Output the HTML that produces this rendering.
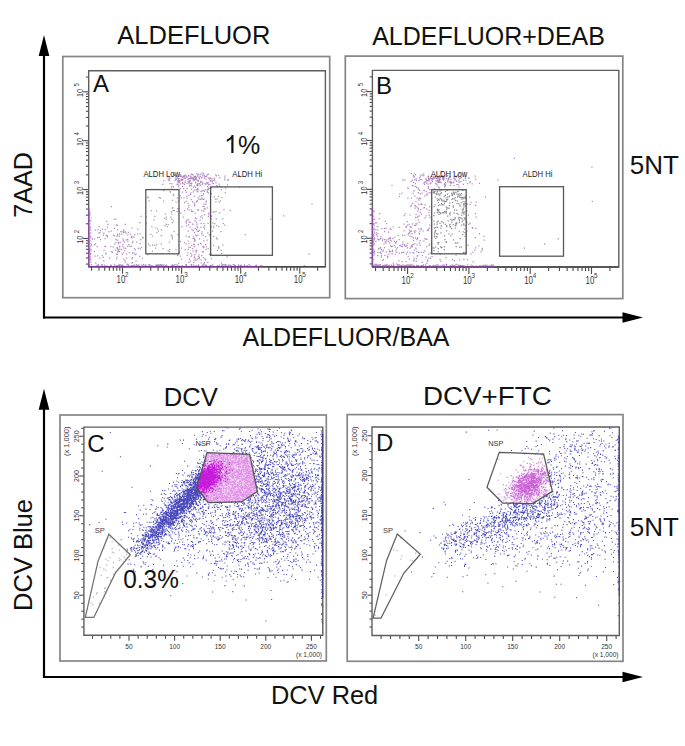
<!DOCTYPE html>
<html><head><meta charset="utf-8"><style>
html,body{margin:0;padding:0;background:#fff;width:685px;height:746px;overflow:hidden}
svg{display:block}
text{font-family:"Liberation Sans",sans-serif}
</style></head><body>
<svg width="685" height="746" viewBox="0 0 685 746">
<defs>
<radialGradient id="gD" cx="0.5" cy="0.5" r="0.5"><stop offset="0" stop-color="#e8a8ee" stop-opacity="0.9"/><stop offset="1" stop-color="#f4d8f6" stop-opacity="0"/></radialGradient>
</defs>
<polygon points="207,452.7 249.7,454.3 257.3,491.5 241.5,501.9 208,502.5 196.6,487.7" fill="#f3d2f5"/>
<ellipse cx="529" cy="485" rx="24" ry="16" transform="rotate(-30 529 485)" fill="url(#gD)"/>
<g><path d="M157.9 231.0h1.2M162.5 248.7h1.2M149.4 245.5h1.2M150.3 234.4h1.2M148.0 243.8h1.2M173.2 195.9h1.2M163.0 190.5h1.2M169.6 191.7h1.2M225.1 188.0h1.2M220.7 189.6h1.2M239.0 187.1h1.2M211.3 187.6h1.2M171.8 208.1h1.2M172.4 210.7h1.2M171.8 222.7h1.2M178.4 208.3h1.2M173.8 210.7h1.2M175.4 249.6h1.2M178.8 211.2h1.2M178.7 252.1h1.2M210.9 226.5h1.2M229.6 210.3h1.2M221.0 253.3h1.2M212.9 227.8h1.2M213.3 226.0h1.2M213.5 211.8h1.2M213.1 236.3h1.2M224.2 225.0h1.2M214.1 223.6h1.2M216.1 225.6h1.2M210.9 193.5h1.2M220.2 231.6h1.2M212.0 231.2h1.2M224.7 192.7h1.2M171.8 238.8h1.2M169.0 249.7h1.2M147.7 197.6h1.2M170.5 235.2h1.2M176.6 211.5h1.2M154.2 245.4h1.2M172.8 194.3h1.2M164.7 214.0h1.2M154.2 216.3h1.2M177.3 234.5h1.2M175.4 202.1h1.2M171.7 237.3h1.2M147.1 197.2h1.2M167.6 224.6h1.2M160.8 244.1h1.2M155.2 227.9h1.2M173.4 231.3h1.2M152.2 236.2h1.2M150.8 210.5h1.2M165.7 217.0h1.2M166.6 226.7h1.2M171.2 214.0h1.2M156.0 210.8h1.2M167.5 250.9h1.2M169.7 192.1h1.2M176.9 208.7h1.2M177.8 201.3h1.2M170.4 217.1h1.2M156.0 244.7h1.2M160.7 229.8h1.2M155.1 248.1h1.2M158.8 197.5h1.2M151.9 251.1h1.2M168.7 242.1h1.2M151.9 245.1h1.2M171.2 219.1h1.2M159.8 198.1h1.2M160.8 235.5h1.2M176.7 198.0h1.2M168.8 251.5h1.2M148.5 200.8h1.2M172.7 220.8h1.2M165.4 219.3h1.2M171.7 200.3h1.2M163.1 201.0h1.2M164.1 218.4h1.2M170.9 211.8h1.2M165.7 224.3h1.2M151.3 226.5h1.2M171.3 235.9h1.2M157.1 229.0h1.2M153.4 219.8h1.2M164.5 225.6h1.2M156.3 232.5h1.2M172.2 207.5h1.2M222.3 245.0h1.2M220.6 250.3h1.2M214.7 199.0h1.2M215.3 201.8h1.2M217.7 196.5h1.2M219.8 200.9h1.2M213.0 245.3h1.2M216.6 239.2h1.2M215.9 237.8h1.2M215.3 211.6h1.2M211.1 216.1h1.2M219.1 212.8h1.2M213.7 196.9h1.2M222.6 223.4h1.2M218.2 226.5h1.2M218.4 247.3h1.2M218.3 248.3h1.2M221.2 197.7h1.2M216.8 250.4h1.2M218.6 201.8h1.2M217.7 246.7h1.2M216.4 199.1h1.2M222.2 218.9h1.2M223.3 209.5h1.2M212.3 222.9h1.2M210.6 254.0h1.2M270.0 219.1h1.2M212.5 212.1h1.2M244.6 234.5h1.2M215.7 219.1h1.2" stroke="#404048" stroke-opacity="0.5" stroke-width="1.25" fill="none"/>
<path d="M93.8 251.7h1.2M139.5 243.7h1.2M103.2 260.5h1.2M113.6 219.4h1.2M116.7 248.6h1.2M105.4 253.1h1.2M94.7 230.1h1.2M124.1 242.2h1.2M134.5 254.5h1.2M105.1 246.7h1.2M133.3 236.9h1.2M110.1 246.7h1.2M117.0 252.2h1.2M131.4 258.6h1.2M96.6 246.6h1.2M127.8 232.4h1.2M141.8 237.3h1.2M140.5 216.4h1.2M112.9 235.2h1.2M133.3 252.8h1.2M90.4 249.6h1.2M115.3 242.7h1.2M125.6 239.9h1.2M95.2 263.0h1.2M116.6 247.4h1.2M147.3 254.9h1.2M131.2 236.0h1.2M132.1 262.7h1.2M101.7 229.1h1.2M97.4 229.6h1.2M94.0 238.9h1.2M127.2 235.2h1.2M130.8 237.3h1.2M106.8 236.8h1.2M97.1 255.8h1.2M122.4 244.7h1.2M123.3 248.2h1.2M115.8 224.9h1.2M139.6 233.8h1.2M116.4 257.0h1.2M116.9 229.6h1.2M99.2 258.1h1.2M120.3 231.6h1.2M140.9 247.6h1.2M119.0 233.8h1.2M119.2 246.4h1.2M125.4 233.2h1.2M122.7 240.9h1.2M127.0 264.1h1.2M127.1 239.5h1.2M104.5 238.5h1.2M123.1 229.9h1.2M90.8 244.9h1.2M122.5 239.1h1.2M96.6 265.1h1.2M116.8 254.3h1.2M126.1 258.2h1.2M110.9 251.6h1.2M90.1 253.5h1.2M103.4 250.4h1.2M129.7 234.0h1.2M98.4 233.1h1.2M129.1 246.2h1.2M94.4 256.0h1.2M102.6 257.4h1.2M99.4 232.7h1.2M118.1 250.4h1.2M127.1 246.3h1.2M99.9 230.6h1.2M114.9 250.1h1.2M145.6 216.8h1.2M112.6 247.2h1.2M124.6 231.8h1.2M114.2 244.2h1.2M106.1 221.3h1.2M131.9 253.1h1.2M108.3 231.5h1.2M118.0 243.6h1.2M99.9 239.7h1.2M140.1 239.5h1.2M130.7 246.3h1.2M134.7 249.8h1.2M116.1 258.8h1.2M126.0 254.0h1.2M133.1 237.2h1.2M135.4 261.0h1.2M123.3 259.0h1.2M116.9 225.3h1.2M111.9 252.0h1.2M105.3 253.9h1.2M101.6 255.6h1.2M124.1 250.6h1.2M113.8 228.4h1.2M115.4 219.2h1.2M136.1 242.1h1.2M115.9 254.0h1.2M131.3 237.8h1.2M121.4 231.8h1.2M110.7 231.2h1.2M116.3 236.3h1.2M131.8 257.7h1.2M124.7 224.3h1.2M131.3 228.2h1.2M142.7 237.9h1.2M131.9 242.8h1.2M119.5 242.4h1.2M106.9 227.2h1.2M104.2 246.3h1.2M117.6 242.4h1.2M137.7 248.3h1.2M123.1 231.0h1.2M118.9 246.9h1.2M122.4 246.6h1.2M118.6 236.1h1.2M127.3 241.4h1.2M98.9 237.3h1.2M110.8 206.6h1.2M98.5 226.6h1.2M145.5 223.5h1.2M115.3 239.5h1.2M113.7 235.9h1.2M91.9 239.1h1.2M122.8 252.6h1.2M107.4 224.4h1.2M137.1 233.9h1.2M132.3 241.3h1.2M104.8 229.6h1.2M125.0 248.4h1.2M106.6 235.5h1.2M139.2 222.7h1.2M131.4 263.2h1.2M121.0 249.7h1.2M117.5 249.1h1.2M93.9 244.9h1.2M94.9 243.9h1.2M121.8 254.0h1.2M128.7 252.5h1.2M128.2 244.7h1.2M134.2 234.7h1.2M103.2 233.1h1.2M109.0 258.0h1.2M118.8 251.6h1.2M97.1 237.7h1.2M103.0 235.1h1.2M116.8 248.8h1.2M124.4 260.6h1.2M117.6 251.2h1.2M119.3 249.2h1.2M105.7 235.1h1.2M137.1 229.0h1.2M117.1 235.1h1.2M116.6 240.2h1.2M133.9 248.5h1.2M139.1 256.3h1.2M139.6 248.9h1.2M124.9 262.3h1.2M117.1 234.1h1.2M121.0 234.3h1.2M141.8 258.0h1.2M123.0 232.7h1.2M198.8 178.7h1.2M194.7 178.5h1.2M201.2 177.8h1.2M204.5 176.5h1.2M191.0 183.8h1.2M193.1 177.2h1.2M197.3 180.8h1.2M175.7 179.5h1.2M183.8 184.3h1.2M171.3 183.7h1.2M194.1 179.7h1.2M204.4 183.7h1.2M181.9 177.1h1.2M184.1 176.7h1.2M207.7 178.1h1.2M187.4 179.3h1.2M171.5 186.3h1.2M179.7 188.6h1.2M179.2 181.9h1.2M179.7 176.5h1.2M203.5 178.1h1.2M195.0 182.2h1.2M186.4 183.4h1.2M178.1 186.7h1.2M177.1 176.8h1.2M172.9 174.1h1.2M218.5 184.2h1.2M189.7 178.9h1.2M202.1 183.7h1.2M206.2 182.9h1.2M188.6 183.1h1.2M201.5 184.7h1.2M201.6 172.9h1.2M197.1 180.0h1.2M224.4 176.1h1.2M198.0 181.1h1.2M190.8 185.9h1.2M203.0 173.6h1.2M218.9 185.9h1.2M207.9 184.9h1.2M187.3 179.5h1.2M182.0 186.5h1.2M181.0 179.0h1.2M184.7 175.2h1.2M199.4 176.0h1.2M205.8 176.5h1.2M162.2 184.4h1.2M193.7 180.0h1.2M178.5 178.5h1.2M203.6 175.5h1.2M206.8 174.9h1.2M183.1 188.6h1.2M187.7 175.9h1.2M180.7 197.5h1.2M199.5 185.1h1.2M171.5 176.5h1.2M178.2 179.1h1.2M184.4 182.5h1.2M211.2 180.9h1.2M227.6 179.6h1.2M194.3 179.5h1.2M176.8 184.1h1.2M195.0 176.3h1.2M181.8 183.6h1.2M200.4 191.6h1.2M178.4 182.3h1.2M188.8 180.7h1.2M193.8 176.5h1.2M201.3 190.8h1.2M192.9 180.5h1.2M211.7 182.8h1.2M195.7 179.7h1.2M168.6 180.7h1.2M206.9 186.7h1.2M189.9 176.1h1.2M184.6 181.2h1.2M215.1 174.9h1.2M180.1 174.8h1.2M195.0 176.8h1.2M184.0 175.5h1.2M212.9 183.5h1.2M188.9 185.3h1.2M197.3 185.3h1.2M174.5 180.1h1.2M214.1 179.2h1.2M179.0 180.5h1.2M206.7 183.1h1.2M209.6 181.1h1.2M211.3 178.9h1.2M219.4 177.5h1.2M177.6 182.6h1.2M199.6 176.5h1.2M195.9 177.3h1.2M199.9 182.5h1.2M209.4 180.9h1.2M195.5 178.6h1.2M182.6 176.3h1.2M192.6 174.9h1.2M215.5 182.9h1.2M177.5 180.3h1.2M195.1 182.9h1.2M180.3 175.5h1.2M209.5 177.7h1.2M170.9 187.5h1.2M189.2 178.3h1.2M192.3 177.6h1.2M195.6 178.1h1.2M227.1 180.4h1.2M215.8 175.9h1.2M179.6 183.9h1.2M224.2 177.9h1.2M177.3 181.3h1.2M167.8 180.0h1.2M173.0 186.9h1.2M196.8 183.8h1.2M201.5 177.2h1.2M200.1 174.0h1.2M190.3 192.8h1.2M203.9 175.6h1.2M188.6 182.1h1.2M206.6 189.4h1.2M201.9 182.1h1.2M177.6 178.6h1.2M214.2 180.8h1.2M197.0 183.8h1.2M204.2 176.8h1.2M211.7 181.2h1.2M180.4 179.8h1.2M192.8 178.9h1.2M182.5 176.5h1.2M180.8 180.2h1.2M197.7 189.6h1.2M198.8 183.6h1.2M212.6 180.3h1.2M213.4 178.1h1.2M193.7 177.2h1.2M182.3 179.7h1.2M238.8 175.9h1.2M224.1 179.6h1.2M192.5 178.8h1.2M181.0 176.5h1.2M188.1 181.6h1.2M197.9 180.7h1.2M209.8 180.7h1.2M207.6 182.5h1.2M200.1 181.4h1.2M190.5 174.2h1.2M196.4 173.4h1.2M189.7 180.8h1.2M195.0 187.4h1.2M192.6 187.2h1.2M201.4 182.2h1.2M167.6 178.2h1.2M189.2 181.2h1.2M189.9 183.4h1.2M178.2 181.3h1.2M191.6 179.1h1.2M179.3 174.6h1.2M184.7 175.2h1.2M189.9 183.3h1.2M190.5 176.8h1.2M186.0 176.2h1.2M209.4 184.4h1.2M196.8 185.5h1.2M198.5 183.6h1.2M197.3 176.2h1.2M184.6 178.5h1.2M181.6 180.3h1.2M205.8 182.9h1.2M189.1 185.9h1.2M169.2 177.8h1.2M163.2 180.6h1.2M197.1 188.6h1.2M183.7 176.1h1.2M193.1 180.4h1.2M186.3 177.3h1.2M188.3 183.2h1.2M191.6 174.5h1.2M176.5 184.4h1.2M193.7 177.9h1.2M207.8 174.1h1.2M203.7 175.4h1.2M175.2 178.1h1.2M175.3 179.1h1.2M190.5 176.8h1.2M206.0 176.4h1.2M198.5 177.7h1.2M169.4 183.7h1.2M194.8 179.2h1.2M205.3 179.0h1.2M187.7 181.6h1.2M184.9 178.2h1.2M210.4 178.6h1.2M226.9 184.9h1.2M176.1 178.2h1.2M189.5 185.2h1.2M202.0 175.0h1.2M169.0 179.1h1.2M201.9 175.2h1.2M198.0 174.3h1.2M188.1 175.8h1.2M182.3 183.3h1.2M186.6 188.4h1.2M189.8 177.8h1.2M176.2 176.2h1.2M216.1 186.1h1.2M178.5 178.6h1.2M188.0 175.7h1.2M184.7 178.5h1.2M188.2 178.6h1.2M195.3 177.0h1.2M183.4 178.0h1.2M190.7 178.0h1.2M218.1 175.5h1.2M208.8 178.9h1.2M190.0 178.6h1.2M206.7 174.8h1.2M183.2 175.8h1.2M197.2 174.9h1.2M174.0 175.4h1.2M178.0 185.0h1.2M181.9 182.3h1.2M197.2 180.6h1.2M205.9 246.9h1.2M187.7 219.7h1.2M205.5 201.8h1.2M186.3 220.4h1.2M210.1 255.5h1.2M210.9 258.5h1.2M197.2 191.8h1.2M191.0 189.0h1.2M203.6 206.7h1.2M191.2 183.1h1.2M207.2 262.4h1.2M203.1 246.5h1.2M186.9 208.9h1.2M205.2 184.6h1.2M192.9 236.8h1.2M193.1 244.2h1.2M191.2 254.8h1.2M194.3 254.4h1.2M200.5 243.9h1.2M204.0 228.8h1.2M204.0 214.7h1.2M192.1 248.5h1.2M207.2 232.8h1.2M188.9 259.2h1.2M193.6 246.5h1.2M183.9 202.6h1.2M207.8 192.9h1.2M198.3 183.7h1.2M197.0 189.4h1.2M194.5 213.1h1.2M205.0 259.8h1.2M190.7 210.0h1.2M199.7 185.5h1.2M194.3 220.5h1.2M189.5 227.2h1.2M185.6 236.0h1.2M203.9 191.3h1.2M196.5 226.1h1.2M188.2 207.0h1.2M187.4 203.3h1.2M196.1 185.2h1.2M185.7 223.1h1.2M216.9 186.8h1.2M193.9 190.2h1.2M194.0 232.5h1.2M194.9 235.1h1.2M177.6 254.6h1.2M181.2 259.0h1.2M192.2 224.0h1.2M195.6 251.3h1.2M183.4 197.9h1.2M200.4 259.9h1.2M208.8 188.4h1.2M207.6 248.5h1.2M193.6 196.3h1.2M220.3 186.6h1.2M197.1 227.5h1.2M176.9 255.4h1.2M195.9 201.9h1.2M204.6 208.9h1.2M196.5 201.9h1.2M192.8 191.8h1.2M201.5 197.8h1.2M203.2 247.6h1.2M185.5 201.3h1.2M198.9 238.8h1.2M199.5 220.2h1.2M206.8 192.2h1.2M208.0 213.2h1.2M205.7 201.1h1.2M188.2 247.0h1.2M203.2 257.5h1.2M206.6 240.1h1.2M196.2 224.2h1.2M203.3 263.8h1.2M203.5 199.0h1.2M207.7 189.7h1.2M196.6 200.7h1.2M200.6 223.4h1.2M197.8 244.7h1.2M196.4 191.0h1.2M189.6 261.2h1.2M192.4 224.4h1.2M184.5 249.9h1.2M193.8 241.0h1.2M202.6 190.5h1.2M201.9 251.6h1.2M203.2 211.1h1.2M194.6 228.4h1.2M209.6 234.7h1.2M191.1 211.7h1.2M203.4 204.1h1.2M199.9 217.0h1.2M188.2 243.7h1.2M188.7 237.2h1.2M203.2 223.7h1.2M196.1 250.6h1.2M198.4 199.0h1.2M226.5 256.8h1.2M201.4 215.9h1.2M196.9 184.8h1.2M203.1 227.4h1.2M189.7 222.2h1.2M194.0 205.6h1.2M200.2 227.4h1.2M187.6 241.1h1.2M195.4 260.7h1.2M193.9 186.0h1.2M196.8 231.2h1.2M178.1 263.0h1.2M194.9 258.8h1.2M201.3 210.9h1.2M185.4 244.2h1.2M182.7 217.0h1.2M196.0 235.8h1.2M192.5 238.6h1.2M202.3 195.0h1.2M186.5 198.2h1.2M185.9 225.8h1.2M199.1 196.2h1.2M202.8 251.8h1.2M205.0 236.5h1.2M195.5 189.7h1.2M198.4 254.8h1.2M187.8 249.4h1.2M208.9 254.4h1.2M207.2 183.5h1.2M206.8 191.0h1.2M179.7 195.6h1.2M204.6 190.2h1.2M188.5 236.7h1.2M200.7 262.8h1.2M200.0 243.4h1.2M207.9 188.2h1.2M193.8 257.5h1.2M192.3 211.4h1.2M185.6 221.5h1.2M183.9 242.6h1.2M201.5 231.9h1.2M186.6 255.3h1.2M202.4 199.3h1.2M191.9 201.8h1.2M190.0 194.3h1.2M205.2 204.0h1.2M204.2 225.9h1.2M185.8 192.4h1.2M193.9 256.0h1.2M195.5 250.3h1.2M202.3 246.5h1.2M188.3 262.4h1.2M191.4 229.6h1.2M194.4 240.5h1.2M202.5 206.4h1.2M204.5 259.1h1.2M190.2 253.3h1.2M199.8 199.0h1.2M187.6 231.2h1.2M180.1 213.1h1.2M190.6 199.7h1.2M197.4 235.0h1.2M201.1 255.7h1.2M208.2 214.8h1.2M200.5 199.4h1.2M192.7 230.6h1.2M202.5 235.1h1.2M187.3 252.8h1.2M201.7 218.1h1.2M196.0 229.4h1.2M190.5 256.4h1.2M195.7 222.2h1.2M216.2 185.6h1.2M191.1 245.7h1.2M186.4 196.4h1.2M197.9 231.3h1.2M198.8 257.3h1.2M201.2 233.5h1.2M209.9 254.7h1.2M194.8 218.2h1.2M181.8 192.2h1.2M195.9 218.5h1.2M195.7 252.0h1.2M205.2 204.3h1.2M203.9 262.5h1.2M188.2 195.2h1.2M203.2 240.9h1.2M205.5 249.3h1.2M193.7 202.9h1.2M205.0 244.7h1.2M197.2 259.0h1.2M197.3 210.4h1.2M194.1 204.7h1.2M203.6 208.8h1.2M197.8 256.6h1.2M183.9 210.7h1.2M193.2 262.4h1.2M189.7 247.3h1.2M198.8 230.3h1.2M194.2 239.6h1.2M220.9 263.1h1.2M203.0 193.6h1.2M188.5 209.8h1.2M193.5 260.1h1.2M197.0 191.7h1.2M180.1 256.1h1.2M181.4 226.6h1.2M192.5 251.2h1.2M193.8 238.5h1.2M193.8 244.7h1.2M188.6 222.0h1.2M180.9 248.2h1.2M197.7 209.7h1.2M197.4 197.8h1.2M184.9 190.7h1.2M179.9 241.3h1.2M188.4 205.3h1.2M198.5 258.7h1.2M201.1 195.7h1.2M188.0 224.9h1.2M208.6 234.9h1.2M207.5 223.3h1.2M210.6 218.5h1.2M207.8 216.6h1.2M206.9 207.8h1.2M311.4 203.9h1.2M283.0 215.8h1.2M308.5 254.2h1.2M135.5 253.8h1.2M303.7 265.6h1.2M459.1 259.8h1.2M445.2 257.6h1.2M456.3 264.3h1.2M439.6 254.3h1.2M452.1 259.6h1.2M440.3 261.4h1.2M455.5 255.0h1.2M460.0 265.5h1.2M446.1 264.3h1.2M443.7 178.2h1.2M430.8 178.1h1.2M458.6 178.9h1.2M439.6 179.3h1.2M456.2 181.4h1.2M429.8 177.1h1.2M443.4 178.8h1.2M425.9 180.0h1.2M428.6 179.1h1.2M460.4 181.6h1.2M438.2 181.4h1.2M439.9 177.4h1.2M453.9 178.3h1.2M427.4 180.7h1.2M474.7 176.0h1.2M428.1 178.4h1.2M434.6 178.1h1.2M478.7 183.4h1.2M411.9 185.3h1.2M471.6 183.9h1.2M448.0 178.0h1.2M450.2 182.3h1.2M423.3 183.1h1.2M444.2 176.1h1.2M419.6 179.7h1.2M458.4 187.1h1.2M437.0 180.4h1.2M430.0 183.1h1.2M432.8 177.8h1.2M438.4 182.3h1.2M457.8 176.0h1.2M447.3 181.2h1.2M427.9 176.0h1.2M426.0 179.6h1.2M423.2 175.7h1.2M454.5 176.1h1.2M449.1 182.1h1.2M421.8 175.0h1.2M412.9 182.4h1.2M439.7 182.1h1.2M430.8 176.4h1.2M449.7 181.5h1.2M438.5 179.8h1.2M454.4 180.0h1.2M458.4 177.7h1.2M436.8 177.7h1.2M452.7 171.9h1.2M430.7 178.3h1.2M419.8 176.8h1.2M444.2 183.6h1.2M460.9 177.4h1.2M464.6 178.0h1.2M439.2 177.6h1.2M410.8 173.5h1.2M445.8 178.7h1.2M436.6 181.0h1.2M450.8 182.1h1.2M458.5 180.9h1.2M432.7 176.4h1.2M428.0 178.7h1.2M433.4 178.4h1.2M428.4 179.7h1.2M423.1 173.9h1.2M443.7 184.9h1.2M427.4 184.2h1.2M435.1 183.4h1.2M434.3 176.8h1.2M429.5 183.9h1.2M450.2 179.5h1.2M432.0 181.5h1.2M438.4 178.2h1.2M453.4 185.6h1.2M437.3 178.8h1.2M415.0 174.5h1.2M431.7 178.3h1.2M431.6 180.6h1.2M450.4 183.3h1.2M467.9 178.0h1.2M443.0 180.0h1.2M437.4 182.5h1.2M464.4 175.9h1.2M427.8 186.5h1.2M444.7 184.6h1.2M447.7 178.8h1.2M438.7 179.8h1.2M436.4 185.0h1.2M442.6 179.1h1.2M465.3 180.2h1.2M449.2 176.7h1.2M429.5 178.9h1.2M444.4 176.0h1.2M455.9 180.9h1.2M469.7 181.7h1.2M453.2 182.4h1.2M442.8 178.0h1.2M463.0 180.1h1.2M454.6 179.1h1.2M442.0 177.9h1.2M428.3 180.8h1.2M455.6 177.4h1.2M421.4 179.6h1.2M412.5 186.2h1.2M448.2 179.0h1.2M413.5 176.5h1.2M417.5 188.2h1.2M436.0 178.3h1.2M435.4 180.8h1.2M440.3 173.0h1.2M442.1 176.5h1.2M448.2 179.3h1.2M437.5 177.9h1.2M425.3 181.9h1.2M391.4 185.4h1.2M460.2 178.2h1.2M452.4 182.9h1.2M449.6 185.3h1.2M438.7 182.1h1.2M424.1 182.0h1.2M447.1 175.7h1.2M437.8 181.2h1.2M416.0 187.4h1.2M456.3 184.5h1.2M414.8 183.5h1.2M431.6 178.2h1.2M468.6 178.3h1.2M425.2 178.8h1.2M441.8 178.9h1.2M456.7 175.4h1.2M438.8 175.5h1.2M414.9 186.3h1.2M430.4 182.9h1.2M437.8 186.8h1.2M413.3 177.0h1.2M462.8 184.3h1.2M444.0 186.9h1.2M450.6 183.7h1.2M443.1 176.9h1.2M444.9 185.8h1.2M432.4 179.4h1.2M413.6 190.8h1.2M449.8 177.0h1.2M439.0 178.7h1.2M464.9 177.1h1.2M418.8 178.0h1.2M441.1 175.8h1.2M475.2 179.1h1.2M415.7 178.8h1.2M418.2 180.6h1.2M442.1 175.8h1.2M467.0 183.7h1.2M418.2 189.4h1.2M439.3 179.7h1.2M435.1 176.0h1.2M428.8 179.3h1.2M433.9 189.3h1.2M458.9 173.7h1.2M440.5 182.7h1.2M415.8 180.5h1.2M427.6 176.6h1.2M439.7 176.6h1.2M414.3 179.6h1.2M426.3 180.7h1.2M431.1 180.2h1.2M402.3 180.1h1.2M469.4 182.6h1.2M410.5 181.4h1.2M439.0 181.1h1.2M435.0 177.2h1.2M427.7 177.0h1.2M458.4 182.3h1.2M438.9 187.8h1.2M423.7 190.1h1.2M457.7 184.8h1.2M447.2 180.4h1.2M420.3 175.2h1.2M412.0 180.4h1.2M452.9 178.1h1.2M435.5 183.8h1.2M413.1 175.7h1.2M447.2 181.8h1.2M413.5 173.9h1.2M426.1 183.1h1.2M424.0 184.4h1.2M404.2 180.2h1.2M449.6 182.2h1.2M497.4 179.9h1.2M448.8 177.6h1.2M444.9 182.6h1.2M402.2 242.0h1.2M379.7 238.7h1.2M390.7 246.5h1.2M384.0 239.5h1.2M416.6 256.2h1.2M380.8 257.1h1.2M409.5 226.5h1.2M412.8 237.8h1.2M430.0 258.0h1.2M391.9 250.3h1.2M395.4 242.7h1.2M396.0 241.3h1.2M386.7 256.2h1.2M416.7 217.4h1.2M419.3 231.1h1.2M387.3 257.7h1.2M408.5 224.3h1.2M377.3 239.0h1.2M382.0 260.3h1.2M392.2 238.6h1.2M391.6 246.3h1.2M389.2 243.0h1.2M389.8 251.6h1.2M384.5 241.9h1.2M375.6 264.4h1.2M385.4 239.8h1.2M398.4 260.9h1.2M391.8 251.5h1.2M424.1 251.0h1.2M373.1 224.0h1.2M384.8 221.3h1.2M404.0 244.5h1.2M386.3 241.1h1.2M393.8 241.4h1.2M401.7 261.7h1.2M389.8 240.3h1.2M378.6 239.7h1.2M383.8 247.6h1.2M379.4 252.7h1.2M414.9 238.2h1.2M397.5 235.3h1.2M395.1 243.0h1.2M409.4 236.1h1.2M376.8 236.0h1.2M398.7 253.0h1.2M406.3 245.3h1.2M389.8 228.7h1.2M380.8 249.6h1.2M384.3 255.3h1.2M399.6 245.2h1.2M415.5 214.4h1.2M381.3 228.5h1.2M412.9 240.5h1.2M393.7 245.4h1.2M418.5 252.8h1.2M374.1 238.9h1.2M403.8 245.2h1.2M390.5 229.4h1.2M382.3 251.2h1.2M403.2 252.4h1.2M388.0 241.4h1.2M380.9 255.6h1.2M388.2 239.0h1.2M380.2 236.5h1.2M388.1 239.1h1.2M406.6 221.7h1.2M389.9 245.5h1.2M380.3 238.3h1.2M402.0 244.4h1.2M386.0 223.5h1.2M377.4 252.6h1.2M374.0 251.6h1.2M416.2 239.5h1.2M389.6 237.3h1.2M414.1 243.8h1.2M377.2 255.5h1.2M376.1 222.9h1.2M415.6 261.4h1.2M387.5 238.9h1.2M388.4 254.1h1.2M387.9 232.2h1.2M405.6 246.7h1.2M401.9 235.2h1.2M375.8 234.8h1.2M428.3 258.2h1.2M401.4 252.7h1.2M406.9 247.9h1.2M396.1 249.1h1.2M382.1 239.0h1.2M378.7 218.7h1.2M379.1 213.5h1.2M402.9 252.0h1.2M391.7 251.0h1.2M384.0 231.7h1.2M382.5 250.7h1.2M381.9 240.9h1.2M383.4 244.1h1.2M387.1 256.3h1.2M374.7 222.9h1.2M378.1 248.3h1.2M390.6 241.2h1.2M399.2 245.8h1.2M384.0 228.7h1.2M410.8 245.7h1.2M380.2 252.0h1.2M391.5 253.9h1.2M407.5 234.6h1.2M394.6 254.2h1.2M379.8 247.7h1.2M396.2 252.4h1.2M385.4 243.2h1.2M407.0 252.0h1.2M402.0 246.3h1.2M398.6 239.7h1.2M415.8 258.5h1.2M407.2 243.3h1.2M403.4 224.0h1.2M388.6 249.8h1.2M382.9 259.6h1.2M380.5 253.5h1.2M405.8 253.8h1.2M375.9 232.9h1.2M397.0 247.6h1.2M413.9 225.4h1.2M396.3 263.9h1.2M377.2 229.9h1.2M389.4 238.4h1.2M398.6 227.4h1.2M377.3 233.7h1.2M385.5 228.1h1.2M394.2 237.4h1.2M385.7 251.9h1.2M377.7 239.8h1.2M401.0 252.9h1.2M375.3 241.3h1.2M392.7 226.9h1.2M421.8 255.7h1.2M384.1 228.5h1.2M390.0 238.7h1.2M376.8 226.6h1.2M382.6 250.1h1.2M375.2 229.7h1.2M395.2 250.9h1.2M380.1 248.0h1.2M404.5 213.9h1.2M404.4 245.8h1.2M388.7 251.6h1.2M378.3 249.0h1.2M429.0 206.7h1.2M427.7 188.4h1.2M417.9 252.3h1.2M407.1 188.1h1.2M417.7 208.1h1.2M425.5 239.4h1.2M401.5 193.2h1.2M419.8 193.8h1.2M402.0 235.2h1.2M428.7 228.2h1.2M426.5 195.0h1.2M414.7 206.2h1.2M425.7 191.3h1.2M430.7 218.0h1.2M431.5 256.6h1.2M428.5 215.4h1.2M409.6 252.6h1.2M417.7 192.6h1.2M422.9 252.3h1.2M419.0 190.4h1.2M400.8 246.4h1.2M417.0 237.6h1.2M412.1 203.3h1.2M420.5 203.6h1.2M421.7 262.4h1.2M405.4 226.3h1.2M411.6 245.0h1.2M420.0 198.6h1.2M409.0 230.1h1.2M418.2 228.8h1.2M410.8 198.0h1.2M412.0 223.8h1.2M426.5 239.1h1.2M417.2 211.1h1.2M413.4 258.2h1.2M415.5 248.8h1.2M418.1 198.9h1.2M418.6 233.2h1.2M424.2 238.6h1.2M426.3 263.3h1.2M415.0 217.4h1.2M426.1 209.2h1.2M428.7 210.3h1.2M407.7 188.3h1.2M422.4 230.8h1.2M433.4 188.8h1.2M420.7 204.7h1.2M439.5 259.7h1.2M412.3 252.3h1.2M428.1 254.1h1.2M423.4 190.6h1.2M409.0 232.9h1.2M427.8 229.2h1.2M407.0 225.2h1.2M412.6 244.3h1.2M417.7 219.6h1.2M407.6 256.4h1.2M429.3 217.2h1.2M414.5 208.1h1.2M407.3 198.2h1.2M421.0 228.5h1.2M418.5 200.2h1.2M408.7 258.9h1.2M413.6 231.2h1.2M426.8 230.4h1.2M426.1 246.6h1.2M404.2 235.4h1.2M427.5 193.1h1.2M427.6 230.5h1.2M429.2 244.1h1.2M414.3 196.1h1.2M411.7 246.6h1.2M417.8 209.0h1.2M412.8 260.8h1.2M416.4 198.2h1.2M413.3 190.8h1.2M416.1 206.9h1.2M414.2 232.6h1.2M419.1 197.9h1.2M420.2 209.7h1.2M416.4 224.1h1.2M413.8 250.1h1.2M427.2 261.3h1.2M423.2 241.0h1.2M410.7 227.3h1.2M424.5 217.8h1.2M417.3 216.4h1.2M424.2 196.1h1.2M420.8 252.3h1.2M418.9 234.1h1.2M409.5 214.8h1.2M428.5 245.4h1.2M429.2 225.2h1.2M430.9 253.5h1.2M394.9 247.1h1.2M410.1 231.3h1.2M411.2 245.5h1.2M403.6 215.6h1.2M419.7 212.3h1.2M424.5 204.9h1.2M428.3 212.3h1.2M426.8 259.9h1.2M418.6 222.1h1.2M420.7 214.0h1.2M392.7 263.0h1.2M415.4 223.5h1.2M411.4 233.6h1.2M421.3 204.7h1.2M414.3 205.1h1.2M415.2 248.1h1.2M430.7 189.7h1.2M411.1 236.5h1.2M405.5 261.6h1.2M420.2 229.2h1.2M423.9 207.5h1.2M416.9 238.5h1.2M417.9 192.8h1.2M412.5 193.3h1.2M405.8 227.4h1.2M410.9 205.2h1.2M408.1 233.4h1.2M429.0 189.6h1.2M415.4 201.6h1.2M430.7 192.8h1.2M416.5 244.8h1.2M409.4 248.4h1.2M419.5 240.6h1.2M419.6 245.3h1.2M429.9 253.1h1.2M399.2 193.8h1.2M413.8 259.8h1.2M421.4 193.1h1.2M410.8 231.1h1.2M418.8 243.0h1.2M415.1 230.8h1.2M430.8 226.1h1.2M429.3 192.6h1.2M398.9 196.3h1.2M403.6 230.8h1.2M410.5 247.2h1.2M417.1 255.6h1.2M416.3 251.5h1.2M413.1 253.2h1.2M423.3 207.8h1.2M425.7 194.3h1.2M418.7 215.8h1.2M415.1 225.3h1.2M418.2 204.4h1.2M410.2 206.3h1.2M425.4 215.9h1.2M425.4 257.0h1.2M409.4 231.9h1.2M467.4 245.4h1.2M469.6 204.4h1.2M474.1 250.1h1.2M475.2 228.3h1.2M453.9 260.6h1.2M466.9 259.5h1.2M478.9 233.5h1.2M472.1 228.3h1.2M478.3 246.2h1.2M483.7 240.1h1.2M463.3 259.3h1.2M474.8 237.5h1.2M469.1 197.2h1.2M475.2 247.8h1.2M469.4 223.3h1.2M466.4 231.0h1.2M466.4 222.7h1.2M481.4 250.0h1.2M475.0 205.4h1.2M465.0 254.3h1.2M466.3 210.9h1.2M472.6 261.9h1.2M466.9 204.2h1.2M485.0 197.1h1.2M480.4 251.9h1.2M474.7 213.5h1.2M481.8 248.3h1.2M468.1 224.4h1.2M481.6 249.9h1.2M475.5 202.2h1.2M470.4 253.9h1.2M472.3 252.1h1.2M470.5 202.4h1.2M467.9 215.1h1.2M483.5 236.3h1.2M475.6 217.1h1.2M591.3 167.2h1.2M471.7 227.5h1.2M591.7 201.3h1.2M513.8 158.4h1.2" stroke="#8a4aa2" stroke-opacity="0.66" stroke-width="1.25" fill="none"/>
<path d="M161.5 265.9h1.2M212.0 264.8h1.2M104.0 265.2h1.2M260.8 266.2h1.2M176.5 265.0h1.2M150.7 265.6h1.2M209.4 265.7h1.2M162.9 266.1h1.2M186.5 266.1h1.2M179.2 266.1h1.2M217.1 265.5h1.2M166.4 266.1h1.2M97.9 264.6h1.2M248.3 264.6h1.2M239.7 265.7h1.2M156.7 265.5h1.2M203.6 265.2h1.2M206.0 265.7h1.2M201.5 265.9h1.2M217.2 266.2h1.2M110.7 265.7h1.2M136.7 265.7h1.2M196.1 265.6h1.2M233.8 265.3h1.2M210.7 265.3h1.2M120.0 264.9h1.2M130.6 265.6h1.2M203.3 265.1h1.2M233.3 264.5h1.2M185.8 266.1h1.2M164.9 265.5h1.2M117.6 265.6h1.2M106.5 265.8h1.2M142.4 265.0h1.2M212.2 265.2h1.2M118.3 266.2h1.2M163.4 264.9h1.2M255.7 265.1h1.2M230.5 266.1h1.2M243.9 264.9h1.2M190.8 264.7h1.2M222.9 264.8h1.2M176.3 264.8h1.2M157.7 264.9h1.2M221.8 264.5h1.2M185.3 264.6h1.2M145.4 265.6h1.2M198.0 265.7h1.2M255.6 265.7h1.2M102.0 265.3h1.2M155.0 265.3h1.2M193.5 265.9h1.2M246.8 265.6h1.2M158.2 265.8h1.2M122.5 266.0h1.2M119.0 265.5h1.2M169.9 266.1h1.2M148.4 265.4h1.2M97.7 265.9h1.2M132.3 265.6h1.2M255.2 266.1h1.2M160.6 265.6h1.2M161.6 264.8h1.2M128.0 265.6h1.2M156.1 264.9h1.2M185.6 265.9h1.2M121.1 266.2h1.2M190.9 265.9h1.2M234.7 265.3h1.2M165.8 265.2h1.2M123.5 266.0h1.2M148.6 264.7h1.2M255.0 265.7h1.2M192.6 264.9h1.2M233.1 264.7h1.2M241.2 266.0h1.2M185.9 264.7h1.2M205.0 265.0h1.2M159.2 265.3h1.2M149.3 264.9h1.2M171.5 265.9h1.2M156.7 266.2h1.2M185.7 264.6h1.2M259.8 266.0h1.2M227.4 265.2h1.2M244.2 265.6h1.2M134.3 265.3h1.2M144.9 265.2h1.2M255.8 265.2h1.2M155.6 265.8h1.2M185.8 264.9h1.2M95.7 266.1h1.2M243.6 265.9h1.2M224.2 264.8h1.2M225.2 264.5h1.2M110.4 265.1h1.2M113.9 264.9h1.2M160.4 264.7h1.2M241.1 265.8h1.2M101.4 264.6h1.2M100.6 265.1h1.2M219.0 265.0h1.2M224.8 265.8h1.2M177.5 266.1h1.2M172.7 265.4h1.2M118.4 265.2h1.2M120.9 265.1h1.2M114.5 265.4h1.2M133.4 265.0h1.2M238.0 265.7h1.2M190.4 264.6h1.2M195.1 266.0h1.2M259.8 265.9h1.2M145.2 264.9h1.2M174.4 264.5h1.2M230.3 265.7h1.2M198.1 264.8h1.2M138.1 265.2h1.2M121.9 265.1h1.2M151.5 265.4h1.2M144.4 266.0h1.2M110.0 265.1h1.2M144.4 265.8h1.2M131.5 265.5h1.2M232.7 264.7h1.2M117.3 265.7h1.2M177.3 265.9h1.2M221.3 265.3h1.2M141.0 265.2h1.2M121.4 265.8h1.2M195.9 265.7h1.2M159.3 264.9h1.2M173.8 266.0h1.2M104.9 266.0h1.2M260.9 265.8h1.2M126.5 264.9h1.2M221.9 266.1h1.2M259.6 265.8h1.2M143.0 264.6h1.2M261.5 265.9h1.2M148.5 265.4h1.2M171.7 264.5h1.2M171.7 264.8h1.2M148.1 264.9h1.2M136.2 265.6h1.2M118.7 264.7h1.2M229.4 264.9h1.2M135.9 264.7h1.2M157.8 265.4h1.2M156.4 264.8h1.2M202.0 264.9h1.2M116.1 266.0h1.2M233.7 265.9h1.2M113.8 264.9h1.2M201.2 266.1h1.2M240.5 265.1h1.2M138.3 264.8h1.2M137.6 265.6h1.2M228.2 265.5h1.2M205.4 265.4h1.2M116.5 266.1h1.2M120.7 265.1h1.2M249.5 265.5h1.2M237.9 264.9h1.2M181.7 265.7h1.2M225.2 265.7h1.2M157.9 265.1h1.2M90.8 264.5h1.2M138.4 265.1h1.2M128.2 264.8h1.2M406.2 265.9h1.2M385.6 264.8h1.2M416.1 265.3h1.2M480.0 265.8h1.2M459.1 266.1h1.2M483.4 265.1h1.2M394.8 266.4h1.2M421.0 265.8h1.2M487.5 266.4h1.2M387.5 265.6h1.2M412.9 266.2h1.2M461.1 265.8h1.2M408.1 265.6h1.2M475.5 265.8h1.2M486.4 265.1h1.2M381.6 265.5h1.2M399.3 266.2h1.2M437.5 265.0h1.2M462.6 265.6h1.2M411.2 264.9h1.2M412.7 265.3h1.2M395.6 266.3h1.2M476.2 266.3h1.2M482.1 265.8h1.2M390.8 265.0h1.2M428.9 265.5h1.2M397.0 264.7h1.2M408.8 266.2h1.2M417.6 265.7h1.2M449.3 266.1h1.2M384.6 265.3h1.2M485.3 266.0h1.2M466.9 264.8h1.2M378.3 264.8h1.2M374.9 265.8h1.2M453.8 265.7h1.2M443.5 266.1h1.2M432.3 265.8h1.2M451.7 265.1h1.2M462.7 266.2h1.2M460.4 266.1h1.2M486.4 265.4h1.2M422.4 266.2h1.2M422.6 266.1h1.2M398.6 264.8h1.2M375.1 265.0h1.2M480.5 265.8h1.2M410.6 265.3h1.2M421.8 265.6h1.2M459.1 265.3h1.2M406.4 266.0h1.2M409.9 266.1h1.2M443.5 265.8h1.2M457.8 265.4h1.2M459.0 266.3h1.2M422.8 264.9h1.2M442.3 265.0h1.2M376.9 264.8h1.2M472.0 266.1h1.2M408.3 264.9h1.2M377.8 266.0h1.2M413.2 265.9h1.2M391.4 265.9h1.2M399.2 265.3h1.2M484.8 265.3h1.2M457.9 266.0h1.2M425.2 265.1h1.2M450.1 265.4h1.2M443.8 265.2h1.2M405.9 265.3h1.2M434.6 266.2h1.2M408.4 265.5h1.2M375.9 265.6h1.2M488.7 265.9h1.2M436.7 264.8h1.2M397.7 265.2h1.2M438.4 266.1h1.2M453.3 265.4h1.2M402.5 265.0h1.2M424.8 264.8h1.2M382.5 265.5h1.2M406.8 264.9h1.2M429.9 265.9h1.2M483.0 265.5h1.2M492.5 265.7h1.2M412.7 266.2h1.2M409.7 264.9h1.2M376.1 266.0h1.2M373.1 265.5h1.2M445.8 264.8h1.2M479.5 265.9h1.2M432.9 265.3h1.2M450.0 266.0h1.2M426.9 266.3h1.2M393.2 264.7h1.2M492.6 264.8h1.2M491.1 265.7h1.2M417.9 265.7h1.2M404.9 265.5h1.2M451.8 266.1h1.2M409.5 265.9h1.2M472.5 265.8h1.2M404.2 265.4h1.2M403.5 266.0h1.2M400.2 265.9h1.2M386.9 264.9h1.2M435.9 265.0h1.2M478.7 265.8h1.2M413.6 266.0h1.2M378.6 266.2h1.2M383.6 265.1h1.2M440.3 265.9h1.2M401.2 265.4h1.2M390.7 265.2h1.2M388.9 265.3h1.2M400.6 266.1h1.2M385.9 265.5h1.2M490.1 266.0h1.2M379.8 264.7h1.2M482.7 265.8h1.2M463.8 266.2h1.2M395.8 266.4h1.2M445.9 266.0h1.2M414.0 266.3h1.2M420.3 265.7h1.2M417.0 265.8h1.2M464.4 266.3h1.2M393.3 266.0h1.2M461.7 266.3h1.2M397.6 265.7h1.2M434.1 266.4h1.2M490.7 264.8h1.2M434.6 265.7h1.2M379.4 265.3h1.2M411.1 264.8h1.2M441.9 265.1h1.2M392.7 265.8h1.2M455.1 264.8h1.2M462.4 265.5h1.2M470.6 265.2h1.2" stroke="#8040a0" stroke-opacity="0.6" stroke-width="1.25" fill="none"/>
<path d="M89.9 227.5h1.2M89.4 212.2h1.2M89.3 220.8h1.2M89.6 248.2h1.2M89.8 256.4h1.2M89.1 265.3h1.2M90.4 259.5h1.2M89.3 252.4h1.2M89.6 257.9h1.2M89.4 258.7h1.2M90.4 245.8h1.2M90.3 238.6h1.2M89.3 248.6h1.2M90.3 250.8h1.2M89.9 213.9h1.2M89.5 257.1h1.2M90.4 237.1h1.2M90.1 240.9h1.2M89.3 233.9h1.2M90.5 217.7h1.2M90.0 258.6h1.2M90.0 246.0h1.2M89.7 223.8h1.2M89.6 230.0h1.2M89.0 237.0h1.2M90.1 221.0h1.2M89.9 243.3h1.2M90.1 235.8h1.2M89.6 253.4h1.2M90.2 254.5h1.2M89.2 250.8h1.2M90.5 237.2h1.2M90.2 241.0h1.2M89.6 226.6h1.2M90.0 228.1h1.2M89.2 215.4h1.2M89.9 260.3h1.2M90.4 229.9h1.2M90.1 232.5h1.2M90.1 236.3h1.2M90.1 262.4h1.2M89.2 248.1h1.2M89.4 256.0h1.2M90.1 220.1h1.2M89.2 220.5h1.2M373.7 229.1h1.2M373.1 211.1h1.2M373.1 216.0h1.2M373.1 219.3h1.2M374.1 219.0h1.2M373.1 242.7h1.2M373.5 243.8h1.2M373.0 234.7h1.2M373.8 232.5h1.2M374.1 264.1h1.2M373.0 249.5h1.2M373.3 259.3h1.2M373.1 241.4h1.2M373.6 233.3h1.2M372.9 254.9h1.2M373.9 244.1h1.2M373.9 211.4h1.2M373.7 264.7h1.2M373.6 235.5h1.2M373.1 244.0h1.2M373.3 236.1h1.2M373.6 240.0h1.2M373.6 231.0h1.2M373.2 229.3h1.2M373.6 255.2h1.2M373.5 250.8h1.2M374.2 253.6h1.2M373.8 225.4h1.2M373.2 251.3h1.2M373.0 252.5h1.2M373.1 265.5h1.2M374.0 253.4h1.2M374.1 233.0h1.2M373.1 238.5h1.2M373.5 228.2h1.2M373.0 211.5h1.2M373.7 219.6h1.2M373.1 245.1h1.2M373.4 239.8h1.2M373.3 228.9h1.2M373.9 244.1h1.2M373.0 236.1h1.2M373.5 231.1h1.2M373.8 237.6h1.2M373.3 223.7h1.2" stroke="#8040a0" stroke-opacity="0.45" stroke-width="1.25" fill="none"/>
<path d="M436.9 191.0h1.2M464.7 198.7h1.2M453.6 193.0h1.2M447.6 220.9h1.2M449.6 212.8h1.2M454.8 242.9h1.2M459.3 194.0h1.2M453.4 212.8h1.2M457.5 214.3h1.2M433.8 191.5h1.2M438.4 194.5h1.2M464.1 197.6h1.2M460.7 202.9h1.2M446.8 190.3h1.2M445.7 211.1h1.2M437.8 248.6h1.2M436.6 222.0h1.2M447.1 199.3h1.2M436.6 191.5h1.2M458.6 231.2h1.2M452.2 194.1h1.2M444.8 224.4h1.2M461.2 215.4h1.2M439.6 198.3h1.2M437.0 227.4h1.2M439.2 204.8h1.2M461.6 197.3h1.2M437.7 221.0h1.2M435.5 236.3h1.2M453.8 193.3h1.2M454.6 197.5h1.2M441.4 200.8h1.2M446.9 194.0h1.2M446.4 199.7h1.2M453.9 199.1h1.2M462.6 209.9h1.2M464.4 236.3h1.2M438.3 193.8h1.2M444.8 201.5h1.2M452.6 224.7h1.2M462.7 231.9h1.2M438.7 200.0h1.2M433.1 192.6h1.2M455.3 223.6h1.2M457.9 194.3h1.2M433.5 248.2h1.2M433.5 221.1h1.2M457.0 191.5h1.2M450.1 235.8h1.2M441.4 247.3h1.2M451.4 220.4h1.2M444.1 246.5h1.2M457.0 197.0h1.2M461.6 209.8h1.2M433.0 192.0h1.2M456.6 200.9h1.2M457.5 191.4h1.2M441.7 212.9h1.2M455.3 192.3h1.2M442.5 212.3h1.2M451.5 195.1h1.2M457.3 242.9h1.2M462.1 234.5h1.2M461.6 221.6h1.2M437.2 210.4h1.2M455.5 243.2h1.2M451.1 193.7h1.2M457.4 196.4h1.2M459.4 205.2h1.2M436.5 222.7h1.2M455.3 225.6h1.2M439.9 213.7h1.2M445.7 207.2h1.2M435.1 247.2h1.2M463.3 207.1h1.2M451.8 195.6h1.2M454.0 210.0h1.2M446.7 207.8h1.2M443.7 203.0h1.2M440.4 198.9h1.2M440.8 225.9h1.2M445.8 242.4h1.2M459.6 206.0h1.2M437.3 242.6h1.2M462.6 208.6h1.2M433.8 193.1h1.2M464.6 196.1h1.2M459.0 247.1h1.2M458.9 217.6h1.2M458.1 203.5h1.2M456.5 203.7h1.2M462.4 220.4h1.2M437.6 251.9h1.2M456.3 213.4h1.2M434.7 197.1h1.2M444.5 195.3h1.2M451.3 199.3h1.2M449.2 213.4h1.2M434.7 227.7h1.2M456.2 210.2h1.2M449.3 224.4h1.2M464.2 218.3h1.2M448.4 233.8h1.2M454.7 228.0h1.2M445.1 191.4h1.2M453.4 219.9h1.2M436.5 236.9h1.2M436.3 227.1h1.2M437.6 244.0h1.2M455.6 222.3h1.2M439.4 223.3h1.2M439.2 195.5h1.2M453.4 192.4h1.2M443.6 201.3h1.2M452.8 192.1h1.2M438.1 242.6h1.2M436.8 210.6h1.2M449.3 214.8h1.2M440.8 192.7h1.2M438.4 212.0h1.2M434.4 204.9h1.2M463.3 204.9h1.2M451.3 222.0h1.2M454.6 225.6h1.2M462.1 211.9h1.2M463.7 229.1h1.2M454.6 217.7h1.2M464.5 219.7h1.2M449.1 196.0h1.2M446.0 199.8h1.2M438.4 214.3h1.2M446.1 209.1h1.2M463.2 223.8h1.2M436.5 193.1h1.2M462.4 198.3h1.2M451.2 193.4h1.2M436.8 209.2h1.2M436.6 198.9h1.2M434.3 191.5h1.2M441.2 221.7h1.2M460.9 193.6h1.2M436.8 212.6h1.2M433.9 228.2h1.2M449.0 225.2h1.2M443.7 249.5h1.2M444.7 212.0h1.2M434.3 232.1h1.2M447.1 216.2h1.2M445.4 197.9h1.2M464.6 252.3h1.2M463.7 211.9h1.2M445.9 201.3h1.2M462.6 197.4h1.2M451.6 234.2h1.2M438.4 209.5h1.2M464.2 201.8h1.2M445.7 213.2h1.2M448.8 205.5h1.2M440.4 232.8h1.2M448.5 208.4h1.2M440.7 247.5h1.2M440.9 199.9h1.2M444.3 239.7h1.2M462.2 199.1h1.2M453.9 194.7h1.2M445.5 241.5h1.2M443.9 201.2h1.2M446.2 226.5h1.2M437.7 210.9h1.2M461.1 225.1h1.2M444.9 195.0h1.2M448.6 196.7h1.2M436.2 233.7h1.2M462.1 190.4h1.2M449.4 226.8h1.2M464.9 198.5h1.2M436.5 194.6h1.2M441.4 204.9h1.2M452.7 219.4h1.2M446.0 225.5h1.2M458.7 222.4h1.2M452.0 202.4h1.2M460.7 198.9h1.2M458.5 219.5h1.2M433.8 224.1h1.2M463.1 213.2h1.2M437.7 205.6h1.2M444.1 235.9h1.2M450.3 219.3h1.2M461.3 213.2h1.2M442.6 200.0h1.2M434.0 212.9h1.2M436.5 224.4h1.2M458.5 195.5h1.2M439.4 191.1h1.2M454.4 218.9h1.2M454.9 200.7h1.2M463.6 203.6h1.2M465.0 225.8h1.2M440.6 226.0h1.2M445.6 212.4h1.2M440.0 246.9h1.2M443.9 211.4h1.2M439.6 212.5h1.2M465.0 203.7h1.2M433.4 206.5h1.2M460.3 195.0h1.2M455.6 246.6h1.2M451.0 228.6h1.2M440.1 193.6h1.2M443.3 213.0h1.2M463.4 205.5h1.2M459.2 197.1h1.2M436.9 200.6h1.2M447.1 197.0h1.2M463.3 225.1h1.2M434.0 234.8h1.2M450.0 226.7h1.2M456.3 194.0h1.2M441.5 221.3h1.2M462.8 204.1h1.2M452.7 207.2h1.2M460.2 217.8h1.2M455.3 224.3h1.2M440.3 228.2h1.2M437.9 199.3h1.2M452.6 205.9h1.2M443.3 204.8h1.2M435.2 238.3h1.2M434.8 231.0h1.2M458.9 220.7h1.2M456.2 223.5h1.2M460.2 197.4h1.2M433.4 215.6h1.2M452.2 198.7h1.2M437.8 202.7h1.2M461.3 218.8h1.2M452.9 239.8h1.2M434.2 233.1h1.2M460.8 247.2h1.2M441.0 203.7h1.2M463.4 214.1h1.2M443.6 196.6h1.2M457.9 218.1h1.2M449.2 203.0h1.2M448.2 208.1h1.2M442.7 222.8h1.2M464.8 197.8h1.2M447.0 190.0h1.2M441.0 190.2h1.2M435.4 193.8h1.2M433.8 236.8h1.2M432.4 247.8h1.2M446.0 230.9h1.2M435.0 230.3h1.2M433.3 250.7h1.2M441.7 204.6h1.2M432.6 192.3h1.2M459.6 238.7h1.2M464.2 232.7h1.2M465.4 234.0h1.2M463.1 253.2h1.2M465.7 221.7h1.2M462.9 252.3h1.2M462.4 201.7h1.2M465.1 205.9h1.2M463.6 217.8h1.2M437.4 234.1h1.2M523.8 248.1h1.2M557.7 238.8h1.2M544.1 244.0h1.2" stroke="#302c38" stroke-opacity="0.55" stroke-width="1.25" fill="none"/>
<path d="M198.3 489.6h1.05M198.8 486.8h1.05M200.8 491.8h1.05M199.7 486.2h1.05M199.3 484.8h1.05M203.7 492.4h1.05M197.3 486.0h1.05M199.7 485.2h1.05M199.2 485.2h1.05M199.4 487.8h1.05M202.6 490.8h1.05M201.6 487.3h1.05M202.1 490.0h1.05M199.1 490.8h1.05M199.2 485.5h1.05M203.3 495.6h1.05M198.4 485.6h1.05M200.2 486.6h1.05M204.9 490.0h1.05M201.5 489.3h1.05M202.9 491.4h1.05M203.8 489.5h1.05M200.0 487.4h1.05M200.9 489.2h1.05M197.6 484.4h1.05M197.5 486.6h1.05M201.5 490.5h1.05M200.5 490.8h1.05M203.1 488.1h1.05M205.2 490.2h1.05M201.9 493.3h1.05M197.4 486.8h1.05M200.8 487.6h1.05M199.9 486.5h1.05M203.5 488.2h1.05M202.5 491.0h1.05M199.4 485.4h1.05M200.7 489.7h1.05M205.4 495.3h1.05M200.7 488.4h1.05M203.1 487.2h1.05M198.4 487.4h1.05M197.7 486.5h1.05M202.8 489.6h1.05M199.9 488.6h1.05M198.5 482.8h1.05M203.0 491.1h1.05M205.0 491.3h1.05M201.4 492.7h1.05M197.9 488.5h1.05M201.1 489.6h1.05M204.8 491.0h1.05M198.6 488.5h1.05M198.8 489.8h1.05M198.2 484.2h1.05M199.6 485.8h1.05M199.0 487.8h1.05M201.3 486.4h1.05M199.7 484.1h1.05M198.3 489.4h1.05M199.8 486.2h1.05M199.3 489.6h1.05M196.7 487.6h1.05M198.2 485.1h1.05M197.6 485.7h1.05M198.5 487.2h1.05M201.8 492.3h1.05M206.3 484.1h1.05M208.5 501.4h1.05M209.6 497.0h1.05M209.8 489.2h1.05M200.9 484.7h1.05M205.7 491.3h1.05M205.0 491.4h1.05M199.2 481.1h1.05M207.5 500.4h1.05M209.4 501.7h1.05M203.5 491.3h1.05M202.4 493.8h1.05M210.0 490.4h1.05M206.7 485.4h1.05M199.5 488.8h1.05M215.2 493.1h1.05M199.7 486.8h1.05M206.1 488.3h1.05M207.9 491.5h1.05M199.6 483.9h1.05M207.2 489.1h1.05M212.8 495.1h1.05M199.1 487.7h1.05M213.9 492.6h1.05M208.8 497.7h1.05M203.3 479.8h1.05M202.0 493.5h1.05M204.0 482.3h1.05M198.8 486.9h1.05M207.6 486.1h1.05M204.3 487.7h1.05M207.5 485.7h1.05M212.2 488.5h1.05M202.5 477.7h1.05M206.6 497.9h1.05M215.7 492.6h1.05M202.9 486.9h1.05M200.8 487.5h1.05M199.9 487.2h1.05M198.2 485.3h1.05M198.0 488.0h1.05M216.5 498.2h1.05M202.8 488.2h1.05M212.6 492.2h1.05M209.3 501.4h1.05M196.8 487.0h1.05M214.5 497.2h1.05M210.6 495.0h1.05M210.4 494.3h1.05M205.4 496.0h1.05M199.8 483.5h1.05M199.5 481.4h1.05M210.5 496.7h1.05M210.1 498.5h1.05M208.5 502.4h1.05M197.7 485.7h1.05M201.4 487.4h1.05M202.1 492.6h1.05M199.7 486.1h1.05M210.9 460.2h1.05M237.6 487.5h1.05M200.7 477.2h1.05M243.7 454.8h1.05M225.1 461.9h1.05M217.2 502.0h1.05M204.9 483.2h1.05M220.3 464.0h1.05M248.1 467.0h1.05M243.2 495.0h1.05M231.8 458.3h1.05M249.7 471.8h1.05M248.2 473.9h1.05M206.3 490.3h1.05M219.9 474.1h1.05M219.0 455.2h1.05M237.2 478.5h1.05M225.1 458.6h1.05M248.6 477.2h1.05M228.0 493.5h1.05M242.9 492.2h1.05M205.2 463.5h1.05M215.8 457.3h1.05M211.0 483.0h1.05M235.0 457.6h1.05M232.1 475.6h1.05M249.5 480.1h1.05M205.8 470.8h1.05M227.9 479.4h1.05M226.0 480.4h1.05M251.9 466.2h1.05M212.9 467.5h1.05M210.5 473.7h1.05M210.3 461.0h1.05M245.1 458.3h1.05M238.7 477.2h1.05M241.3 487.9h1.05M226.2 488.9h1.05M232.3 473.5h1.05M233.1 478.8h1.05M232.5 466.7h1.05M248.2 472.6h1.05M252.1 474.7h1.05M221.1 479.0h1.05M226.7 459.0h1.05M206.4 487.8h1.05M244.1 461.5h1.05M254.2 486.6h1.05M204.8 479.6h1.05M215.2 497.1h1.05M217.2 496.7h1.05M222.7 481.6h1.05M238.2 478.5h1.05M233.1 488.3h1.05M236.3 496.9h1.05M212.4 474.4h1.05M220.6 492.6h1.05M230.6 483.0h1.05M232.2 464.9h1.05M251.4 481.5h1.05M219.3 484.7h1.05M237.0 486.0h1.05M217.0 494.8h1.05M215.7 494.2h1.05M227.5 481.2h1.05M234.1 487.1h1.05M254.4 483.2h1.05M220.4 494.5h1.05M228.2 484.8h1.05M238.3 478.7h1.05M242.7 467.6h1.05M226.5 459.4h1.05M197.6 486.5h1.05M239.3 494.2h1.05M226.2 483.0h1.05M240.7 477.3h1.05M198.9 486.6h1.05M217.6 471.1h1.05M241.9 501.3h1.05M223.0 459.6h1.05M225.2 458.8h1.05M254.0 485.6h1.05M237.9 465.1h1.05M232.9 462.7h1.05M212.4 478.6h1.05M218.7 501.6h1.05M229.1 500.1h1.05M213.1 500.0h1.05M234.8 497.9h1.05M251.9 472.2h1.05M215.1 491.3h1.05M251.0 466.0h1.05M218.8 477.2h1.05M221.5 499.1h1.05M213.1 479.8h1.05M219.5 491.3h1.05M243.5 459.3h1.05M232.2 478.5h1.05M232.7 466.6h1.05M202.3 489.9h1.05M241.6 495.6h1.05M224.4 475.7h1.05M208.7 461.9h1.05M221.8 477.5h1.05M201.2 477.2h1.05M208.8 472.6h1.05M233.8 481.1h1.05M210.2 476.9h1.05M220.4 484.1h1.05M226.1 469.6h1.05M225.3 490.8h1.05M216.5 498.1h1.05M222.2 490.5h1.05M214.2 473.8h1.05M248.0 493.1h1.05M198.4 488.1h1.05M245.1 486.7h1.05M231.5 487.5h1.05M228.9 492.0h1.05M233.7 462.1h1.05M237.8 458.3h1.05M234.1 455.7h1.05M250.0 464.1h1.05M241.0 482.4h1.05M244.0 462.0h1.05M233.5 473.4h1.05M220.5 491.9h1.05M209.0 491.9h1.05M255.1 487.6h1.05M240.1 494.0h1.05M229.6 489.9h1.05M243.7 465.6h1.05M213.6 477.2h1.05M220.2 491.3h1.05M248.3 471.7h1.05M248.5 467.4h1.05M251.3 492.6h1.05M227.9 470.0h1.05M221.1 483.8h1.05M249.5 482.8h1.05M203.2 489.7h1.05M207.2 470.3h1.05M220.3 494.4h1.05M209.0 477.1h1.05M240.3 474.8h1.05M249.3 494.8h1.05M242.7 454.6h1.05M236.2 457.6h1.05M243.3 462.7h1.05M204.4 471.6h1.05M235.5 499.2h1.05M210.3 481.8h1.05M234.2 491.8h1.05M253.6 482.5h1.05M219.9 477.6h1.05M242.1 462.9h1.05M204.2 479.0h1.05M229.4 501.5h1.05M231.1 455.5h1.05M236.6 477.3h1.05M207.2 463.5h1.05M206.9 489.9h1.05M201.8 476.1h1.05M247.2 489.0h1.05M211.2 491.1h1.05M223.6 463.8h1.05M218.0 483.0h1.05M211.3 456.0h1.05M231.4 488.7h1.05M253.4 475.1h1.05M242.1 467.4h1.05M253.0 471.8h1.05M210.7 457.2h1.05M212.4 472.8h1.05M208.7 492.0h1.05M204.5 484.3h1.05M207.0 499.8h1.05M224.7 474.9h1.05M212.0 487.5h1.05M235.8 462.4h1.05M247.4 496.4h1.05M240.8 461.6h1.05M238.3 497.7h1.05M211.3 474.5h1.05M205.8 492.1h1.05M214.4 470.9h1.05M205.0 468.3h1.05M204.3 482.7h1.05M226.1 470.7h1.05M201.9 483.2h1.05M215.0 475.2h1.05M251.1 486.9h1.05M212.7 495.7h1.05M254.4 490.4h1.05M229.6 479.2h1.05M225.3 485.3h1.05M211.8 502.4h1.05M231.5 484.5h1.05M247.7 472.1h1.05M221.4 477.4h1.05M202.4 470.7h1.05M238.4 466.4h1.05M205.0 484.1h1.05M216.0 497.1h1.05M241.7 475.3h1.05M207.3 456.6h1.05M219.6 493.8h1.05M211.2 483.9h1.05M242.3 465.5h1.05M220.2 487.9h1.05M209.9 502.2h1.05M244.5 460.1h1.05M217.7 491.4h1.05M244.5 463.3h1.05M253.6 473.7h1.05M239.3 491.5h1.05M250.1 471.0h1.05M225.7 464.6h1.05M223.3 479.0h1.05M204.9 473.1h1.05M223.6 455.3h1.05M245.4 485.5h1.05M245.5 470.8h1.05M208.6 491.4h1.05M223.5 455.0h1.05M231.5 468.5h1.05M215.3 498.9h1.05M250.8 492.1h1.05M220.5 482.3h1.05M237.2 478.2h1.05M242.8 494.3h1.05M227.2 467.8h1.05M227.8 472.0h1.05M219.5 482.4h1.05M211.2 483.3h1.05M220.0 500.7h1.05M222.5 468.5h1.05M240.1 463.1h1.05M224.3 473.7h1.05M216.4 482.3h1.05M227.6 472.1h1.05M243.0 467.3h1.05M227.2 460.9h1.05M233.3 491.3h1.05M216.2 501.3h1.05M252.1 483.3h1.05M212.4 484.7h1.05M209.0 461.2h1.05M221.8 484.3h1.05M228.9 476.3h1.05M252.6 494.0h1.05M248.5 468.9h1.05M238.7 454.1h1.05M231.5 457.7h1.05M218.6 475.6h1.05M236.9 492.7h1.05M228.7 480.0h1.05M243.4 470.8h1.05M253.4 475.7h1.05M210.3 482.5h1.05M203.5 464.9h1.05M212.6 458.6h1.05M241.9 474.2h1.05M253.2 486.2h1.05M243.9 489.9h1.05M227.3 467.9h1.05M204.4 477.1h1.05M222.7 458.9h1.05M221.7 495.6h1.05M225.4 493.8h1.05M216.0 476.2h1.05M249.3 494.2h1.05M252.6 483.9h1.05M238.2 490.8h1.05M221.3 457.3h1.05M216.3 470.5h1.05M224.9 488.8h1.05M207.8 465.9h1.05M247.1 478.1h1.05M218.9 496.4h1.05M240.4 493.0h1.05M223.9 471.0h1.05M207.6 486.7h1.05M206.5 470.9h1.05M214.2 473.1h1.05M210.0 465.7h1.05M253.6 490.8h1.05M211.2 481.7h1.05M203.7 494.1h1.05M208.4 480.4h1.05M235.4 479.9h1.05M222.4 461.5h1.05M200.9 484.3h1.05M236.2 492.8h1.05M229.9 459.1h1.05M240.8 472.3h1.05M247.7 473.8h1.05M231.8 477.2h1.05M211.2 480.9h1.05M199.8 484.9h1.05M213.2 461.5h1.05M221.2 484.6h1.05M226.3 480.6h1.05M205.6 478.2h1.05M228.3 501.6h1.05M256.2 488.4h1.05M206.6 491.3h1.05M241.8 496.5h1.05M226.1 473.6h1.05M222.3 499.3h1.05M242.2 486.4h1.05M222.7 460.9h1.05M238.6 483.1h1.05M239.0 470.7h1.05M210.4 467.1h1.05M211.4 465.9h1.05M230.9 488.9h1.05M246.9 455.4h1.05M223.9 488.1h1.05M230.5 494.9h1.05M235.6 471.2h1.05M230.2 479.3h1.05M241.8 489.7h1.05M249.8 479.7h1.05M240.6 464.0h1.05M243.0 467.2h1.05M241.7 460.3h1.05M206.4 484.3h1.05M245.5 498.0h1.05M215.5 481.9h1.05M223.6 497.7h1.05M249.8 477.2h1.05M245.9 458.5h1.05M204.4 482.9h1.05M211.3 495.6h1.05M212.4 486.0h1.05M205.9 497.6h1.05M206.7 469.1h1.05M232.6 477.3h1.05M221.5 497.4h1.05M210.6 465.8h1.05M253.4 479.0h1.05M232.4 464.0h1.05M206.9 470.1h1.05M230.7 469.1h1.05M230.8 492.9h1.05M203.8 480.6h1.05M208.8 495.1h1.05M208.2 482.7h1.05M238.2 467.6h1.05M200.5 487.0h1.05M242.5 466.2h1.05M235.0 481.7h1.05M241.4 456.3h1.05M234.6 455.1h1.05M214.8 487.4h1.05M211.7 502.0h1.05M238.3 488.5h1.05M231.1 474.0h1.05M213.5 475.9h1.05M253.4 488.6h1.05M235.6 485.9h1.05M219.3 464.4h1.05M239.5 498.4h1.05M249.0 495.1h1.05M241.5 475.3h1.05M235.0 475.4h1.05M210.6 499.9h1.05M229.6 496.0h1.05M232.8 472.2h1.05M251.9 490.3h1.05M245.7 479.8h1.05M231.6 454.1h1.05M254.3 487.7h1.05M215.1 502.2h1.05M254.8 492.7h1.05M228.9 500.4h1.05M208.5 464.7h1.05M247.4 497.7h1.05M211.6 500.7h1.05M241.2 470.1h1.05M246.1 488.3h1.05M202.5 480.2h1.05M243.6 456.5h1.05M245.5 480.8h1.05M203.6 484.4h1.05M211.6 467.7h1.05M236.6 479.0h1.05M249.6 484.8h1.05M206.9 480.1h1.05M237.6 477.2h1.05M222.6 497.3h1.05M213.5 459.9h1.05M240.8 459.2h1.05M246.1 495.3h1.05M226.2 455.3h1.05M244.5 460.1h1.05M212.6 468.6h1.05M226.7 471.4h1.05M230.9 499.1h1.05M224.0 472.4h1.05M217.0 498.5h1.05M233.9 475.4h1.05M225.8 490.8h1.05M203.9 465.0h1.05M241.6 494.2h1.05M227.7 465.1h1.05M231.6 487.7h1.05M216.2 461.9h1.05M220.9 468.9h1.05M231.5 481.0h1.05M253.5 487.1h1.05M205.8 466.7h1.05M247.9 473.9h1.05M214.1 485.5h1.05M218.8 456.3h1.05M245.7 483.0h1.05M227.4 497.4h1.05M251.2 474.9h1.05M231.5 462.5h1.05M227.7 459.5h1.05M213.4 492.7h1.05M255.6 484.5h1.05M212.3 458.7h1.05M250.4 484.9h1.05M238.0 474.8h1.05M214.3 497.4h1.05M236.1 459.1h1.05M246.1 477.2h1.05M246.1 498.7h1.05M251.1 462.2h1.05M243.3 462.8h1.05M214.7 481.0h1.05M246.2 495.4h1.05M204.5 496.7h1.05M210.6 501.1h1.05M219.9 468.1h1.05M247.6 466.3h1.05M209.1 480.5h1.05M248.4 475.4h1.05M250.0 490.4h1.05M248.8 485.1h1.05M209.9 499.4h1.05M229.3 494.0h1.05M234.6 456.0h1.05M215.6 489.2h1.05M229.7 471.7h1.05M218.5 485.8h1.05M204.9 484.3h1.05M247.1 458.1h1.05M200.9 491.0h1.05M203.7 468.5h1.05M237.3 485.7h1.05M227.4 469.5h1.05M238.0 472.5h1.05M227.3 493.9h1.05M251.1 485.9h1.05M243.2 465.3h1.05M239.9 480.7h1.05M241.9 490.3h1.05M239.5 478.7h1.05M201.9 489.3h1.05M245.4 457.4h1.05M206.3 474.6h1.05M211.3 453.5h1.05M212.2 455.2h1.05M213.8 500.1h1.05M245.3 468.7h1.05M226.0 477.4h1.05M214.2 469.9h1.05M208.8 468.9h1.05M208.1 455.7h1.05M222.4 475.1h1.05M217.4 487.4h1.05M231.2 485.2h1.05M217.6 465.7h1.05M207.5 468.6h1.05M225.7 453.9h1.05M231.3 476.6h1.05M221.4 464.3h1.05M250.4 491.9h1.05M218.1 458.5h1.05M253.3 472.9h1.05M218.6 458.4h1.05M227.9 482.3h1.05M232.6 485.1h1.05M208.5 490.4h1.05M202.6 478.4h1.05M211.9 477.4h1.05M232.0 486.3h1.05M224.3 491.9h1.05M254.5 479.1h1.05M221.0 489.1h1.05M207.5 480.2h1.05M230.4 497.1h1.05M227.4 494.7h1.05M207.3 495.1h1.05M252.4 483.0h1.05M247.2 475.5h1.05M228.7 487.5h1.05M251.4 474.2h1.05M240.4 493.9h1.05M232.3 457.8h1.05M240.6 454.4h1.05M247.7 471.1h1.05M230.4 466.8h1.05M206.0 465.2h1.05M209.1 486.1h1.05M226.3 456.3h1.05M210.5 493.1h1.05M201.7 487.7h1.05M244.2 477.9h1.05M208.6 474.5h1.05M221.6 496.8h1.05M214.1 459.1h1.05M245.3 477.8h1.05M235.1 477.6h1.05M246.0 496.8h1.05M242.7 461.9h1.05M232.1 491.0h1.05M215.1 454.9h1.05M206.6 474.1h1.05M238.1 469.3h1.05M246.5 457.3h1.05M226.4 497.7h1.05M237.9 498.2h1.05M220.5 491.5h1.05M209.5 453.4h1.05M207.7 482.4h1.05M207.9 473.7h1.05M228.5 462.8h1.05M221.1 472.4h1.05M249.5 471.0h1.05M228.0 494.9h1.05M214.8 464.2h1.05M216.6 494.3h1.05M218.9 482.3h1.05M212.5 482.9h1.05M221.3 458.2h1.05M230.3 472.7h1.05M238.5 463.8h1.05M212.7 495.6h1.05M232.1 457.2h1.05M206.3 478.0h1.05M218.2 497.5h1.05M243.6 486.2h1.05M235.8 486.4h1.05M201.9 478.3h1.05M248.3 461.4h1.05M232.1 491.2h1.05M214.1 495.4h1.05M240.1 491.9h1.05M207.2 499.3h1.05M227.6 455.5h1.05M245.1 486.3h1.05M250.2 459.6h1.05M238.3 476.2h1.05M217.2 500.6h1.05M225.0 497.2h1.05M228.3 491.7h1.05M218.5 464.6h1.05M207.2 500.0h1.05M221.4 485.9h1.05M245.4 455.4h1.05M239.9 466.3h1.05M255.8 486.6h1.05M219.2 473.7h1.05M233.1 456.0h1.05M251.0 485.0h1.05M253.4 479.4h1.05M222.4 462.3h1.05M223.0 499.8h1.05M221.3 455.5h1.05M234.1 493.0h1.05M215.4 482.1h1.05M238.2 501.3h1.05M226.8 476.1h1.05M246.3 469.3h1.05M236.4 499.1h1.05M249.4 458.6h1.05M234.9 460.7h1.05M211.9 475.8h1.05M240.4 499.6h1.05M220.9 480.6h1.05M229.4 466.4h1.05M205.2 492.8h1.05M211.3 490.6h1.05M224.3 466.5h1.05M247.2 469.4h1.05M228.6 479.8h1.05M222.2 475.8h1.05M238.6 484.4h1.05M213.2 494.3h1.05M220.8 472.6h1.05M206.0 465.2h1.05M237.3 489.8h1.05M219.0 471.2h1.05M209.4 483.8h1.05M256.4 490.2h1.05M246.2 477.4h1.05M226.2 500.6h1.05M244.5 462.6h1.05M212.7 494.5h1.05M233.1 467.7h1.05M218.2 465.7h1.05M213.3 459.0h1.05M246.9 477.1h1.05M245.0 466.1h1.05M227.0 473.1h1.05M247.3 497.8h1.05M229.8 489.0h1.05M238.2 483.5h1.05M245.9 461.4h1.05M213.7 465.2h1.05M229.3 475.7h1.05M227.8 477.3h1.05M227.0 482.3h1.05M252.5 482.1h1.05M240.5 489.9h1.05M218.0 476.1h1.05M238.7 463.8h1.05M206.2 483.7h1.05M247.9 486.2h1.05M229.6 497.9h1.05M234.3 486.8h1.05M210.2 463.5h1.05M216.0 495.8h1.05M213.4 486.5h1.05M215.2 460.1h1.05M245.6 490.7h1.05M227.5 455.5h1.05M244.2 464.8h1.05M216.3 496.6h1.05M250.1 488.0h1.05M221.6 494.8h1.05M233.0 455.9h1.05M243.4 461.3h1.05M229.2 481.2h1.05M234.6 457.9h1.05M210.2 467.1h1.05M203.4 483.5h1.05M246.8 462.3h1.05M213.8 470.4h1.05M213.8 457.3h1.05M217.5 478.7h1.05M243.3 469.4h1.05M237.8 464.6h1.05M207.8 497.8h1.05M215.0 472.5h1.05M212.0 467.7h1.05M212.8 469.0h1.05M213.3 499.3h1.05M252.0 469.3h1.05M229.6 476.2h1.05M227.5 483.6h1.05M257.1 490.7h1.05M214.5 453.6h1.05M241.6 458.4h1.05M232.3 498.1h1.05M247.1 457.6h1.05M220.0 483.7h1.05M238.0 498.9h1.05M231.8 485.1h1.05M234.3 458.7h1.05M204.5 486.8h1.05M229.9 460.3h1.05M233.7 501.3h1.05M206.9 477.4h1.05M228.5 463.2h1.05M218.6 489.8h1.05M236.5 494.2h1.05M249.0 477.1h1.05M229.7 463.5h1.05M238.9 455.6h1.05M204.5 486.0h1.05M222.6 495.8h1.05M238.7 492.8h1.05M241.7 469.9h1.05M238.3 462.5h1.05M219.4 488.7h1.05M207.6 489.0h1.05M218.4 477.9h1.05M212.2 468.0h1.05M212.3 481.4h1.05M221.9 458.6h1.05M207.2 491.7h1.05M247.6 496.6h1.05M218.7 473.0h1.05M205.3 460.5h1.05M208.8 466.2h1.05M243.7 475.9h1.05M235.5 470.1h1.05M228.1 455.4h1.05M227.0 483.0h1.05M233.7 493.9h1.05M206.1 491.0h1.05M214.0 460.4h1.05M203.4 475.7h1.05M229.0 501.9h1.05M216.2 465.8h1.05M248.3 455.0h1.05M224.0 473.9h1.05M206.0 490.6h1.05M244.7 463.5h1.05M224.1 495.2h1.05M228.4 459.8h1.05M238.0 466.8h1.05M245.7 471.6h1.05M236.2 470.2h1.05M225.7 499.2h1.05M222.6 459.6h1.05M227.7 478.4h1.05M237.6 498.6h1.05M242.5 499.5h1.05M216.8 491.5h1.05M224.3 469.8h1.05M250.1 471.5h1.05M210.0 484.5h1.05M238.7 486.6h1.05M256.8 490.4h1.05M245.8 486.8h1.05M229.8 469.7h1.05M203.2 488.9h1.05M207.3 459.1h1.05M207.0 478.1h1.05M203.0 473.2h1.05M206.5 481.1h1.05M217.7 494.3h1.05M232.1 455.0h1.05M218.3 491.3h1.05M238.7 470.0h1.05M207.3 482.6h1.05M212.2 480.0h1.05M220.3 491.8h1.05M222.8 458.0h1.05M247.9 490.3h1.05M214.4 481.5h1.05M237.1 464.5h1.05M205.9 478.9h1.05M243.7 488.5h1.05M210.6 462.0h1.05M227.4 476.4h1.05M245.6 461.8h1.05M218.9 461.4h1.05M235.4 477.7h1.05M227.1 456.8h1.05M210.8 471.5h1.05M205.2 474.0h1.05M212.3 475.5h1.05M243.9 459.4h1.05M202.1 485.5h1.05M219.0 475.8h1.05M220.1 497.6h1.05M245.6 485.9h1.05M243.3 456.2h1.05M230.2 497.5h1.05M222.2 463.5h1.05M199.5 482.9h1.05M226.4 495.7h1.05M252.2 467.7h1.05M227.1 463.1h1.05M213.1 497.7h1.05M220.5 455.5h1.05M214.6 488.8h1.05M242.3 479.1h1.05M229.5 468.5h1.05M248.2 456.2h1.05M212.6 493.3h1.05M235.4 463.7h1.05M227.1 460.8h1.05M225.2 479.7h1.05M245.5 492.2h1.05M204.2 484.6h1.05M229.8 494.9h1.05M223.3 454.0h1.05M236.9 475.9h1.05M216.1 488.8h1.05M210.8 492.1h1.05M244.1 481.5h1.05M249.4 480.8h1.05M199.5 486.8h1.05M201.7 474.0h1.05M240.3 473.3h1.05M218.2 483.1h1.05M236.7 486.8h1.05M254.3 478.6h1.05M198.8 490.5h1.05M242.2 496.5h1.05M248.0 497.5h1.05M229.3 472.3h1.05M209.6 461.9h1.05M222.9 473.9h1.05M250.1 495.9h1.05M238.3 460.3h1.05M254.6 487.9h1.05M247.1 470.1h1.05M217.2 501.2h1.05M230.1 499.7h1.05M224.5 454.4h1.05M205.1 485.1h1.05M203.2 466.1h1.05M220.3 465.9h1.05M232.1 476.1h1.05M229.9 467.4h1.05M254.2 488.2h1.05M225.9 477.6h1.05M248.4 481.9h1.05M247.1 497.1h1.05M225.9 470.7h1.05M212.5 480.4h1.05M226.7 471.9h1.05M236.3 471.9h1.05M246.1 472.1h1.05M217.3 487.3h1.05M231.0 463.1h1.05M239.2 470.3h1.05M226.4 497.5h1.05M237.3 461.7h1.05M200.7 491.4h1.05M237.4 473.2h1.05M199.8 490.5h1.05M212.6 487.4h1.05M229.6 454.3h1.05M205.4 497.9h1.05M236.9 496.9h1.05M217.4 494.1h1.05M226.5 478.1h1.05M198.1 483.2h1.05M212.3 482.0h1.05M239.7 480.8h1.05M251.5 474.9h1.05M229.3 482.5h1.05M220.5 457.0h1.05M247.0 461.4h1.05M251.0 464.4h1.05M200.3 476.3h1.05M240.5 471.2h1.05M225.3 473.4h1.05M222.1 486.2h1.05M221.7 484.9h1.05M228.2 498.4h1.05M221.5 499.6h1.05M234.5 482.4h1.05M220.2 465.7h1.05M220.8 463.5h1.05M200.1 485.1h1.05M213.4 479.2h1.05M230.5 497.2h1.05M248.2 466.2h1.05M222.1 496.0h1.05M245.3 492.8h1.05M220.4 483.2h1.05M222.8 477.2h1.05M225.9 487.4h1.05M234.2 498.1h1.05M240.2 481.6h1.05M221.8 486.3h1.05M238.9 460.9h1.05M212.6 454.1h1.05M249.2 489.0h1.05M252.4 473.5h1.05M199.8 490.1h1.05M202.1 494.1h1.05M223.4 456.6h1.05M213.7 454.6h1.05M239.3 458.9h1.05M224.6 496.7h1.05M207.8 499.7h1.05M239.8 464.2h1.05M227.8 479.5h1.05M220.2 493.3h1.05M234.6 456.0h1.05M205.8 477.9h1.05M203.0 486.7h1.05M234.1 461.8h1.05M240.1 486.7h1.05M251.7 465.7h1.05M232.6 495.5h1.05M232.0 499.1h1.05M253.6 483.5h1.05M225.0 484.6h1.05M231.5 501.2h1.05M214.1 455.3h1.05M251.7 491.9h1.05M244.5 462.6h1.05M232.1 474.7h1.05M249.8 455.6h1.05M199.5 478.8h1.05M214.5 494.7h1.05M255.3 482.0h1.05M222.9 488.9h1.05M224.9 460.6h1.05M244.6 460.8h1.05M244.9 477.4h1.05M236.5 474.6h1.05M222.4 456.2h1.05M215.6 485.4h1.05M220.1 490.8h1.05M234.5 468.4h1.05M250.8 470.9h1.05M217.9 477.2h1.05M236.4 494.7h1.05M242.8 460.5h1.05M237.3 462.9h1.05M218.1 483.1h1.05M218.0 482.0h1.05M217.0 469.0h1.05M211.9 490.0h1.05M233.9 473.3h1.05M214.4 499.4h1.05M214.4 498.7h1.05M214.3 473.2h1.05M214.7 480.4h1.05M220.3 488.6h1.05M208.1 459.8h1.05M216.2 483.6h1.05M205.7 485.1h1.05M244.6 487.4h1.05M231.0 488.4h1.05M243.4 465.7h1.05M234.6 486.9h1.05M236.3 471.3h1.05M217.7 478.7h1.05M238.9 466.6h1.05M209.0 479.5h1.05M207.9 496.4h1.05M241.3 454.2h1.05M213.8 468.6h1.05M230.0 471.9h1.05M205.0 464.0h1.05M219.5 472.8h1.05M221.8 460.5h1.05M235.2 460.1h1.05M223.0 457.9h1.05M246.6 488.8h1.05M207.7 501.5h1.05M235.0 472.1h1.05M246.8 494.4h1.05M226.3 472.9h1.05M249.8 463.3h1.05M211.1 454.9h1.05M210.5 500.6h1.05M232.1 460.7h1.05M207.8 498.5h1.05M218.6 459.0h1.05M238.8 496.7h1.05M204.3 496.8h1.05M233.8 469.4h1.05M244.5 491.8h1.05M216.5 487.1h1.05M230.0 472.3h1.05M217.2 455.5h1.05M238.9 474.0h1.05M236.6 485.7h1.05M244.0 484.0h1.05M217.5 470.4h1.05M255.5 484.2h1.05M213.4 495.0h1.05M235.2 455.8h1.05M218.7 484.4h1.05M208.9 464.9h1.05M203.6 489.3h1.05M202.3 491.0h1.05M246.6 458.9h1.05M200.4 483.5h1.05M205.7 461.0h1.05M234.4 483.5h1.05M252.6 471.4h1.05M199.2 483.5h1.05M235.6 477.1h1.05M228.4 486.7h1.05M235.9 456.2h1.05M234.1 480.1h1.05M199.3 485.1h1.05M232.3 470.1h1.05M226.2 488.9h1.05M241.4 488.4h1.05M245.9 478.4h1.05M224.6 478.5h1.05M225.1 465.4h1.05M247.1 491.9h1.05M212.1 466.2h1.05M221.0 493.6h1.05M207.8 454.1h1.05M210.6 479.4h1.05M240.4 466.6h1.05M244.8 474.2h1.05M226.7 453.7h1.05M226.0 484.6h1.05M225.7 455.3h1.05M231.1 501.6h1.05M230.5 475.5h1.05M237.9 494.6h1.05M236.3 464.3h1.05M218.0 500.1h1.05M232.3 473.4h1.05M246.3 463.5h1.05M205.7 478.4h1.05M217.0 488.7h1.05M215.9 499.4h1.05M219.3 494.9h1.05M238.3 483.0h1.05M223.2 457.2h1.05M246.2 465.8h1.05M228.2 484.0h1.05M242.6 463.9h1.05M225.9 475.9h1.05M211.6 497.0h1.05M200.5 490.3h1.05M221.5 479.2h1.05M233.2 495.8h1.05M246.4 473.1h1.05M235.7 500.9h1.05M244.6 488.4h1.05M215.0 456.1h1.05M230.3 489.9h1.05M227.3 499.8h1.05M223.0 491.2h1.05M243.0 496.0h1.05M217.8 453.1h1.05M239.2 492.6h1.05M203.5 470.5h1.05M228.5 500.5h1.05M211.0 482.3h1.05M209.9 500.7h1.05M219.9 495.1h1.05M227.6 460.2h1.05M249.6 459.8h1.05M251.6 485.1h1.05M244.3 473.9h1.05M201.1 492.5h1.05M207.1 499.2h1.05M226.5 501.3h1.05M207.8 473.0h1.05M213.0 491.8h1.05M242.6 496.2h1.05M246.9 498.2h1.05M211.7 492.5h1.05M246.8 484.2h1.05M235.7 471.3h1.05M208.8 481.8h1.05M205.2 475.6h1.05M206.7 492.9h1.05M226.3 496.7h1.05M243.5 462.6h1.05M225.6 488.3h1.05M212.6 471.8h1.05M211.2 481.9h1.05M244.9 491.7h1.05M248.8 488.0h1.05M241.3 471.8h1.05M240.3 467.5h1.05M203.8 465.6h1.05M230.2 470.8h1.05M221.4 475.8h1.05M219.0 473.5h1.05M227.4 473.6h1.05M248.3 488.4h1.05M207.1 484.6h1.05M246.7 497.5h1.05M222.6 485.8h1.05M210.1 498.3h1.05M231.5 490.4h1.05M226.9 455.0h1.05M200.6 490.4h1.05M229.7 484.6h1.05M250.5 473.6h1.05M205.8 465.1h1.05M240.8 492.4h1.05M236.9 484.6h1.05M244.4 495.3h1.05M230.4 465.4h1.05M234.1 494.2h1.05M236.1 479.2h1.05M225.8 496.9h1.05M218.0 464.7h1.05M248.7 462.7h1.05M244.8 492.9h1.05M246.1 466.4h1.05M252.3 481.1h1.05M223.4 474.4h1.05M200.4 484.4h1.05M217.7 477.2h1.05M216.9 474.4h1.05M247.5 466.9h1.05M256.8 489.2h1.05M237.8 455.7h1.05M244.6 492.1h1.05M227.2 476.7h1.05M221.4 484.7h1.05M253.7 481.3h1.05M250.9 490.5h1.05M229.0 454.0h1.05M224.7 453.9h1.05M232.2 481.6h1.05M202.8 492.7h1.05M249.2 473.3h1.05M214.7 497.5h1.05M212.4 483.9h1.05M224.5 470.2h1.05M218.4 460.7h1.05M203.7 494.2h1.05M249.2 496.2h1.05M237.0 471.6h1.05M219.2 477.1h1.05M220.6 476.8h1.05M224.4 458.0h1.05M253.5 477.4h1.05M226.7 457.8h1.05M224.3 475.3h1.05M215.1 489.7h1.05M249.7 458.0h1.05M222.8 460.4h1.05M241.5 469.5h1.05M211.1 487.5h1.05M224.8 457.9h1.05M209.6 485.4h1.05M225.0 478.9h1.05M206.1 478.0h1.05M244.9 477.3h1.05M252.1 473.8h1.05M221.0 476.4h1.05M222.9 493.2h1.05M204.0 466.8h1.05M243.5 479.1h1.05M219.6 492.2h1.05M206.1 491.7h1.05M215.2 470.7h1.05M237.8 495.6h1.05M221.2 473.9h1.05M237.5 475.2h1.05M241.6 479.8h1.05M212.0 472.3h1.05M199.0 485.2h1.05M252.4 493.2h1.05M227.8 464.9h1.05M209.9 490.2h1.05M226.3 470.2h1.05M216.0 496.1h1.05M234.3 455.3h1.05M224.7 481.4h1.05M239.6 501.3h1.05M247.4 494.7h1.05M214.0 476.8h1.05M222.1 495.1h1.05M198.1 482.7h1.05M248.4 472.4h1.05M227.5 481.0h1.05M217.1 486.4h1.05M210.2 480.5h1.05M221.0 462.0h1.05M244.4 485.3h1.05M210.4 480.3h1.05M239.0 455.5h1.05M244.5 471.1h1.05M230.9 465.3h1.05M207.8 479.3h1.05M249.4 466.5h1.05M209.7 456.8h1.05M212.6 474.4h1.05M250.6 481.1h1.05M215.2 462.6h1.05M229.3 472.7h1.05M216.9 502.3h1.05M221.0 459.2h1.05M232.0 475.5h1.05M241.0 462.3h1.05M213.0 475.6h1.05M229.8 462.5h1.05M236.1 472.0h1.05M249.7 470.2h1.05M253.3 489.3h1.05M207.6 492.7h1.05M205.2 488.8h1.05M222.8 478.2h1.05M241.1 478.8h1.05M235.0 487.3h1.05M210.6 467.9h1.05M207.4 474.2h1.05M220.1 479.9h1.05M235.0 484.2h1.05M234.0 484.7h1.05M208.0 469.2h1.05M206.8 489.0h1.05M255.4 483.8h1.05M206.9 468.6h1.05M242.3 468.7h1.05M248.4 456.2h1.05M243.1 475.8h1.05M223.0 466.6h1.05M218.0 501.9h1.05M244.3 494.1h1.05M218.8 497.6h1.05M204.0 480.2h1.05M217.9 467.9h1.05M209.5 501.2h1.05M234.3 495.5h1.05M228.7 497.9h1.05M219.6 478.0h1.05M239.4 500.1h1.05M235.5 465.3h1.05M218.7 497.1h1.05M250.6 465.9h1.05M220.7 472.7h1.05M234.0 489.0h1.05M234.6 497.1h1.05M249.3 478.1h1.05M202.6 482.4h1.05M252.6 483.0h1.05M224.7 498.1h1.05M201.4 489.6h1.05M221.6 454.0h1.05M203.9 492.9h1.05M245.6 464.1h1.05M201.3 480.4h1.05M231.9 471.2h1.05M239.5 474.0h1.05M235.9 477.0h1.05M213.5 464.1h1.05M205.5 484.8h1.05M239.0 489.6h1.05M226.7 455.3h1.05M238.5 501.5h1.05M223.2 457.2h1.05M251.2 466.4h1.05M240.3 487.8h1.05M241.3 458.4h1.05M210.3 454.9h1.05M250.5 467.6h1.05M213.2 483.5h1.05M222.6 495.7h1.05M232.6 454.0h1.05M211.5 460.6h1.05M234.1 453.8h1.05M247.4 491.4h1.05M210.1 470.8h1.05M235.6 454.9h1.05M249.8 474.4h1.05M201.9 492.3h1.05M214.4 470.0h1.05M202.6 483.0h1.05M254.4 492.8h1.05M241.9 494.7h1.05M231.0 462.7h1.05M254.1 485.1h1.05M220.3 485.3h1.05M222.2 465.2h1.05M208.7 500.1h1.05M239.6 498.1h1.05M226.4 470.0h1.05M208.4 475.4h1.05M212.1 469.2h1.05M213.0 456.6h1.05M208.1 471.9h1.05M223.2 499.7h1.05M206.4 496.4h1.05M246.0 491.2h1.05M249.7 476.2h1.05M212.6 490.5h1.05M238.6 469.0h1.05M232.7 488.0h1.05M231.1 468.9h1.05M204.7 473.8h1.05M212.9 494.8h1.05M209.9 460.9h1.05M247.6 489.6h1.05M222.3 470.2h1.05M233.3 456.8h1.05M254.2 492.1h1.05M218.2 454.6h1.05M225.4 483.8h1.05M247.4 490.6h1.05M243.7 479.5h1.05M215.4 455.5h1.05M247.8 494.2h1.05M224.7 480.7h1.05M244.4 496.2h1.05M244.3 478.9h1.05M250.9 484.0h1.05M210.9 489.1h1.05M220.4 476.5h1.05M255.7 485.8h1.05M229.9 463.7h1.05M226.6 463.8h1.05M243.8 461.2h1.05M218.7 502.0h1.05M215.2 478.3h1.05M245.4 491.4h1.05M248.7 455.8h1.05M205.0 495.2h1.05M235.4 483.9h1.05M217.9 455.9h1.05M226.9 455.0h1.05M224.1 500.2h1.05M218.3 482.2h1.05M242.3 490.3h1.05M237.6 499.6h1.05M225.7 482.0h1.05M222.0 473.5h1.05M207.7 490.3h1.05M253.0 489.1h1.05M198.5 489.2h1.05M210.8 500.0h1.05M238.3 485.8h1.05M217.7 468.8h1.05M223.5 467.3h1.05M235.0 493.4h1.05M253.5 488.7h1.05M206.9 492.1h1.05M226.4 454.2h1.05M227.2 469.4h1.05M246.6 461.2h1.05M212.4 492.0h1.05M233.9 497.0h1.05M246.9 459.9h1.05M249.7 489.4h1.05M220.8 490.8h1.05M199.4 478.5h1.05M214.3 473.5h1.05M210.4 493.8h1.05M203.5 468.9h1.05M213.6 473.6h1.05M221.2 496.6h1.05M220.3 462.0h1.05M236.4 456.6h1.05M210.3 492.4h1.05M222.2 500.5h1.05M242.9 476.4h1.05M212.6 490.4h1.05M247.2 468.3h1.05M241.0 454.2h1.05M215.4 464.4h1.05M241.2 456.8h1.05M215.2 499.1h1.05M241.3 488.8h1.05M224.7 469.2h1.05M241.2 481.0h1.05M214.3 476.2h1.05M227.7 462.1h1.05M245.1 479.7h1.05M204.0 466.2h1.05M222.8 454.3h1.05M214.4 494.7h1.05M228.5 486.4h1.05M250.7 494.9h1.05M236.1 498.7h1.05M233.4 482.1h1.05M245.1 461.9h1.05M222.4 465.9h1.05M238.5 459.6h1.05M222.4 498.2h1.05M209.1 461.0h1.05M202.8 470.2h1.05M220.1 494.9h1.05M199.2 481.3h1.05M230.4 467.5h1.05M216.4 484.1h1.05M246.2 481.3h1.05M239.9 467.7h1.05M242.7 478.2h1.05M231.6 461.3h1.05M209.5 473.7h1.05M239.9 473.3h1.05M226.6 487.8h1.05M242.7 469.9h1.05M237.2 470.2h1.05M225.2 493.6h1.05M249.3 469.3h1.05M214.7 501.1h1.05M229.1 493.4h1.05M200.1 476.5h1.05M210.3 485.8h1.05M232.8 460.2h1.05M224.5 485.4h1.05M226.2 501.5h1.05M201.8 478.3h1.05M223.2 477.2h1.05M249.9 464.6h1.05M214.5 489.7h1.05M222.9 487.4h1.05M201.6 490.4h1.05M230.2 491.4h1.05M215.7 455.4h1.05M238.2 482.7h1.05M214.2 461.4h1.05M206.2 458.3h1.05M201.1 472.4h1.05M221.8 493.5h1.05M234.9 494.3h1.05M235.9 458.9h1.05M248.8 494.7h1.05M208.0 467.1h1.05M220.5 496.9h1.05M217.1 456.8h1.05M209.8 488.1h1.05M247.1 460.4h1.05M233.9 461.8h1.05M233.8 474.7h1.05M231.0 476.0h1.05M229.4 457.1h1.05M244.5 462.8h1.05M205.4 476.3h1.05M224.9 497.7h1.05M244.8 458.5h1.05M236.9 482.2h1.05M247.9 481.3h1.05M238.5 461.5h1.05M212.5 500.8h1.05M219.7 483.0h1.05M247.4 456.9h1.05M246.1 479.9h1.05M233.5 488.4h1.05M204.0 490.1h1.05M236.8 494.2h1.05M234.8 493.9h1.05M228.1 462.0h1.05M237.2 463.0h1.05M215.6 461.3h1.05M205.2 487.6h1.05M209.3 473.7h1.05M239.6 483.4h1.05M238.8 464.9h1.05M233.2 483.2h1.05M238.1 466.6h1.05M218.9 474.8h1.05M239.5 494.5h1.05M217.3 467.1h1.05M214.2 494.3h1.05M197.8 487.8h1.05M229.7 456.1h1.05M228.5 478.4h1.05M225.3 466.5h1.05M236.3 454.1h1.05M210.1 478.3h1.05M225.3 468.2h1.05M224.0 473.3h1.05M229.7 481.9h1.05M246.1 476.1h1.05M228.1 460.0h1.05M233.2 481.5h1.05M221.0 492.0h1.05M226.3 462.0h1.05M225.0 465.0h1.05M210.9 457.2h1.05M203.4 495.0h1.05M246.3 466.0h1.05M211.4 482.8h1.05M215.3 453.8h1.05M240.5 474.0h1.05M217.9 453.2h1.05M226.2 467.2h1.05M214.6 497.2h1.05M212.8 465.1h1.05M220.3 475.0h1.05M222.7 481.7h1.05M199.2 488.4h1.05M209.4 472.0h1.05M219.9 453.6h1.05M215.1 462.1h1.05M230.0 460.3h1.05M252.0 473.9h1.05M207.6 500.4h1.05M254.1 476.1h1.05M229.9 497.2h1.05M211.3 474.0h1.05M205.4 469.1h1.05M198.9 489.3h1.05M213.6 470.0h1.05M210.0 491.1h1.05M227.8 460.4h1.05M242.6 484.0h1.05M217.0 457.9h1.05M216.6 466.8h1.05M233.9 471.9h1.05M248.0 465.3h1.05M251.8 471.5h1.05M199.8 487.4h1.05M237.5 462.7h1.05M229.9 472.6h1.05M202.1 474.1h1.05M210.2 477.4h1.05M242.3 493.8h1.05M205.5 495.3h1.05M220.4 498.8h1.05M200.6 483.1h1.05M235.9 494.7h1.05M208.2 480.0h1.05M239.3 459.1h1.05M231.7 482.5h1.05M226.4 454.9h1.05M238.5 473.6h1.05M235.0 456.8h1.05M234.7 472.8h1.05M200.6 477.6h1.05M243.9 460.7h1.05M204.2 495.9h1.05M210.6 458.9h1.05M247.2 481.9h1.05M210.6 457.6h1.05M236.4 486.1h1.05M243.1 471.6h1.05M207.5 461.3h1.05M213.1 488.1h1.05M251.0 470.4h1.05M212.3 492.0h1.05M223.0 493.3h1.05M223.0 488.6h1.05M247.2 476.0h1.05M227.0 496.9h1.05M208.3 484.0h1.05M210.2 464.1h1.05M226.3 467.2h1.05M232.1 495.3h1.05M215.8 488.9h1.05M224.4 482.8h1.05M238.5 458.5h1.05M209.5 472.8h1.05M219.7 458.2h1.05M206.9 493.3h1.05M214.6 477.2h1.05M225.5 453.5h1.05M247.2 463.1h1.05M227.7 492.7h1.05M218.3 494.1h1.05M244.3 497.7h1.05M232.5 457.2h1.05M220.4 458.0h1.05M251.2 484.2h1.05M224.2 501.5h1.05M255.3 485.5h1.05M207.0 480.3h1.05M199.8 479.1h1.05M203.1 475.2h1.05M235.1 501.7h1.05M204.9 482.0h1.05M255.9 490.2h1.05M201.9 491.8h1.05M247.0 481.8h1.05M255.2 483.1h1.05M224.7 478.0h1.05M239.6 495.3h1.05M213.7 469.5h1.05M217.6 455.7h1.05M246.5 480.4h1.05M212.8 486.1h1.05M219.7 468.3h1.05M207.6 457.6h1.05M244.6 469.4h1.05M250.9 474.6h1.05M218.8 464.2h1.05M237.2 501.0h1.05M210.1 461.2h1.05M242.1 454.6h1.05M252.7 481.1h1.05M237.6 491.7h1.05M241.2 472.9h1.05M240.6 486.8h1.05M217.1 491.0h1.05M214.7 470.9h1.05M239.9 490.7h1.05M220.7 458.6h1.05M219.4 455.9h1.05M232.6 462.3h1.05M236.9 497.1h1.05M209.3 502.2h1.05M221.5 495.5h1.05M224.9 474.5h1.05M239.1 461.3h1.05M218.1 478.5h1.05M232.0 501.1h1.05M254.4 481.4h1.05M210.8 456.4h1.05M246.2 470.4h1.05M245.5 460.4h1.05M211.7 453.4h1.05M245.4 459.6h1.05M212.4 456.5h1.05M217.6 466.6h1.05M221.6 473.1h1.05M220.3 463.3h1.05M219.2 480.1h1.05M222.7 476.4h1.05M250.5 477.0h1.05M235.4 491.1h1.05M227.3 459.0h1.05M239.8 473.3h1.05M233.2 469.8h1.05M220.1 489.6h1.05M209.4 500.5h1.05M217.5 475.6h1.05M209.5 485.1h1.05M238.9 474.4h1.05M231.6 491.2h1.05M206.5 482.6h1.05M201.7 490.6h1.05M252.4 478.1h1.05M231.2 454.2h1.05M226.1 500.2h1.05M244.6 467.9h1.05M236.4 492.1h1.05M215.7 477.5h1.05M226.2 482.3h1.05M225.3 476.9h1.05M225.0 460.6h1.05M213.4 487.8h1.05M207.4 494.7h1.05M216.0 486.2h1.05M231.9 499.5h1.05M241.5 499.5h1.05M223.9 478.7h1.05M200.7 478.2h1.05M239.3 481.0h1.05M218.1 477.1h1.05M202.3 489.6h1.05M213.4 487.3h1.05M236.0 492.4h1.05M219.1 485.1h1.05M226.6 474.3h1.05M237.1 486.2h1.05M246.1 459.7h1.05M213.6 484.3h1.05M228.6 488.1h1.05M246.6 487.1h1.05M217.7 494.9h1.05M227.5 462.9h1.05M234.3 456.2h1.05M253.9 493.7h1.05M252.9 487.2h1.05M215.3 457.0h1.05M254.4 480.0h1.05M211.3 453.0h1.05M227.9 489.7h1.05M247.6 480.7h1.05M211.9 453.6h1.05M236.5 489.8h1.05M231.2 470.1h1.05M255.0 483.7h1.05M226.8 480.6h1.05M200.4 488.6h1.05M220.0 478.1h1.05M253.0 483.9h1.05M247.2 489.0h1.05M247.9 479.5h1.05M241.2 473.4h1.05M240.2 457.5h1.05M212.9 499.8h1.05M225.4 478.9h1.05M232.2 500.2h1.05M230.6 490.4h1.05M215.2 474.7h1.05M206.4 455.2h1.05M231.2 492.8h1.05M230.8 464.6h1.05M226.0 464.1h1.05M200.9 486.6h1.05M219.4 453.7h1.05M245.7 469.3h1.05M225.0 491.2h1.05M249.2 489.4h1.05M243.8 465.6h1.05M237.5 456.4h1.05M234.3 499.9h1.05M232.8 487.9h1.05M249.7 492.5h1.05M236.3 491.6h1.05M248.6 455.9h1.05M231.0 461.5h1.05M239.4 463.3h1.05M228.2 500.8h1.05M254.7 492.7h1.05M242.2 457.6h1.05M232.3 462.0h1.05M203.7 482.5h1.05M232.1 461.7h1.05M225.9 478.9h1.05M206.8 496.3h1.05M215.1 485.2h1.05M220.6 490.1h1.05M206.6 495.5h1.05M233.0 476.3h1.05M210.5 483.6h1.05M211.9 502.2h1.05M229.2 463.4h1.05M241.3 498.9h1.05M248.0 472.5h1.05M220.5 466.2h1.05M216.1 460.3h1.05M215.0 502.1h1.05M242.6 496.7h1.05M207.4 469.3h1.05M233.5 457.5h1.05M215.6 471.6h1.05M252.2 475.5h1.05M220.4 501.8h1.05M236.6 485.3h1.05M251.9 481.8h1.05M253.8 480.2h1.05M237.4 461.0h1.05M216.5 461.4h1.05M231.5 501.6h1.05M228.1 479.8h1.05M234.7 462.5h1.05M240.1 489.9h1.05M223.9 496.3h1.05M225.1 499.1h1.05M256.6 491.8h1.05M240.9 476.3h1.05M227.9 483.0h1.05M230.5 481.8h1.05M229.8 490.5h1.05M244.8 494.5h1.05M248.6 472.2h1.05M240.8 472.3h1.05M246.8 472.3h1.05M247.9 468.3h1.05M251.6 478.7h1.05M248.2 475.1h1.05M250.4 471.2h1.05M225.8 481.0h1.05M252.7 478.1h1.05M240.9 495.6h1.05M226.9 465.0h1.05M231.1 484.8h1.05M235.3 498.5h1.05M235.3 471.8h1.05M244.1 488.2h1.05M230.8 492.0h1.05M251.7 493.8h1.05M247.6 477.4h1.05M251.2 465.8h1.05M252.1 493.6h1.05M247.8 484.3h1.05M207.6 465.5h1.05M209.1 497.5h1.05M233.2 493.8h1.05M246.8 492.8h1.05M246.4 483.8h1.05M215.9 455.2h1.05M245.6 459.5h1.05M245.9 475.2h1.05M247.2 493.9h1.05M215.5 460.7h1.05M225.9 495.7h1.05M229.4 473.2h1.05M223.7 472.1h1.05M250.2 479.2h1.05M237.5 472.7h1.05M249.0 481.6h1.05M245.1 473.4h1.05M233.0 488.9h1.05M248.2 489.1h1.05M227.9 463.9h1.05M240.8 470.3h1.05M253.0 479.7h1.05M238.2 500.5h1.05M252.2 484.5h1.05M241.0 488.7h1.05M236.8 462.2h1.05M231.6 484.7h1.05M237.1 471.7h1.05M208.6 481.5h1.05M207.2 463.3h1.05M241.9 461.1h1.05M244.3 491.9h1.05M242.1 479.6h1.05M238.8 496.7h1.05M227.0 463.9h1.05M240.9 483.2h1.05M223.0 464.2h1.05M243.1 487.8h1.05M245.5 467.4h1.05M238.1 491.8h1.05M234.1 463.1h1.05M242.4 460.9h1.05M241.0 457.4h1.05M245.7 495.2h1.05M241.7 495.4h1.05M235.2 481.2h1.05M248.5 478.0h1.05M246.8 465.3h1.05M248.7 478.0h1.05M238.1 464.1h1.05M230.9 468.5h1.05M243.7 473.2h1.05M252.5 470.6h1.05M211.3 472.0h1.05M225.6 482.0h1.05M248.7 494.6h1.05M233.2 455.8h1.05M222.3 481.2h1.05M244.2 496.2h1.05M253.4 481.8h1.05M233.5 497.6h1.05M250.3 470.9h1.05M256.1 491.7h1.05M215.9 485.3h1.05M245.7 458.7h1.05M251.5 478.3h1.05M232.7 474.8h1.05M243.7 460.4h1.05M232.7 484.6h1.05M238.0 472.8h1.05M247.1 455.0h1.05M245.9 481.1h1.05M251.6 477.5h1.05M230.5 472.8h1.05M248.9 462.0h1.05M247.4 463.5h1.05M238.2 471.2h1.05M227.8 470.1h1.05M249.1 473.7h1.05M226.5 485.4h1.05M212.7 463.8h1.05M219.6 495.1h1.05M231.4 474.2h1.05M255.0 490.3h1.05M244.1 463.2h1.05M239.3 490.0h1.05M249.2 478.0h1.05M248.2 475.5h1.05M251.9 471.0h1.05M221.1 488.5h1.05M242.3 499.1h1.05M237.1 498.1h1.05M207.4 466.9h1.05M242.7 500.6h1.05M246.6 465.3h1.05M224.8 481.3h1.05M224.3 501.7h1.05M218.7 471.8h1.05M228.0 494.2h1.05M230.2 470.8h1.05M236.1 472.2h1.05M237.5 462.6h1.05M217.0 492.0h1.05M242.2 494.9h1.05M240.7 459.9h1.05M231.9 485.5h1.05M228.2 494.4h1.05M239.0 481.6h1.05M250.4 483.6h1.05M249.0 471.3h1.05M247.2 490.0h1.05M231.7 471.5h1.05M246.9 484.3h1.05M234.7 460.7h1.05M232.0 492.5h1.05M235.1 492.8h1.05M239.3 473.6h1.05M242.5 499.2h1.05M245.6 468.3h1.05M239.5 500.1h1.05M215.4 501.9h1.05M215.5 498.2h1.05M228.2 483.3h1.05M234.2 487.8h1.05M241.1 485.6h1.05M245.6 457.4h1.05M243.3 479.5h1.05M249.0 456.9h1.05M225.0 465.1h1.05M247.9 474.5h1.05M248.6 472.8h1.05M224.2 501.5h1.05M247.0 482.5h1.05M219.8 469.9h1.05M245.5 473.7h1.05M239.4 490.0h1.05M249.9 463.3h1.05M236.4 476.4h1.05M235.3 499.3h1.05M249.7 491.4h1.05M225.3 453.7h1.05M241.0 492.0h1.05M250.6 483.1h1.05M250.5 487.6h1.05M229.7 484.2h1.05M249.3 473.1h1.05M246.7 488.1h1.05M247.4 491.1h1.05M225.8 478.6h1.05M203.0 492.7h1.05M236.0 453.8h1.05M213.5 498.2h1.05M215.4 467.8h1.05M218.1 489.4h1.05M234.7 486.5h1.05M225.8 458.1h1.05M251.4 471.4h1.05M249.0 494.2h1.05M219.3 457.7h1.05M230.5 492.9h1.05M233.2 477.5h1.05M238.9 469.4h1.05M246.7 482.5h1.05M245.0 483.9h1.05M250.3 485.6h1.05M239.0 476.2h1.05M223.8 501.2h1.05M251.6 477.6h1.05M242.5 498.4h1.05M253.4 477.0h1.05M242.1 487.6h1.05M242.3 500.1h1.05M207.9 478.1h1.05M243.1 499.3h1.05M231.0 464.9h1.05M241.1 484.8h1.05M252.6 473.4h1.05M242.3 480.5h1.05M249.5 487.3h1.05M251.2 476.5h1.05M227.8 497.2h1.05M240.1 476.0h1.05M252.8 474.6h1.05M225.3 501.7h1.05M227.4 460.4h1.05M246.3 455.9h1.05M251.5 467.1h1.05M231.9 463.3h1.05M217.1 459.8h1.05M219.7 501.4h1.05M213.3 457.6h1.05M224.9 469.6h1.05M207.6 495.8h1.05M241.6 474.5h1.05M244.8 482.4h1.05M239.4 472.0h1.05M220.6 473.5h1.05M253.3 483.4h1.05M252.3 493.8h1.05M226.0 498.4h1.05M237.0 499.2h1.05M245.1 488.3h1.05M232.5 478.4h1.05M251.7 485.9h1.05M244.5 466.0h1.05M224.6 477.7h1.05M249.2 492.8h1.05M254.4 488.0h1.05M215.7 486.7h1.05M252.9 478.7h1.05M254.5 487.6h1.05M246.9 454.9h1.05M248.1 477.8h1.05M252.2 487.7h1.05M244.9 497.7h1.05M227.5 466.1h1.05M238.4 489.8h1.05M236.8 496.0h1.05M244.5 487.8h1.05M249.1 493.9h1.05M228.5 498.4h1.05M242.8 491.7h1.05M219.3 491.6h1.05M225.0 459.4h1.05M246.9 464.9h1.05M231.5 493.1h1.05M244.5 468.3h1.05M235.8 465.2h1.05M239.7 490.3h1.05M214.8 471.3h1.05M241.4 494.1h1.05M253.5 479.9h1.05M244.5 480.1h1.05M256.4 487.0h1.05M239.6 490.5h1.05M236.9 485.9h1.05M232.2 486.4h1.05M251.6 484.7h1.05M236.5 466.7h1.05M255.2 483.2h1.05M245.4 493.9h1.05M205.4 476.2h1.05M250.8 489.2h1.05M232.6 468.6h1.05M231.6 461.4h1.05M231.9 476.4h1.05M226.4 492.4h1.05M202.2 491.7h1.05M225.4 500.0h1.05M245.1 498.3h1.05M224.0 497.7h1.05M235.9 495.9h1.05M237.4 495.0h1.05M240.7 491.9h1.05M232.3 487.1h1.05M235.3 500.3h1.05M232.8 453.9h1.05M248.5 485.4h1.05M233.1 494.3h1.05M206.6 498.7h1.05M207.0 493.4h1.05M212.2 469.1h1.05M247.0 497.8h1.05M201.9 491.6h1.05M239.8 501.7h1.05M212.6 498.4h1.05M240.3 485.4h1.05M254.6 480.2h1.05M220.9 486.0h1.05M234.6 489.3h1.05M206.3 489.0h1.05M240.7 487.4h1.05M217.7 490.4h1.05M211.7 484.7h1.05M242.5 496.6h1.05M222.9 493.4h1.05M242.7 488.0h1.05M210.6 456.5h1.05M230.2 454.6h1.05M230.4 454.8h1.05M241.5 454.7h1.05M205.8 458.3h1.05M229.7 459.0h1.05M231.9 454.0h1.05M220.6 455.4h1.05M234.1 456.3h1.05M238.9 458.8h1.05M220.0 460.9h1.05M241.3 454.8h1.05M246.8 496.0h1.05M217.1 501.4h1.05" stroke="#cc50da" stroke-opacity="0.5" stroke-width="1.05" fill="none"/>
<path d="M123.7 557.1h1.2M126.1 554.4h1.2M124.6 559.3h1.2M118.8 550.0h1.2M107.3 577.5h1.2M117.9 545.4h1.2M118.6 560.7h1.2M106.7 577.7h1.2M123.4 561.5h1.2M103.8 596.3h1.2M110.0 580.4h1.2M122.3 564.2h1.2M111.6 541.8h1.2M105.1 559.0h1.2M111.6 548.7h1.2M105.3 570.3h1.2M98.7 603.7h1.2M115.1 571.9h1.2M125.9 551.8h1.2M113.1 552.8h1.2M111.8 552.2h1.2M104.1 588.5h1.2M96.5 592.7h1.2M103.7 595.7h1.2M109.4 537.9h1.2M106.1 564.8h1.2M92.9 597.0h1.2M105.5 593.3h1.2M99.6 567.7h1.2M109.3 557.3h1.2M90.6 603.2h1.2M95.9 593.9h1.2M112.7 567.6h1.2M103.3 548.1h1.2M118.6 558.6h1.2M107.3 560.7h1.2M113.0 562.7h1.2M103.9 591.5h1.2M112.9 574.2h1.2M103.4 569.2h1.2M103.2 569.1h1.2M120.5 559.9h1.2M92.1 604.9h1.2M104.9 587.7h1.2M100.6 575.5h1.2M409.9 560.1h1.2M394.2 575.8h1.2M400.2 559.1h1.2M412.1 560.5h1.2M374.7 615.1h1.2M396.5 550.6h1.2M385.5 594.8h1.2M393.3 549.8h1.2M401.4 556.0h1.2M400.0 537.9h1.2M415.1 553.4h1.2" stroke="#707070" stroke-opacity="0.5" stroke-width="1.25" fill="none"/>
<path d="M172.0 519.2h1.05M192.7 492.7h1.05M168.1 519.3h1.05M155.9 528.9h1.05M180.0 516.6h1.05M183.0 502.0h1.05M193.8 486.1h1.05M189.8 521.5h1.05M156.6 525.0h1.05M159.9 522.9h1.05M163.4 516.9h1.05M185.3 503.4h1.05M148.1 534.2h1.05M166.9 514.5h1.05M137.6 555.4h1.05M175.5 519.8h1.05M145.8 534.2h1.05M142.2 547.7h1.05M188.9 493.2h1.05M168.7 519.5h1.05M141.7 547.0h1.05M188.6 490.2h1.05M193.9 497.7h1.05M194.9 491.1h1.05M179.5 500.0h1.05M172.7 519.5h1.05M144.4 538.0h1.05M149.8 537.5h1.05M176.7 503.2h1.05M188.5 489.8h1.05M176.1 502.3h1.05M184.7 491.0h1.05M183.9 499.7h1.05M190.6 503.7h1.05M150.4 530.7h1.05M171.4 509.8h1.05M172.9 523.0h1.05M171.0 520.1h1.05M161.1 522.9h1.05M190.6 492.8h1.05M172.2 499.2h1.05M160.8 521.5h1.05M178.1 521.1h1.05M146.0 550.5h1.05M136.8 548.1h1.05M157.9 533.4h1.05M159.5 530.5h1.05M159.9 522.8h1.05M160.9 519.8h1.05M196.4 485.7h1.05M173.0 514.3h1.05M156.8 537.8h1.05M149.3 538.6h1.05M188.9 497.0h1.05M154.6 539.6h1.05M173.4 514.2h1.05M194.8 489.6h1.05M139.0 549.6h1.05M185.8 503.9h1.05M156.8 537.0h1.05M155.6 537.0h1.05M188.5 492.5h1.05M148.8 537.0h1.05M183.4 506.6h1.05M182.6 496.5h1.05M189.7 485.0h1.05M177.2 509.3h1.05M143.9 539.6h1.05M175.8 507.5h1.05M142.5 538.4h1.05M171.3 515.3h1.05M192.6 486.1h1.05M156.7 522.2h1.05M161.4 528.2h1.05M189.1 494.8h1.05M169.5 523.6h1.05M171.3 516.6h1.05M161.6 520.2h1.05M188.3 494.1h1.05M176.0 503.6h1.05M176.4 509.5h1.05M193.8 495.2h1.05M170.6 515.4h1.05M197.6 489.4h1.05M191.2 488.5h1.05M191.1 502.4h1.05M192.0 497.4h1.05M199.3 492.5h1.05M170.6 508.3h1.05M162.1 522.8h1.05M157.0 524.5h1.05M164.9 530.9h1.05M165.8 534.3h1.05M160.2 528.7h1.05M186.5 495.7h1.05M194.3 499.0h1.05M183.4 513.2h1.05M144.1 541.3h1.05M186.1 496.1h1.05M196.8 488.6h1.05M146.7 532.3h1.05M187.5 491.7h1.05M162.3 510.4h1.05M146.5 536.3h1.05M186.3 491.5h1.05M146.2 541.1h1.05M189.8 497.6h1.05M189.6 502.4h1.05M160.9 523.8h1.05M178.5 503.0h1.05M142.7 530.5h1.05M171.7 505.8h1.05M175.4 507.8h1.05M180.4 511.6h1.05M133.3 546.9h1.05M185.8 502.3h1.05M185.9 503.8h1.05M166.3 513.5h1.05M183.4 500.9h1.05M176.5 496.2h1.05M179.3 507.1h1.05M144.8 539.1h1.05M168.0 524.9h1.05M143.1 537.7h1.05M151.8 540.0h1.05M169.1 523.5h1.05M176.6 507.6h1.05M187.8 509.6h1.05M150.0 531.5h1.05M178.5 498.5h1.05M158.1 528.2h1.05M192.9 503.5h1.05M167.1 522.3h1.05M190.6 484.5h1.05M146.8 536.5h1.05M187.1 506.3h1.05M149.9 532.0h1.05M160.1 519.9h1.05M164.2 534.2h1.05M175.9 520.6h1.05M130.2 548.6h1.05M172.8 502.1h1.05M192.2 497.1h1.05M181.7 507.0h1.05M160.2 526.2h1.05M156.3 530.9h1.05M150.6 534.1h1.05M172.6 519.3h1.05M169.8 521.9h1.05M167.5 526.8h1.05M186.5 505.1h1.05M177.1 505.7h1.05M177.6 506.0h1.05M164.1 520.6h1.05M197.0 489.6h1.05M131.4 551.3h1.05M158.8 522.6h1.05M171.7 513.1h1.05M186.2 497.1h1.05M168.9 516.7h1.05M190.8 505.1h1.05M199.5 494.6h1.05M196.5 486.4h1.05M190.9 495.7h1.05M165.6 518.9h1.05M176.7 504.2h1.05M181.1 508.2h1.05M171.4 502.6h1.05M166.1 521.3h1.05M177.3 506.7h1.05M173.0 505.2h1.05M192.7 495.8h1.05M195.5 495.9h1.05M136.9 550.8h1.05M186.7 501.5h1.05M167.7 512.5h1.05M173.7 514.7h1.05M184.9 509.8h1.05M181.3 497.2h1.05M189.6 484.8h1.05M170.4 520.8h1.05M158.5 523.6h1.05M189.4 497.3h1.05M158.6 527.1h1.05M189.4 496.0h1.05M185.4 506.2h1.05M166.4 517.5h1.05M164.0 523.0h1.05M157.9 535.2h1.05M169.9 514.9h1.05M150.4 522.2h1.05M141.7 541.0h1.05M179.2 502.7h1.05M173.5 506.6h1.05M190.2 499.1h1.05M164.7 521.6h1.05M172.5 508.2h1.05M155.7 526.6h1.05M164.2 512.5h1.05M167.5 514.9h1.05M195.3 501.7h1.05M167.4 507.6h1.05M184.5 512.8h1.05M181.6 503.6h1.05M181.8 500.1h1.05M178.4 499.3h1.05M179.8 509.6h1.05M156.7 527.1h1.05M196.0 485.1h1.05M167.5 517.7h1.05M183.9 511.1h1.05M187.1 495.3h1.05M174.3 510.3h1.05M179.7 514.2h1.05M166.7 512.5h1.05M163.7 527.2h1.05M183.3 517.3h1.05M161.6 524.0h1.05M179.0 496.2h1.05M158.9 532.8h1.05M147.5 536.5h1.05M146.1 548.2h1.05M156.4 532.7h1.05M195.9 491.2h1.05M166.2 514.0h1.05M193.5 499.2h1.05M152.4 536.5h1.05M175.3 513.2h1.05M176.4 512.2h1.05M178.7 509.9h1.05M195.4 489.7h1.05M176.7 498.9h1.05M158.0 524.5h1.05M173.4 510.4h1.05M185.1 507.6h1.05M193.0 499.4h1.05M193.6 486.1h1.05M147.8 535.4h1.05M182.5 499.6h1.05M181.5 506.4h1.05M168.3 519.6h1.05M195.3 494.2h1.05M159.7 522.5h1.05M170.9 513.2h1.05M163.3 536.0h1.05M187.8 491.0h1.05M177.1 513.9h1.05M179.0 513.1h1.05M171.0 516.1h1.05M152.4 534.3h1.05M180.3 505.1h1.05M180.5 505.5h1.05M183.2 501.4h1.05M175.8 513.2h1.05M150.1 536.2h1.05M190.8 493.5h1.05M177.3 512.8h1.05M159.3 528.6h1.05M174.6 503.8h1.05M160.2 526.1h1.05M186.9 508.1h1.05M170.7 518.3h1.05M194.7 501.0h1.05M174.6 501.4h1.05M179.3 509.4h1.05M173.5 500.8h1.05M188.8 501.1h1.05M161.8 520.7h1.05M159.0 526.5h1.05M144.2 545.4h1.05M166.1 515.2h1.05M158.2 524.0h1.05M196.3 487.2h1.05M147.4 543.9h1.05M196.2 485.0h1.05M177.9 502.5h1.05M195.1 491.1h1.05M172.7 506.0h1.05M176.4 501.2h1.05M165.6 523.8h1.05M177.5 505.4h1.05M196.2 499.3h1.05M193.9 486.3h1.05M176.5 518.8h1.05M190.8 493.1h1.05M170.6 516.9h1.05M152.4 517.4h1.05M179.0 507.4h1.05M154.5 526.9h1.05M200.9 493.3h1.05M172.3 499.2h1.05M178.8 507.6h1.05M163.7 523.8h1.05M160.4 516.7h1.05M150.0 540.4h1.05M186.4 496.3h1.05M197.1 489.7h1.05M173.0 518.9h1.05M163.1 517.8h1.05M174.4 494.2h1.05M176.3 511.9h1.05M183.8 503.7h1.05M184.7 499.8h1.05M185.8 496.2h1.05M188.9 491.5h1.05M162.2 525.0h1.05M185.9 503.8h1.05M185.0 498.4h1.05M189.5 504.7h1.05M159.4 525.9h1.05M157.9 532.9h1.05M164.8 520.9h1.05M190.5 495.9h1.05M181.9 510.8h1.05M187.2 503.6h1.05M176.6 517.6h1.05M150.7 543.6h1.05M140.9 546.8h1.05M165.6 526.2h1.05M154.9 535.6h1.05M145.0 545.5h1.05M177.9 514.2h1.05M154.8 533.2h1.05M196.6 491.2h1.05M171.6 518.9h1.05M155.5 526.1h1.05M183.0 509.3h1.05M171.9 521.5h1.05M148.1 526.8h1.05M173.5 518.4h1.05M196.1 486.4h1.05M194.1 487.7h1.05M193.8 497.1h1.05M173.6 507.9h1.05M179.2 509.2h1.05M152.3 530.9h1.05M165.4 514.1h1.05M175.3 522.7h1.05M161.2 521.1h1.05M192.5 486.6h1.05M168.8 515.9h1.05M189.5 508.4h1.05M159.0 518.1h1.05M146.3 548.0h1.05M148.2 540.4h1.05M163.9 522.8h1.05M162.6 530.9h1.05M187.7 494.2h1.05M160.7 538.1h1.05M167.9 510.4h1.05M158.7 529.6h1.05M184.9 506.9h1.05M165.6 525.7h1.05M161.9 531.2h1.05M189.1 496.3h1.05M172.5 523.6h1.05M187.3 493.8h1.05M180.6 503.8h1.05M171.6 511.0h1.05M165.8 519.6h1.05M151.5 537.3h1.05M180.3 503.9h1.05M148.2 538.2h1.05M182.3 510.0h1.05M200.1 495.7h1.05M160.4 507.5h1.05M172.4 510.8h1.05M168.9 513.9h1.05M135.9 548.4h1.05M157.9 523.9h1.05M162.1 519.4h1.05M187.5 507.5h1.05M179.4 500.9h1.05M174.3 517.4h1.05M188.4 484.9h1.05M159.5 531.2h1.05M195.5 501.8h1.05M189.6 503.2h1.05M186.4 495.5h1.05M196.4 485.1h1.05M158.3 527.1h1.05M172.4 522.8h1.05M175.6 513.8h1.05M192.9 495.2h1.05M187.6 502.5h1.05M171.6 508.8h1.05M156.0 517.9h1.05M182.4 500.9h1.05M171.9 512.1h1.05M155.7 533.4h1.05M188.1 499.0h1.05M188.3 518.5h1.05M190.4 493.7h1.05M178.2 505.2h1.05M195.7 491.4h1.05M183.8 515.4h1.05M195.6 503.2h1.05M180.1 512.3h1.05M194.1 497.6h1.05M161.6 516.1h1.05M157.8 537.9h1.05M196.6 491.7h1.05M180.7 510.4h1.05M140.1 553.9h1.05M183.9 504.2h1.05M132.8 549.1h1.05M179.6 504.4h1.05M190.7 490.1h1.05M197.5 495.4h1.05M177.5 509.6h1.05M172.1 515.7h1.05M185.3 498.9h1.05M184.1 502.3h1.05M173.4 506.7h1.05M157.9 530.3h1.05M194.8 485.3h1.05M175.2 513.8h1.05M187.9 497.5h1.05M181.4 508.5h1.05M161.6 532.6h1.05M135.8 554.9h1.05M183.2 504.9h1.05M159.4 533.4h1.05M165.6 518.4h1.05M192.7 494.0h1.05M177.1 512.8h1.05M152.0 526.8h1.05M182.9 500.1h1.05M157.7 542.8h1.05M180.2 508.5h1.05M193.1 495.2h1.05M181.9 509.1h1.05M142.2 544.6h1.05M147.6 537.5h1.05M175.0 510.5h1.05M195.4 498.3h1.05M200.1 497.1h1.05M180.1 503.8h1.05M195.7 490.7h1.05M163.8 526.6h1.05M164.3 516.1h1.05M190.5 497.2h1.05M178.1 516.0h1.05M168.3 526.4h1.05M195.0 507.4h1.05M175.1 510.4h1.05M177.5 510.2h1.05M161.2 532.1h1.05M183.0 506.5h1.05M151.7 543.5h1.05M166.8 521.2h1.05M170.4 506.6h1.05M148.4 534.6h1.05M186.4 490.5h1.05M188.5 499.8h1.05M198.8 491.9h1.05M152.8 532.1h1.05M183.2 491.7h1.05M160.9 526.7h1.05M163.4 520.0h1.05M171.4 512.0h1.05M155.7 532.0h1.05M157.5 544.9h1.05M192.3 490.0h1.05M184.4 493.6h1.05M186.7 506.2h1.05M181.9 499.2h1.05M184.7 490.4h1.05M164.5 519.7h1.05M182.2 496.8h1.05M147.0 540.0h1.05M176.7 499.7h1.05M162.5 532.3h1.05M166.9 512.6h1.05M159.6 527.1h1.05M189.7 490.9h1.05M151.3 532.4h1.05M162.3 526.6h1.05M169.3 513.9h1.05M189.9 496.0h1.05M150.5 544.1h1.05M180.6 522.3h1.05M148.6 543.9h1.05M174.5 512.6h1.05M167.9 520.6h1.05M165.4 513.8h1.05M192.8 487.0h1.05M138.8 541.6h1.05M196.2 493.0h1.05M186.3 499.7h1.05M187.2 497.3h1.05M154.7 547.4h1.05M139.9 552.7h1.05M198.2 491.3h1.05M174.5 512.7h1.05M189.1 500.7h1.05M142.8 535.0h1.05M186.1 501.3h1.05M185.7 507.5h1.05M173.1 524.3h1.05M176.3 509.2h1.05M186.9 508.7h1.05M187.6 496.8h1.05M193.9 482.7h1.05M189.2 499.4h1.05M153.9 529.3h1.05M175.4 518.9h1.05M173.7 515.8h1.05M178.2 499.4h1.05M165.7 518.5h1.05M176.5 512.9h1.05M183.6 511.4h1.05M148.9 522.3h1.05M192.9 497.0h1.05M165.8 513.0h1.05M178.8 506.5h1.05M151.9 529.8h1.05M152.3 540.8h1.05M154.7 534.6h1.05M186.0 511.9h1.05M161.9 533.3h1.05M178.2 504.0h1.05M193.2 479.4h1.05M186.9 498.3h1.05M190.4 492.7h1.05M166.6 521.0h1.05M172.3 509.9h1.05M190.7 491.8h1.05M183.4 508.1h1.05M147.7 541.0h1.05M185.9 496.4h1.05M136.5 553.5h1.05M171.9 509.3h1.05M157.5 529.7h1.05M179.6 513.1h1.05M161.5 522.4h1.05M174.2 504.0h1.05M194.8 492.7h1.05M171.4 512.9h1.05M193.0 504.8h1.05M158.9 527.3h1.05M187.9 494.5h1.05M160.3 519.1h1.05M133.0 539.9h1.05M160.7 520.9h1.05M173.7 513.3h1.05M188.9 491.6h1.05M179.2 510.5h1.05M172.4 520.0h1.05M158.1 533.1h1.05M185.9 496.3h1.05M165.8 515.9h1.05M194.0 497.6h1.05M176.8 505.6h1.05M192.6 489.7h1.05M155.9 527.5h1.05M152.6 542.8h1.05M183.2 491.3h1.05M168.9 524.9h1.05M169.1 523.2h1.05M176.4 520.3h1.05M149.2 540.8h1.05M191.2 509.4h1.05M180.7 510.7h1.05M196.0 484.8h1.05M168.9 508.7h1.05M180.5 506.3h1.05M189.5 499.9h1.05M196.4 491.9h1.05M168.3 524.9h1.05M200.4 493.1h1.05M156.9 514.4h1.05M157.2 529.5h1.05M177.0 509.5h1.05M175.9 514.4h1.05M174.0 507.5h1.05M176.7 517.3h1.05M189.6 497.2h1.05M161.2 534.0h1.05M188.3 494.0h1.05M180.9 504.8h1.05M194.9 483.0h1.05M189.1 491.3h1.05M177.2 507.3h1.05M171.2 511.9h1.05M193.2 495.1h1.05M175.8 513.5h1.05M177.0 509.5h1.05M180.2 506.3h1.05M134.7 545.3h1.05M194.4 489.1h1.05M163.0 522.3h1.05M157.8 524.3h1.05M155.7 535.9h1.05M159.5 530.7h1.05M183.2 497.9h1.05M182.5 500.9h1.05M175.2 510.7h1.05M182.3 504.5h1.05M172.0 523.8h1.05M149.7 535.7h1.05M159.8 522.8h1.05M176.7 511.8h1.05M198.1 491.9h1.05M181.2 498.7h1.05M150.3 534.5h1.05M185.1 502.3h1.05M159.7 527.8h1.05M194.0 482.1h1.05M194.6 493.8h1.05M190.3 504.7h1.05M195.7 494.0h1.05M177.0 502.5h1.05M175.2 504.6h1.05M181.3 504.4h1.05M187.1 493.9h1.05M179.4 501.8h1.05M175.4 500.2h1.05M156.6 532.4h1.05M172.4 518.9h1.05M180.3 505.1h1.05M186.7 502.9h1.05M185.8 500.7h1.05M190.3 505.8h1.05M185.3 499.8h1.05M138.8 547.5h1.05M179.4 498.9h1.05M181.9 503.6h1.05M154.5 529.2h1.05M157.5 525.5h1.05M173.1 522.3h1.05M158.1 532.9h1.05M154.8 537.9h1.05M190.5 497.2h1.05M161.7 518.7h1.05M181.9 504.2h1.05M161.7 531.0h1.05M177.4 503.2h1.05M180.3 504.5h1.05M165.5 520.5h1.05M159.5 533.2h1.05M151.9 534.7h1.05M157.5 532.9h1.05M151.9 532.8h1.05M171.7 515.7h1.05M173.7 504.5h1.05M191.7 491.2h1.05M190.8 498.7h1.05M184.4 504.3h1.05M178.9 509.5h1.05M180.0 506.5h1.05M191.3 500.1h1.05M189.5 500.7h1.05M177.2 509.7h1.05M159.4 517.1h1.05M195.7 509.6h1.05M158.7 522.8h1.05M191.7 504.3h1.05M163.1 522.1h1.05M175.8 518.4h1.05M187.8 493.3h1.05M194.6 491.7h1.05M171.8 512.0h1.05M144.5 547.3h1.05M156.3 536.4h1.05M194.2 493.0h1.05M166.1 506.2h1.05M174.4 512.8h1.05M152.8 527.5h1.05M188.0 508.4h1.05M151.5 532.4h1.05M165.7 507.6h1.05M192.3 493.3h1.05M143.0 535.7h1.05M174.2 504.5h1.05M180.1 509.0h1.05M186.4 489.7h1.05M153.6 540.7h1.05M152.0 534.6h1.05M144.2 547.4h1.05M191.7 493.1h1.05M199.9 499.2h1.05M185.0 500.0h1.05M142.3 543.9h1.05M169.2 525.1h1.05M166.2 511.1h1.05M141.7 535.1h1.05M172.9 516.8h1.05M133.9 548.3h1.05M194.7 485.0h1.05M165.3 524.1h1.05M187.2 483.0h1.05M193.6 492.9h1.05M191.2 491.3h1.05M144.8 535.0h1.05M147.4 543.9h1.05M161.8 528.1h1.05M181.4 513.4h1.05M153.0 530.0h1.05M178.4 501.6h1.05M185.5 516.8h1.05M196.9 494.3h1.05M192.2 498.2h1.05M179.1 501.2h1.05M163.9 519.4h1.05M167.8 523.4h1.05M184.4 482.3h1.05M187.3 490.1h1.05M153.0 535.1h1.05M158.5 515.4h1.05M184.2 506.0h1.05M170.2 514.2h1.05M187.6 486.9h1.05M190.6 494.8h1.05M191.7 493.8h1.05M189.0 495.9h1.05M165.8 523.7h1.05M176.3 499.2h1.05M164.6 517.7h1.05M177.0 511.7h1.05M192.6 494.3h1.05M184.6 502.3h1.05M183.2 520.5h1.05M193.4 489.2h1.05M181.0 500.6h1.05M170.9 518.8h1.05M164.3 520.1h1.05M149.2 542.7h1.05M177.9 506.5h1.05M188.5 508.2h1.05M193.8 487.3h1.05M179.1 504.9h1.05M154.3 537.4h1.05M193.6 492.4h1.05M194.4 497.1h1.05M198.7 491.8h1.05M167.4 524.3h1.05M179.8 498.1h1.05M169.0 522.8h1.05M182.0 504.4h1.05M159.9 528.5h1.05M174.9 505.9h1.05M140.9 549.0h1.05M186.5 504.9h1.05M189.4 499.1h1.05M171.1 518.6h1.05M188.0 499.3h1.05M171.3 513.9h1.05M171.6 518.1h1.05M170.5 514.9h1.05M155.1 530.9h1.05M189.2 500.1h1.05M175.8 517.0h1.05M189.4 508.2h1.05M163.0 531.0h1.05M179.6 507.5h1.05M162.2 519.5h1.05M184.8 503.9h1.05M174.9 505.3h1.05M160.1 520.4h1.05M169.3 505.3h1.05M193.3 501.1h1.05M171.7 522.3h1.05M130.5 549.9h1.05M176.7 510.7h1.05M177.6 511.4h1.05M190.1 506.2h1.05M191.8 503.9h1.05M178.9 502.1h1.05M185.9 502.8h1.05M167.8 509.0h1.05M162.1 524.1h1.05M160.3 526.9h1.05M176.7 508.2h1.05M139.9 540.1h1.05M170.6 529.9h1.05M177.2 505.4h1.05M194.5 492.0h1.05M154.4 538.0h1.05M193.7 490.4h1.05M190.8 505.0h1.05M190.1 505.6h1.05M142.3 546.4h1.05M172.6 513.6h1.05M172.0 518.5h1.05M142.5 546.7h1.05M179.5 514.6h1.05M187.1 488.9h1.05M191.5 501.2h1.05M190.1 495.8h1.05M178.6 517.5h1.05M183.7 510.6h1.05M170.8 515.2h1.05M177.1 509.7h1.05M159.2 524.9h1.05M131.0 550.0h1.05M170.6 515.0h1.05M197.8 493.8h1.05M164.3 521.2h1.05M148.4 530.4h1.05M163.9 522.9h1.05M144.3 536.0h1.05M189.5 497.3h1.05M146.3 545.1h1.05M142.2 550.9h1.05M196.8 496.8h1.05M172.9 508.5h1.05M131.6 539.2h1.05M184.1 502.1h1.05M188.6 496.2h1.05M156.3 535.2h1.05M171.4 519.5h1.05M184.3 500.2h1.05M160.1 526.9h1.05M196.7 495.0h1.05M190.5 491.5h1.05M177.5 495.0h1.05M194.0 494.3h1.05M140.9 546.9h1.05M165.0 518.2h1.05M161.2 533.5h1.05M182.6 502.8h1.05M155.8 532.3h1.05M184.4 513.0h1.05M163.7 515.9h1.05M154.5 537.5h1.05M168.9 509.3h1.05M177.6 513.2h1.05M195.5 487.5h1.05M160.2 523.6h1.05M148.5 542.6h1.05M203.0 499.0h1.05M152.8 522.5h1.05M142.2 543.1h1.05M163.4 517.8h1.05M183.4 510.3h1.05M196.7 489.7h1.05M174.1 506.5h1.05M172.2 519.6h1.05M189.0 501.3h1.05M157.0 528.7h1.05M169.1 522.4h1.05M154.0 534.8h1.05M193.8 498.2h1.05M186.3 492.8h1.05M155.2 535.4h1.05M152.8 539.7h1.05M197.1 483.3h1.05M199.7 508.9h1.05M179.2 516.8h1.05M173.6 514.4h1.05M188.5 494.1h1.05M190.7 493.8h1.05M179.5 506.6h1.05M135.1 554.8h1.05M179.5 498.3h1.05M151.1 528.4h1.05M191.5 503.0h1.05M181.7 495.9h1.05M183.8 515.3h1.05M172.3 513.1h1.05M150.1 527.3h1.05M190.1 490.3h1.05M167.1 530.2h1.05M152.1 536.0h1.05M186.5 493.1h1.05M174.2 515.4h1.05M181.8 500.4h1.05M179.2 499.8h1.05M180.0 496.4h1.05M189.7 496.6h1.05M145.0 545.0h1.05M164.2 532.0h1.05M174.0 522.4h1.05M169.9 523.0h1.05M150.5 526.9h1.05M144.6 538.6h1.05M197.1 492.5h1.05M177.7 507.1h1.05M191.6 495.4h1.05M194.2 489.2h1.05M181.6 504.9h1.05M147.4 546.0h1.05M177.4 512.5h1.05M157.2 520.4h1.05M135.7 548.5h1.05M148.4 531.1h1.05M174.9 501.1h1.05M186.2 506.5h1.05M163.0 523.6h1.05M192.9 509.1h1.05M134.8 556.7h1.05M196.4 493.2h1.05M165.8 517.7h1.05M186.2 495.6h1.05M148.3 543.7h1.05M176.2 507.2h1.05M175.0 517.9h1.05M169.6 523.4h1.05M186.9 500.9h1.05M178.9 501.8h1.05M169.4 525.2h1.05M183.4 499.6h1.05M187.2 499.5h1.05M157.5 534.6h1.05M171.1 513.6h1.05M188.0 495.8h1.05M180.0 498.2h1.05M190.7 503.0h1.05M169.8 528.3h1.05M145.3 536.6h1.05M165.2 534.4h1.05M156.1 542.7h1.05M140.3 554.1h1.05M174.7 508.2h1.05M137.2 541.2h1.05M163.9 519.2h1.05M166.7 524.0h1.05M160.2 536.5h1.05M199.9 495.7h1.05M175.4 515.0h1.05M171.9 512.9h1.05M149.6 526.7h1.05M196.1 486.9h1.05M165.9 528.7h1.05M200.0 492.3h1.05M166.6 521.9h1.05M197.6 489.9h1.05M194.6 507.8h1.05M167.5 523.3h1.05M179.6 506.1h1.05M181.1 497.4h1.05M171.2 512.5h1.05M187.9 502.1h1.05M176.0 508.2h1.05M153.9 537.2h1.05M187.3 496.9h1.05M205.0 499.8h1.05M185.5 499.2h1.05M181.3 512.1h1.05M167.9 514.9h1.05M154.2 535.6h1.05M199.3 493.6h1.05M181.2 507.7h1.05M184.2 492.1h1.05M166.9 530.2h1.05M199.5 492.1h1.05M184.5 496.8h1.05M164.8 519.6h1.05M162.4 529.0h1.05M160.1 522.0h1.05M157.0 522.0h1.05M161.5 526.3h1.05M182.1 509.9h1.05M186.3 497.6h1.05M195.7 491.8h1.05M175.6 513.7h1.05M160.3 534.6h1.05M185.6 502.5h1.05M187.3 501.1h1.05M161.6 522.9h1.05M143.8 540.8h1.05M177.9 505.7h1.05M170.2 512.8h1.05M141.2 551.4h1.05M174.1 510.7h1.05M180.8 500.0h1.05M183.8 497.0h1.05M182.4 503.1h1.05M173.5 515.8h1.05M186.8 495.5h1.05M167.9 511.8h1.05M171.8 515.6h1.05M197.6 494.4h1.05M148.8 531.1h1.05M191.6 491.5h1.05M173.5 500.4h1.05M172.6 529.3h1.05M185.5 493.7h1.05M170.1 508.2h1.05M183.4 504.1h1.05M195.3 488.3h1.05M195.8 494.9h1.05M183.9 496.6h1.05M194.5 492.0h1.05M195.3 493.9h1.05M192.9 505.0h1.05M153.9 532.2h1.05M177.3 503.3h1.05M190.4 498.4h1.05M144.9 537.0h1.05M169.1 523.1h1.05M172.0 515.9h1.05M177.1 509.8h1.05M185.4 490.4h1.05M170.4 505.9h1.05M177.2 505.0h1.05M172.5 513.3h1.05M160.3 512.5h1.05M177.3 505.5h1.05M191.2 496.0h1.05M182.3 499.7h1.05M183.5 508.4h1.05M197.4 489.9h1.05M185.7 510.3h1.05M185.1 496.3h1.05M146.5 522.2h1.05M192.7 487.9h1.05M188.1 503.9h1.05M141.0 542.9h1.05M175.3 502.9h1.05M149.4 547.9h1.05M190.8 503.3h1.05M150.7 535.5h1.05M181.0 507.2h1.05M176.6 509.3h1.05M163.1 514.0h1.05M153.4 535.1h1.05M191.4 490.9h1.05M171.7 509.3h1.05M188.7 504.1h1.05M166.5 519.8h1.05M178.8 500.5h1.05M170.3 519.3h1.05M173.8 514.4h1.05M190.5 494.5h1.05M177.6 510.4h1.05M152.1 536.1h1.05M185.4 494.6h1.05M195.2 504.2h1.05M143.5 544.7h1.05M156.7 513.6h1.05M142.6 550.3h1.05M136.1 540.9h1.05M197.9 490.4h1.05M164.1 532.1h1.05M150.3 534.2h1.05M151.0 534.7h1.05M163.9 529.9h1.05M182.5 507.5h1.05M172.4 517.1h1.05M162.9 522.2h1.05M134.9 552.1h1.05M185.6 488.0h1.05M161.9 521.6h1.05M186.6 498.4h1.05M182.0 507.9h1.05M190.0 499.0h1.05M183.3 494.1h1.05M195.7 485.0h1.05M133.5 538.6h1.05M154.1 531.0h1.05M189.0 506.3h1.05M196.4 490.1h1.05M164.7 516.2h1.05M153.6 533.2h1.05M171.1 513.4h1.05M161.6 516.2h1.05M151.3 528.7h1.05M173.5 510.7h1.05M191.2 499.4h1.05M164.9 516.9h1.05M192.4 488.4h1.05M166.8 509.7h1.05M196.2 488.6h1.05M155.4 523.2h1.05M179.8 517.1h1.05M159.5 526.7h1.05M152.3 513.4h1.05M199.1 494.9h1.05M158.2 527.0h1.05M174.7 511.7h1.05M173.7 507.5h1.05M153.0 526.7h1.05M173.0 507.4h1.05M139.5 545.2h1.05M164.0 523.9h1.05M179.9 517.8h1.05M165.3 522.6h1.05M171.8 518.9h1.05M198.8 492.6h1.05M187.7 492.4h1.05M189.1 489.8h1.05M185.3 494.3h1.05M162.1 533.4h1.05M165.0 511.6h1.05M162.0 527.4h1.05M197.1 482.7h1.05M148.0 554.5h1.05M176.3 500.5h1.05M130.6 547.6h1.05M169.7 512.7h1.05M180.7 497.4h1.05M195.5 494.6h1.05M158.8 532.9h1.05M152.0 540.2h1.05M201.2 497.6h1.05M197.3 482.0h1.05M165.1 521.7h1.05M165.7 517.7h1.05M152.3 529.0h1.05M171.8 528.1h1.05M175.6 504.3h1.05M196.2 503.6h1.05M169.7 518.4h1.05M196.4 486.2h1.05M187.3 490.9h1.05M193.5 497.8h1.05M143.1 544.3h1.05M184.0 500.9h1.05M192.4 489.4h1.05M190.1 494.7h1.05M153.6 530.3h1.05M191.4 495.2h1.05M169.6 504.5h1.05M191.8 495.6h1.05M193.0 499.1h1.05M196.9 494.0h1.05M182.1 495.1h1.05M176.3 510.4h1.05M175.0 512.9h1.05M182.4 510.9h1.05M196.3 495.2h1.05M160.1 532.8h1.05M171.9 513.3h1.05M189.5 500.8h1.05M172.2 513.1h1.05M173.8 502.2h1.05M183.8 504.3h1.05M178.4 506.3h1.05M156.6 519.6h1.05M199.2 495.0h1.05M170.7 512.9h1.05M163.0 525.8h1.05M184.3 503.9h1.05M189.8 494.8h1.05M187.8 499.4h1.05M173.4 518.6h1.05M163.0 518.2h1.05M168.3 509.2h1.05M190.8 501.7h1.05M187.3 502.0h1.05M187.3 493.8h1.05M192.2 500.5h1.05M177.3 501.0h1.05M157.0 530.1h1.05M195.1 493.0h1.05M160.2 526.3h1.05M190.2 498.8h1.05M155.4 527.9h1.05M189.7 485.8h1.05M167.0 515.5h1.05M168.2 521.9h1.05M166.4 520.3h1.05M152.5 533.8h1.05M174.0 510.3h1.05M197.6 495.5h1.05M158.7 524.5h1.05M195.4 492.5h1.05M169.9 510.5h1.05M157.9 533.9h1.05M192.5 496.5h1.05M137.8 552.8h1.05M179.6 497.9h1.05M145.3 549.0h1.05M134.0 550.4h1.05M170.0 516.1h1.05M182.9 505.9h1.05M194.6 497.1h1.05M182.7 500.0h1.05M183.2 505.0h1.05M187.7 498.2h1.05M160.6 525.7h1.05M183.0 496.9h1.05M167.2 518.7h1.05M198.1 495.4h1.05M150.2 529.9h1.05M158.0 518.0h1.05M183.2 511.9h1.05M135.9 542.0h1.05M153.3 531.0h1.05M180.9 501.1h1.05M170.1 517.5h1.05M168.3 515.4h1.05M189.9 498.8h1.05M157.8 525.3h1.05M159.7 519.4h1.05M189.5 511.6h1.05M192.7 493.8h1.05M186.6 491.2h1.05M157.6 524.2h1.05M137.6 545.8h1.05M196.6 495.4h1.05M178.3 502.5h1.05M156.0 533.5h1.05M157.8 526.6h1.05M169.0 512.9h1.05M156.7 534.4h1.05M186.1 501.9h1.05M183.8 495.7h1.05M180.0 510.4h1.05M187.1 490.7h1.05M198.0 491.2h1.05M169.3 516.5h1.05M166.1 534.7h1.05M148.2 541.7h1.05M178.3 521.5h1.05M151.7 538.7h1.05M168.1 515.8h1.05M172.2 518.8h1.05M162.4 514.7h1.05M181.2 497.2h1.05M168.9 516.8h1.05M169.3 526.9h1.05M191.7 500.3h1.05M182.5 495.0h1.05M189.2 483.7h1.05M163.0 525.2h1.05M176.8 499.4h1.05M197.1 481.5h1.05M161.5 520.7h1.05M168.1 511.8h1.05M147.5 533.6h1.05M163.3 529.1h1.05M194.9 486.7h1.05M151.8 534.9h1.05M196.9 491.6h1.05M192.7 496.2h1.05M186.1 499.2h1.05M161.2 520.3h1.05M182.7 502.8h1.05M193.4 483.0h1.05M172.7 512.8h1.05M197.1 496.7h1.05M189.4 500.2h1.05M170.2 496.6h1.05M191.3 498.0h1.05M136.9 553.3h1.05M176.3 507.5h1.05M142.8 548.1h1.05M180.9 509.3h1.05M173.5 511.6h1.05M182.5 501.8h1.05M162.6 516.1h1.05M195.6 496.7h1.05M177.3 494.5h1.05M197.4 490.6h1.05M146.8 540.0h1.05M188.2 494.9h1.05M169.4 516.3h1.05M188.7 491.5h1.05M170.3 509.8h1.05M157.8 539.1h1.05M190.8 492.8h1.05M171.2 523.5h1.05M186.7 504.1h1.05M151.7 536.0h1.05M166.0 522.1h1.05M142.9 543.3h1.05M176.3 515.8h1.05M178.0 507.4h1.05M192.2 497.9h1.05M180.0 509.4h1.05M162.9 519.3h1.05M170.3 515.5h1.05M183.3 508.7h1.05M197.4 494.3h1.05M176.0 503.1h1.05M174.8 510.6h1.05M175.9 503.3h1.05M158.7 532.6h1.05M171.0 509.1h1.05M179.2 495.3h1.05M172.7 506.0h1.05M172.3 506.2h1.05M178.1 522.9h1.05M180.4 501.8h1.05M176.5 514.2h1.05M193.0 488.0h1.05M175.4 513.0h1.05M157.6 536.4h1.05M167.5 524.4h1.05M168.0 524.1h1.05M188.6 495.8h1.05M147.8 541.7h1.05M175.5 511.4h1.05M153.2 530.0h1.05M185.8 513.6h1.05M176.0 503.8h1.05M175.5 502.4h1.05M175.8 506.9h1.05M184.6 508.3h1.05M192.0 491.3h1.05M151.2 536.8h1.05M180.7 500.7h1.05M183.5 510.2h1.05M157.7 530.7h1.05M152.3 534.7h1.05M189.2 505.7h1.05M168.1 512.9h1.05M198.4 496.6h1.05M162.1 529.6h1.05M131.2 548.0h1.05M168.4 516.8h1.05M176.5 512.8h1.05M184.9 494.5h1.05M146.2 535.1h1.05M194.8 500.1h1.05M198.1 505.2h1.05M199.8 496.4h1.05M168.0 522.2h1.05M173.4 513.6h1.05M192.8 487.0h1.05M168.8 522.5h1.05M162.7 520.6h1.05M148.2 538.8h1.05M173.1 514.1h1.05M185.2 506.4h1.05M174.9 515.0h1.05M170.1 502.6h1.05M141.2 541.9h1.05M177.3 515.2h1.05M170.7 523.9h1.05M175.5 515.8h1.05M199.0 493.4h1.05M162.6 517.1h1.05M169.8 516.4h1.05M157.1 530.2h1.05M188.7 503.4h1.05M175.9 511.2h1.05M155.8 527.7h1.05M175.1 517.4h1.05M168.4 518.6h1.05M179.5 500.2h1.05M182.3 484.9h1.05M186.7 493.4h1.05M134.7 571.8h1.05M194.5 519.5h1.05M190.6 500.8h1.05M156.9 538.9h1.05M190.5 497.4h1.05M168.2 516.2h1.05M197.6 489.2h1.05M180.9 520.6h1.05M137.9 539.0h1.05M177.9 490.8h1.05M181.7 513.3h1.05M199.8 476.0h1.05M180.3 511.6h1.05M184.4 484.8h1.05M195.3 493.8h1.05M177.9 501.3h1.05M186.1 490.9h1.05M179.7 516.7h1.05M157.1 519.7h1.05M139.6 510.1h1.05M163.7 503.3h1.05M173.4 508.6h1.05M151.3 529.5h1.05M131.0 538.0h1.05M156.4 521.2h1.05M181.8 520.0h1.05M171.6 520.1h1.05M192.3 500.5h1.05M173.4 521.2h1.05M196.5 512.3h1.05M188.9 476.8h1.05M150.6 557.0h1.05M197.9 496.9h1.05M170.6 501.2h1.05M192.9 504.0h1.05M176.1 506.8h1.05M178.9 523.4h1.05M187.2 466.1h1.05M170.3 493.4h1.05M160.1 534.8h1.05M171.4 516.7h1.05M140.1 558.4h1.05M198.0 495.8h1.05M191.1 472.8h1.05M140.2 525.7h1.05M170.1 535.0h1.05M185.0 507.2h1.05M195.9 491.5h1.05M160.5 524.9h1.05M185.4 526.9h1.05M142.1 535.7h1.05M149.2 545.6h1.05M167.4 543.2h1.05M188.3 490.1h1.05M165.9 517.3h1.05M163.7 493.6h1.05M190.8 513.8h1.05M142.7 561.7h1.05M153.0 564.4h1.05M147.3 541.6h1.05M199.0 495.3h1.05M168.1 531.4h1.05M210.5 502.8h1.05M153.2 541.8h1.05M154.4 542.9h1.05M145.2 550.4h1.05M181.9 506.9h1.05M184.1 520.9h1.05M181.6 518.8h1.05M170.3 501.4h1.05M145.7 527.8h1.05M158.7 536.4h1.05M183.5 498.8h1.05M199.3 493.4h1.05M183.5 522.7h1.05M174.9 494.5h1.05M144.0 552.1h1.05M191.2 481.9h1.05M162.9 525.5h1.05M176.1 495.5h1.05M169.0 483.5h1.05M186.9 494.6h1.05M175.8 493.3h1.05M135.5 556.3h1.05M146.0 544.2h1.05M177.3 524.6h1.05M150.7 546.0h1.05M171.7 486.1h1.05M178.2 482.2h1.05M152.9 521.4h1.05M172.1 513.2h1.05M195.7 494.5h1.05M136.2 541.9h1.05M193.3 498.3h1.05M161.6 511.7h1.05M163.1 541.4h1.05M133.9 548.1h1.05M163.8 515.9h1.05M150.9 529.9h1.05M155.4 533.1h1.05M189.3 520.6h1.05M193.3 496.9h1.05M196.8 505.1h1.05M137.4 540.6h1.05M199.1 499.9h1.05M204.0 498.7h1.05M161.3 512.8h1.05M194.7 479.1h1.05M186.4 502.1h1.05M185.2 489.9h1.05M182.0 508.9h1.05M169.2 543.6h1.05M149.4 509.5h1.05M169.3 499.6h1.05M167.4 517.9h1.05M195.5 499.2h1.05M152.6 536.0h1.05M146.2 551.1h1.05M192.5 517.0h1.05M168.1 507.6h1.05M168.1 542.2h1.05M161.7 501.4h1.05M182.5 519.2h1.05M147.1 547.3h1.05M165.7 514.8h1.05M172.8 518.7h1.05M177.9 502.3h1.05M202.4 516.1h1.05M158.4 540.6h1.05M159.3 531.2h1.05M192.1 502.8h1.05M170.4 526.6h1.05M175.8 529.2h1.05M169.4 524.7h1.05M137.2 541.0h1.05M173.9 510.7h1.05M167.6 504.9h1.05M183.8 483.3h1.05M177.2 515.5h1.05M188.7 491.1h1.05M185.9 499.9h1.05M195.8 502.2h1.05M185.7 517.0h1.05M175.0 515.6h1.05M137.0 545.0h1.05M154.6 545.3h1.05M170.9 505.8h1.05M177.7 528.8h1.05M133.1 541.5h1.05M196.3 504.5h1.05M156.4 531.1h1.05M182.2 522.9h1.05M170.3 520.4h1.05M146.2 542.5h1.05M192.1 503.8h1.05M146.9 545.5h1.05M130.9 547.6h1.05M164.5 514.1h1.05M181.9 504.3h1.05M165.5 505.6h1.05M145.7 514.1h1.05M160.1 520.5h1.05M194.4 528.8h1.05M181.7 510.0h1.05M189.3 511.4h1.05M184.7 515.5h1.05M172.5 517.1h1.05M136.0 548.6h1.05M155.3 509.5h1.05M137.3 535.8h1.05M168.3 499.6h1.05M168.8 497.6h1.05M166.8 498.3h1.05M186.9 504.1h1.05M182.4 475.1h1.05M147.8 566.2h1.05M197.8 476.9h1.05M192.0 501.9h1.05M158.3 535.1h1.05M155.9 539.6h1.05M183.6 502.8h1.05M160.2 525.5h1.05M135.8 555.7h1.05M159.2 543.2h1.05M163.4 536.1h1.05M173.7 517.4h1.05M154.6 511.7h1.05M181.4 492.9h1.05M189.9 498.9h1.05M140.6 567.0h1.05M183.8 526.5h1.05M184.8 493.9h1.05M197.2 481.3h1.05M167.9 505.8h1.05M160.8 536.6h1.05M196.0 494.9h1.05M177.6 474.0h1.05M202.7 502.0h1.05M151.3 504.9h1.05M168.8 535.7h1.05M227.3 507.4h1.05M177.1 488.1h1.05M153.4 527.3h1.05M174.1 515.7h1.05M147.1 548.7h1.05M169.7 511.1h1.05M200.0 504.3h1.05M174.8 506.5h1.05M177.7 510.5h1.05M202.8 495.7h1.05M172.3 491.2h1.05M170.6 501.8h1.05M182.4 490.9h1.05M198.2 477.6h1.05M152.8 545.5h1.05M193.3 503.4h1.05M141.6 524.7h1.05M155.2 532.3h1.05M194.9 508.9h1.05M168.5 534.2h1.05M174.6 516.5h1.05M170.5 506.5h1.05M160.6 524.2h1.05M179.9 486.6h1.05M175.8 473.4h1.05M192.4 502.8h1.05M188.7 517.5h1.05M203.3 514.4h1.05M183.1 525.4h1.05M170.4 525.1h1.05M182.7 503.4h1.05M161.1 530.6h1.05M191.3 506.6h1.05M179.2 490.5h1.05M189.4 500.2h1.05M182.4 499.5h1.05M182.2 516.2h1.05M156.2 542.0h1.05M160.9 494.1h1.05M176.1 486.8h1.05M141.3 547.1h1.05M189.0 506.2h1.05M148.6 526.7h1.05M193.4 494.9h1.05M194.0 492.2h1.05M141.1 539.0h1.05M149.4 529.0h1.05M193.0 498.8h1.05M179.4 525.7h1.05M165.9 512.2h1.05M193.7 501.2h1.05M192.2 497.7h1.05M190.5 487.4h1.05M171.3 507.1h1.05M157.5 515.4h1.05M184.0 505.0h1.05M188.7 506.8h1.05M187.0 494.9h1.05M174.4 484.6h1.05M141.3 547.8h1.05M161.6 523.5h1.05M158.8 522.1h1.05M155.5 548.9h1.05M126.5 548.9h1.05M179.0 502.3h1.05M166.5 522.4h1.05M176.3 493.4h1.05M170.5 519.3h1.05M176.4 481.3h1.05M174.9 500.8h1.05M170.0 511.9h1.05M183.0 482.6h1.05M173.0 521.7h1.05M144.7 546.4h1.05M154.6 520.3h1.05M176.1 511.7h1.05M145.7 530.3h1.05M151.1 531.5h1.05M186.2 495.8h1.05M192.0 514.6h1.05M176.5 495.6h1.05M200.6 493.1h1.05M186.7 516.9h1.05M188.5 506.9h1.05M208.3 508.3h1.05M169.6 500.3h1.05M176.0 493.1h1.05M147.8 549.0h1.05M138.2 550.4h1.05M204.6 504.6h1.05M188.9 488.8h1.05M194.4 493.0h1.05M166.5 530.7h1.05M150.5 504.4h1.05M200.4 507.7h1.05M173.1 515.0h1.05M147.6 526.7h1.05M193.0 484.0h1.05M144.4 536.0h1.05M169.0 504.8h1.05M183.7 494.1h1.05M165.3 529.2h1.05M184.4 496.7h1.05M186.0 500.4h1.05M133.2 570.6h1.05M194.9 490.2h1.05M183.1 494.5h1.05M188.9 512.9h1.05M198.8 519.0h1.05M184.1 498.8h1.05M138.1 542.0h1.05M180.1 486.0h1.05M172.0 503.8h1.05M170.1 522.9h1.05M179.0 498.2h1.05M162.5 529.8h1.05M179.5 510.1h1.05M202.1 506.9h1.05M172.5 513.3h1.05M185.2 480.0h1.05M198.4 490.8h1.05M182.2 512.9h1.05M191.8 521.8h1.05M184.3 491.5h1.05M174.6 497.8h1.05M194.3 500.6h1.05M187.7 494.7h1.05M176.0 525.9h1.05M145.4 562.8h1.05M192.7 502.0h1.05M169.9 517.4h1.05M177.6 518.2h1.05M153.6 512.5h1.05M159.8 513.9h1.05M194.3 516.5h1.05M192.3 470.3h1.05M167.7 502.7h1.05M185.2 485.8h1.05M179.9 499.4h1.05M162.5 510.2h1.05M199.6 508.6h1.05M161.1 523.7h1.05M155.9 556.0h1.05M182.0 507.5h1.05M176.4 484.6h1.05M151.7 537.5h1.05M133.1 526.3h1.05M148.9 553.0h1.05M152.5 500.4h1.05M158.6 544.5h1.05M198.2 495.6h1.05M191.7 517.0h1.05M197.2 492.5h1.05M178.5 501.8h1.05M163.9 513.0h1.05M173.0 501.9h1.05M142.6 539.6h1.05M187.0 495.2h1.05M175.5 547.1h1.05M142.2 551.7h1.05M193.5 478.0h1.05M179.3 527.6h1.05M197.3 489.5h1.05M126.8 550.2h1.05M187.0 500.5h1.05M193.0 482.0h1.05M197.3 482.9h1.05M174.9 527.5h1.05M195.2 471.0h1.05M181.7 507.5h1.05M167.8 498.0h1.05M194.7 519.2h1.05M181.8 485.7h1.05M173.7 543.1h1.05M169.5 512.9h1.05M163.0 510.8h1.05M193.1 514.1h1.05M182.7 482.3h1.05M189.0 505.7h1.05M174.8 486.2h1.05M191.9 526.3h1.05M199.1 502.7h1.05M184.1 472.9h1.05M178.3 501.9h1.05M199.4 502.4h1.05M192.6 528.2h1.05M149.0 536.9h1.05M135.7 522.7h1.05M182.1 491.1h1.05M184.5 500.8h1.05M159.9 518.8h1.05M190.9 471.9h1.05M151.4 499.4h1.05M145.6 542.9h1.05M142.2 544.6h1.05M158.5 517.8h1.05M139.2 529.9h1.05M181.5 484.8h1.05M139.5 524.4h1.05M163.8 498.2h1.05M184.7 503.8h1.05M138.7 522.9h1.05M202.9 509.9h1.05M155.9 527.0h1.05M179.0 497.5h1.05M167.7 512.5h1.05M198.0 509.9h1.05M126.2 523.0h1.05M159.1 525.8h1.05M171.1 541.1h1.05M181.0 519.9h1.05M175.6 502.2h1.05M179.0 542.0h1.05M184.5 492.4h1.05M199.7 514.0h1.05M187.9 480.7h1.05M165.3 494.5h1.05M148.2 537.2h1.05M144.6 533.9h1.05M184.0 461.2h1.05M188.7 494.4h1.05M174.5 548.7h1.05M190.7 490.5h1.05M149.6 542.5h1.05M182.9 500.6h1.05M176.1 507.7h1.05M196.7 489.2h1.05M146.7 544.5h1.05M174.0 517.0h1.05M132.5 529.4h1.05M156.4 514.8h1.05M174.5 491.1h1.05M150.6 530.4h1.05M158.9 550.1h1.05M188.6 499.4h1.05M154.6 523.5h1.05M179.3 517.8h1.05M188.6 484.4h1.05M188.6 511.6h1.05M158.3 542.1h1.05M167.2 508.1h1.05M175.5 512.9h1.05M154.6 520.4h1.05M128.0 537.2h1.05M191.3 501.2h1.05M145.3 509.1h1.05M193.8 487.7h1.05M193.7 506.6h1.05M152.8 542.7h1.05M188.8 495.0h1.05M138.9 553.7h1.05M174.2 513.5h1.05M154.7 539.9h1.05M142.2 556.3h1.05M168.1 507.0h1.05M188.1 494.9h1.05M187.9 489.3h1.05M174.0 528.3h1.05M154.1 546.1h1.05M155.4 533.4h1.05M188.1 511.3h1.05M189.3 498.1h1.05M163.5 520.8h1.05M159.6 536.7h1.05M171.1 520.3h1.05M193.5 529.2h1.05M186.3 480.2h1.05M146.8 556.8h1.05M198.0 473.8h1.05M147.3 553.5h1.05M150.5 522.2h1.05M161.0 499.9h1.05M183.0 492.8h1.05M176.7 497.7h1.05M164.8 513.2h1.05M163.8 524.8h1.05M183.4 489.6h1.05M144.7 540.0h1.05M182.1 470.4h1.05M167.2 514.2h1.05M174.2 510.7h1.05M198.8 502.0h1.05M149.9 553.5h1.05M149.9 536.6h1.05M189.2 498.8h1.05M155.9 531.1h1.05M152.3 569.5h1.05M179.5 496.5h1.05M132.8 569.2h1.05M162.0 527.7h1.05M150.4 518.0h1.05M161.9 534.9h1.05M130.2 564.1h1.05M195.1 473.6h1.05M189.6 506.8h1.05M172.7 525.1h1.05M181.0 499.7h1.05M191.5 509.9h1.05M181.6 480.5h1.05M191.5 476.3h1.05M164.8 517.7h1.05M158.4 529.8h1.05M190.3 510.9h1.05M163.2 513.0h1.05M182.1 521.5h1.05M192.9 518.8h1.05M160.8 540.7h1.05M183.7 501.9h1.05M157.9 526.4h1.05M171.2 503.7h1.05M128.2 530.6h1.05M161.3 514.5h1.05M164.5 500.9h1.05M198.3 491.3h1.05M185.0 503.9h1.05M192.0 500.7h1.05M186.8 505.3h1.05M173.9 521.2h1.05M196.4 482.0h1.05M180.2 501.4h1.05M181.2 512.6h1.05M171.6 538.6h1.05M162.0 497.8h1.05M161.7 508.6h1.05M167.6 515.4h1.05M174.0 496.7h1.05M160.4 518.0h1.05M128.8 559.7h1.05M179.7 494.1h1.05M173.9 525.3h1.05M134.2 564.8h1.05M170.3 528.2h1.05M194.6 498.5h1.05M173.4 525.4h1.05M149.9 491.2h1.05M153.5 546.7h1.05M186.3 485.4h1.05M211.7 507.5h1.05M187.1 488.5h1.05M186.0 505.8h1.05M155.7 508.7h1.05M164.5 504.4h1.05M196.7 492.9h1.05M197.0 495.5h1.05M181.0 530.1h1.05M162.1 538.9h1.05M178.5 528.5h1.05M196.0 521.4h1.05M173.2 490.3h1.05M189.3 520.8h1.05M195.3 478.8h1.05M183.0 509.2h1.05M159.3 527.3h1.05M200.3 500.3h1.05M198.4 501.5h1.05M178.1 518.4h1.05M150.7 530.9h1.05M120.7 539.8h1.05M170.0 518.9h1.05M173.1 514.2h1.05M183.8 504.3h1.05M150.9 546.7h1.05M185.8 532.0h1.05M143.3 563.1h1.05M192.7 501.5h1.05M174.4 505.1h1.05M171.0 497.6h1.05M162.0 550.0h1.05M164.1 535.1h1.05M175.9 512.7h1.05M180.9 482.5h1.05M135.6 548.4h1.05M180.4 517.3h1.05M172.6 522.2h1.05M161.4 520.2h1.05M172.7 518.5h1.05M194.0 515.1h1.05M148.5 552.0h1.05M174.5 518.5h1.05M183.9 496.6h1.05M203.8 504.5h1.05M193.3 497.8h1.05M142.1 529.8h1.05M164.3 490.6h1.05M164.2 516.3h1.05M177.0 477.7h1.05M152.7 530.4h1.05M183.1 481.4h1.05M186.9 499.3h1.05M194.6 483.3h1.05M155.9 506.8h1.05M157.8 522.2h1.05M174.4 499.5h1.05M183.7 525.5h1.05M186.2 511.9h1.05M184.1 515.9h1.05M210.0 513.2h1.05M148.7 543.2h1.05M195.3 493.6h1.05M191.1 520.2h1.05M197.0 499.1h1.05M178.0 494.7h1.05M164.4 548.0h1.05M190.5 499.2h1.05M174.0 507.6h1.05M188.6 499.0h1.05M160.1 537.0h1.05M192.6 474.3h1.05M154.3 518.6h1.05M159.3 531.0h1.05M196.9 489.4h1.05M179.0 493.6h1.05M185.8 499.7h1.05M195.4 497.1h1.05M144.7 532.5h1.05M145.2 530.3h1.05M173.7 496.0h1.05M190.0 482.4h1.05M164.4 516.3h1.05M138.2 518.6h1.05M153.3 524.5h1.05M172.0 497.9h1.05M157.2 547.6h1.05M183.8 507.2h1.05M170.3 537.1h1.05M186.0 498.9h1.05M196.1 499.5h1.05M170.1 515.3h1.05M164.5 505.3h1.05M175.1 499.9h1.05M181.8 513.1h1.05M181.7 488.7h1.05M163.4 519.0h1.05M152.7 554.3h1.05M198.1 471.8h1.05M201.7 469.1h1.05M198.4 463.5h1.05M195.0 477.2h1.05M200.6 493.5h1.05M194.0 486.6h1.05M196.4 486.9h1.05M187.2 480.1h1.05M197.9 479.9h1.05M197.7 497.4h1.05M192.8 494.2h1.05M191.2 479.2h1.05M196.7 474.8h1.05M193.4 474.8h1.05M196.6 481.9h1.05M202.8 465.0h1.05M194.8 484.3h1.05M194.5 492.6h1.05M191.1 484.9h1.05M193.7 496.9h1.05M196.0 476.9h1.05M189.5 480.2h1.05M198.4 473.7h1.05M193.3 481.7h1.05M191.7 487.2h1.05M196.5 467.0h1.05M201.5 494.7h1.05M194.5 485.9h1.05M199.8 463.2h1.05M197.3 479.0h1.05M198.8 478.2h1.05M192.2 483.0h1.05M200.1 492.9h1.05M191.2 492.3h1.05M195.7 470.7h1.05M194.1 490.9h1.05M199.9 467.7h1.05M194.5 488.3h1.05M197.5 477.8h1.05M199.6 474.6h1.05M193.8 490.7h1.05M199.1 477.7h1.05M190.0 492.5h1.05M192.8 489.9h1.05M197.5 463.2h1.05M197.3 483.4h1.05M188.1 500.2h1.05M198.5 479.2h1.05M199.6 472.9h1.05M196.1 474.0h1.05M195.0 483.9h1.05M191.0 473.0h1.05M196.3 490.3h1.05M199.1 469.7h1.05M195.1 482.5h1.05M198.0 474.2h1.05M196.5 478.5h1.05M193.4 482.4h1.05M197.7 481.6h1.05M189.9 487.7h1.05M194.8 495.2h1.05M198.1 481.2h1.05M196.4 484.6h1.05M193.4 480.7h1.05M195.8 482.8h1.05M199.6 476.6h1.05M196.6 482.3h1.05M200.1 475.5h1.05M195.7 477.7h1.05M196.9 482.4h1.05M195.0 485.2h1.05M200.3 474.3h1.05M185.6 480.7h1.05M195.0 480.5h1.05M188.9 481.4h1.05M198.4 473.4h1.05M197.1 479.2h1.05M197.4 483.1h1.05M197.9 475.2h1.05M197.1 484.9h1.05M195.2 483.3h1.05M187.1 492.7h1.05M196.7 477.1h1.05M187.1 475.9h1.05M199.2 459.7h1.05M204.0 462.5h1.05M194.8 482.6h1.05M197.8 477.5h1.05M192.7 484.0h1.05M196.8 475.6h1.05M187.2 494.5h1.05M195.1 475.8h1.05M195.7 497.5h1.05M195.6 484.6h1.05M195.5 479.5h1.05M193.8 478.7h1.05M193.2 487.4h1.05M192.6 480.5h1.05M194.0 487.4h1.05M199.4 477.5h1.05M195.3 477.7h1.05M201.6 469.3h1.05M202.8 499.9h1.05M196.3 486.5h1.05M192.7 479.9h1.05M191.7 477.7h1.05M198.9 492.8h1.05M196.9 489.0h1.05M194.1 487.6h1.05M200.0 474.7h1.05M197.8 481.8h1.05M198.9 479.7h1.05M201.7 464.6h1.05M198.0 482.4h1.05M197.9 478.8h1.05M197.0 484.7h1.05M196.9 492.0h1.05M195.5 480.3h1.05M198.8 476.1h1.05M197.8 498.7h1.05M179.8 508.5h1.05M190.7 479.5h1.05M197.2 480.8h1.05M196.4 478.9h1.05M198.1 479.8h1.05M199.7 476.1h1.05M198.0 473.4h1.05M197.0 488.7h1.05M198.9 476.5h1.05M195.1 475.9h1.05M198.7 467.3h1.05M189.4 475.1h1.05M191.4 477.3h1.05M198.9 470.7h1.05M198.8 476.7h1.05M190.3 489.1h1.05M196.7 489.0h1.05M200.6 498.8h1.05M196.5 477.8h1.05M197.2 481.2h1.05M186.8 486.7h1.05M202.2 465.5h1.05M195.2 478.1h1.05M191.5 490.1h1.05M200.5 493.4h1.05M197.6 475.3h1.05M203.5 496.8h1.05M191.5 489.5h1.05M193.1 482.8h1.05M189.9 484.4h1.05M190.5 480.3h1.05M196.5 474.7h1.05M197.1 475.4h1.05M194.3 486.0h1.05M203.0 457.4h1.05M194.1 490.8h1.05M197.8 479.3h1.05M190.2 483.7h1.05M192.7 486.4h1.05M199.1 476.4h1.05M201.4 461.9h1.05M196.2 488.0h1.05M199.2 476.1h1.05M196.5 485.1h1.05M198.3 470.6h1.05M192.8 472.5h1.05M203.1 465.5h1.05M197.8 481.9h1.05M196.8 482.4h1.05M193.1 487.1h1.05M199.7 492.4h1.05M194.3 486.1h1.05M199.1 476.3h1.05M191.3 500.0h1.05M201.5 470.7h1.05M196.9 494.0h1.05M197.3 484.2h1.05M187.8 475.3h1.05M198.0 472.0h1.05M194.8 470.4h1.05M190.7 485.8h1.05M192.9 486.6h1.05M197.4 481.1h1.05M194.5 481.6h1.05M196.9 483.9h1.05M199.7 468.9h1.05M193.8 484.7h1.05M196.9 469.5h1.05M195.3 483.7h1.05M189.0 492.0h1.05M199.3 474.3h1.05M194.3 483.1h1.05M192.7 493.5h1.05M196.3 474.4h1.05M194.4 490.2h1.05M194.4 481.4h1.05M187.7 482.6h1.05M198.5 477.7h1.05M185.8 482.7h1.05M191.4 474.7h1.05M199.3 473.6h1.05M197.3 477.1h1.05M196.9 483.5h1.05M186.7 482.1h1.05M197.0 462.7h1.05M196.4 491.5h1.05M195.0 482.0h1.05M282.0 503.3h1.05M264.0 468.7h1.05M279.1 495.8h1.05M307.6 475.6h1.05M306.5 500.4h1.05M256.7 479.8h1.05M293.1 475.5h1.05M317.3 499.7h1.05M212.2 527.0h1.05M272.8 505.6h1.05M263.3 446.7h1.05M260.5 512.7h1.05M280.4 447.3h1.05M289.1 481.3h1.05M316.6 464.5h1.05M220.5 506.2h1.05M287.6 441.3h1.05M286.2 490.1h1.05M277.6 491.8h1.05M292.7 517.6h1.05M272.6 510.5h1.05M293.2 516.7h1.05M272.6 547.2h1.05M267.2 506.8h1.05M264.7 484.0h1.05M182.9 440.1h1.05M273.2 528.4h1.05M287.0 466.3h1.05M275.4 492.9h1.05M291.2 463.9h1.05M302.6 438.8h1.05M248.9 507.3h1.05M255.8 532.3h1.05M277.7 476.1h1.05M302.2 479.6h1.05M259.4 488.6h1.05M275.4 506.7h1.05M304.2 537.0h1.05M281.6 502.4h1.05M280.5 436.7h1.05M256.6 504.1h1.05M244.4 448.7h1.05M268.4 481.8h1.05M276.3 513.2h1.05M288.5 525.8h1.05M275.7 528.0h1.05M302.6 472.8h1.05M278.9 505.7h1.05M290.0 523.3h1.05M283.0 483.8h1.05M258.6 569.1h1.05M248.0 508.3h1.05M294.2 514.1h1.05M280.2 580.9h1.05M225.1 506.5h1.05M287.7 560.4h1.05M272.9 509.6h1.05M292.8 515.7h1.05M274.7 539.7h1.05M297.7 504.1h1.05M291.0 522.1h1.05M306.1 498.8h1.05M287.7 507.6h1.05M295.4 518.6h1.05M307.9 502.0h1.05M225.2 427.7h1.05M264.9 505.4h1.05M255.6 522.9h1.05M252.2 464.0h1.05M273.0 525.6h1.05M291.2 487.5h1.05M270.1 494.9h1.05M243.5 558.2h1.05M284.0 499.8h1.05M292.0 456.6h1.05M272.4 488.2h1.05M261.1 481.2h1.05M300.1 520.2h1.05M286.3 475.5h1.05M309.4 511.8h1.05M251.1 524.8h1.05M264.9 448.8h1.05M281.1 504.8h1.05M282.4 456.2h1.05M264.4 480.9h1.05M292.9 542.7h1.05M281.9 459.5h1.05M316.8 441.8h1.05M264.9 451.1h1.05M274.0 527.9h1.05M285.5 542.6h1.05M276.1 479.4h1.05M271.2 441.8h1.05M265.0 458.7h1.05M261.1 450.3h1.05M276.7 503.1h1.05M302.3 518.9h1.05M264.5 467.8h1.05M263.4 475.4h1.05M276.8 521.4h1.05M258.2 501.3h1.05M275.0 482.7h1.05M311.0 496.2h1.05M250.5 540.8h1.05M237.1 523.9h1.05M259.0 506.2h1.05M276.1 435.5h1.05M297.5 465.3h1.05M308.0 536.6h1.05M320.0 497.9h1.05M303.7 520.8h1.05M284.2 546.3h1.05M238.0 513.6h1.05M257.3 497.2h1.05M243.7 537.2h1.05M254.4 471.9h1.05M291.2 477.8h1.05M274.1 435.9h1.05M268.1 434.6h1.05M262.2 461.0h1.05M273.2 520.7h1.05M307.8 450.1h1.05M269.6 479.5h1.05M253.8 503.0h1.05M289.4 488.2h1.05M224.9 525.8h1.05M272.5 512.5h1.05M294.2 533.4h1.05M265.0 514.2h1.05M290.3 499.6h1.05M263.8 455.1h1.05M294.7 478.8h1.05M271.0 514.0h1.05M311.8 473.3h1.05M294.6 493.6h1.05M310.1 470.0h1.05M306.9 538.8h1.05M265.9 496.4h1.05M271.5 470.3h1.05M290.8 540.0h1.05M315.6 479.9h1.05M295.8 512.5h1.05M240.9 569.1h1.05M317.1 535.9h1.05M291.7 471.7h1.05M319.2 456.0h1.05M264.5 494.2h1.05M260.0 481.5h1.05M242.9 513.8h1.05M272.8 496.3h1.05M254.6 446.7h1.05M238.0 451.0h1.05M258.6 521.2h1.05M302.2 462.3h1.05M317.6 577.2h1.05M298.9 473.2h1.05M268.3 499.3h1.05M283.9 519.8h1.05M224.4 544.7h1.05M235.5 518.0h1.05M273.2 515.1h1.05M287.2 438.1h1.05M273.7 461.2h1.05M284.5 499.3h1.05M260.6 469.6h1.05M268.1 524.8h1.05M280.9 479.4h1.05M265.8 488.5h1.05M262.3 509.4h1.05M269.3 527.1h1.05M305.0 504.8h1.05M314.9 503.0h1.05M320.9 527.3h1.05M267.7 472.5h1.05M195.1 502.0h1.05M286.2 471.0h1.05M291.6 455.2h1.05M293.4 480.9h1.05M301.1 443.4h1.05M260.4 477.8h1.05M231.9 530.1h1.05M277.4 496.6h1.05M302.4 477.4h1.05M278.0 510.9h1.05M309.2 473.3h1.05M261.6 510.1h1.05M265.6 480.5h1.05M313.7 546.6h1.05M271.2 445.9h1.05M276.0 485.7h1.05M260.5 538.3h1.05M264.8 506.5h1.05M314.8 484.3h1.05M268.9 427.9h1.05M273.4 481.5h1.05M280.3 499.1h1.05M285.8 517.2h1.05M276.5 454.9h1.05M213.5 506.0h1.05M283.5 457.0h1.05M267.9 464.5h1.05M263.4 501.9h1.05M271.1 530.1h1.05M291.8 489.1h1.05M203.1 455.3h1.05M259.6 518.7h1.05M257.4 502.7h1.05M292.0 475.0h1.05M293.7 487.3h1.05M239.8 428.2h1.05M299.4 518.0h1.05M266.5 483.5h1.05M299.2 495.0h1.05M298.3 518.5h1.05M291.4 495.7h1.05M289.7 499.0h1.05M256.5 476.7h1.05M261.8 555.8h1.05M306.2 500.7h1.05M292.6 470.0h1.05M288.9 525.3h1.05M261.0 489.4h1.05M255.2 514.3h1.05M240.8 431.3h1.05M304.9 486.1h1.05M282.2 528.3h1.05M269.8 495.8h1.05M304.0 438.6h1.05M263.0 483.7h1.05M289.1 434.6h1.05M273.8 464.7h1.05M271.7 490.3h1.05M292.7 457.3h1.05M301.1 517.4h1.05M302.3 505.3h1.05M268.4 474.3h1.05M288.6 491.8h1.05M279.8 515.5h1.05M308.4 455.8h1.05M267.9 448.0h1.05M269.0 546.0h1.05M245.6 453.4h1.05M262.7 456.9h1.05M256.1 452.3h1.05M287.7 464.6h1.05M315.3 523.1h1.05M263.1 538.9h1.05M270.8 516.7h1.05M315.8 480.1h1.05M296.6 520.6h1.05M260.0 485.7h1.05M275.2 506.0h1.05M292.5 477.0h1.05M287.1 491.5h1.05M278.3 491.6h1.05M271.5 469.3h1.05M281.7 538.9h1.05M266.2 497.7h1.05M289.0 479.7h1.05M281.9 536.4h1.05M263.2 509.6h1.05M279.1 447.6h1.05M307.2 504.0h1.05M273.8 488.5h1.05M275.5 502.7h1.05M316.9 475.4h1.05M277.6 497.5h1.05M256.4 438.0h1.05M285.0 448.0h1.05M309.5 516.6h1.05M270.0 532.4h1.05M267.7 479.6h1.05M256.9 493.6h1.05M313.1 486.3h1.05M276.9 512.5h1.05M262.5 475.0h1.05M266.5 489.8h1.05M289.8 498.7h1.05M271.9 495.5h1.05M257.7 456.5h1.05M281.1 504.5h1.05M291.3 496.4h1.05M295.1 475.1h1.05M312.1 508.2h1.05M298.9 518.8h1.05M291.1 576.7h1.05M310.9 454.4h1.05M300.4 474.9h1.05M233.3 529.4h1.05M275.2 505.0h1.05M293.5 502.1h1.05M259.8 523.7h1.05M296.8 494.1h1.05M279.6 493.5h1.05M287.4 451.1h1.05M295.5 514.1h1.05M268.8 520.4h1.05M259.7 513.1h1.05M310.2 441.6h1.05M287.3 514.9h1.05M311.3 471.4h1.05M282.6 543.7h1.05M265.4 492.9h1.05M313.1 490.3h1.05M297.1 527.2h1.05M297.2 555.1h1.05M279.4 488.7h1.05M279.7 456.4h1.05M265.8 541.1h1.05M261.7 552.8h1.05M312.1 539.5h1.05M225.3 520.8h1.05M265.4 523.6h1.05M259.1 469.8h1.05M278.9 428.2h1.05M268.0 476.5h1.05M266.7 484.6h1.05M285.2 464.0h1.05M303.5 520.5h1.05M288.7 469.5h1.05M266.7 529.8h1.05M261.1 480.9h1.05M268.8 483.9h1.05M317.4 517.2h1.05M303.4 527.7h1.05M250.8 506.0h1.05M317.9 513.5h1.05M278.0 494.0h1.05M251.8 460.2h1.05M290.8 540.4h1.05M262.2 517.3h1.05M307.1 499.5h1.05M298.7 531.1h1.05M308.8 514.1h1.05M221.3 502.5h1.05M285.5 475.0h1.05M271.0 529.1h1.05M217.2 509.3h1.05M292.0 516.5h1.05M266.8 505.6h1.05M251.4 510.7h1.05M308.1 480.4h1.05M317.4 474.5h1.05M259.4 488.7h1.05M279.4 499.5h1.05M290.7 500.8h1.05M272.2 483.9h1.05M287.4 493.0h1.05M243.9 542.6h1.05M293.1 455.3h1.05M280.8 522.1h1.05M265.2 538.6h1.05M272.9 537.5h1.05M289.6 470.3h1.05M298.6 484.9h1.05M290.7 501.2h1.05M291.9 523.3h1.05M310.9 507.2h1.05M266.1 437.2h1.05M313.2 450.5h1.05M294.9 526.6h1.05M315.7 495.9h1.05M308.7 487.5h1.05M255.2 496.0h1.05M290.3 475.9h1.05M275.5 542.3h1.05M274.4 501.5h1.05M320.2 496.0h1.05M290.0 499.5h1.05M198.1 496.5h1.05M280.8 520.4h1.05M270.9 473.6h1.05M290.6 447.8h1.05M262.5 542.3h1.05M313.7 494.0h1.05M289.4 509.1h1.05M280.6 513.0h1.05M276.3 527.3h1.05M276.7 448.3h1.05M256.0 470.2h1.05M288.9 498.5h1.05M251.5 502.5h1.05M260.7 479.0h1.05M244.1 517.5h1.05M314.9 453.6h1.05M319.0 450.3h1.05M256.9 465.9h1.05M266.6 501.8h1.05M233.3 573.4h1.05M294.0 484.8h1.05M258.9 541.1h1.05M302.5 475.7h1.05M235.0 502.1h1.05M282.5 460.5h1.05M293.8 509.7h1.05M294.9 479.6h1.05M244.1 517.7h1.05M292.5 476.3h1.05M308.3 455.7h1.05M295.2 454.9h1.05M318.4 468.6h1.05M294.7 519.3h1.05M300.9 496.7h1.05M273.9 481.2h1.05M299.9 477.3h1.05M278.0 450.3h1.05M269.1 493.4h1.05M223.5 525.3h1.05M287.2 456.3h1.05M262.1 537.1h1.05M266.8 496.1h1.05M284.3 496.5h1.05M286.1 493.0h1.05M314.6 440.9h1.05M227.8 512.3h1.05M296.5 505.5h1.05M276.6 464.8h1.05M314.6 454.2h1.05M249.3 502.0h1.05M277.8 444.7h1.05M267.5 478.2h1.05M256.6 487.3h1.05M263.9 447.3h1.05M309.1 498.6h1.05M268.0 524.5h1.05M316.2 477.1h1.05M299.4 492.5h1.05M252.7 468.9h1.05M299.5 525.6h1.05M241.2 542.7h1.05M296.6 475.8h1.05M314.8 477.6h1.05M315.8 440.7h1.05M267.0 470.6h1.05M272.2 510.6h1.05M277.8 502.8h1.05M286.3 524.9h1.05M274.0 499.7h1.05M248.0 566.2h1.05M307.9 470.6h1.05M253.3 526.6h1.05M241.6 448.8h1.05M279.9 496.3h1.05M281.4 524.4h1.05M276.7 448.9h1.05M270.5 438.6h1.05M292.2 503.8h1.05M316.1 527.6h1.05M288.1 478.5h1.05M318.2 464.4h1.05M295.4 509.9h1.05M258.4 479.6h1.05M272.5 463.2h1.05M272.7 432.0h1.05M296.0 516.0h1.05M305.2 479.2h1.05M259.1 468.5h1.05M216.7 451.0h1.05M300.2 484.8h1.05M308.5 495.0h1.05M268.6 492.0h1.05M301.2 470.1h1.05M303.5 539.8h1.05M301.6 505.2h1.05M310.3 516.2h1.05M267.5 441.5h1.05M298.2 474.5h1.05M268.0 473.7h1.05M251.0 519.1h1.05M273.8 474.9h1.05M290.8 464.5h1.05M258.7 476.5h1.05M316.9 449.3h1.05M251.8 519.8h1.05M307.3 440.4h1.05M269.5 571.6h1.05M288.8 489.9h1.05M291.6 509.4h1.05M271.8 490.2h1.05M303.6 495.5h1.05M300.8 506.5h1.05M275.6 476.6h1.05M292.4 465.3h1.05M283.2 481.0h1.05M299.4 504.8h1.05M226.7 565.9h1.05M313.6 463.6h1.05M275.3 453.4h1.05M286.6 524.7h1.05M282.0 482.7h1.05M278.6 544.5h1.05M269.0 516.5h1.05M298.5 515.8h1.05M274.3 495.7h1.05M282.2 504.2h1.05M300.4 497.9h1.05M284.9 520.1h1.05M258.3 535.4h1.05M251.1 496.1h1.05M253.1 508.7h1.05M271.0 508.6h1.05M267.0 533.7h1.05M264.4 535.9h1.05M253.0 495.6h1.05M314.7 492.0h1.05M271.9 472.3h1.05M278.2 521.7h1.05M304.6 519.6h1.05M288.5 496.0h1.05M301.2 501.6h1.05M296.4 525.2h1.05M311.0 469.0h1.05M289.0 451.9h1.05M310.6 490.8h1.05M314.0 527.1h1.05M317.4 478.2h1.05M299.9 479.6h1.05M307.0 457.8h1.05M306.6 484.4h1.05M267.5 509.9h1.05M258.9 434.2h1.05M286.9 519.1h1.05M254.6 530.5h1.05M279.0 529.9h1.05M277.7 491.5h1.05M270.2 462.2h1.05M253.1 495.4h1.05M254.5 519.0h1.05M313.7 504.1h1.05M283.8 510.5h1.05M248.2 516.2h1.05M269.1 459.4h1.05M288.9 510.2h1.05M297.5 502.0h1.05M299.9 516.1h1.05M307.8 488.4h1.05M289.0 483.4h1.05M286.0 450.6h1.05M262.6 468.5h1.05M276.8 559.8h1.05M276.9 487.9h1.05M230.5 525.9h1.05M255.2 522.4h1.05M275.4 507.0h1.05M270.0 527.9h1.05M248.3 508.1h1.05M274.0 523.2h1.05M283.4 527.8h1.05M237.0 577.0h1.05M269.7 464.4h1.05M275.8 505.9h1.05M275.4 577.3h1.05M238.0 528.0h1.05M289.1 517.4h1.05M287.8 501.2h1.05M235.0 443.0h1.05M302.7 492.7h1.05M282.3 469.1h1.05M264.0 476.2h1.05M295.0 504.3h1.05M308.6 447.3h1.05M280.3 488.0h1.05M283.4 485.7h1.05M272.2 455.9h1.05M306.4 477.6h1.05M292.7 487.3h1.05M252.7 495.5h1.05M269.0 437.5h1.05M263.3 524.4h1.05M291.7 502.0h1.05M258.7 479.9h1.05M277.9 447.4h1.05M283.4 542.9h1.05M211.2 523.4h1.05M240.8 527.8h1.05M258.4 500.4h1.05M286.6 505.9h1.05M307.3 443.6h1.05M253.5 534.2h1.05M264.8 529.7h1.05M282.5 485.5h1.05M293.1 493.6h1.05M305.6 477.0h1.05M306.8 511.0h1.05M245.6 518.7h1.05M294.0 549.0h1.05M247.5 505.9h1.05M277.2 500.7h1.05M296.7 515.9h1.05M294.2 487.6h1.05M274.1 492.1h1.05M251.7 502.5h1.05M301.3 540.9h1.05M292.1 538.1h1.05M213.9 505.9h1.05M313.6 530.8h1.05M305.0 506.3h1.05M316.6 460.5h1.05M297.7 510.6h1.05M290.7 498.8h1.05M282.3 504.6h1.05M299.4 463.3h1.05M289.7 511.7h1.05M263.9 492.9h1.05M297.1 497.4h1.05M298.8 565.9h1.05M310.1 454.2h1.05M296.8 525.3h1.05M305.6 471.5h1.05M286.0 526.5h1.05M297.8 474.3h1.05M308.5 476.4h1.05M300.4 457.9h1.05M261.1 526.5h1.05M246.3 505.2h1.05M286.3 478.9h1.05M253.8 514.7h1.05M256.0 482.1h1.05M303.9 497.5h1.05M310.3 498.8h1.05M238.3 505.4h1.05M257.8 553.3h1.05M205.4 435.8h1.05M271.5 443.1h1.05M270.1 455.3h1.05M283.7 486.0h1.05M249.7 537.5h1.05M262.4 507.9h1.05M284.9 505.9h1.05M268.3 521.2h1.05M308.9 523.3h1.05M308.7 472.9h1.05M275.8 494.7h1.05M282.6 487.5h1.05M273.3 500.9h1.05M257.7 494.1h1.05M237.5 513.8h1.05M222.1 430.6h1.05M230.4 576.2h1.05M279.4 527.2h1.05M269.8 462.3h1.05M267.7 447.4h1.05M187.2 539.6h1.05M317.3 515.0h1.05M291.2 494.5h1.05M283.3 491.5h1.05M283.4 445.1h1.05M252.9 465.8h1.05M233.3 452.5h1.05M312.5 514.1h1.05M256.1 512.7h1.05M276.6 468.9h1.05M268.6 429.5h1.05M298.2 499.1h1.05M263.6 451.1h1.05M314.2 451.5h1.05M275.2 499.9h1.05M296.7 506.7h1.05M320.8 468.9h1.05M294.0 491.7h1.05M267.4 494.0h1.05M234.9 515.4h1.05M270.5 450.3h1.05M233.0 511.5h1.05M260.7 510.6h1.05M261.2 521.9h1.05M274.3 527.8h1.05M305.2 468.4h1.05M297.9 509.1h1.05M297.0 489.4h1.05M275.4 538.2h1.05M278.1 482.0h1.05M316.6 481.9h1.05M265.6 458.3h1.05M290.4 504.1h1.05M285.5 462.1h1.05M298.2 511.9h1.05M264.3 474.9h1.05M298.1 475.0h1.05M265.7 499.1h1.05M288.3 441.3h1.05M260.4 534.3h1.05M284.8 478.5h1.05M280.8 464.7h1.05M265.4 545.6h1.05M278.9 484.3h1.05M295.4 520.7h1.05M288.4 519.0h1.05M298.5 488.2h1.05M287.1 465.6h1.05M265.8 486.5h1.05M289.7 514.9h1.05M281.3 468.1h1.05M307.5 475.5h1.05M271.7 485.7h1.05M288.8 460.9h1.05M273.2 549.1h1.05M253.2 461.1h1.05M259.2 471.9h1.05M177.5 513.4h1.05M280.4 544.3h1.05M291.4 508.0h1.05M303.2 479.1h1.05M256.0 507.2h1.05M259.4 524.1h1.05M280.0 494.9h1.05M281.8 512.0h1.05M302.3 461.5h1.05M271.8 525.3h1.05M278.3 534.4h1.05M288.5 500.7h1.05M255.4 508.5h1.05M297.4 452.5h1.05M300.6 489.9h1.05M314.2 448.5h1.05M311.2 472.4h1.05M267.9 468.5h1.05M296.0 491.1h1.05M309.6 511.9h1.05M305.1 496.4h1.05M257.8 475.3h1.05M259.9 473.6h1.05M256.5 528.0h1.05M271.2 541.4h1.05M199.0 466.5h1.05M313.6 460.2h1.05M262.0 481.0h1.05M254.2 473.4h1.05M199.1 550.9h1.05M269.2 570.5h1.05M256.9 514.8h1.05M266.2 465.0h1.05M243.8 558.2h1.05M269.4 447.6h1.05M238.8 521.3h1.05M277.4 480.0h1.05M308.5 501.8h1.05M260.7 507.5h1.05M295.0 459.8h1.05M258.9 568.0h1.05M288.9 515.6h1.05M298.4 498.6h1.05M203.7 524.4h1.05M284.8 442.7h1.05M306.7 496.8h1.05M288.0 480.5h1.05M251.7 448.6h1.05M264.9 538.8h1.05M307.7 559.8h1.05M258.7 467.6h1.05M282.9 551.8h1.05M260.0 485.6h1.05M268.7 504.5h1.05M282.3 461.2h1.05M280.7 473.1h1.05M276.3 495.6h1.05M283.4 467.8h1.05M298.7 499.9h1.05M298.8 478.2h1.05M294.5 490.3h1.05M256.5 516.1h1.05M256.2 513.1h1.05M278.9 479.9h1.05M276.2 524.3h1.05M282.8 520.7h1.05M257.8 445.4h1.05M274.9 479.5h1.05M267.2 510.9h1.05M280.7 455.7h1.05M274.9 470.8h1.05M294.5 486.0h1.05M296.1 476.0h1.05M265.5 493.7h1.05M307.3 556.4h1.05M290.5 496.4h1.05M260.6 533.7h1.05M260.0 523.4h1.05M291.5 495.4h1.05M296.7 449.5h1.05M283.5 574.4h1.05M267.6 484.7h1.05M269.9 508.1h1.05M280.5 467.3h1.05M263.2 484.9h1.05M254.1 534.7h1.05M274.9 526.9h1.05M264.8 502.8h1.05M241.1 510.4h1.05M255.3 531.8h1.05M234.2 449.1h1.05M258.5 510.9h1.05M304.8 495.7h1.05M257.3 481.5h1.05M304.3 486.9h1.05M261.2 514.2h1.05M304.7 485.5h1.05M248.8 452.7h1.05M294.3 490.0h1.05M310.5 445.9h1.05M236.4 524.3h1.05M282.4 492.1h1.05M272.5 486.2h1.05M294.5 507.1h1.05M292.9 527.7h1.05M286.4 488.5h1.05M255.7 495.6h1.05M274.9 512.6h1.05M272.6 506.4h1.05M284.7 500.7h1.05M303.4 530.0h1.05M262.5 440.7h1.05M257.2 469.8h1.05M318.8 467.7h1.05M294.7 441.7h1.05M309.8 526.6h1.05M319.6 457.1h1.05M320.0 499.2h1.05M301.8 513.5h1.05M257.4 446.1h1.05M264.3 481.0h1.05M291.1 465.5h1.05M295.4 528.2h1.05M261.6 486.5h1.05M291.1 503.9h1.05M288.8 522.4h1.05M237.9 547.1h1.05M265.1 486.5h1.05M281.8 471.7h1.05M268.9 435.5h1.05M278.3 445.5h1.05M297.3 521.0h1.05M317.7 470.9h1.05M296.3 441.9h1.05M274.1 508.7h1.05M266.2 485.6h1.05M277.2 441.5h1.05M309.6 463.5h1.05M297.6 515.5h1.05M260.1 469.7h1.05M293.1 465.2h1.05M280.1 494.6h1.05M280.4 492.8h1.05M303.2 483.5h1.05M318.9 510.0h1.05M280.7 455.2h1.05M262.7 490.0h1.05M314.6 438.0h1.05M243.5 502.4h1.05M260.9 468.6h1.05M254.4 568.4h1.05M262.0 482.7h1.05M292.3 472.0h1.05M292.5 494.9h1.05M253.3 523.8h1.05M272.9 456.0h1.05M298.1 489.6h1.05M287.7 468.2h1.05M310.8 487.3h1.05M294.7 487.2h1.05M271.2 478.0h1.05M290.2 523.1h1.05M315.0 475.2h1.05M263.9 510.2h1.05M259.7 533.1h1.05M265.3 480.4h1.05M293.8 494.7h1.05M264.8 555.6h1.05M264.2 484.5h1.05M270.8 476.7h1.05M225.7 524.9h1.05M255.4 468.9h1.05M262.6 514.9h1.05M279.3 492.0h1.05M225.7 447.6h1.05M321.0 523.1h1.05M247.8 498.0h1.05M281.0 520.6h1.05M295.2 440.6h1.05M298.1 484.3h1.05M227.0 524.6h1.05M275.6 543.5h1.05M282.3 481.1h1.05M300.0 509.9h1.05M288.6 504.1h1.05M275.8 500.2h1.05M267.2 528.2h1.05M265.1 463.3h1.05M273.0 514.3h1.05M258.8 464.0h1.05M278.6 506.2h1.05M289.8 491.8h1.05M268.9 488.1h1.05M297.5 510.0h1.05M298.7 521.5h1.05M297.7 516.3h1.05M283.5 435.1h1.05M263.3 476.5h1.05M305.9 472.1h1.05M295.2 484.0h1.05M264.9 511.8h1.05M297.7 482.4h1.05M304.9 519.9h1.05M277.5 479.6h1.05M277.8 563.5h1.05M261.1 500.9h1.05M285.6 506.3h1.05M287.8 489.8h1.05M245.9 521.7h1.05M275.2 474.8h1.05M272.0 516.1h1.05M244.8 447.5h1.05M288.5 486.9h1.05M243.0 505.0h1.05M292.8 568.9h1.05M258.3 526.0h1.05M290.3 516.6h1.05M227.6 524.5h1.05M278.6 508.2h1.05M300.5 485.5h1.05M275.2 490.7h1.05M295.2 486.1h1.05M267.3 552.0h1.05M271.9 501.1h1.05M243.6 503.2h1.05M320.6 481.9h1.05M252.6 542.6h1.05M303.7 491.7h1.05M249.3 500.2h1.05M317.5 442.5h1.05M246.1 453.5h1.05M290.4 479.9h1.05M236.8 450.2h1.05M269.1 530.3h1.05M256.2 447.6h1.05M245.2 513.0h1.05M285.4 452.2h1.05M296.3 459.9h1.05M278.9 466.5h1.05M288.3 445.8h1.05M280.9 505.9h1.05M296.9 521.1h1.05M293.9 526.5h1.05M320.3 501.1h1.05M218.6 538.3h1.05M235.7 518.7h1.05M243.9 572.7h1.05M236.4 447.6h1.05M292.2 516.5h1.05M284.3 492.7h1.05M243.6 450.5h1.05M248.3 500.6h1.05M293.1 516.2h1.05M282.4 522.7h1.05M283.9 523.5h1.05M256.6 434.2h1.05M295.1 500.6h1.05M283.8 515.4h1.05M262.8 535.1h1.05M299.3 511.2h1.05M224.3 542.0h1.05M297.7 502.5h1.05M256.5 446.8h1.05M301.2 480.3h1.05M262.2 497.8h1.05M309.5 532.3h1.05M241.6 509.5h1.05M260.9 462.6h1.05M288.2 506.9h1.05M295.0 478.7h1.05M237.0 521.4h1.05M282.2 508.5h1.05M314.0 547.9h1.05M267.5 473.5h1.05M320.1 490.3h1.05M297.3 522.7h1.05M251.7 450.1h1.05M293.9 509.1h1.05M295.4 561.4h1.05M261.0 472.2h1.05M272.6 464.0h1.05M241.0 511.5h1.05M295.3 482.7h1.05M305.4 468.4h1.05M275.7 489.5h1.05M298.5 498.4h1.05M310.9 519.3h1.05M257.5 526.8h1.05M316.4 469.7h1.05M260.0 509.7h1.05M301.0 535.3h1.05M283.3 580.3h1.05M278.3 505.5h1.05M287.8 500.9h1.05M270.2 516.9h1.05M295.3 495.2h1.05M317.0 481.5h1.05M312.9 480.7h1.05M287.7 581.7h1.05M267.0 452.7h1.05M298.3 486.2h1.05M278.6 488.9h1.05M266.4 489.1h1.05M304.4 487.5h1.05M320.6 516.0h1.05M294.8 502.0h1.05M261.6 499.5h1.05M307.4 533.4h1.05M294.9 525.1h1.05M291.0 430.7h1.05M271.3 536.5h1.05M265.4 511.0h1.05M296.7 520.0h1.05M261.1 490.4h1.05M251.3 505.5h1.05M234.9 443.0h1.05M304.2 457.7h1.05M271.2 533.7h1.05M258.6 482.3h1.05M286.2 510.4h1.05M263.4 527.4h1.05M267.0 482.1h1.05M219.2 503.2h1.05M306.0 516.0h1.05M266.3 540.5h1.05M291.2 461.2h1.05M257.1 460.4h1.05M304.9 490.5h1.05M298.0 524.0h1.05M303.4 503.7h1.05M284.8 446.5h1.05M254.1 453.3h1.05M266.0 501.9h1.05M273.1 554.2h1.05M272.1 466.6h1.05M258.2 476.8h1.05M252.9 462.1h1.05M267.5 484.6h1.05M264.4 533.3h1.05M302.0 481.3h1.05M296.0 453.9h1.05M250.9 506.9h1.05M270.3 515.6h1.05M299.2 472.8h1.05M258.3 539.2h1.05M272.3 524.6h1.05M283.1 495.5h1.05M281.7 443.1h1.05M293.0 501.4h1.05M284.2 503.0h1.05M295.1 579.5h1.05M293.9 443.3h1.05M277.0 499.2h1.05M244.8 508.1h1.05M262.4 518.7h1.05M278.8 533.7h1.05M240.5 448.7h1.05M317.7 539.5h1.05M315.6 452.0h1.05M261.8 457.4h1.05M257.6 518.6h1.05M277.3 486.4h1.05M284.0 452.9h1.05M309.4 527.3h1.05M274.2 436.2h1.05M262.6 497.9h1.05M272.5 503.6h1.05M291.9 483.8h1.05M265.0 480.7h1.05M260.9 461.3h1.05M282.5 468.0h1.05M256.1 514.7h1.05M303.4 479.6h1.05M263.1 476.6h1.05M318.8 497.7h1.05M304.8 451.4h1.05M314.7 493.2h1.05M284.0 457.4h1.05M289.2 521.8h1.05M284.8 550.9h1.05M251.2 496.6h1.05M281.7 481.0h1.05M304.8 505.0h1.05M251.2 512.8h1.05M280.8 524.1h1.05M244.5 517.1h1.05M318.9 497.3h1.05M225.8 443.9h1.05M260.8 491.6h1.05M268.9 431.4h1.05M246.5 523.2h1.05M275.7 473.3h1.05M256.3 519.4h1.05M280.5 502.3h1.05M254.1 507.7h1.05M311.2 512.5h1.05M255.0 476.0h1.05M303.7 491.6h1.05M278.8 496.9h1.05M300.3 526.3h1.05M307.3 455.9h1.05M281.6 529.8h1.05M269.3 522.1h1.05M210.2 526.6h1.05M236.7 542.5h1.05M312.7 541.2h1.05M267.7 465.1h1.05M293.0 531.8h1.05M241.2 505.4h1.05M297.7 475.6h1.05M258.4 511.7h1.05M257.0 493.4h1.05M261.5 497.1h1.05M279.2 448.4h1.05M249.2 441.8h1.05M273.2 451.9h1.05M308.3 494.2h1.05M296.5 472.2h1.05M259.1 536.1h1.05M248.6 515.6h1.05M257.1 507.1h1.05M280.4 451.4h1.05M290.3 485.6h1.05M308.0 478.2h1.05M276.9 497.4h1.05M299.0 494.3h1.05M251.9 518.5h1.05M213.0 516.8h1.05M310.1 477.0h1.05M277.7 482.2h1.05M290.1 516.8h1.05M280.3 525.1h1.05M281.1 559.0h1.05M311.2 481.0h1.05M248.7 530.6h1.05M273.1 528.9h1.05M283.1 469.7h1.05M312.6 453.1h1.05M281.1 444.6h1.05M295.7 460.6h1.05M286.6 463.4h1.05M278.9 520.4h1.05M274.8 516.9h1.05M270.1 464.7h1.05M278.9 460.7h1.05M278.4 441.5h1.05M278.7 498.1h1.05M253.6 513.4h1.05M234.1 521.6h1.05M258.1 482.2h1.05M227.5 427.9h1.05M321.0 479.6h1.05M241.8 520.0h1.05M257.7 465.4h1.05M292.9 500.6h1.05M259.2 547.1h1.05M274.7 506.2h1.05M305.0 513.0h1.05M250.7 513.3h1.05M295.3 558.9h1.05M254.5 525.6h1.05M304.3 505.0h1.05M286.7 490.0h1.05M226.8 516.6h1.05M319.3 487.5h1.05M262.6 476.7h1.05M249.8 498.5h1.05M245.4 512.3h1.05M307.3 554.6h1.05M265.6 445.6h1.05M302.5 500.6h1.05M290.0 432.8h1.05M245.9 516.1h1.05M247.8 523.2h1.05M245.8 558.6h1.05M259.8 554.5h1.05M266.0 525.3h1.05M275.6 474.4h1.05M226.8 509.2h1.05M279.5 501.5h1.05M275.9 452.1h1.05M229.4 506.9h1.05M302.5 475.1h1.05M215.0 514.9h1.05M288.6 531.3h1.05M319.4 500.9h1.05M263.9 499.7h1.05M300.7 536.1h1.05M234.3 505.7h1.05M248.4 500.4h1.05M268.7 482.3h1.05M236.5 506.4h1.05M274.8 450.3h1.05M232.6 524.8h1.05M264.6 469.1h1.05M284.5 541.8h1.05M261.0 488.6h1.05M260.9 542.6h1.05M256.6 508.7h1.05M290.9 524.3h1.05M304.1 478.5h1.05M279.6 509.1h1.05M278.4 499.0h1.05M261.0 525.4h1.05M232.4 539.4h1.05M270.8 460.4h1.05M278.0 504.8h1.05M294.9 501.7h1.05M293.7 526.9h1.05M261.8 529.0h1.05M283.6 466.8h1.05M311.4 500.9h1.05M278.4 547.0h1.05M282.6 510.4h1.05M241.2 522.0h1.05M270.0 554.7h1.05M198.0 505.4h1.05M278.0 490.9h1.05M300.0 468.0h1.05M250.4 517.3h1.05M261.2 515.1h1.05M308.0 535.1h1.05M285.8 501.4h1.05M239.3 453.0h1.05M291.2 529.6h1.05M270.4 472.1h1.05M277.4 472.5h1.05M198.8 478.4h1.05M284.7 505.9h1.05M253.7 455.5h1.05M270.7 515.5h1.05M276.5 456.9h1.05M263.5 531.2h1.05M289.1 474.0h1.05M267.6 485.6h1.05M287.2 451.6h1.05M281.4 470.8h1.05M277.0 483.2h1.05M249.5 501.8h1.05M268.6 502.4h1.05M270.5 509.8h1.05M294.9 516.6h1.05M273.7 510.2h1.05M267.6 493.5h1.05M279.1 542.2h1.05M257.9 531.0h1.05M301.6 477.7h1.05M261.9 461.5h1.05M259.4 521.6h1.05M269.2 513.0h1.05M304.2 491.0h1.05M295.6 496.7h1.05M247.8 522.9h1.05M317.6 491.8h1.05M294.7 464.5h1.05M271.5 493.7h1.05M300.8 488.3h1.05M262.8 489.6h1.05M286.5 522.2h1.05M262.1 527.6h1.05M311.9 476.5h1.05M309.6 562.1h1.05M284.8 503.1h1.05M304.3 463.0h1.05M253.7 467.0h1.05M265.4 542.2h1.05M250.1 499.6h1.05M260.7 471.8h1.05M292.0 470.6h1.05M301.1 496.2h1.05M240.0 546.3h1.05M292.8 469.4h1.05M305.1 531.8h1.05M311.5 518.0h1.05M277.9 464.4h1.05M290.1 500.9h1.05M234.9 525.1h1.05M235.4 502.6h1.05M283.2 468.3h1.05M271.1 599.5h1.05M319.5 543.1h1.05M274.7 550.9h1.05M269.0 493.5h1.05M299.5 526.4h1.05M309.1 501.9h1.05M301.2 469.4h1.05M304.0 458.9h1.05M278.4 513.9h1.05M312.8 517.7h1.05M302.2 501.1h1.05M285.1 494.0h1.05M256.9 532.8h1.05M281.4 494.0h1.05M283.0 502.6h1.05M258.5 488.0h1.05M260.8 498.8h1.05M298.3 469.1h1.05M291.5 514.4h1.05M287.6 464.5h1.05M319.2 456.0h1.05M287.8 493.4h1.05M283.7 498.6h1.05M278.7 488.3h1.05M310.2 486.1h1.05M261.4 485.8h1.05M273.4 496.9h1.05M260.1 478.8h1.05M315.1 503.6h1.05M318.3 486.6h1.05M266.6 444.7h1.05M255.0 470.1h1.05M271.9 506.1h1.05M284.3 433.3h1.05M271.9 514.0h1.05M245.7 600.0h1.05M256.1 510.5h1.05M281.8 466.5h1.05M308.6 503.4h1.05M243.0 533.6h1.05M267.7 494.8h1.05M292.7 454.8h1.05M300.5 459.5h1.05M273.0 454.7h1.05M278.5 500.9h1.05M295.9 461.4h1.05M248.4 559.2h1.05M273.2 489.3h1.05M259.7 460.0h1.05M263.9 490.5h1.05M284.6 521.8h1.05M265.1 500.4h1.05M294.0 454.8h1.05M267.7 476.8h1.05M297.4 503.3h1.05M261.9 529.6h1.05M270.6 493.5h1.05M266.0 530.5h1.05M257.7 465.4h1.05M249.3 446.9h1.05M311.6 501.0h1.05M282.1 495.9h1.05M269.5 486.2h1.05M281.4 545.2h1.05M270.6 514.5h1.05M313.2 485.7h1.05M273.2 494.4h1.05M248.2 502.7h1.05M228.3 444.5h1.05M273.4 509.2h1.05M292.1 488.3h1.05M298.6 521.4h1.05M234.4 516.0h1.05M271.6 507.2h1.05M272.4 446.7h1.05M244.3 524.6h1.05M278.9 489.7h1.05M255.2 502.8h1.05M277.8 518.7h1.05M304.5 486.5h1.05M265.8 460.8h1.05M284.6 513.4h1.05M284.3 467.5h1.05M258.5 495.1h1.05M286.6 506.7h1.05M258.4 474.6h1.05M293.7 486.2h1.05M213.2 527.8h1.05M288.0 527.7h1.05M276.2 499.6h1.05M250.8 506.8h1.05M311.5 460.1h1.05M288.9 497.8h1.05M255.2 452.9h1.05M245.8 539.3h1.05M280.1 494.1h1.05M247.7 513.9h1.05M310.6 517.8h1.05M314.8 502.3h1.05M259.3 477.8h1.05M241.0 451.0h1.05M302.5 450.3h1.05M283.8 483.0h1.05M264.4 467.5h1.05M229.2 513.5h1.05M312.0 509.5h1.05M255.0 479.4h1.05M275.3 489.8h1.05M273.8 483.4h1.05M287.2 498.8h1.05M307.0 514.2h1.05M283.2 533.3h1.05M269.2 538.9h1.05M269.5 520.0h1.05M258.5 432.6h1.05M287.5 515.8h1.05M318.1 501.2h1.05M308.0 470.6h1.05M271.2 522.8h1.05M266.2 479.0h1.05M316.6 521.9h1.05M295.7 558.9h1.05M301.8 476.7h1.05M309.8 516.9h1.05M281.6 523.1h1.05M294.8 522.6h1.05M280.6 547.5h1.05M284.7 474.4h1.05M256.4 465.4h1.05M261.3 514.3h1.05M241.1 522.8h1.05M291.5 493.2h1.05M296.0 509.8h1.05M302.2 451.4h1.05M317.7 529.3h1.05M307.6 474.8h1.05M298.2 449.7h1.05M237.1 503.4h1.05M293.4 559.4h1.05M208.4 506.8h1.05M301.9 521.7h1.05M301.8 554.1h1.05M264.0 474.2h1.05M306.4 544.7h1.05M249.2 504.8h1.05M271.9 520.2h1.05M320.4 503.5h1.05M261.7 496.2h1.05M286.0 491.1h1.05M297.9 494.2h1.05M242.8 518.4h1.05M258.9 521.2h1.05M219.7 445.7h1.05M309.0 449.7h1.05M269.2 500.2h1.05M257.5 498.7h1.05M281.4 539.2h1.05M297.8 512.0h1.05M299.6 515.8h1.05M257.2 517.4h1.05M246.0 519.4h1.05M291.4 508.2h1.05M317.3 498.1h1.05M302.6 514.6h1.05M285.3 488.0h1.05M277.4 511.8h1.05M316.3 510.7h1.05M250.8 520.7h1.05M282.6 487.0h1.05M293.1 437.7h1.05M293.2 487.9h1.05M269.8 511.3h1.05M261.6 502.6h1.05M291.7 503.4h1.05M291.0 479.5h1.05M263.8 520.2h1.05M268.8 493.0h1.05M279.9 467.4h1.05M291.0 499.5h1.05M279.1 472.9h1.05M286.1 539.1h1.05M248.5 553.4h1.05M277.7 481.8h1.05M257.2 538.5h1.05M301.3 525.5h1.05M266.2 511.5h1.05M261.1 431.7h1.05M277.7 500.2h1.05M266.6 542.2h1.05M271.5 479.0h1.05M287.2 487.3h1.05M301.9 504.7h1.05M289.2 493.1h1.05M276.0 535.0h1.05M314.3 468.8h1.05M289.4 521.5h1.05M287.9 440.3h1.05M288.5 458.9h1.05M280.7 492.7h1.05M271.5 518.9h1.05M276.0 454.7h1.05M297.6 488.3h1.05M320.0 520.1h1.05M221.6 527.9h1.05M298.4 501.7h1.05M277.7 517.7h1.05M290.6 430.0h1.05M299.1 501.5h1.05M284.6 476.8h1.05M255.2 502.0h1.05M269.5 429.4h1.05M264.6 484.3h1.05M255.4 560.1h1.05M273.6 542.0h1.05M318.1 526.0h1.05M285.3 485.8h1.05M304.8 465.4h1.05M277.7 505.6h1.05M311.7 494.2h1.05M303.1 523.9h1.05M275.0 490.2h1.05M264.0 492.3h1.05M304.2 489.3h1.05M238.8 508.8h1.05M275.7 462.2h1.05M270.2 539.3h1.05M249.6 517.8h1.05M242.2 501.6h1.05M262.4 460.6h1.05M251.5 519.5h1.05M241.7 444.1h1.05M312.8 522.5h1.05M230.5 519.4h1.05M257.2 492.1h1.05M305.0 538.8h1.05M202.5 518.4h1.05M270.2 460.6h1.05M261.1 483.3h1.05M280.7 498.1h1.05M300.2 502.3h1.05M286.0 512.5h1.05M282.9 456.7h1.05M257.8 500.3h1.05M268.6 506.5h1.05M252.7 512.9h1.05M258.9 462.7h1.05M304.6 475.2h1.05M298.4 464.1h1.05M268.7 490.6h1.05M234.1 558.5h1.05M251.6 430.3h1.05M273.8 453.1h1.05M260.9 537.4h1.05M305.6 518.3h1.05M261.2 469.5h1.05M248.0 507.1h1.05M290.0 561.5h1.05M271.9 472.3h1.05M264.2 517.0h1.05M283.8 509.8h1.05M307.9 489.0h1.05M275.9 522.6h1.05M261.6 524.4h1.05M266.6 494.8h1.05M241.6 444.4h1.05M287.5 515.4h1.05M278.3 459.5h1.05M237.6 438.6h1.05M256.3 531.3h1.05M235.4 512.0h1.05M226.5 506.7h1.05M261.6 508.5h1.05M303.4 559.0h1.05M282.2 532.9h1.05M257.1 471.4h1.05M289.6 463.1h1.05M266.5 519.2h1.05M284.8 505.8h1.05M315.4 507.0h1.05M242.0 453.6h1.05M276.8 430.5h1.05M236.3 439.9h1.05M243.1 440.3h1.05M298.7 446.0h1.05M263.1 495.6h1.05M303.9 481.4h1.05M284.3 452.5h1.05M284.6 469.2h1.05M273.1 509.9h1.05M291.5 547.6h1.05M313.0 533.8h1.05M256.8 461.1h1.05M292.2 496.2h1.05M248.5 518.2h1.05M251.5 532.4h1.05M273.1 475.2h1.05M302.3 495.7h1.05M303.8 506.8h1.05M266.1 539.5h1.05M277.2 522.7h1.05M242.7 520.3h1.05M181.9 443.5h1.05M214.5 537.2h1.05M273.3 502.1h1.05M288.6 454.7h1.05M253.9 515.3h1.05M259.8 489.9h1.05M214.6 512.5h1.05M267.0 455.6h1.05M279.8 566.3h1.05M291.8 472.3h1.05M276.2 494.3h1.05M259.4 447.7h1.05M311.9 449.1h1.05M259.2 511.7h1.05M267.7 467.8h1.05M256.9 508.6h1.05M288.1 503.2h1.05M268.7 488.2h1.05M303.7 500.1h1.05M265.3 464.5h1.05M266.4 492.2h1.05M256.3 476.1h1.05M289.4 489.4h1.05M276.0 442.5h1.05M294.2 527.3h1.05M263.9 473.1h1.05M280.9 523.2h1.05M280.6 538.5h1.05M268.8 468.5h1.05M274.4 488.3h1.05M280.8 477.7h1.05M311.9 486.6h1.05M263.0 485.0h1.05M298.8 475.0h1.05M310.6 489.4h1.05M273.1 499.0h1.05M306.3 507.2h1.05M295.4 500.0h1.05M254.1 497.6h1.05M301.6 495.8h1.05M262.0 551.8h1.05M299.3 475.7h1.05M252.5 451.6h1.05M278.8 501.7h1.05M248.7 513.0h1.05M294.9 500.4h1.05M291.9 521.1h1.05M272.3 456.3h1.05M240.6 516.9h1.05M210.2 536.0h1.05M312.3 509.0h1.05M266.7 520.7h1.05M234.3 538.0h1.05M273.2 494.7h1.05M271.2 448.6h1.05M285.6 514.9h1.05M212.2 522.5h1.05M267.0 465.5h1.05M293.5 560.6h1.05M308.7 498.6h1.05M286.8 519.2h1.05M273.5 477.6h1.05M296.0 467.3h1.05M277.5 496.4h1.05M280.1 526.0h1.05M238.8 528.8h1.05M284.8 523.7h1.05M310.2 458.2h1.05M316.0 565.1h1.05M256.3 486.1h1.05M258.0 504.7h1.05M303.7 480.6h1.05M284.5 512.2h1.05M299.1 491.4h1.05M282.8 476.4h1.05M266.8 471.6h1.05M270.9 499.4h1.05M286.2 495.5h1.05M299.4 455.2h1.05M284.4 470.2h1.05M290.8 476.6h1.05M296.4 529.8h1.05M279.0 463.0h1.05M263.3 455.4h1.05M304.2 480.6h1.05M250.7 509.1h1.05M306.6 497.3h1.05M272.7 484.2h1.05M287.3 536.7h1.05M293.9 539.7h1.05M267.2 429.0h1.05M310.4 479.2h1.05M244.6 441.1h1.05M289.7 497.7h1.05M313.3 524.7h1.05M302.3 463.0h1.05M318.3 522.6h1.05M227.4 509.9h1.05M217.9 528.0h1.05M220.0 509.4h1.05M289.5 512.9h1.05M277.9 478.0h1.05M261.0 462.8h1.05M246.2 537.1h1.05M277.5 474.7h1.05M307.1 478.3h1.05M272.7 535.2h1.05M233.4 527.3h1.05M317.9 475.4h1.05M290.9 526.3h1.05M294.0 533.6h1.05M246.3 515.4h1.05M283.3 534.9h1.05M307.9 507.5h1.05M265.9 473.3h1.05M301.4 452.5h1.05M269.2 474.6h1.05M304.1 522.5h1.05M314.9 474.4h1.05M225.2 515.2h1.05M304.0 526.5h1.05M290.8 480.8h1.05M208.4 504.8h1.05M258.4 481.3h1.05M272.5 478.2h1.05M312.3 439.2h1.05M274.8 510.8h1.05M258.9 534.1h1.05M257.5 473.9h1.05M276.5 508.3h1.05M291.5 562.5h1.05M284.7 493.1h1.05M287.5 474.1h1.05M275.2 472.0h1.05M303.2 479.9h1.05M236.8 541.9h1.05M224.7 517.5h1.05M300.1 466.4h1.05M238.4 565.3h1.05M261.9 459.0h1.05M283.1 486.2h1.05M254.7 499.1h1.05M216.3 519.7h1.05M300.8 443.8h1.05M264.3 491.6h1.05M264.3 518.5h1.05M273.9 500.2h1.05M263.7 469.6h1.05M253.3 515.1h1.05M279.6 492.7h1.05M236.5 451.8h1.05M232.1 539.5h1.05M267.9 489.8h1.05M260.2 457.2h1.05M306.6 492.8h1.05M313.5 469.3h1.05M264.3 465.2h1.05M301.5 448.8h1.05M304.0 480.2h1.05M266.5 508.9h1.05M252.7 547.0h1.05M310.5 490.5h1.05M300.6 470.1h1.05M277.4 504.0h1.05M299.2 515.8h1.05M284.6 523.7h1.05M272.4 473.1h1.05M244.4 503.9h1.05M288.3 468.7h1.05M298.1 469.0h1.05M305.0 501.9h1.05M288.3 538.3h1.05M253.2 511.4h1.05M281.8 472.6h1.05M266.5 550.7h1.05M255.1 471.6h1.05M294.8 504.0h1.05M293.3 484.5h1.05M205.3 504.0h1.05M285.0 502.4h1.05M270.3 506.5h1.05M272.7 525.9h1.05M315.9 432.5h1.05M295.2 479.0h1.05M272.7 474.3h1.05M296.3 463.6h1.05M299.1 537.7h1.05M311.5 437.3h1.05M290.1 469.9h1.05M305.7 506.9h1.05M298.2 488.2h1.05M320.6 530.4h1.05M317.2 494.5h1.05M248.7 497.8h1.05M284.2 470.2h1.05M235.2 525.0h1.05M289.8 547.5h1.05M263.3 542.3h1.05M240.4 515.9h1.05M297.6 506.9h1.05M318.2 489.0h1.05M281.7 445.6h1.05M284.7 451.1h1.05M272.3 506.5h1.05M302.6 498.3h1.05M283.1 485.9h1.05M269.1 461.6h1.05M252.4 500.8h1.05M229.8 525.1h1.05M233.9 503.8h1.05M302.6 525.5h1.05M255.2 500.6h1.05M311.9 448.1h1.05M286.3 462.2h1.05M314.5 527.8h1.05M223.1 520.5h1.05M231.9 545.1h1.05M281.4 503.7h1.05M287.0 457.0h1.05M289.3 443.5h1.05M257.6 461.1h1.05M293.5 490.8h1.05M299.5 515.4h1.05M202.6 507.8h1.05M241.8 523.6h1.05M265.0 465.9h1.05M252.9 504.9h1.05M258.2 501.1h1.05M283.3 481.2h1.05M269.8 494.6h1.05M292.2 465.5h1.05M272.8 459.1h1.05M270.5 524.7h1.05M310.9 512.5h1.05M299.0 434.0h1.05M301.2 500.7h1.05M247.7 507.2h1.05M264.1 472.8h1.05M264.8 469.4h1.05M261.9 489.4h1.05M280.4 520.2h1.05M286.3 500.2h1.05M304.2 495.8h1.05M260.1 455.6h1.05M240.0 524.8h1.05M291.4 502.7h1.05M263.2 458.7h1.05M258.7 459.8h1.05M266.4 484.0h1.05M238.0 515.2h1.05M259.7 449.1h1.05M278.8 532.1h1.05M320.4 434.6h1.05M269.3 464.2h1.05M260.3 527.9h1.05M288.1 533.8h1.05M315.9 452.9h1.05M260.2 468.3h1.05M283.9 507.0h1.05M301.5 570.1h1.05M288.3 526.6h1.05M250.6 513.1h1.05M291.4 514.9h1.05M286.7 531.5h1.05M241.0 449.5h1.05M306.4 479.6h1.05M260.4 442.9h1.05M288.7 492.1h1.05M297.0 486.2h1.05M255.2 479.7h1.05M238.1 532.8h1.05M266.1 462.3h1.05M283.3 467.9h1.05M305.4 474.6h1.05M272.3 544.2h1.05M283.0 516.0h1.05M272.9 492.3h1.05M242.0 503.3h1.05M313.1 463.5h1.05M273.2 466.6h1.05M250.3 507.9h1.05M258.4 473.8h1.05M292.5 529.8h1.05M300.9 473.6h1.05M315.6 437.4h1.05M318.4 479.4h1.05M306.0 478.3h1.05M232.0 525.3h1.05M289.5 518.3h1.05M285.2 504.5h1.05M316.6 492.7h1.05M288.9 441.4h1.05M292.8 502.4h1.05M269.6 479.5h1.05M306.8 498.5h1.05M294.6 468.8h1.05M290.6 494.2h1.05M314.5 488.3h1.05M262.0 475.5h1.05M288.8 432.1h1.05M289.6 552.5h1.05M284.2 535.9h1.05M286.2 455.1h1.05M256.0 478.3h1.05M289.3 484.6h1.05M289.7 490.1h1.05M214.2 507.6h1.05M268.2 488.9h1.05M297.5 512.0h1.05M297.3 504.8h1.05M276.6 461.4h1.05M253.1 536.8h1.05M234.5 513.1h1.05M279.9 467.1h1.05M299.0 517.6h1.05M296.1 516.6h1.05M318.0 548.2h1.05M303.6 493.2h1.05M257.2 487.3h1.05M284.3 475.6h1.05M188.3 499.7h1.05M264.1 466.8h1.05M285.5 519.5h1.05M249.1 525.9h1.05M276.9 450.5h1.05M304.3 492.1h1.05M258.7 538.0h1.05M302.1 463.9h1.05M250.9 457.8h1.05M310.5 516.1h1.05M289.2 457.0h1.05M263.7 534.6h1.05M287.8 496.7h1.05M264.9 492.7h1.05M278.5 510.9h1.05M274.3 461.6h1.05M258.6 456.5h1.05M307.5 483.2h1.05M264.5 495.5h1.05M283.6 505.5h1.05M295.6 528.3h1.05M199.8 541.6h1.05M259.0 537.8h1.05M203.1 557.5h1.05M226.9 507.1h1.05M277.4 531.4h1.05M183.9 517.6h1.05M295.4 529.7h1.05M194.5 525.1h1.05M265.8 524.4h1.05M193.1 515.2h1.05M234.9 536.1h1.05M232.5 537.4h1.05M251.0 526.1h1.05M256.3 524.5h1.05M139.3 528.2h1.05M268.5 555.3h1.05M270.3 523.5h1.05M291.0 549.8h1.05M268.8 548.7h1.05M182.6 558.1h1.05M191.3 541.4h1.05M244.4 539.8h1.05M276.3 545.5h1.05M202.7 557.7h1.05M169.0 520.9h1.05M130.8 533.4h1.05M138.2 505.9h1.05M258.6 539.9h1.05M192.5 529.6h1.05M217.5 554.2h1.05M228.7 517.3h1.05M243.1 576.8h1.05M207.8 578.9h1.05M227.5 551.9h1.05M217.8 518.4h1.05M277.9 546.5h1.05M311.6 500.6h1.05M178.0 528.8h1.05M244.7 556.4h1.05M261.7 552.3h1.05M237.5 525.8h1.05M231.7 556.2h1.05M221.7 577.3h1.05M224.4 563.0h1.05M261.2 520.4h1.05M229.9 524.0h1.05M277.1 541.0h1.05M261.7 518.9h1.05M224.7 531.5h1.05M300.2 519.7h1.05M162.0 490.5h1.05M206.3 521.5h1.05M254.6 553.8h1.05M221.5 560.9h1.05M284.0 508.9h1.05M166.2 542.0h1.05M204.0 530.3h1.05M270.4 539.4h1.05M219.6 568.8h1.05M207.8 533.2h1.05M257.3 520.9h1.05M306.1 528.5h1.05M161.6 523.1h1.05M295.5 546.3h1.05M289.4 516.2h1.05M231.2 555.5h1.05M221.2 559.3h1.05M258.2 528.9h1.05M267.5 528.1h1.05M260.3 528.2h1.05M272.8 528.2h1.05M228.0 513.0h1.05M307.1 518.1h1.05M173.0 482.2h1.05M297.0 544.8h1.05M252.7 557.5h1.05M294.8 523.6h1.05M200.9 530.8h1.05M180.5 539.8h1.05M279.3 528.7h1.05M283.4 537.0h1.05M157.7 507.4h1.05M293.4 540.9h1.05M277.9 534.5h1.05M182.4 538.8h1.05M315.4 507.3h1.05M246.8 515.1h1.05M312.6 554.0h1.05M292.7 516.3h1.05M231.4 548.6h1.05M252.8 517.9h1.05M291.6 541.3h1.05M243.7 543.2h1.05M230.8 571.2h1.05M225.8 559.0h1.05M265.8 524.9h1.05M251.5 536.9h1.05M317.5 512.3h1.05M188.5 550.0h1.05M143.3 527.2h1.05M146.2 532.1h1.05M228.7 553.7h1.05M203.0 555.9h1.05M247.2 556.6h1.05M219.7 535.5h1.05M286.3 558.3h1.05M242.8 516.5h1.05M227.1 524.4h1.05M238.2 507.0h1.05M163.0 565.2h1.05M218.9 539.0h1.05M241.1 539.0h1.05M304.1 539.8h1.05M221.8 536.9h1.05M178.1 532.1h1.05M274.6 539.5h1.05M254.4 510.1h1.05M143.0 514.3h1.05M186.6 523.8h1.05M293.1 556.2h1.05M215.8 561.3h1.05M286.7 534.0h1.05M214.6 575.2h1.05M286.3 544.9h1.05M312.6 529.4h1.05M229.5 505.8h1.05M235.0 542.5h1.05M273.0 550.4h1.05M207.4 528.5h1.05M200.8 527.6h1.05M292.7 523.2h1.05M196.3 573.1h1.05M213.1 532.9h1.05M261.0 532.5h1.05M203.8 530.9h1.05M271.2 534.1h1.05M207.8 573.9h1.05M247.3 563.0h1.05M261.3 563.4h1.05M262.8 522.3h1.05M191.4 541.5h1.05M220.9 503.5h1.05M281.8 551.6h1.05M208.9 573.0h1.05M253.2 543.7h1.05M176.8 566.1h1.05M258.2 529.5h1.05M272.7 535.9h1.05M291.3 500.3h1.05M226.6 525.0h1.05M230.2 532.2h1.05M125.1 512.4h1.05M188.1 544.4h1.05M277.0 570.3h1.05M212.9 524.4h1.05M241.6 522.4h1.05M214.7 563.1h1.05M240.9 549.3h1.05M171.3 524.6h1.05M233.1 547.0h1.05M241.8 521.5h1.05M206.0 550.7h1.05M235.8 543.6h1.05M234.1 542.1h1.05M304.2 518.5h1.05M259.2 511.0h1.05M173.6 551.1h1.05M267.9 540.2h1.05M240.6 576.6h1.05M315.6 503.9h1.05M160.2 559.2h1.05M295.3 553.0h1.05M196.8 538.0h1.05M254.7 548.6h1.05M267.8 553.9h1.05M272.0 548.3h1.05M234.1 518.4h1.05M222.0 523.9h1.05M230.7 535.0h1.05M212.5 532.8h1.05M268.4 535.7h1.05M162.0 547.0h1.05M272.5 506.5h1.05M194.0 555.2h1.05M261.3 531.1h1.05M296.6 534.4h1.05M281.7 510.8h1.05M301.5 515.8h1.05M217.7 540.3h1.05M275.1 514.0h1.05M262.9 534.6h1.05M212.6 536.2h1.05M183.3 524.0h1.05M193.8 507.0h1.05M302.0 557.6h1.05M222.8 568.4h1.05M286.6 569.9h1.05M245.1 518.8h1.05M270.0 526.9h1.05M195.8 518.2h1.05M199.7 528.7h1.05M182.3 527.7h1.05M213.7 529.2h1.05M282.6 540.9h1.05M211.4 528.0h1.05M211.9 543.1h1.05M232.8 547.7h1.05M201.8 577.0h1.05M133.2 523.3h1.05M273.0 529.1h1.05M291.9 566.6h1.05M259.2 510.7h1.05M229.2 542.2h1.05M193.3 497.7h1.05M239.7 575.2h1.05M212.0 551.1h1.05M194.7 544.4h1.05M203.7 534.5h1.05M319.2 506.5h1.05M270.6 548.9h1.05M246.5 521.9h1.05M228.9 549.2h1.05M231.6 528.8h1.05M189.9 566.8h1.05M162.0 550.5h1.05M151.4 534.9h1.05M177.2 523.2h1.05M205.8 510.4h1.05M193.3 535.7h1.05M179.9 547.8h1.05M274.8 541.1h1.05M205.9 521.3h1.05M285.2 525.0h1.05M184.0 544.7h1.05M292.4 542.6h1.05M267.6 577.4h1.05M278.3 494.3h1.05M316.6 522.2h1.05M242.4 516.9h1.05M208.5 541.6h1.05M276.3 566.9h1.05M228.7 525.9h1.05M227.1 552.9h1.05M313.3 523.0h1.05M250.8 548.9h1.05M183.2 505.8h1.05M221.4 569.1h1.05M274.2 551.3h1.05M221.9 521.1h1.05M208.2 575.1h1.05M286.6 582.2h1.05M285.5 544.5h1.05M314.4 543.6h1.05M168.8 532.5h1.05M207.9 513.4h1.05M243.3 557.7h1.05M274.0 545.1h1.05M226.5 527.2h1.05M227.2 532.7h1.05M274.9 544.4h1.05M190.4 554.9h1.05M263.9 546.5h1.05M255.6 527.0h1.05M300.2 567.6h1.05M242.1 548.0h1.05M209.2 551.7h1.05M155.1 556.3h1.05M231.4 552.9h1.05M287.5 531.8h1.05M215.1 511.2h1.05M194.1 558.8h1.05M221.6 505.4h1.05M225.7 542.2h1.05M235.8 529.4h1.05M292.4 530.8h1.05M226.4 554.5h1.05M177.8 539.2h1.05M248.0 528.4h1.05M206.1 531.6h1.05M232.4 528.3h1.05M147.1 576.7h1.05M280.1 529.4h1.05M237.9 547.7h1.05M266.8 552.2h1.05M174.9 540.3h1.05M190.3 519.4h1.05M192.4 544.4h1.05M220.4 568.2h1.05M288.6 565.6h1.05M198.5 512.3h1.05M210.7 563.4h1.05M195.9 537.9h1.05M287.1 556.5h1.05M249.7 522.9h1.05M234.0 551.4h1.05M183.2 511.3h1.05M256.7 549.7h1.05M158.5 557.8h1.05M162.9 519.3h1.05M288.7 514.6h1.05M242.7 537.5h1.05M251.1 503.2h1.05M278.0 542.1h1.05M232.3 591.6h1.05M198.6 534.8h1.05M279.1 507.4h1.05M274.8 545.2h1.05M318.8 534.6h1.05M239.7 561.7h1.05M259.4 524.3h1.05M269.0 536.6h1.05M241.4 532.3h1.05M206.3 535.9h1.05M265.3 527.1h1.05M266.6 556.7h1.05M291.1 546.0h1.05M286.3 523.7h1.05M300.9 551.9h1.05M249.0 554.5h1.05M279.1 525.6h1.05M305.4 520.8h1.05M214.3 532.6h1.05M266.9 550.3h1.05M263.5 539.0h1.05M188.1 535.6h1.05M241.0 501.9h1.05M254.7 527.0h1.05M233.9 535.4h1.05M174.0 549.7h1.05M231.8 535.7h1.05M180.9 521.3h1.05M185.9 524.1h1.05M229.7 546.0h1.05M238.8 533.7h1.05M174.6 511.4h1.05M254.7 516.6h1.05M252.9 546.7h1.05M216.1 538.2h1.05M300.3 540.6h1.05M264.0 534.6h1.05M211.0 516.0h1.05M304.0 512.4h1.05M274.4 539.8h1.05M228.8 544.6h1.05M186.5 576.0h1.05M208.4 525.3h1.05M264.8 533.9h1.05M228.7 534.1h1.05M224.4 585.6h1.05M191.8 546.4h1.05M237.6 554.8h1.05M210.2 532.6h1.05M260.7 531.5h1.05M301.2 555.7h1.05M311.3 488.5h1.05M268.6 524.0h1.05M278.6 549.0h1.05M227.5 536.6h1.05M175.0 529.7h1.05M233.4 536.2h1.05M183.0 524.5h1.05M242.2 558.7h1.05M254.2 525.5h1.05M265.4 541.4h1.05M268.7 508.8h1.05M236.5 539.1h1.05M197.4 558.0h1.05M213.0 555.2h1.05M247.4 503.2h1.05M190.0 535.2h1.05M259.1 522.8h1.05M248.1 526.6h1.05M277.9 520.2h1.05M258.2 520.7h1.05M200.7 538.8h1.05M212.8 570.5h1.05M175.3 534.5h1.05M225.4 576.0h1.05M181.6 521.3h1.05M230.9 502.2h1.05M275.9 524.5h1.05M231.8 538.8h1.05M242.0 518.7h1.05M174.3 570.3h1.05M295.8 564.6h1.05M255.8 557.8h1.05M234.9 538.9h1.05M98.6 522.4h1.05M257.7 529.0h1.05M270.2 538.4h1.05M226.0 513.8h1.05M258.7 533.9h1.05M272.9 527.7h1.05M197.9 531.5h1.05M214.0 530.9h1.05M238.0 561.6h1.05M221.8 513.8h1.05M239.2 509.7h1.05M224.0 522.2h1.05M261.4 550.7h1.05M207.9 539.3h1.05M315.4 501.0h1.05M233.0 514.1h1.05M215.2 561.1h1.05M227.5 541.2h1.05M260.4 497.8h1.05M295.5 542.9h1.05M216.5 506.8h1.05M259.6 527.1h1.05M175.2 520.6h1.05M312.0 484.7h1.05M238.2 522.6h1.05M227.8 529.8h1.05M258.6 573.0h1.05M320.4 516.9h1.05M265.5 492.9h1.05M259.7 500.0h1.05M253.0 554.4h1.05M250.2 561.8h1.05M253.8 556.0h1.05M282.1 534.6h1.05M145.8 535.1h1.05M277.7 572.5h1.05M215.8 565.1h1.05M248.9 526.8h1.05M258.9 557.7h1.05M198.6 533.4h1.05M234.4 571.1h1.05M184.2 548.8h1.05M205.1 510.4h1.05M271.4 527.9h1.05M269.1 536.6h1.05M288.4 534.5h1.05M254.4 529.1h1.05M204.1 513.0h1.05M270.0 530.0h1.05M208.8 531.8h1.05M176.1 560.9h1.05M217.4 536.7h1.05M243.1 547.4h1.05M285.8 517.5h1.05M172.9 517.1h1.05M202.3 511.6h1.05M245.4 519.4h1.05M232.7 545.6h1.05M314.1 570.2h1.05M247.7 523.1h1.05M182.2 583.5h1.05M297.8 538.1h1.05M232.7 553.0h1.05M158.3 540.0h1.05M192.8 545.7h1.05M216.5 563.8h1.05M251.7 523.5h1.05M249.1 532.3h1.05M292.8 508.9h1.05M252.6 563.9h1.05M274.9 542.0h1.05M243.7 586.1h1.05M211.0 538.0h1.05M261.0 552.9h1.05M202.1 506.2h1.05M272.4 521.1h1.05M226.8 521.4h1.05M232.7 579.5h1.05M280.8 534.2h1.05M237.4 506.5h1.05M185.3 536.1h1.05M190.0 507.5h1.05M309.9 571.6h1.05M249.1 525.9h1.05M247.2 516.8h1.05M233.0 525.0h1.05M182.7 566.2h1.05M236.6 525.5h1.05M275.4 561.6h1.05M225.1 532.7h1.05M249.8 535.1h1.05M218.7 557.3h1.05M241.0 521.8h1.05M318.0 547.1h1.05M260.2 523.4h1.05M187.6 530.7h1.05M122.3 524.5h1.05M260.8 517.8h1.05M206.5 532.3h1.05M213.1 528.0h1.05M241.4 555.8h1.05M257.6 535.3h1.05M218.4 507.7h1.05M239.1 526.0h1.05M313.6 532.2h1.05M232.9 547.2h1.05M136.1 514.6h1.05M140.7 566.4h1.05M206.9 550.0h1.05M245.5 537.6h1.05M185.8 524.3h1.05M291.6 574.9h1.05M252.4 562.7h1.05M227.7 514.6h1.05M242.6 510.4h1.05M190.2 525.5h1.05M253.6 529.7h1.05M276.1 504.8h1.05M219.7 527.5h1.05M219.5 560.9h1.05M261.6 488.4h1.05M232.2 544.4h1.05M177.8 546.2h1.05M219.5 530.9h1.05M218.0 527.5h1.05M210.4 532.9h1.05M225.8 556.5h1.05M174.0 508.1h1.05M170.3 595.8h1.05M174.1 565.4h1.05M295.4 542.0h1.05M255.4 548.5h1.05M248.9 538.0h1.05M267.6 567.5h1.05M226.4 569.9h1.05M289.4 513.7h1.05M249.5 549.8h1.05M181.3 562.4h1.05M89.2 524.6h1.05M228.5 547.7h1.05M232.7 541.8h1.05M228.6 535.2h1.05M281.9 532.2h1.05M202.5 558.7h1.05M244.4 515.0h1.05M230.1 553.0h1.05M265.7 556.5h1.05M251.4 542.4h1.05M199.4 518.1h1.05M207.7 506.9h1.05M273.1 512.5h1.05M222.6 528.4h1.05M162.7 546.2h1.05M188.7 562.8h1.05M176.3 514.7h1.05M235.7 545.8h1.05M232.1 514.1h1.05M285.3 518.2h1.05M176.8 543.5h1.05M200.6 508.4h1.05M286.1 574.4h1.05M241.8 508.5h1.05M234.0 549.5h1.05M236.1 555.3h1.05M207.8 508.8h1.05M206.0 543.8h1.05M280.5 497.2h1.05M263.7 562.1h1.05M172.7 522.7h1.05M293.5 505.0h1.05M229.2 549.1h1.05M178.3 534.0h1.05M229.2 541.7h1.05M233.2 559.7h1.05M260.6 538.1h1.05M301.7 506.1h1.05M238.6 527.7h1.05M180.6 506.2h1.05M263.0 500.8h1.05M263.9 558.6h1.05M232.3 562.2h1.05M245.0 565.1h1.05M180.7 492.4h1.05M210.4 520.6h1.05M246.5 537.4h1.05M131.5 487.3h1.05M260.3 563.0h1.05M209.1 528.5h1.05M191.2 522.9h1.05M203.9 499.6h1.05M211.8 572.8h1.05M266.9 515.5h1.05M257.7 504.8h1.05M281.8 570.7h1.05M255.2 524.8h1.05M229.1 542.4h1.05M149.6 538.0h1.05M306.4 507.5h1.05M248.6 530.6h1.05M189.6 557.8h1.05M266.7 562.3h1.05M232.9 512.0h1.05M280.2 551.8h1.05M295.3 540.9h1.05M286.6 527.6h1.05M306.8 511.0h1.05M247.6 536.3h1.05M298.0 508.0h1.05M236.7 559.8h1.05M259.6 515.6h1.05M170.4 521.6h1.05M258.7 515.6h1.05M219.3 560.9h1.05M229.2 515.4h1.05M214.6 510.5h1.05M285.0 547.2h1.05M198.1 542.7h1.05M294.6 533.1h1.05M178.7 535.2h1.05M121.7 522.1h1.05M280.2 535.9h1.05M204.6 534.0h1.05M218.2 539.2h1.05M279.0 561.3h1.05M175.6 528.9h1.05M259.9 520.7h1.05M181.0 516.1h1.05M306.2 534.2h1.05M151.7 547.1h1.05M153.9 554.0h1.05M243.8 537.2h1.05M268.8 569.2h1.05M167.9 489.0h1.05M264.6 532.3h1.05M280.2 548.7h1.05M248.2 546.0h1.05M226.0 535.4h1.05M261.8 510.4h1.05M195.3 520.3h1.05M266.9 542.1h1.05M313.3 517.9h1.05M267.4 547.4h1.05M186.2 510.4h1.05M205.7 526.0h1.05M197.9 497.6h1.05M205.2 517.1h1.05M267.4 528.0h1.05M229.1 510.1h1.05M213.7 580.9h1.05M191.3 520.8h1.05M190.7 541.4h1.05M273.4 561.9h1.05M180.3 509.1h1.05M263.2 526.6h1.05M261.3 526.6h1.05M174.7 547.2h1.05M217.4 539.6h1.05M301.3 518.0h1.05M225.6 507.5h1.05M237.2 504.1h1.05M303.6 543.6h1.05M276.5 553.4h1.05M264.7 528.2h1.05M215.7 525.4h1.05M140.7 552.5h1.05M201.4 511.6h1.05M235.2 516.9h1.05M158.5 576.2h1.05M309.2 545.2h1.05M204.9 532.1h1.05M184.0 481.6h1.05M168.3 543.6h1.05M302.6 514.7h1.05M271.9 550.6h1.05M192.7 547.1h1.05M276.3 531.4h1.05M233.0 545.7h1.05M254.0 564.2h1.05M238.2 559.8h1.05M241.8 529.4h1.05M198.4 541.9h1.05M255.0 526.5h1.05M259.7 532.6h1.05M182.4 508.7h1.05M306.0 562.2h1.05M258.5 534.0h1.05M296.3 546.4h1.05M262.7 511.1h1.05M203.4 512.6h1.05M264.1 541.1h1.05M244.2 545.2h1.05M271.5 570.6h1.05M255.6 539.3h1.05M250.5 533.1h1.05M269.8 556.4h1.05M261.9 539.9h1.05M179.4 498.8h1.05M214.6 558.1h1.05M223.7 525.4h1.05M155.7 522.1h1.05M242.2 535.1h1.05M268.8 568.8h1.05M291.5 529.7h1.05M231.3 535.6h1.05M282.4 544.4h1.05M284.0 511.9h1.05M246.6 500.5h1.05M213.9 544.8h1.05M211.0 541.3h1.05M299.1 531.9h1.05M224.1 553.9h1.05M210.5 521.9h1.05M258.8 563.2h1.05M296.2 518.8h1.05M211.3 528.9h1.05M268.3 525.5h1.05M229.2 574.6h1.05M212.7 535.7h1.05M247.2 563.3h1.05M168.5 526.6h1.05M308.9 579.2h1.05M177.8 547.2h1.05M293.1 561.5h1.05M240.8 551.3h1.05M243.2 517.8h1.05M278.1 568.9h1.05M150.6 548.7h1.05M225.6 580.9h1.05M214.7 504.4h1.05M252.2 515.7h1.05M224.1 558.9h1.05M202.2 523.5h1.05M235.8 519.2h1.05M162.0 545.1h1.05M205.8 560.1h1.05M263.2 554.2h1.05M314.6 531.4h1.05M262.0 538.7h1.05M193.4 537.6h1.05M160.4 512.3h1.05M245.5 551.1h1.05M212.8 536.6h1.05M315.2 551.2h1.05M225.0 572.0h1.05M308.1 540.8h1.05M273.4 552.0h1.05M243.8 532.1h1.05M295.2 548.1h1.05M182.2 541.9h1.05M168.3 527.8h1.05M319.7 580.2h1.05M213.9 563.6h1.05M256.6 569.1h1.05M195.2 544.3h1.05M241.8 551.8h1.05M191.2 530.6h1.05M284.4 550.0h1.05M185.9 529.5h1.05M276.8 542.8h1.05M229.2 520.5h1.05M320.7 563.1h1.05M290.4 485.4h1.05M236.2 546.7h1.05M298.1 545.0h1.05M299.6 548.3h1.05M236.0 571.4h1.05M239.1 568.9h1.05M225.2 535.4h1.05M211.4 539.6h1.05M272.7 524.8h1.05M197.2 519.4h1.05M281.1 505.1h1.05M319.5 519.6h1.05M247.7 564.3h1.05M192.4 564.2h1.05M249.3 554.7h1.05M246.6 534.2h1.05M251.1 505.7h1.05M252.5 544.5h1.05M266.6 538.3h1.05M202.7 540.4h1.05M237.3 523.6h1.05M188.8 524.2h1.05M241.2 523.6h1.05M236.9 560.4h1.05M225.7 551.7h1.05M182.1 531.1h1.05M187.3 560.5h1.05M184.0 559.9h1.05M219.7 515.5h1.05M287.4 554.5h1.05M222.3 544.0h1.05M172.3 533.0h1.05M235.5 511.6h1.05M210.7 531.2h1.05M270.2 523.7h1.05M259.8 558.0h1.05M234.9 585.0h1.05M294.4 502.4h1.05M209.4 530.1h1.05M191.3 545.8h1.05M197.6 505.6h1.05M197.8 552.8h1.05M179.2 499.2h1.05M276.5 564.2h1.05M273.1 553.3h1.05M209.6 532.4h1.05M165.1 533.4h1.05M129.4 529.2h1.05M223.2 517.6h1.05M178.5 536.9h1.05M221.7 551.0h1.05M192.2 542.4h1.05M143.3 505.2h1.05M171.9 518.9h1.05M297.6 560.4h1.05M238.1 543.4h1.05M288.4 546.9h1.05M273.3 574.2h1.05M225.9 555.8h1.05M226.7 556.6h1.05M123.8 512.4h1.05M269.9 492.0h1.05M240.0 508.3h1.05M174.1 532.7h1.05M250.0 497.9h1.05M249.9 528.2h1.05M233.4 514.5h1.05M240.4 540.0h1.05M202.6 513.7h1.05M319.5 538.7h1.05M158.6 515.2h1.05M255.5 532.9h1.05M232.3 538.9h1.05M182.3 544.5h1.05M196.0 526.2h1.05M295.5 512.6h1.05M290.4 519.6h1.05M235.6 540.5h1.05M250.8 512.7h1.05M240.0 532.7h1.05M239.6 529.9h1.05M142.3 540.9h1.05M285.8 549.4h1.05M187.8 553.7h1.05M171.6 531.4h1.05M198.6 541.5h1.05M253.4 526.8h1.05M283.7 537.4h1.05M191.6 489.8h1.05M255.0 573.9h1.05M227.3 533.1h1.05M261.9 530.7h1.05M250.2 550.5h1.05M248.3 548.0h1.05M278.3 562.4h1.05M221.7 515.6h1.05M315.7 545.4h1.05M243.4 503.8h1.05M156.8 515.4h1.05M193.5 507.9h1.05M279.8 534.6h1.05M176.4 571.7h1.05M216.4 504.9h1.05M220.6 538.3h1.05M272.8 517.4h1.05M271.1 555.4h1.05M254.3 542.4h1.05M210.5 554.2h1.05M203.3 528.9h1.05M262.3 492.5h1.05M197.2 493.0h1.05M258.9 544.1h1.05M248.9 514.5h1.05M267.1 523.0h1.05M243.6 522.9h1.05M309.8 486.2h1.05M284.3 560.2h1.05M268.3 519.2h1.05M260.0 482.0h1.05M269.5 538.3h1.05M187.4 555.5h1.05M294.0 526.2h1.05M187.3 546.1h1.05M292.2 515.0h1.05M217.2 561.4h1.05M206.5 535.2h1.05M217.3 507.5h1.05M191.0 525.9h1.05M190.1 545.9h1.05M205.2 532.9h1.05M282.1 570.2h1.05M219.0 529.5h1.05M263.3 524.0h1.05M257.6 558.4h1.05M240.5 531.1h1.05M273.2 514.2h1.05M218.0 567.5h1.05M257.2 526.0h1.05M239.8 552.9h1.05M157.9 536.5h1.05M265.4 620.9h1.05M188.4 532.0h1.05M234.8 539.2h1.05M251.9 538.5h1.05M172.9 522.5h1.05M237.1 574.5h1.05M316.4 536.6h1.05M228.3 532.4h1.05M223.1 553.5h1.05M307.7 493.6h1.05M240.9 535.5h1.05M249.8 543.6h1.05M247.5 570.3h1.05M216.3 544.5h1.05M238.0 517.3h1.05M288.2 540.6h1.05M177.5 550.2h1.05M248.3 499.6h1.05M226.1 527.4h1.05M285.5 531.4h1.05M193.0 548.7h1.05M188.8 448.8h1.05M213.7 431.5h1.05M280.9 457.3h1.05M316.4 454.1h1.05M209.0 437.3h1.05M289.8 439.9h1.05M203.5 456.8h1.05M167.3 444.1h1.05M226.0 446.4h1.05M258.3 447.1h1.05M256.4 456.2h1.05M255.2 436.3h1.05M245.1 451.0h1.05M239.9 438.4h1.05M245.1 439.6h1.05M201.7 436.2h1.05M264.8 433.4h1.05M299.8 454.3h1.05M261.5 457.2h1.05M257.5 447.7h1.05M285.7 464.0h1.05M267.0 434.8h1.05M272.5 434.8h1.05M219.4 450.2h1.05M206.7 432.4h1.05M229.2 440.1h1.05M199.8 444.7h1.05M250.8 437.9h1.05M232.6 444.8h1.05M292.3 434.4h1.05M262.9 451.4h1.05M258.4 449.1h1.05M260.9 452.5h1.05M249.1 431.4h1.05M258.0 448.5h1.05M221.6 435.6h1.05M205.9 444.1h1.05M283.2 438.2h1.05M259.8 429.9h1.05M299.0 451.3h1.05M249.2 446.2h1.05M242.6 453.1h1.05M238.5 448.1h1.05M260.8 450.7h1.05M204.1 450.9h1.05M260.5 434.0h1.05M208.1 439.1h1.05M268.9 439.9h1.05M209.6 431.3h1.05M242.3 452.1h1.05M269.7 444.5h1.05M293.8 457.7h1.05M294.9 441.7h1.05M236.6 441.7h1.05M281.0 432.8h1.05M250.3 444.8h1.05M296.9 450.2h1.05M258.4 432.8h1.05M210.4 433.2h1.05M225.0 448.1h1.05M195.9 439.1h1.05M214.1 441.4h1.05M262.0 443.9h1.05M243.9 441.1h1.05M237.6 445.5h1.05M297.4 435.8h1.05M271.6 462.8h1.05M258.6 442.3h1.05M245.2 452.7h1.05M287.2 438.3h1.05M246.2 450.5h1.05M223.5 430.7h1.05M266.8 437.1h1.05M226.0 444.2h1.05M279.7 442.1h1.05M294.5 453.0h1.05M212.7 450.1h1.05M269.7 436.3h1.05M205.6 450.9h1.05M284.7 454.8h1.05M274.2 453.7h1.05M248.2 440.1h1.05M233.7 444.6h1.05M216.4 444.1h1.05M202.7 434.5h1.05M257.6 428.8h1.05M238.2 439.4h1.05M257.8 449.5h1.05M288.9 433.4h1.05M235.6 450.6h1.05M250.0 435.6h1.05M200.9 450.4h1.05M302.0 437.2h1.05M266.2 447.4h1.05M254.8 437.9h1.05M266.4 445.9h1.05M193.6 444.7h1.05M228.7 440.6h1.05M241.2 440.6h1.05M261.6 445.5h1.05M223.3 449.1h1.05M256.0 442.4h1.05M252.6 448.4h1.05M208.9 444.8h1.05M260.8 454.3h1.05M238.9 429.1h1.05M241.8 439.5h1.05M247.5 441.3h1.05M215.3 438.3h1.05M261.7 436.7h1.05M262.7 438.4h1.05M217.4 444.0h1.05M228.0 443.7h1.05M216.1 442.7h1.05M256.1 441.7h1.05M220.6 437.1h1.05M198.6 451.0h1.05M261.4 452.1h1.05M214.9 439.3h1.05M251.4 441.2h1.05M201.8 431.6h1.05M258.6 453.4h1.05M166.6 447.0h1.05M287.4 438.9h1.05M193.9 435.2h1.05M258.8 449.5h1.05M260.9 447.4h1.05M250.1 442.3h1.05M214.1 439.5h1.05M294.6 445.1h1.05M179.7 440.1h1.05M273.2 443.4h1.05M252.1 438.8h1.05M119.9 456.7h1.05M185.3 548.6h1.05M212.2 591.9h1.05M161.8 510.2h1.05M270.5 590.5h1.05M210.2 555.7h1.05M211.6 512.8h1.05M283.1 556.4h1.05M186.7 526.9h1.05M105.5 519.3h1.05M307.1 448.4h1.05M109.8 432.5h1.05M149.8 466.1h1.05M199.4 529.0h1.05M101.7 471.3h1.05M232.5 452.9h1.05M296.9 514.3h1.05M127.5 564.1h1.05M144.7 564.8h1.05M241.3 546.1h1.05M240.3 559.5h1.05M191.6 484.7h1.05M319.8 524.0h1.05M178.4 473.3h1.05M157.3 445.8h1.05M237.8 537.8h1.05M300.4 448.5h1.05M456.7 550.6h1.05M544.3 508.7h1.05M476.1 540.9h1.05M534.0 523.9h1.05M506.7 541.3h1.05M521.7 515.5h1.05M511.8 518.0h1.05M514.1 517.4h1.05M488.3 537.8h1.05M449.3 525.5h1.05M510.0 514.3h1.05M532.1 507.4h1.05M515.7 512.5h1.05M519.5 525.0h1.05M521.2 517.5h1.05M523.4 517.6h1.05M512.4 525.6h1.05M463.0 539.1h1.05M554.9 497.0h1.05M497.1 532.6h1.05M465.1 528.8h1.05M505.2 520.3h1.05M467.1 522.2h1.05M514.4 510.6h1.05M536.7 510.7h1.05M464.8 547.4h1.05M488.5 531.5h1.05M523.4 504.4h1.05M468.4 535.3h1.05M502.4 518.2h1.05M504.4 533.3h1.05M475.7 524.5h1.05M550.0 498.7h1.05M469.2 541.2h1.05M507.4 521.1h1.05M489.2 511.8h1.05M474.4 533.2h1.05M515.8 504.4h1.05M490.0 537.1h1.05M519.0 519.1h1.05M506.0 515.0h1.05M522.4 508.8h1.05M471.6 522.2h1.05M440.4 543.2h1.05M535.8 516.4h1.05M489.6 523.3h1.05M491.4 531.0h1.05M535.1 520.6h1.05M550.7 507.8h1.05M554.5 500.3h1.05M496.0 535.2h1.05M493.1 522.5h1.05M558.8 514.1h1.05M539.5 514.5h1.05M484.7 535.7h1.05M507.2 527.2h1.05M516.8 518.0h1.05M529.7 511.5h1.05M441.9 534.2h1.05M522.1 510.6h1.05M508.7 503.7h1.05M454.3 543.9h1.05M544.2 496.8h1.05M458.2 536.4h1.05M527.7 523.4h1.05M544.7 510.2h1.05M522.5 512.8h1.05M524.3 512.2h1.05M517.8 511.8h1.05M523.0 513.7h1.05M526.9 515.4h1.05M505.5 513.2h1.05M550.7 503.4h1.05M499.1 517.7h1.05M531.3 505.5h1.05M467.3 540.8h1.05M551.2 495.8h1.05M499.2 526.0h1.05M483.9 534.5h1.05M560.4 514.3h1.05M531.0 511.0h1.05M533.1 503.4h1.05M463.6 537.2h1.05M545.0 501.4h1.05M481.4 539.9h1.05M549.3 510.5h1.05M469.2 526.6h1.05M480.4 518.6h1.05M462.6 525.5h1.05M486.2 546.3h1.05M547.0 507.3h1.05M493.8 522.7h1.05M513.4 522.3h1.05M490.8 526.8h1.05M445.7 537.0h1.05M490.7 508.0h1.05M466.3 530.4h1.05M507.1 527.5h1.05M497.7 530.5h1.05M497.7 523.0h1.05M525.2 503.6h1.05M521.1 533.5h1.05M508.8 520.6h1.05M502.2 526.9h1.05M517.0 514.9h1.05M543.0 516.4h1.05M541.2 522.2h1.05M540.5 500.3h1.05M522.3 527.3h1.05M527.1 513.3h1.05M540.0 504.3h1.05M491.5 521.8h1.05M486.4 537.7h1.05M483.4 531.3h1.05M494.0 522.2h1.05M514.1 505.0h1.05M521.2 522.6h1.05M526.0 508.5h1.05M455.0 540.5h1.05M529.0 517.0h1.05M554.7 499.5h1.05M464.0 538.2h1.05M497.9 531.2h1.05M510.1 517.5h1.05M456.2 543.9h1.05M468.2 545.6h1.05M509.9 524.8h1.05M478.4 536.0h1.05M517.9 519.6h1.05M542.7 517.6h1.05M462.9 547.1h1.05M493.4 520.8h1.05M539.8 513.9h1.05M499.4 522.0h1.05M462.1 530.0h1.05M498.6 505.4h1.05M505.6 517.5h1.05M517.0 525.1h1.05M515.5 514.3h1.05M522.8 508.6h1.05M490.3 523.5h1.05M494.0 521.0h1.05M507.0 519.7h1.05M513.9 511.3h1.05M508.5 520.0h1.05M478.6 531.6h1.05M498.4 524.3h1.05M433.4 536.0h1.05M460.5 533.7h1.05M498.4 531.9h1.05M460.3 552.9h1.05M502.2 525.7h1.05M491.6 518.7h1.05M534.7 502.6h1.05M502.2 541.9h1.05M491.0 511.0h1.05M527.7 513.6h1.05M521.2 525.3h1.05M435.4 537.6h1.05M498.1 516.7h1.05M484.7 532.4h1.05M492.1 513.1h1.05M503.0 514.7h1.05M532.2 511.1h1.05M470.8 527.9h1.05M531.2 517.0h1.05M513.7 513.0h1.05M491.3 522.2h1.05M507.4 504.5h1.05M466.8 537.1h1.05M478.2 539.2h1.05M505.9 522.6h1.05M513.9 517.8h1.05M503.0 514.4h1.05M473.5 534.8h1.05M509.2 522.4h1.05M514.2 512.3h1.05M485.0 534.6h1.05M519.4 512.1h1.05M492.5 526.0h1.05M493.5 528.6h1.05M524.7 510.3h1.05M463.7 545.3h1.05M466.6 529.5h1.05M543.6 513.1h1.05M549.0 493.7h1.05M497.5 517.2h1.05M515.4 514.5h1.05M498.8 534.5h1.05M490.7 533.8h1.05M487.3 519.0h1.05M485.7 517.0h1.05M458.8 529.5h1.05M443.5 548.2h1.05M546.6 495.5h1.05M461.5 549.8h1.05M463.0 544.9h1.05M517.1 513.3h1.05M554.1 502.0h1.05M452.3 539.7h1.05M459.4 537.4h1.05M464.7 524.8h1.05M498.5 517.2h1.05M446.2 542.0h1.05M495.0 547.9h1.05M506.5 514.6h1.05M523.1 507.8h1.05M460.0 558.7h1.05M463.1 534.0h1.05M465.4 554.2h1.05M536.4 517.5h1.05M457.6 526.5h1.05M483.0 526.9h1.05M498.0 500.4h1.05M494.4 526.4h1.05M503.5 517.4h1.05M493.7 516.9h1.05M487.2 547.1h1.05M542.3 518.1h1.05M538.1 513.5h1.05M503.7 523.1h1.05M515.2 516.7h1.05M532.5 506.4h1.05M459.4 542.2h1.05M455.1 550.3h1.05M473.8 540.1h1.05M446.0 545.5h1.05M557.0 506.2h1.05M535.3 509.7h1.05M442.9 549.4h1.05M470.5 541.8h1.05M451.0 565.5h1.05M494.0 516.6h1.05M478.9 531.6h1.05M504.8 520.4h1.05M493.8 541.2h1.05M552.9 496.6h1.05M547.7 504.9h1.05M520.6 503.7h1.05M544.9 508.6h1.05M526.4 506.1h1.05M473.5 534.6h1.05M554.3 504.2h1.05M500.0 521.6h1.05M443.7 544.7h1.05M472.1 543.7h1.05M517.6 506.2h1.05M459.3 540.2h1.05M507.7 535.1h1.05M515.2 512.1h1.05M515.9 507.2h1.05M542.0 507.2h1.05M524.1 518.8h1.05M494.5 522.5h1.05M476.9 541.5h1.05M501.2 532.6h1.05M507.6 511.4h1.05M514.2 506.0h1.05M469.1 530.4h1.05M514.6 512.2h1.05M512.4 515.0h1.05M498.8 513.7h1.05M528.1 503.7h1.05M451.5 558.4h1.05M535.1 509.9h1.05M454.8 550.9h1.05M470.0 523.7h1.05M505.3 519.1h1.05M475.7 530.3h1.05M491.2 516.4h1.05M526.5 512.7h1.05M502.8 516.0h1.05M534.5 506.3h1.05M454.6 561.3h1.05M539.4 503.0h1.05M497.8 525.9h1.05M494.2 508.4h1.05M478.9 537.9h1.05M510.9 508.9h1.05M553.1 496.6h1.05M454.9 533.8h1.05M513.1 505.0h1.05M488.5 516.4h1.05M496.1 532.8h1.05M451.2 557.4h1.05M468.5 550.0h1.05M504.5 527.2h1.05M464.7 531.8h1.05M498.2 531.3h1.05M471.1 537.9h1.05M446.0 548.6h1.05M450.4 538.0h1.05M486.2 524.8h1.05M524.1 521.2h1.05M502.7 512.7h1.05M476.5 530.1h1.05M487.7 520.6h1.05M455.4 531.4h1.05M480.4 544.1h1.05M516.6 507.8h1.05M523.7 512.1h1.05M537.9 510.8h1.05M521.0 519.1h1.05M526.9 511.1h1.05M551.4 509.5h1.05M507.1 524.9h1.05M493.7 523.4h1.05M556.3 506.3h1.05M538.5 516.8h1.05M547.5 510.7h1.05M473.8 534.2h1.05M556.4 502.8h1.05M537.4 517.4h1.05M506.1 516.8h1.05M484.3 528.9h1.05M553.7 504.6h1.05M499.9 521.9h1.05M483.3 521.2h1.05M514.6 530.8h1.05M491.0 507.1h1.05M496.8 511.9h1.05M476.6 536.4h1.05M454.4 532.3h1.05M509.7 508.6h1.05M451.1 542.4h1.05M474.6 540.4h1.05M532.6 516.2h1.05M481.5 530.3h1.05M505.2 523.9h1.05M453.3 539.0h1.05M532.6 513.9h1.05M532.6 514.6h1.05M530.0 519.5h1.05M503.9 512.6h1.05M534.6 509.8h1.05M451.4 539.4h1.05M476.8 541.8h1.05M519.3 518.3h1.05M527.3 514.7h1.05M493.6 518.0h1.05M467.0 536.5h1.05M538.9 502.2h1.05M473.2 518.2h1.05M482.1 537.3h1.05M498.8 513.1h1.05M482.5 534.3h1.05M486.0 533.0h1.05M527.3 509.8h1.05M527.5 504.6h1.05M495.9 515.5h1.05M518.0 509.2h1.05M454.8 545.3h1.05M492.3 526.1h1.05M450.9 542.9h1.05M490.8 529.8h1.05M514.0 517.3h1.05M487.4 520.7h1.05M470.9 530.3h1.05M538.1 521.2h1.05M527.6 516.2h1.05M478.1 537.7h1.05M557.8 515.3h1.05M451.4 534.4h1.05M552.9 505.0h1.05M514.9 520.4h1.05M502.2 527.3h1.05M475.0 519.4h1.05M479.9 523.4h1.05M488.6 525.6h1.05M532.0 514.1h1.05M505.2 528.8h1.05M491.7 538.6h1.05M520.9 516.7h1.05M549.1 515.8h1.05M473.6 533.0h1.05M482.0 533.9h1.05M529.4 513.2h1.05M507.7 505.9h1.05M493.1 519.5h1.05M554.3 502.3h1.05M487.0 524.9h1.05M514.9 517.6h1.05M465.2 536.9h1.05M542.6 509.5h1.05M515.2 523.4h1.05M475.5 532.9h1.05M502.4 521.0h1.05M491.2 540.7h1.05M537.6 513.5h1.05M460.0 546.6h1.05M543.5 498.9h1.05M512.2 524.1h1.05M466.0 541.4h1.05M548.9 497.4h1.05M481.7 543.0h1.05M485.2 540.2h1.05M451.0 562.5h1.05M542.0 512.4h1.05M501.2 521.3h1.05M491.1 531.2h1.05M551.3 504.9h1.05M483.5 527.4h1.05M438.9 544.9h1.05M482.5 526.9h1.05M491.9 538.6h1.05M476.3 531.9h1.05M476.2 555.2h1.05M554.0 501.8h1.05M494.0 528.1h1.05M500.5 508.9h1.05M446.2 533.8h1.05M544.8 502.7h1.05M500.0 511.1h1.05M536.5 507.3h1.05M451.1 545.5h1.05M494.8 534.4h1.05M471.1 546.9h1.05M447.4 543.4h1.05M489.8 513.5h1.05M463.4 534.8h1.05M526.7 525.7h1.05M539.4 504.4h1.05M460.3 532.0h1.05M476.4 541.4h1.05M526.7 518.8h1.05M449.2 543.2h1.05M490.2 549.2h1.05M518.9 523.8h1.05M456.1 541.0h1.05M547.4 511.9h1.05M474.9 529.5h1.05M518.2 518.0h1.05M454.5 532.9h1.05M548.3 512.7h1.05M485.8 533.4h1.05M498.4 525.0h1.05M488.3 532.7h1.05M513.2 517.5h1.05M490.8 524.8h1.05M513.1 512.7h1.05M466.2 523.6h1.05M547.2 505.1h1.05M466.4 523.1h1.05M520.2 512.1h1.05M521.1 512.1h1.05M474.7 524.5h1.05M536.9 525.4h1.05M491.9 507.1h1.05M498.7 529.1h1.05M477.3 529.6h1.05M515.0 503.7h1.05M554.1 496.9h1.05M470.1 542.9h1.05M526.0 517.2h1.05M537.7 514.4h1.05M506.1 517.6h1.05M504.8 508.9h1.05M538.4 514.6h1.05M547.1 516.4h1.05M538.9 511.2h1.05M527.6 513.6h1.05M459.5 528.9h1.05M516.4 513.4h1.05M443.5 541.1h1.05M542.0 500.9h1.05M471.0 541.9h1.05M513.1 519.9h1.05M534.8 524.1h1.05M495.2 526.5h1.05M444.6 551.0h1.05M511.3 522.3h1.05M475.8 535.0h1.05M453.9 541.7h1.05M525.9 520.7h1.05M479.5 529.2h1.05M481.2 525.6h1.05M463.9 534.1h1.05M502.7 539.5h1.05M500.3 528.9h1.05M534.4 510.3h1.05M444.0 545.5h1.05M496.2 537.3h1.05M497.6 498.3h1.05M501.8 519.1h1.05M504.5 520.9h1.05M517.2 507.5h1.05M479.3 523.2h1.05M435.4 538.0h1.05M516.2 522.7h1.05M498.5 526.5h1.05M536.7 516.2h1.05M502.4 513.9h1.05M447.7 538.0h1.05M484.1 518.0h1.05M498.0 531.6h1.05M492.7 518.0h1.05M502.6 530.4h1.05M507.0 526.3h1.05M464.1 536.5h1.05M550.4 506.9h1.05M464.7 540.4h1.05M551.1 501.7h1.05M529.8 517.2h1.05M459.3 545.9h1.05M441.1 548.0h1.05M490.4 532.1h1.05M494.4 534.4h1.05M540.9 505.8h1.05M498.5 518.3h1.05M503.9 525.3h1.05M445.5 540.5h1.05M490.8 516.4h1.05M513.5 512.0h1.05M502.6 530.7h1.05M501.9 520.6h1.05M444.8 538.9h1.05M468.7 516.7h1.05M486.5 526.8h1.05M530.1 509.7h1.05M463.4 544.0h1.05M459.3 554.4h1.05M462.4 544.4h1.05M488.5 526.0h1.05M477.5 530.6h1.05M462.8 522.7h1.05M451.0 538.0h1.05M498.4 529.2h1.05M546.4 519.0h1.05M551.1 506.0h1.05M503.1 522.2h1.05M450.5 533.0h1.05M463.5 534.6h1.05M488.7 525.8h1.05M524.0 506.9h1.05M504.5 524.8h1.05M483.4 516.8h1.05M537.2 503.5h1.05M460.6 543.5h1.05M497.1 546.4h1.05M487.0 523.9h1.05M504.9 518.2h1.05M502.8 517.6h1.05M471.7 523.1h1.05M466.1 541.4h1.05M477.0 523.2h1.05M489.2 535.7h1.05M454.9 540.9h1.05M480.1 520.6h1.05M556.2 507.5h1.05M557.2 516.5h1.05M517.3 514.9h1.05M496.2 518.8h1.05M485.3 537.7h1.05M537.0 515.0h1.05M444.8 537.7h1.05M444.4 543.9h1.05M522.9 529.1h1.05M550.1 499.5h1.05M534.6 523.9h1.05M547.7 503.1h1.05M455.7 532.4h1.05M499.5 535.1h1.05M466.1 539.3h1.05M446.7 561.3h1.05M548.9 495.9h1.05M546.7 503.2h1.05M483.7 536.0h1.05M445.1 554.0h1.05M524.2 517.7h1.05M535.6 506.2h1.05M545.0 504.6h1.05M513.9 506.6h1.05M466.4 526.0h1.05M468.9 531.3h1.05M515.5 509.2h1.05M461.9 515.0h1.05M527.2 513.9h1.05M466.7 533.9h1.05M525.1 519.2h1.05M522.1 512.3h1.05M541.6 500.8h1.05M470.8 544.9h1.05M544.1 506.8h1.05M508.4 536.3h1.05M498.5 524.7h1.05M476.1 536.0h1.05M545.9 513.6h1.05M522.1 505.1h1.05M497.9 523.0h1.05M517.1 504.1h1.05M551.2 515.5h1.05M491.3 535.6h1.05M452.3 524.3h1.05M524.2 511.4h1.05M506.6 518.8h1.05M530.1 518.8h1.05M486.0 522.3h1.05M541.8 517.5h1.05M471.3 529.0h1.05M467.7 545.6h1.05M522.0 506.9h1.05M552.4 497.8h1.05M446.9 535.3h1.05M493.3 524.9h1.05M466.5 529.1h1.05M514.6 525.0h1.05M476.5 542.5h1.05M518.0 520.2h1.05M512.7 517.7h1.05M480.1 547.8h1.05M546.1 496.4h1.05M511.1 524.0h1.05M505.8 521.8h1.05M538.9 503.4h1.05M532.5 519.0h1.05M499.4 513.1h1.05M488.2 524.2h1.05M442.6 548.2h1.05M447.2 545.9h1.05M556.8 506.7h1.05M450.4 536.3h1.05M474.4 527.5h1.05M454.9 552.1h1.05M479.9 522.8h1.05M478.0 528.0h1.05M550.4 499.7h1.05M501.4 515.5h1.05M546.3 521.1h1.05M523.0 519.1h1.05M447.8 534.7h1.05M513.1 512.4h1.05M444.5 551.9h1.05M509.7 511.9h1.05M494.6 517.8h1.05M477.3 557.0h1.05M533.7 517.3h1.05M453.7 533.4h1.05M483.2 519.9h1.05M477.7 526.5h1.05M484.1 529.8h1.05M504.6 522.0h1.05M546.7 496.3h1.05M470.7 520.7h1.05M456.0 536.0h1.05M521.6 517.5h1.05M493.4 525.1h1.05M465.8 526.2h1.05M470.0 543.7h1.05M493.2 531.0h1.05M499.5 524.6h1.05M552.0 513.0h1.05M486.6 532.4h1.05M539.6 511.3h1.05M533.1 511.9h1.05M516.4 516.9h1.05M523.5 507.3h1.05M508.0 520.2h1.05M471.2 535.9h1.05M525.5 504.8h1.05M506.1 514.2h1.05M456.4 537.6h1.05M520.3 523.9h1.05M483.6 531.7h1.05M546.2 504.4h1.05M477.5 537.8h1.05M512.3 521.6h1.05M482.2 528.3h1.05M542.6 497.8h1.05M544.1 510.7h1.05M500.3 530.2h1.05M476.4 539.1h1.05M444.8 545.0h1.05M456.7 550.1h1.05M498.7 537.9h1.05M481.1 535.4h1.05M475.6 544.5h1.05M521.0 512.5h1.05M455.8 544.3h1.05M514.5 516.6h1.05M480.6 542.2h1.05M458.8 537.3h1.05M452.9 540.4h1.05M469.2 520.0h1.05M503.8 526.1h1.05M494.3 522.2h1.05M449.3 558.6h1.05M525.6 525.0h1.05M501.8 540.4h1.05M538.5 511.2h1.05M513.3 507.2h1.05M495.8 517.6h1.05M487.7 537.3h1.05M461.1 538.7h1.05M464.9 522.9h1.05M504.9 516.5h1.05M502.1 550.4h1.05M476.7 525.7h1.05M484.6 525.8h1.05M544.9 500.7h1.05M495.1 532.0h1.05M468.3 531.9h1.05M474.9 520.1h1.05M544.0 503.4h1.05M531.4 512.6h1.05M475.2 517.5h1.05M510.0 520.8h1.05M485.6 527.0h1.05M554.4 458.0h1.05M550.0 475.7h1.05M536.2 507.8h1.05M549.0 471.2h1.05M549.4 470.2h1.05M533.0 504.1h1.05M549.2 476.2h1.05M511.7 509.9h1.05M551.1 474.3h1.05M551.1 472.3h1.05M518.6 506.5h1.05M550.9 478.1h1.05M550.0 481.0h1.05M516.9 504.3h1.05M549.3 473.1h1.05M554.3 472.5h1.05M549.0 477.0h1.05M551.7 481.1h1.05M557.8 487.4h1.05M554.1 478.7h1.05M510.1 513.1h1.05M564.8 466.1h1.05M517.8 520.2h1.05M533.4 503.2h1.05M508.6 507.7h1.05M552.0 484.0h1.05M548.0 472.5h1.05M515.2 510.1h1.05M546.7 462.8h1.05M556.4 472.8h1.05M515.4 504.8h1.05M550.6 465.0h1.05M551.0 461.4h1.05M515.0 506.7h1.05M552.2 481.9h1.05M550.1 476.2h1.05M530.4 515.7h1.05M509.9 503.3h1.05M548.9 473.4h1.05M505.0 515.7h1.05M531.2 506.1h1.05M522.2 504.6h1.05M570.8 471.3h1.05M522.3 513.0h1.05M543.6 507.6h1.05M540.9 511.3h1.05M545.9 496.4h1.05M561.1 468.6h1.05M535.3 505.9h1.05M560.8 473.4h1.05M559.1 495.0h1.05M525.6 505.1h1.05M547.3 500.8h1.05M548.2 507.7h1.05M550.7 482.3h1.05M510.6 506.9h1.05M513.0 504.2h1.05M533.6 505.9h1.05M538.7 500.9h1.05M540.4 503.3h1.05M557.5 483.2h1.05M514.4 511.2h1.05M550.5 475.7h1.05M487.5 508.5h1.05M559.6 477.0h1.05M525.7 507.7h1.05M500.5 504.3h1.05M518.1 510.0h1.05M501.0 504.9h1.05M557.0 480.2h1.05M539.3 502.3h1.05M525.6 518.1h1.05M556.1 475.5h1.05M530.2 504.9h1.05M575.3 477.8h1.05M559.7 475.9h1.05M553.7 481.3h1.05M526.3 505.9h1.05M501.5 519.7h1.05M519.3 505.9h1.05M525.6 510.3h1.05M555.8 467.4h1.05M553.7 458.2h1.05M605.0 567.5h1.05M608.8 525.2h1.05M572.3 493.9h1.05M588.2 497.4h1.05M543.3 532.9h1.05M559.5 518.1h1.05M608.8 521.3h1.05M528.8 538.8h1.05M562.1 534.0h1.05M585.3 517.9h1.05M580.0 532.9h1.05M581.0 493.0h1.05M577.0 486.9h1.05M580.8 503.6h1.05M592.1 537.4h1.05M597.0 454.9h1.05M581.1 544.8h1.05M598.8 468.5h1.05M554.9 484.6h1.05M589.6 521.7h1.05M568.5 497.3h1.05M573.2 489.7h1.05M559.8 481.9h1.05M569.3 514.6h1.05M574.5 543.2h1.05M535.6 441.1h1.05M569.4 478.3h1.05M602.6 473.6h1.05M570.1 530.0h1.05M612.1 469.8h1.05M563.1 478.3h1.05M554.3 597.3h1.05M582.7 532.4h1.05M578.3 468.6h1.05M582.2 493.3h1.05M519.4 505.8h1.05M596.6 516.9h1.05M596.0 469.1h1.05M580.0 467.4h1.05M597.4 545.4h1.05M594.9 472.9h1.05M588.5 523.5h1.05M569.0 506.7h1.05M611.0 554.3h1.05M568.7 474.6h1.05M566.7 489.6h1.05M557.0 569.8h1.05M576.7 475.8h1.05M614.3 486.6h1.05M587.4 531.6h1.05M558.4 536.5h1.05M599.7 492.5h1.05M565.1 499.1h1.05M590.7 557.5h1.05M583.0 507.2h1.05M591.9 433.5h1.05M611.7 542.1h1.05M595.5 489.4h1.05M588.1 479.2h1.05M579.1 478.0h1.05M568.1 505.1h1.05M608.6 460.3h1.05M575.1 446.8h1.05M582.3 494.2h1.05M610.4 428.3h1.05M612.7 473.3h1.05M602.0 491.5h1.05M608.7 506.7h1.05M584.7 518.8h1.05M595.9 576.5h1.05M601.0 481.8h1.05M572.9 519.6h1.05M559.2 462.5h1.05M597.1 460.8h1.05M561.4 487.3h1.05M544.4 506.1h1.05M571.2 451.3h1.05M587.2 570.8h1.05M603.6 511.0h1.05M595.1 475.1h1.05M608.7 446.0h1.05M589.2 489.7h1.05M606.1 537.3h1.05M600.6 521.4h1.05M593.8 465.1h1.05M566.2 441.6h1.05M572.8 494.3h1.05M568.5 521.6h1.05M525.7 510.0h1.05M597.4 486.4h1.05M573.8 493.4h1.05M580.2 488.5h1.05M588.7 443.5h1.05M612.9 571.4h1.05M592.4 548.2h1.05M564.5 475.9h1.05M598.1 471.4h1.05M591.2 508.8h1.05M588.4 532.4h1.05M617.1 439.6h1.05M597.0 508.4h1.05M582.5 498.4h1.05M602.6 492.8h1.05M565.2 550.0h1.05M552.8 500.0h1.05M584.1 519.1h1.05M545.9 515.6h1.05M575.5 522.6h1.05M574.3 482.5h1.05M556.2 562.3h1.05M570.6 490.2h1.05M534.5 512.3h1.05M617.5 544.0h1.05M533.4 508.6h1.05M582.4 476.5h1.05M603.9 545.6h1.05M610.5 496.2h1.05M532.5 508.6h1.05M595.2 503.3h1.05M600.3 495.3h1.05M577.9 503.8h1.05M596.1 491.9h1.05M598.7 503.0h1.05M579.2 573.2h1.05M617.1 546.8h1.05M575.3 467.9h1.05M560.8 544.6h1.05M585.8 540.3h1.05M614.9 450.4h1.05M590.4 548.1h1.05M556.5 466.6h1.05M570.3 492.4h1.05M580.8 520.9h1.05M574.0 523.6h1.05M598.0 605.3h1.05M590.6 514.6h1.05M597.2 555.0h1.05M551.4 528.0h1.05M568.9 506.7h1.05M553.6 503.8h1.05M577.5 452.1h1.05M569.4 515.2h1.05M596.8 459.3h1.05M580.1 508.0h1.05M591.7 508.7h1.05M615.6 499.1h1.05M549.1 518.4h1.05M589.2 486.5h1.05M588.1 497.8h1.05M561.1 544.0h1.05M594.7 485.7h1.05M602.7 450.6h1.05M577.8 541.8h1.05M558.2 483.7h1.05M576.2 497.6h1.05M556.0 493.8h1.05M557.2 504.3h1.05M570.0 550.4h1.05M602.2 473.9h1.05M570.1 547.9h1.05M606.1 481.6h1.05M586.3 552.8h1.05M598.6 486.6h1.05M565.2 439.7h1.05M593.4 534.1h1.05M593.3 479.6h1.05M555.0 508.6h1.05M559.9 480.6h1.05M552.4 439.1h1.05M580.9 495.0h1.05M617.3 490.5h1.05M578.4 575.5h1.05M570.3 444.8h1.05M576.2 450.7h1.05M593.3 471.8h1.05M502.0 536.3h1.05M541.9 559.2h1.05M565.4 538.2h1.05M581.8 476.4h1.05M585.8 528.8h1.05M582.2 522.1h1.05M599.7 519.6h1.05M591.0 554.6h1.05M606.0 507.3h1.05M581.1 566.1h1.05M604.3 550.9h1.05M559.1 475.3h1.05M601.6 550.0h1.05M545.0 531.8h1.05M585.9 477.3h1.05M609.9 474.1h1.05M575.9 444.0h1.05M584.3 553.9h1.05M587.8 507.7h1.05M559.5 447.6h1.05M602.3 455.1h1.05M599.2 509.6h1.05M583.6 443.3h1.05M549.0 518.6h1.05M614.3 526.0h1.05M608.2 483.9h1.05M540.5 546.3h1.05M594.1 531.5h1.05M566.5 524.6h1.05M604.8 490.8h1.05M592.4 505.0h1.05M583.6 527.9h1.05M575.2 461.3h1.05M614.3 456.3h1.05M576.3 483.5h1.05M589.5 515.7h1.05M552.1 532.1h1.05M573.7 459.4h1.05M539.6 591.9h1.05M595.7 503.7h1.05M600.2 520.9h1.05M591.5 463.5h1.05M535.8 521.9h1.05M560.3 478.9h1.05M569.1 472.9h1.05M601.7 524.8h1.05M577.9 543.7h1.05M589.3 514.9h1.05M580.0 534.3h1.05M564.0 461.3h1.05M556.9 492.4h1.05M593.0 453.8h1.05M596.6 496.1h1.05M548.9 516.5h1.05M554.0 543.6h1.05M596.7 497.7h1.05M591.1 479.0h1.05M558.8 471.0h1.05M595.1 518.0h1.05M581.7 525.5h1.05M612.4 474.0h1.05M572.4 532.7h1.05M612.9 557.5h1.05M599.7 505.2h1.05M515.6 505.8h1.05M561.3 488.1h1.05M598.4 469.2h1.05M563.7 444.8h1.05M610.7 522.4h1.05M583.1 485.9h1.05M533.5 518.1h1.05M593.0 540.5h1.05M598.5 473.7h1.05M608.7 526.6h1.05M600.9 469.7h1.05M605.5 498.7h1.05M602.5 522.9h1.05M568.8 510.1h1.05M592.0 510.0h1.05M535.5 518.5h1.05M612.1 447.0h1.05M597.9 453.1h1.05M556.2 497.1h1.05M532.5 434.9h1.05M564.6 557.3h1.05M569.8 511.2h1.05M536.4 543.3h1.05M574.8 461.9h1.05M596.5 534.0h1.05M577.0 477.3h1.05M568.6 467.8h1.05M576.0 514.0h1.05M593.3 512.0h1.05M562.8 495.4h1.05M589.8 485.9h1.05M598.1 532.7h1.05M589.1 468.8h1.05M610.6 549.5h1.05M578.6 537.8h1.05M590.0 506.6h1.05M561.7 514.4h1.05M543.7 510.0h1.05M524.7 448.7h1.05M576.0 506.7h1.05M584.9 585.2h1.05M615.7 496.5h1.05M595.1 464.5h1.05M592.1 554.8h1.05M553.6 576.1h1.05M616.5 488.3h1.05M580.2 572.2h1.05M598.5 548.1h1.05M567.1 561.1h1.05M599.5 518.8h1.05M594.8 493.2h1.05M561.6 504.7h1.05M568.2 517.9h1.05M606.5 502.9h1.05M603.2 513.3h1.05M570.2 485.8h1.05M585.7 487.3h1.05M589.1 504.1h1.05M577.5 440.7h1.05M588.1 527.8h1.05M585.0 449.7h1.05M596.3 499.8h1.05M579.5 508.5h1.05M595.9 452.3h1.05M580.8 499.6h1.05M555.3 517.4h1.05M575.8 477.4h1.05M590.7 566.2h1.05M576.8 478.6h1.05M594.1 524.2h1.05M552.4 494.2h1.05M565.1 541.4h1.05M570.2 494.8h1.05M557.0 512.4h1.05M529.8 507.5h1.05M574.9 432.5h1.05M550.9 553.4h1.05M578.5 536.3h1.05M583.4 524.3h1.05M599.9 494.8h1.05M552.3 482.5h1.05M607.3 484.8h1.05M574.4 495.8h1.05M601.5 523.3h1.05M616.4 486.6h1.05M576.7 490.4h1.05M555.6 459.3h1.05M587.1 549.6h1.05M556.5 491.4h1.05M585.7 493.1h1.05M579.0 481.4h1.05M576.1 505.5h1.05M565.9 495.1h1.05M602.6 479.4h1.05M546.7 539.0h1.05M554.1 504.0h1.05M574.1 512.6h1.05M562.4 501.0h1.05M569.9 497.1h1.05M578.0 541.7h1.05M579.1 464.0h1.05M602.7 523.9h1.05M578.1 498.6h1.05M604.5 559.2h1.05M600.8 461.3h1.05M580.2 540.8h1.05M609.8 484.8h1.05M600.5 516.0h1.05M557.5 497.2h1.05M583.8 503.5h1.05M578.1 450.0h1.05M595.7 502.2h1.05M569.4 464.0h1.05M603.1 506.8h1.05M547.7 498.1h1.05M526.0 525.6h1.05M592.3 516.5h1.05M548.6 462.1h1.05M581.2 434.0h1.05M562.7 472.9h1.05M562.2 563.2h1.05M594.3 511.7h1.05M607.2 502.2h1.05M586.5 507.5h1.05M597.1 488.9h1.05M572.0 466.4h1.05M581.8 470.1h1.05M617.0 460.2h1.05M554.1 474.7h1.05M612.7 497.0h1.05M557.8 496.0h1.05M577.9 531.0h1.05M579.4 461.9h1.05M552.6 508.9h1.05M589.6 549.9h1.05M581.6 495.3h1.05M616.9 577.5h1.05M593.2 553.6h1.05M609.6 500.6h1.05M594.9 547.2h1.05M589.3 524.0h1.05M569.8 488.7h1.05M548.3 515.8h1.05M563.2 489.6h1.05M585.6 464.1h1.05M582.5 528.8h1.05M587.2 485.1h1.05M614.5 491.6h1.05M609.8 524.5h1.05M568.8 477.4h1.05M569.6 454.0h1.05M576.0 597.8h1.05M608.4 447.1h1.05M583.7 498.9h1.05M585.9 517.3h1.05M613.8 550.5h1.05M594.4 495.6h1.05M558.0 487.1h1.05M587.2 548.7h1.05M587.3 539.9h1.05M577.1 463.8h1.05M573.0 502.5h1.05M578.9 527.6h1.05M554.7 496.6h1.05M560.1 534.5h1.05M572.7 497.0h1.05M546.9 547.9h1.05M552.8 467.7h1.05M606.9 516.4h1.05M560.7 513.0h1.05M559.9 505.7h1.05M558.3 480.0h1.05M586.2 518.2h1.05M593.4 477.6h1.05M589.1 533.1h1.05M595.1 529.2h1.05M580.0 545.1h1.05M591.4 491.6h1.05M583.9 493.8h1.05M552.3 491.6h1.05M547.8 519.7h1.05M562.5 537.0h1.05M599.6 471.7h1.05M570.8 507.0h1.05M581.7 492.7h1.05M556.3 492.5h1.05M553.1 497.0h1.05M572.6 457.9h1.05M601.7 479.3h1.05M574.1 448.2h1.05M587.8 521.6h1.05M562.9 539.0h1.05M507.3 504.7h1.05M585.4 518.5h1.05M569.8 532.1h1.05M606.2 493.7h1.05M604.1 461.7h1.05M562.9 524.2h1.05M594.2 492.8h1.05M577.4 497.0h1.05M552.9 469.3h1.05M569.6 512.6h1.05M582.9 509.8h1.05M610.9 538.5h1.05M560.6 566.4h1.05M554.1 505.0h1.05M558.7 494.3h1.05M579.1 495.1h1.05M573.0 475.5h1.05M562.5 545.6h1.05M567.3 517.4h1.05M568.1 505.0h1.05M546.0 437.8h1.05M587.6 517.3h1.05M579.5 509.1h1.05M565.8 510.7h1.05M597.1 484.1h1.05M583.3 522.6h1.05M612.7 477.7h1.05M575.6 467.1h1.05M582.5 472.7h1.05M573.6 458.6h1.05M580.2 507.4h1.05M590.9 559.1h1.05M565.5 438.8h1.05M526.6 534.9h1.05M600.4 487.0h1.05M590.0 521.2h1.05M569.2 532.5h1.05M590.7 486.3h1.05M597.0 502.6h1.05M564.2 521.5h1.05M588.8 443.1h1.05M569.2 491.2h1.05M617.5 510.1h1.05M616.4 522.9h1.05M582.3 490.9h1.05M606.2 457.7h1.05M556.1 536.4h1.05M581.8 551.6h1.05M565.4 547.8h1.05M570.1 511.9h1.05M558.0 500.3h1.05M611.7 509.3h1.05M615.7 491.0h1.05M551.1 501.3h1.05M591.2 460.4h1.05M599.4 530.0h1.05M602.2 471.4h1.05M577.8 467.4h1.05M585.8 518.0h1.05M558.6 439.0h1.05M598.9 469.9h1.05M548.4 459.5h1.05M584.8 516.3h1.05M595.9 486.9h1.05M589.7 545.8h1.05M556.7 497.6h1.05M600.6 480.1h1.05M581.4 450.3h1.05M573.0 487.8h1.05M593.8 461.2h1.05M549.3 565.5h1.05M541.2 533.9h1.05M552.3 546.2h1.05M582.1 538.9h1.05M566.8 456.5h1.05M581.9 491.4h1.05M614.5 500.6h1.05M602.9 571.7h1.05M595.8 456.9h1.05M614.6 531.9h1.05M596.3 527.6h1.05M573.2 534.3h1.05M555.7 584.3h1.05M554.4 517.5h1.05M569.2 500.3h1.05M606.1 512.6h1.05M558.8 475.4h1.05M584.2 536.7h1.05M549.0 454.0h1.05M603.7 508.4h1.05M570.0 451.2h1.05M570.8 500.7h1.05M551.1 492.2h1.05M564.5 513.9h1.05M605.0 532.6h1.05M523.9 512.8h1.05M584.8 538.7h1.05M564.7 502.2h1.05M595.6 526.3h1.05M578.1 520.8h1.05M586.5 443.1h1.05M610.2 468.6h1.05M565.7 458.7h1.05M570.3 468.2h1.05M588.7 468.6h1.05M567.4 511.7h1.05M496.9 542.0h1.05M515.1 565.8h1.05M512.1 549.3h1.05M604.8 532.9h1.05M555.3 537.6h1.05M491.1 564.5h1.05M554.7 558.3h1.05M546.5 532.9h1.05M500.0 539.4h1.05M522.8 529.8h1.05M495.8 547.3h1.05M533.5 525.8h1.05M474.0 534.5h1.05M531.7 541.2h1.05M617.3 511.6h1.05M547.7 535.1h1.05M448.7 536.0h1.05M538.8 516.0h1.05M514.2 526.3h1.05M505.8 550.3h1.05M508.6 548.5h1.05M572.2 522.7h1.05M540.9 534.0h1.05M448.8 566.0h1.05M502.3 586.7h1.05M574.4 524.3h1.05M433.2 573.5h1.05M535.7 567.1h1.05M605.0 552.1h1.05M516.6 549.5h1.05M584.6 563.3h1.05M609.1 532.5h1.05M589.0 556.8h1.05M562.6 540.2h1.05M594.2 524.6h1.05M569.2 522.3h1.05M462.5 576.8h1.05M537.2 549.1h1.05M516.3 533.9h1.05M501.1 509.3h1.05M540.2 538.2h1.05M544.2 507.8h1.05M545.9 527.8h1.05M506.4 538.3h1.05M554.2 536.1h1.05M546.5 536.9h1.05M432.7 508.6h1.05M518.9 551.9h1.05M537.1 540.7h1.05M614.8 544.3h1.05M443.7 541.2h1.05M513.5 561.8h1.05M485.3 574.7h1.05M589.1 532.9h1.05M507.2 567.0h1.05M589.1 528.7h1.05M522.3 540.3h1.05M577.0 542.9h1.05M552.1 544.4h1.05M513.0 520.4h1.05M537.4 556.1h1.05M461.8 526.6h1.05M565.0 504.3h1.05M486.1 525.5h1.05M507.4 528.4h1.05M587.2 555.3h1.05M431.3 576.8h1.05M516.6 545.7h1.05M546.9 563.3h1.05M587.4 501.5h1.05M530.4 527.9h1.05M483.7 543.8h1.05M565.8 548.8h1.05M469.3 509.6h1.05M538.2 514.9h1.05M509.1 540.4h1.05M477.1 558.0h1.05M490.3 548.9h1.05M496.4 549.3h1.05M506.3 532.6h1.05M548.6 556.7h1.05M511.7 547.6h1.05M509.6 518.5h1.05M540.7 518.0h1.05M480.8 548.8h1.05M549.4 520.0h1.05M430.0 540.2h1.05M527.4 554.2h1.05M453.2 525.2h1.05M523.3 512.6h1.05M569.5 534.4h1.05M485.3 559.5h1.05M559.3 536.8h1.05M539.0 543.2h1.05M576.9 561.9h1.05M455.9 545.0h1.05M523.4 524.6h1.05M569.3 536.4h1.05M419.6 532.6h1.05M556.8 514.3h1.05M540.4 539.6h1.05M464.4 542.5h1.05M498.0 547.3h1.05M584.6 510.6h1.05M550.7 555.9h1.05M530.1 529.4h1.05M574.6 514.2h1.05M555.3 534.9h1.05M537.5 555.8h1.05M546.5 552.9h1.05M577.7 568.2h1.05M549.8 533.1h1.05M540.7 528.5h1.05M616.6 539.0h1.05M566.0 507.2h1.05M486.9 527.0h1.05M503.2 516.2h1.05M526.1 533.2h1.05M546.6 559.7h1.05M532.4 518.9h1.05M444.8 504.7h1.05M526.5 571.3h1.05M473.8 502.4h1.05M568.5 533.3h1.05M510.3 522.8h1.05M516.6 565.9h1.05M467.1 532.7h1.05M512.7 569.0h1.05M482.8 554.9h1.05M509.6 529.8h1.05M532.5 547.7h1.05M573.9 504.4h1.05M494.2 556.1h1.05M468.5 479.4h1.05M603.0 524.3h1.05M448.9 540.9h1.05M538.4 536.7h1.05M562.3 527.3h1.05M506.7 520.6h1.05M515.2 548.6h1.05M581.5 511.2h1.05M542.2 527.9h1.05M473.0 557.7h1.05M507.3 529.1h1.05M526.2 524.4h1.05M587.6 569.1h1.05M455.3 541.5h1.05M512.2 536.6h1.05M515.6 581.2h1.05M604.0 520.1h1.05M513.7 539.2h1.05M503.7 551.3h1.05M544.3 536.0h1.05M530.7 554.9h1.05M601.8 541.3h1.05M483.2 533.6h1.05M567.6 542.0h1.05M570.2 523.4h1.05M613.1 584.5h1.05M421.9 557.1h1.05M471.2 542.8h1.05M525.0 539.2h1.05M603.5 518.7h1.05M522.6 546.7h1.05M513.7 556.6h1.05M515.9 524.7h1.05M491.1 539.8h1.05M486.3 551.2h1.05M580.9 507.7h1.05M480.7 542.0h1.05M404.5 530.9h1.05M484.3 507.1h1.05M584.2 527.1h1.05M506.0 530.0h1.05M508.9 519.7h1.05M557.1 533.9h1.05M493.2 545.4h1.05M560.6 584.3h1.05M504.0 532.7h1.05M557.1 525.8h1.05M470.7 551.3h1.05M612.7 523.8h1.05M500.2 554.0h1.05M588.0 541.9h1.05M443.6 502.3h1.05M596.7 543.9h1.05M516.7 546.4h1.05M464.2 556.2h1.05M513.4 544.6h1.05M572.3 544.6h1.05M480.1 557.5h1.05M592.5 520.2h1.05M460.1 535.6h1.05M573.7 527.2h1.05M464.0 565.6h1.05M553.4 558.1h1.05M534.8 543.8h1.05M495.9 545.0h1.05M465.8 539.7h1.05M438.3 562.8h1.05M571.2 528.2h1.05M521.8 537.9h1.05M590.9 537.4h1.05M528.0 538.4h1.05M591.2 545.8h1.05M611.2 530.8h1.05M544.4 533.7h1.05M536.9 558.9h1.05M515.8 519.5h1.05M520.7 543.4h1.05M536.3 541.8h1.05M613.0 552.2h1.05M434.8 566.9h1.05M569.3 502.3h1.05M539.3 506.1h1.05M497.6 541.8h1.05M546.8 564.3h1.05M556.0 541.9h1.05M548.5 507.2h1.05M558.0 551.1h1.05M487.4 582.9h1.05M566.5 547.6h1.05M472.5 541.6h1.05M616.0 533.1h1.05M602.8 531.2h1.05M507.9 536.5h1.05M550.9 539.7h1.05M522.6 537.9h1.05M502.8 545.9h1.05M515.0 555.0h1.05M493.8 534.8h1.05M464.0 566.4h1.05M529.3 537.8h1.05M563.2 547.4h1.05M556.3 557.2h1.05M461.9 559.0h1.05M580.0 546.6h1.05M554.6 547.7h1.05M559.5 544.2h1.05M528.5 551.5h1.05M475.7 558.2h1.05M465.1 564.5h1.05M524.7 558.4h1.05M616.7 534.4h1.05M534.6 503.2h1.05M612.9 561.7h1.05M593.4 536.0h1.05M535.0 519.0h1.05M521.6 564.6h1.05M510.7 529.9h1.05M527.0 532.1h1.05M550.0 504.4h1.05M505.3 542.5h1.05M580.6 540.8h1.05M579.1 555.1h1.05M499.2 544.8h1.05M580.6 544.4h1.05M548.5 556.9h1.05M523.3 526.4h1.05M500.2 535.8h1.05M524.4 559.2h1.05M495.0 520.6h1.05M562.8 560.9h1.05M504.9 546.8h1.05M578.3 561.6h1.05M468.4 567.9h1.05M501.6 523.9h1.05M554.1 544.6h1.05M549.7 533.0h1.05M461.4 546.9h1.05M548.0 546.2h1.05M540.2 532.8h1.05M541.3 502.0h1.05M534.6 512.7h1.05M511.8 542.5h1.05M485.4 542.7h1.05M440.6 543.1h1.05M519.4 547.6h1.05M542.6 538.3h1.05M507.8 555.5h1.05M489.1 545.6h1.05M460.9 525.1h1.05M509.1 515.3h1.05M499.9 537.8h1.05M561.3 549.9h1.05M587.1 529.2h1.05M505.7 534.1h1.05M517.5 563.8h1.05M534.0 540.4h1.05M528.5 524.6h1.05M466.6 575.3h1.05M502.6 547.8h1.05M535.4 550.0h1.05M511.1 509.4h1.05M453.6 540.1h1.05M492.3 563.4h1.05M521.7 560.4h1.05M516.6 522.6h1.05M486.0 549.7h1.05M538.3 517.6h1.05M535.7 542.3h1.05M491.8 542.4h1.05M587.2 555.6h1.05M464.6 564.1h1.05M457.0 554.4h1.05M568.7 551.1h1.05M503.6 553.8h1.05M561.9 509.3h1.05M475.9 533.3h1.05M574.8 545.4h1.05M447.6 548.1h1.05M604.3 536.9h1.05M569.1 564.7h1.05M518.7 514.8h1.05M577.0 546.8h1.05M559.7 556.7h1.05M497.5 550.5h1.05M459.7 539.8h1.05M526.9 534.7h1.05M557.4 505.5h1.05M511.6 544.3h1.05M470.6 552.7h1.05M494.7 549.5h1.05M517.9 531.5h1.05M528.8 505.4h1.05M551.4 541.8h1.05M445.2 563.3h1.05M554.5 525.6h1.05M537.0 542.7h1.05M529.3 536.3h1.05M516.6 538.2h1.05M492.8 564.0h1.05M548.9 548.6h1.05M495.3 551.5h1.05M535.8 527.7h1.05M535.2 535.0h1.05M588.1 529.8h1.05M603.0 528.0h1.05M410.9 571.9h1.05M526.2 552.2h1.05M559.9 546.7h1.05M524.1 535.3h1.05M583.0 539.6h1.05M523.1 545.2h1.05M494.5 553.2h1.05M599.4 555.3h1.05M494.3 573.8h1.05M507.0 555.6h1.05M561.4 530.3h1.05M530.8 565.8h1.05M462.5 539.8h1.05M495.4 563.8h1.05M508.5 555.0h1.05M568.1 537.2h1.05M595.2 500.2h1.05M491.5 515.9h1.05M587.1 561.4h1.05M543.5 516.7h1.05M580.6 532.6h1.05M574.7 539.8h1.05M545.0 528.1h1.05M586.9 563.0h1.05M600.0 444.2h1.05M549.8 459.9h1.05M587.6 448.1h1.05M582.2 450.2h1.05M584.3 451.3h1.05M608.9 428.1h1.05M572.0 457.5h1.05M569.5 446.4h1.05M612.6 446.6h1.05M615.7 440.3h1.05M592.0 463.4h1.05M574.2 460.0h1.05M570.6 446.6h1.05M540.8 444.5h1.05M604.5 456.6h1.05M555.4 456.2h1.05M574.7 449.1h1.05M601.6 443.5h1.05M550.6 459.9h1.05M581.5 445.1h1.05M533.7 431.1h1.05M554.1 460.2h1.05M572.3 441.8h1.05M561.0 455.7h1.05M549.0 451.2h1.05M598.6 435.6h1.05M569.3 439.9h1.05M582.4 449.8h1.05M544.9 436.6h1.05M573.6 435.0h1.05M597.2 465.2h1.05M547.3 459.9h1.05M567.1 448.8h1.05M593.0 431.0h1.05M591.9 462.7h1.05M597.5 451.1h1.05M521.6 450.7h1.05M589.4 435.3h1.05M564.2 457.8h1.05M609.7 462.9h1.05M603.3 440.9h1.05M617.6 449.2h1.05M570.3 465.6h1.05M596.6 465.0h1.05M531.1 449.2h1.05M599.2 457.7h1.05M557.8 457.0h1.05M590.1 447.6h1.05M614.7 449.9h1.05M546.5 438.1h1.05M588.0 443.2h1.05M562.0 430.8h1.05M526.4 446.4h1.05M555.7 454.8h1.05M593.9 430.8h1.05M608.7 443.3h1.05M611.4 437.5h1.05M548.1 462.8h1.05M612.1 432.8h1.05M573.9 446.1h1.05M579.5 446.3h1.05M554.2 436.6h1.05M570.2 454.0h1.05M576.0 440.9h1.05M590.3 434.8h1.05M603.9 431.1h1.05M593.6 442.4h1.05M565.8 450.7h1.05M605.4 444.0h1.05M564.6 452.9h1.05M577.1 452.4h1.05M549.7 433.2h1.05M552.4 442.5h1.05M573.7 438.3h1.05M549.2 440.8h1.05M598.7 440.7h1.05M527.7 448.2h1.05M593.0 438.7h1.05M578.2 435.3h1.05M614.7 458.6h1.05M553.3 434.1h1.05M591.5 435.1h1.05M569.6 449.9h1.05M562.9 435.2h1.05M594.2 449.4h1.05M536.4 453.2h1.05M600.1 454.1h1.05M496.6 429.9h1.05M600.9 439.0h1.05M587.5 457.0h1.05M581.2 452.9h1.05M553.4 428.1h1.05M574.2 450.1h1.05M561.2 436.7h1.05M599.3 445.9h1.05M609.5 435.8h1.05M526.1 441.5h1.05M590.2 447.7h1.05M538.1 450.7h1.05M600.0 454.4h1.05M563.4 446.6h1.05M600.9 441.1h1.05M564.2 448.4h1.05M538.1 437.4h1.05M535.5 446.4h1.05M587.6 452.8h1.05M604.2 446.1h1.05M585.4 446.0h1.05M548.1 439.4h1.05M599.6 457.4h1.05M560.6 453.5h1.05M560.2 453.4h1.05M586.5 438.2h1.05M582.9 434.2h1.05M565.6 461.8h1.05M537.1 445.4h1.05M558.2 435.3h1.05M591.4 431.7h1.05M595.6 439.4h1.05M571.7 445.1h1.05M542.3 453.9h1.05M614.6 445.0h1.05M580.2 436.7h1.05M605.3 447.9h1.05M594.3 455.6h1.05M580.6 446.4h1.05M581.1 448.2h1.05M579.0 455.4h1.05M559.0 451.6h1.05M577.3 441.3h1.05M529.3 563.8h1.05M488.1 430.3h1.05M605.6 458.3h1.05M610.4 515.5h1.05M565.9 435.6h1.05M462.2 591.8h1.05M511.0 450.4h1.05M578.5 504.9h1.05M465.7 432.1h1.05M446.8 577.2h1.05" stroke="#1e1eb0" stroke-opacity="0.82" stroke-width="1.05" fill="none"/>
<path d="M217.9 466.4h1.05M214.2 480.1h1.05M204.2 484.6h1.05M203.3 492.6h1.05M206.1 476.3h1.05M204.9 487.2h1.05M213.4 479.4h1.05M204.9 485.3h1.05M212.2 475.8h1.05M221.5 476.1h1.05M201.8 473.1h1.05M212.1 479.6h1.05M205.8 475.5h1.05M212.9 477.2h1.05M221.0 472.5h1.05M211.9 476.8h1.05M210.9 473.1h1.05M212.7 466.7h1.05M208.4 466.6h1.05M206.2 474.0h1.05M209.7 479.4h1.05M208.7 465.9h1.05M224.8 481.5h1.05M212.6 473.0h1.05M210.7 469.5h1.05M213.6 480.1h1.05M201.2 491.5h1.05M212.2 476.8h1.05M218.2 463.1h1.05M198.7 486.2h1.05M212.9 481.7h1.05M214.1 477.8h1.05M214.6 477.5h1.05M203.5 494.0h1.05M206.2 473.9h1.05M208.3 471.6h1.05M206.1 479.8h1.05M209.4 474.8h1.05M210.4 473.9h1.05M211.5 469.1h1.05M200.4 478.6h1.05M199.3 484.3h1.05M219.2 475.6h1.05M208.2 471.1h1.05M209.2 484.1h1.05M221.7 475.0h1.05M216.9 476.6h1.05M202.9 477.6h1.05M212.4 482.9h1.05M204.7 476.9h1.05M220.1 464.7h1.05M203.7 473.6h1.05M205.6 472.5h1.05M202.8 484.1h1.05M219.1 469.4h1.05M210.4 471.8h1.05M205.4 472.0h1.05M214.5 468.5h1.05M202.6 491.6h1.05M207.1 476.2h1.05M211.4 488.9h1.05M202.9 485.6h1.05M205.8 476.3h1.05M225.7 470.9h1.05M213.1 479.9h1.05M215.5 466.7h1.05M215.0 481.5h1.05M211.0 477.5h1.05M211.0 476.1h1.05M211.3 481.2h1.05M202.3 478.3h1.05M209.5 482.5h1.05M201.6 472.8h1.05M208.7 480.7h1.05M213.4 462.4h1.05M214.5 484.2h1.05M210.4 477.9h1.05M206.5 475.9h1.05M208.2 480.7h1.05M208.8 479.0h1.05M215.1 469.8h1.05M203.0 478.8h1.05M207.3 485.5h1.05M209.0 475.9h1.05M204.5 480.0h1.05M200.7 479.7h1.05M215.9 463.8h1.05M219.6 465.5h1.05M217.5 479.0h1.05M213.2 463.8h1.05M212.7 476.8h1.05M201.0 477.3h1.05M212.2 476.8h1.05M205.2 470.8h1.05M214.7 475.4h1.05M204.9 461.1h1.05M213.0 473.6h1.05M214.3 480.2h1.05M212.0 477.7h1.05M219.4 471.7h1.05M207.1 470.5h1.05M206.7 472.9h1.05M206.3 485.0h1.05M204.0 482.0h1.05M212.2 485.3h1.05M206.9 480.2h1.05M215.6 470.7h1.05M210.3 474.4h1.05M207.0 488.0h1.05M207.8 483.9h1.05M214.3 477.7h1.05M210.2 472.7h1.05M214.4 481.5h1.05M203.3 491.7h1.05M207.5 483.0h1.05M203.1 469.3h1.05M212.6 468.5h1.05M208.6 478.4h1.05M209.8 477.2h1.05M199.7 486.7h1.05M213.9 466.5h1.05M213.0 463.2h1.05M206.2 486.5h1.05M214.1 477.8h1.05M202.8 477.7h1.05M204.0 479.7h1.05M219.0 476.5h1.05M200.5 480.6h1.05M212.9 477.4h1.05M208.1 482.3h1.05M198.5 486.7h1.05M216.5 475.2h1.05M204.9 487.6h1.05M199.9 480.8h1.05M211.7 472.1h1.05M210.7 461.3h1.05M209.3 480.4h1.05M202.4 482.4h1.05M210.0 467.7h1.05M219.9 470.4h1.05M210.8 488.1h1.05M207.7 470.3h1.05M203.3 480.2h1.05M202.9 474.0h1.05M215.9 468.7h1.05M206.0 474.6h1.05M202.5 484.7h1.05M219.1 477.5h1.05M214.6 469.5h1.05M207.7 471.7h1.05M217.7 465.6h1.05M205.3 459.1h1.05M198.5 488.0h1.05M214.8 474.4h1.05M209.2 461.4h1.05M203.7 475.6h1.05M213.2 473.2h1.05M212.5 483.7h1.05M208.4 475.4h1.05M203.2 489.9h1.05M201.5 478.9h1.05M217.4 462.2h1.05M203.7 486.8h1.05M214.6 481.6h1.05M208.0 491.9h1.05M217.3 480.4h1.05M215.2 476.8h1.05M209.3 471.0h1.05M212.3 476.3h1.05M214.0 477.3h1.05M207.2 470.7h1.05M205.1 477.0h1.05M213.6 468.5h1.05M214.7 478.0h1.05M215.3 472.2h1.05M199.4 481.1h1.05M220.0 471.3h1.05M209.8 478.2h1.05M203.6 475.7h1.05M202.8 489.3h1.05M202.0 482.6h1.05M204.8 478.5h1.05M210.3 467.3h1.05M199.5 487.9h1.05M214.5 465.5h1.05M209.5 472.8h1.05M217.0 472.3h1.05M210.8 464.4h1.05M220.6 480.2h1.05M217.3 466.2h1.05M213.5 464.8h1.05M210.9 472.6h1.05M213.2 478.1h1.05M221.6 464.1h1.05M207.4 471.3h1.05M198.0 486.8h1.05M210.7 476.2h1.05M212.5 473.3h1.05M208.5 468.5h1.05M217.4 498.3h1.05M201.5 480.5h1.05M204.8 480.7h1.05M210.5 476.5h1.05M220.9 461.5h1.05M203.4 479.0h1.05M208.8 481.6h1.05M203.2 480.5h1.05M203.4 477.6h1.05M197.4 487.0h1.05M212.0 491.4h1.05M205.1 477.9h1.05M210.2 475.0h1.05M211.4 466.6h1.05M217.8 471.8h1.05M211.9 466.3h1.05M210.4 477.6h1.05M206.4 472.6h1.05M202.9 474.5h1.05M228.4 473.4h1.05M214.7 461.7h1.05M215.6 477.3h1.05M205.3 469.2h1.05M202.1 479.3h1.05M202.4 475.6h1.05M211.7 475.7h1.05M206.4 486.4h1.05M228.7 473.2h1.05M212.2 468.7h1.05M216.0 465.2h1.05M202.1 476.7h1.05M207.5 471.1h1.05M221.8 477.7h1.05M214.8 470.0h1.05M206.7 476.1h1.05M205.6 480.1h1.05M208.2 468.9h1.05M221.3 482.9h1.05M202.0 486.7h1.05M204.6 483.7h1.05M220.8 480.0h1.05M200.0 486.6h1.05M207.0 463.8h1.05M203.6 471.2h1.05M205.6 481.9h1.05M209.6 471.8h1.05M204.9 477.8h1.05M213.2 476.2h1.05M210.7 486.0h1.05M211.2 483.2h1.05M212.4 473.7h1.05M208.3 477.7h1.05M203.6 466.4h1.05M209.3 484.2h1.05M202.3 475.1h1.05M203.5 477.3h1.05M222.3 463.4h1.05M204.7 471.7h1.05M210.8 471.9h1.05M214.6 477.6h1.05M205.9 488.6h1.05M209.0 489.9h1.05M209.9 481.4h1.05M200.0 487.0h1.05M200.7 475.0h1.05M212.0 469.0h1.05M213.3 467.9h1.05M209.4 466.8h1.05M216.4 483.0h1.05M207.3 477.4h1.05M202.8 490.4h1.05M211.5 474.0h1.05M197.3 487.5h1.05M197.9 486.5h1.05M202.8 492.1h1.05M210.7 471.6h1.05M204.7 482.3h1.05M205.6 473.9h1.05M200.1 483.2h1.05M201.4 477.2h1.05M207.9 469.3h1.05M204.3 482.4h1.05M208.7 483.0h1.05M208.6 477.7h1.05M208.7 469.3h1.05M208.6 481.0h1.05M208.5 472.5h1.05M204.1 485.3h1.05M205.6 478.4h1.05M213.3 482.4h1.05M211.1 474.7h1.05M214.8 476.4h1.05M200.7 486.2h1.05M207.7 466.3h1.05M204.2 470.5h1.05M208.8 471.4h1.05M204.0 476.4h1.05M206.8 473.8h1.05M206.7 470.9h1.05M215.4 475.3h1.05M200.9 481.1h1.05M209.8 484.2h1.05M213.8 480.2h1.05M206.9 474.3h1.05M206.0 491.2h1.05M226.1 471.6h1.05M213.7 478.0h1.05M210.3 471.7h1.05M216.8 471.4h1.05M212.4 478.4h1.05M207.8 467.9h1.05M208.4 479.6h1.05M199.5 489.6h1.05M204.0 481.1h1.05M202.5 478.4h1.05M213.8 469.3h1.05M203.4 473.9h1.05M198.3 488.3h1.05M204.3 475.0h1.05M200.3 487.1h1.05M220.3 467.7h1.05M215.3 490.6h1.05M206.8 477.6h1.05M203.7 473.8h1.05M218.5 478.1h1.05M218.4 467.4h1.05M199.6 481.0h1.05M201.1 473.2h1.05M207.1 482.6h1.05M206.2 471.2h1.05M204.9 487.1h1.05M206.4 483.6h1.05M207.9 488.0h1.05M200.6 483.1h1.05M219.6 481.4h1.05M203.8 482.7h1.05M214.4 474.3h1.05M210.0 474.2h1.05M202.9 480.9h1.05M208.3 477.7h1.05M218.3 467.5h1.05M218.9 478.7h1.05M209.0 473.9h1.05M200.4 480.1h1.05M213.8 479.9h1.05M203.8 477.6h1.05M212.6 472.4h1.05M208.0 479.3h1.05M208.3 474.8h1.05M213.2 477.7h1.05M207.0 478.8h1.05M203.8 470.2h1.05M203.4 477.7h1.05M209.5 473.0h1.05M209.1 478.9h1.05M218.2 462.2h1.05M203.5 491.0h1.05M209.7 474.0h1.05M199.6 483.2h1.05M216.3 474.2h1.05M202.1 471.6h1.05M197.7 487.8h1.05M200.7 477.0h1.05M201.4 483.6h1.05M225.2 472.1h1.05M211.3 475.6h1.05M206.5 476.5h1.05M225.5 472.9h1.05M211.8 477.4h1.05M211.9 487.9h1.05M204.7 489.3h1.05M208.1 477.7h1.05M210.9 482.5h1.05M210.5 492.5h1.05M222.0 467.6h1.05M207.4 485.2h1.05M206.3 471.2h1.05M206.4 461.0h1.05M212.2 468.2h1.05M207.0 473.5h1.05M206.3 484.0h1.05M209.9 473.8h1.05M217.1 469.5h1.05M207.0 475.6h1.05M202.5 491.9h1.05M210.9 469.8h1.05M201.1 480.6h1.05M198.8 486.0h1.05M217.5 489.1h1.05M206.0 476.8h1.05M207.3 482.1h1.05M213.0 476.5h1.05M206.3 475.6h1.05M201.3 480.3h1.05M199.8 477.5h1.05M208.9 490.5h1.05M214.5 479.9h1.05M203.7 479.1h1.05M216.7 474.0h1.05M220.6 461.6h1.05M207.1 477.0h1.05M210.5 475.5h1.05M206.5 468.9h1.05M216.6 469.2h1.05M206.7 472.9h1.05M210.7 477.9h1.05M209.2 467.5h1.05M210.0 470.2h1.05M217.8 472.2h1.05M217.1 480.2h1.05M204.3 484.1h1.05M215.5 472.7h1.05M214.1 467.0h1.05M212.9 473.6h1.05M217.5 469.1h1.05M205.4 487.8h1.05M218.4 478.1h1.05M203.5 476.8h1.05M200.7 477.0h1.05M208.3 477.3h1.05M213.8 476.6h1.05M200.1 478.4h1.05M201.1 479.5h1.05M209.6 469.2h1.05M223.2 480.7h1.05M209.6 488.4h1.05M212.1 475.4h1.05M212.2 467.6h1.05M199.5 481.6h1.05M219.6 483.7h1.05M203.3 479.2h1.05M213.8 470.5h1.05M207.5 477.6h1.05M207.6 467.1h1.05M203.9 468.4h1.05M204.9 464.0h1.05M209.4 483.7h1.05M206.5 472.4h1.05M203.2 476.6h1.05M214.1 478.7h1.05M210.2 471.5h1.05M206.4 472.3h1.05M201.6 485.6h1.05M205.3 477.3h1.05M205.5 465.9h1.05M214.8 478.8h1.05M217.6 478.5h1.05M201.5 485.2h1.05M206.0 476.5h1.05M207.0 477.0h1.05M213.3 463.3h1.05M200.0 481.3h1.05M205.1 487.5h1.05M199.9 486.2h1.05M209.4 465.1h1.05M210.1 472.8h1.05M209.3 485.3h1.05M207.8 480.4h1.05M201.4 482.5h1.05M219.7 473.2h1.05M203.8 474.8h1.05M203.5 483.6h1.05M204.1 471.5h1.05M205.9 482.9h1.05M209.3 475.4h1.05M212.8 480.5h1.05M202.0 472.4h1.05M202.7 491.3h1.05M214.3 482.0h1.05M208.2 482.9h1.05M208.5 474.7h1.05M204.7 478.0h1.05M202.2 482.4h1.05M210.6 477.1h1.05M216.6 480.8h1.05M204.6 492.6h1.05M207.6 469.2h1.05M205.3 472.8h1.05M208.0 473.7h1.05M208.7 476.0h1.05M201.7 484.0h1.05M220.4 478.8h1.05M201.5 487.0h1.05M201.2 492.5h1.05M214.1 468.1h1.05M207.9 481.0h1.05M209.1 467.2h1.05M212.7 477.8h1.05M213.2 479.0h1.05M207.9 482.4h1.05M199.8 485.5h1.05M213.4 489.6h1.05M218.0 476.2h1.05M215.9 466.8h1.05M207.1 478.0h1.05M200.5 479.8h1.05M201.2 484.3h1.05M196.7 487.6h1.05M206.6 478.1h1.05M204.3 474.5h1.05M209.0 479.6h1.05M201.5 484.2h1.05M224.2 466.8h1.05M202.3 490.6h1.05M203.4 479.3h1.05M208.5 485.8h1.05M199.6 483.3h1.05M209.6 483.3h1.05M219.1 472.6h1.05M206.5 472.6h1.05M209.5 479.8h1.05M207.1 479.1h1.05M209.7 475.2h1.05M208.0 477.8h1.05M208.0 471.7h1.05M209.4 466.7h1.05M206.6 478.3h1.05M214.3 478.1h1.05M213.8 471.2h1.05M201.9 488.4h1.05M202.4 470.7h1.05M210.7 487.7h1.05M210.3 475.8h1.05M205.1 482.6h1.05M207.0 478.8h1.05M212.8 476.0h1.05M212.5 477.9h1.05M210.9 473.5h1.05M202.6 473.7h1.05M208.0 483.7h1.05M202.6 482.2h1.05M213.3 484.6h1.05M214.6 481.9h1.05M211.6 478.7h1.05M215.8 477.5h1.05M205.3 484.1h1.05M205.4 487.1h1.05M208.1 473.1h1.05M204.6 477.1h1.05M203.7 482.1h1.05M213.3 479.8h1.05M213.8 481.4h1.05M221.8 475.0h1.05M207.2 482.7h1.05M202.4 483.7h1.05M199.3 481.9h1.05M209.4 480.2h1.05M201.5 479.9h1.05M197.8 488.5h1.05M200.2 481.8h1.05M208.2 482.9h1.05M204.9 477.6h1.05M200.8 479.1h1.05M202.1 478.7h1.05M210.1 480.1h1.05M211.3 484.1h1.05M210.1 477.9h1.05M200.7 474.9h1.05M209.6 475.5h1.05M212.5 476.8h1.05M201.9 480.7h1.05M206.3 473.4h1.05M205.3 475.6h1.05M215.6 484.6h1.05M207.0 477.4h1.05M212.4 490.3h1.05M208.8 468.2h1.05M218.9 478.6h1.05M205.7 483.3h1.05M205.4 478.8h1.05M197.8 484.6h1.05M207.8 486.8h1.05M217.7 477.6h1.05M207.6 468.7h1.05M204.6 461.8h1.05M214.6 486.2h1.05M206.7 479.3h1.05M205.1 480.1h1.05M209.3 481.5h1.05M205.3 477.7h1.05M212.5 475.9h1.05M209.7 469.6h1.05M200.4 478.1h1.05M206.2 482.9h1.05M206.9 479.9h1.05M204.5 485.9h1.05M203.2 482.2h1.05M207.0 485.6h1.05M199.0 488.5h1.05M221.0 468.6h1.05M207.4 486.2h1.05M221.5 466.4h1.05M206.1 477.2h1.05M210.3 483.3h1.05M199.3 480.8h1.05M207.7 475.5h1.05M211.9 483.6h1.05M206.4 490.1h1.05M216.3 459.6h1.05M202.7 480.9h1.05M201.4 484.0h1.05M201.1 479.3h1.05M211.3 463.4h1.05M206.2 495.4h1.05M214.6 474.4h1.05M228.8 470.3h1.05M208.1 483.6h1.05M208.4 481.8h1.05M203.7 484.1h1.05M200.8 485.2h1.05M213.0 467.6h1.05M203.9 481.8h1.05M209.9 481.0h1.05M210.1 483.6h1.05M208.2 479.0h1.05M211.0 472.3h1.05M220.4 462.9h1.05M204.8 475.0h1.05M208.0 468.5h1.05M210.9 479.5h1.05M199.3 479.9h1.05M214.5 472.4h1.05M208.2 481.5h1.05M211.1 468.7h1.05M212.3 471.4h1.05M208.6 472.0h1.05M217.0 478.1h1.05M201.0 477.9h1.05M208.1 465.7h1.05M211.2 481.7h1.05M214.3 482.7h1.05M203.6 485.0h1.05M201.0 486.8h1.05M204.1 484.4h1.05M199.0 486.4h1.05M208.3 480.8h1.05M199.6 482.2h1.05M201.5 474.0h1.05M207.4 468.2h1.05M211.6 471.1h1.05M215.3 472.2h1.05M200.9 476.9h1.05M211.1 466.9h1.05M206.0 489.3h1.05M217.1 473.6h1.05M205.5 472.3h1.05M203.3 474.4h1.05M203.4 481.6h1.05M214.2 477.4h1.05M200.1 479.4h1.05M200.3 482.4h1.05M209.9 481.7h1.05M212.4 461.0h1.05M199.9 484.4h1.05M208.0 474.6h1.05M207.1 469.4h1.05M206.1 479.4h1.05M222.6 469.4h1.05M199.3 481.5h1.05M212.0 468.6h1.05M208.4 485.7h1.05M206.5 478.9h1.05M208.3 469.5h1.05M205.0 481.1h1.05M206.5 482.9h1.05M206.8 476.1h1.05M202.3 477.1h1.05M206.4 469.5h1.05M218.5 478.8h1.05M204.1 474.2h1.05M224.1 475.5h1.05M213.7 471.8h1.05M202.6 481.8h1.05M203.3 482.6h1.05M213.6 483.7h1.05M206.2 475.0h1.05M210.4 472.1h1.05M204.2 482.6h1.05M204.6 475.2h1.05M207.0 478.4h1.05M210.7 480.6h1.05M207.6 486.6h1.05M200.3 483.1h1.05M207.2 476.2h1.05M205.4 483.7h1.05M209.7 472.7h1.05M210.4 477.9h1.05M205.5 474.4h1.05M202.5 472.6h1.05M214.0 476.8h1.05M200.3 482.9h1.05M207.9 483.1h1.05M204.0 477.0h1.05M206.6 475.8h1.05M219.5 470.4h1.05M198.9 484.2h1.05M201.6 481.2h1.05M213.5 465.3h1.05M207.5 487.3h1.05M212.4 471.6h1.05M205.0 474.7h1.05M202.4 490.0h1.05M216.7 476.8h1.05M205.5 474.0h1.05M200.5 488.3h1.05M211.2 482.5h1.05M210.3 476.6h1.05M200.0 483.6h1.05M218.4 469.6h1.05M219.8 471.5h1.05M216.0 467.1h1.05M209.4 469.5h1.05M216.9 472.0h1.05M200.4 479.3h1.05M216.1 480.2h1.05M212.4 474.6h1.05M205.6 472.4h1.05M203.0 470.9h1.05M201.6 480.3h1.05M206.6 479.1h1.05M209.9 485.0h1.05M200.8 474.3h1.05M202.8 482.1h1.05M213.8 477.4h1.05M211.2 484.3h1.05M216.1 477.0h1.05M208.7 480.8h1.05M211.2 479.2h1.05M201.2 473.4h1.05M219.0 468.1h1.05M211.4 464.9h1.05M208.3 484.1h1.05M211.5 472.9h1.05M202.4 479.8h1.05M201.1 487.6h1.05M212.5 471.0h1.05M210.9 473.6h1.05M215.6 463.9h1.05M215.6 474.6h1.05M202.8 486.8h1.05M208.4 481.6h1.05M215.8 469.3h1.05M225.7 468.2h1.05M209.3 483.5h1.05M205.4 475.9h1.05M210.0 480.0h1.05M211.0 482.8h1.05M208.9 476.7h1.05M201.2 475.6h1.05M205.0 484.5h1.05M210.9 481.3h1.05M206.8 475.9h1.05M205.2 484.6h1.05M214.5 486.8h1.05M213.6 472.3h1.05M203.7 473.9h1.05M203.9 472.6h1.05M215.1 476.4h1.05M211.8 464.3h1.05M206.9 467.3h1.05M211.8 476.5h1.05M206.7 488.0h1.05M200.5 486.2h1.05M231.8 470.3h1.05M210.6 484.3h1.05M211.0 480.5h1.05M208.0 480.7h1.05M204.4 483.4h1.05M214.2 475.2h1.05M228.4 467.0h1.05M205.2 480.9h1.05M202.8 471.0h1.05M200.3 476.2h1.05M209.1 476.3h1.05M207.8 475.5h1.05M205.4 481.3h1.05M216.5 478.1h1.05M201.7 475.7h1.05M201.5 475.8h1.05M206.5 468.9h1.05M202.2 473.1h1.05M215.2 481.5h1.05M197.1 486.3h1.05M210.2 484.9h1.05M208.2 485.9h1.05M203.1 483.3h1.05M202.4 468.9h1.05M206.9 474.8h1.05M218.8 461.2h1.05M211.8 478.6h1.05M202.8 477.2h1.05M207.3 476.6h1.05M214.1 477.1h1.05M204.2 475.6h1.05M203.6 472.6h1.05M207.4 471.0h1.05M198.9 485.0h1.05M204.9 481.4h1.05M209.5 470.3h1.05M203.0 475.3h1.05M203.7 485.9h1.05M224.6 478.4h1.05M227.0 479.2h1.05M217.3 486.1h1.05M208.3 471.9h1.05M214.3 472.7h1.05M210.0 474.7h1.05M214.5 467.8h1.05M205.4 479.3h1.05M204.8 483.5h1.05M216.1 479.8h1.05M208.5 486.6h1.05M223.6 461.5h1.05M211.0 472.5h1.05M208.2 483.9h1.05M213.9 477.1h1.05M205.7 475.9h1.05M221.5 465.9h1.05M202.6 468.9h1.05M206.1 481.2h1.05M208.9 478.8h1.05M198.8 485.5h1.05M208.9 467.4h1.05M209.2 472.1h1.05M208.8 477.2h1.05M203.4 476.3h1.05M209.7 487.6h1.05M216.0 477.3h1.05M202.0 479.6h1.05M210.2 487.9h1.05M215.6 470.2h1.05M204.7 481.6h1.05M219.6 480.1h1.05M205.1 493.9h1.05M218.6 473.7h1.05M220.9 465.3h1.05M216.8 477.1h1.05M208.6 475.0h1.05M212.3 482.2h1.05M204.1 468.7h1.05M199.7 487.5h1.05M209.8 484.6h1.05M204.2 482.1h1.05M213.6 460.1h1.05M205.3 481.2h1.05M205.9 471.1h1.05M204.9 476.4h1.05M208.0 477.9h1.05M205.6 492.3h1.05M215.6 469.2h1.05M226.5 473.8h1.05M203.3 479.0h1.05M204.8 474.9h1.05M206.6 475.9h1.05M208.8 485.5h1.05M204.3 464.2h1.05M202.3 475.2h1.05M209.2 481.0h1.05M208.4 477.0h1.05M208.2 475.2h1.05M216.4 475.3h1.05M204.7 475.0h1.05M204.1 489.7h1.05M204.8 481.5h1.05M220.1 469.6h1.05M220.4 477.2h1.05M216.8 469.1h1.05M208.0 471.3h1.05M209.1 476.9h1.05M201.2 479.5h1.05M210.5 474.9h1.05M200.3 482.8h1.05M209.6 475.8h1.05M219.1 467.9h1.05M204.9 479.0h1.05M220.3 478.9h1.05M213.6 486.0h1.05M204.1 487.9h1.05M203.5 481.3h1.05M216.7 479.5h1.05M209.2 476.9h1.05M211.4 471.2h1.05M202.0 481.5h1.05M211.6 484.8h1.05M207.7 487.0h1.05M204.1 489.5h1.05M211.4 476.9h1.05M201.2 478.9h1.05M198.1 488.1h1.05M208.9 476.1h1.05M207.4 485.4h1.05M208.0 465.7h1.05M203.0 471.5h1.05M211.8 465.1h1.05M201.0 479.3h1.05M212.5 472.4h1.05M210.7 480.5h1.05M211.9 480.3h1.05M200.7 479.6h1.05M206.6 479.3h1.05M213.7 475.7h1.05M204.4 485.6h1.05M207.6 484.7h1.05M206.8 481.7h1.05M201.6 483.7h1.05M204.8 465.6h1.05M200.4 478.7h1.05M203.1 479.7h1.05M207.8 482.9h1.05M203.9 475.3h1.05M214.7 475.9h1.05M212.0 479.1h1.05M219.2 454.4h1.05M205.2 483.1h1.05M210.1 476.0h1.05M212.4 475.5h1.05M205.6 485.7h1.05M211.5 472.1h1.05M203.5 488.2h1.05M206.9 487.4h1.05M205.0 486.1h1.05M200.8 474.7h1.05M204.5 488.3h1.05M208.0 474.8h1.05M229.0 469.7h1.05M209.5 488.2h1.05M216.5 482.7h1.05M215.9 482.1h1.05M225.7 467.4h1.05M200.6 476.1h1.05M207.3 481.5h1.05M202.2 491.5h1.05M208.1 485.6h1.05M202.6 481.0h1.05M217.5 465.5h1.05M198.6 482.4h1.05M205.6 480.5h1.05M208.8 484.5h1.05M200.8 478.8h1.05M213.3 479.3h1.05M205.2 474.4h1.05M204.5 476.9h1.05M205.8 483.2h1.05M201.7 489.7h1.05M208.4 485.0h1.05M201.4 480.1h1.05M214.8 477.6h1.05M206.2 496.1h1.05M204.0 487.2h1.05M215.4 472.9h1.05M200.0 479.3h1.05M212.9 470.1h1.05M210.3 477.9h1.05M209.0 472.6h1.05M215.1 473.0h1.05M202.1 477.1h1.05M215.3 479.9h1.05M205.8 477.6h1.05M205.5 474.0h1.05M207.5 483.3h1.05M200.4 478.2h1.05M211.0 473.6h1.05M215.8 472.1h1.05M210.5 474.1h1.05M229.0 464.4h1.05M228.8 462.2h1.05M213.5 475.0h1.05M204.5 477.6h1.05M208.6 476.3h1.05M207.9 472.4h1.05M210.3 471.1h1.05M209.8 469.6h1.05M214.1 484.0h1.05M211.3 482.2h1.05M205.6 472.5h1.05M206.6 479.1h1.05M205.7 486.9h1.05M215.8 470.6h1.05M224.8 476.1h1.05M215.7 472.8h1.05M204.6 465.6h1.05M209.3 486.5h1.05M207.0 474.4h1.05M201.3 485.9h1.05M211.5 482.9h1.05M202.2 482.8h1.05M204.5 478.2h1.05M201.5 479.2h1.05M215.6 482.3h1.05M217.3 482.1h1.05M204.3 478.2h1.05M219.3 478.8h1.05M207.2 474.1h1.05M212.3 476.6h1.05M213.5 476.1h1.05M200.5 478.9h1.05M205.7 474.2h1.05M206.4 477.9h1.05M204.3 485.1h1.05M212.9 480.4h1.05M198.9 485.9h1.05M206.6 468.2h1.05M204.9 478.9h1.05M206.1 472.9h1.05M217.8 480.7h1.05M209.6 470.7h1.05M206.0 483.6h1.05M208.6 489.2h1.05M204.4 483.1h1.05M215.9 472.0h1.05M217.1 471.7h1.05M202.3 471.6h1.05M207.3 481.8h1.05M214.7 474.9h1.05M204.6 480.4h1.05M205.0 479.0h1.05M207.3 488.2h1.05M208.3 471.3h1.05M209.6 482.2h1.05M200.9 474.3h1.05M203.5 477.6h1.05M209.5 478.0h1.05M210.7 484.1h1.05M205.9 481.3h1.05M211.1 469.9h1.05M201.4 482.6h1.05M210.5 478.5h1.05M213.9 471.3h1.05M207.8 475.4h1.05M213.3 472.8h1.05M212.5 488.5h1.05M204.1 472.5h1.05M199.9 484.9h1.05M201.7 482.6h1.05M217.6 466.4h1.05M210.4 464.4h1.05M218.7 466.5h1.05M216.7 475.8h1.05M215.1 476.0h1.05M208.0 475.5h1.05M209.6 477.9h1.05M208.2 478.6h1.05M203.2 476.4h1.05M206.3 482.5h1.05M218.7 472.3h1.05M198.1 485.4h1.05M213.2 469.9h1.05M200.9 480.6h1.05M208.3 489.2h1.05M212.1 470.0h1.05M200.2 485.8h1.05M205.3 485.1h1.05M208.2 486.3h1.05M204.6 480.3h1.05M222.5 468.9h1.05M204.4 480.7h1.05M202.3 480.5h1.05M212.3 478.7h1.05M208.5 476.0h1.05M202.8 482.5h1.05M210.7 471.9h1.05M218.3 475.6h1.05M203.7 485.5h1.05M205.3 481.0h1.05M201.7 477.2h1.05M205.2 483.6h1.05M207.3 479.6h1.05M207.3 481.4h1.05M209.4 472.6h1.05M197.0 487.6h1.05M215.2 468.9h1.05M204.2 468.9h1.05M219.7 469.0h1.05M205.2 473.2h1.05M204.6 479.9h1.05M208.8 482.8h1.05M206.0 487.4h1.05M211.4 477.1h1.05M203.7 482.2h1.05M210.6 474.0h1.05M208.5 470.0h1.05M208.1 479.8h1.05M201.2 485.0h1.05M217.3 464.2h1.05M213.6 475.3h1.05M207.5 468.6h1.05M204.7 482.3h1.05M206.5 473.1h1.05M201.0 476.6h1.05M202.1 478.1h1.05M202.1 474.7h1.05M211.5 473.9h1.05M216.2 470.3h1.05M219.1 488.3h1.05" stroke="#c000d8" stroke-opacity="0.85" stroke-width="1.05" fill="none"/>
<path d="M322.1 623.3h1.2M321.5 545.1h1.2M321.8 554.6h1.2M321.8 471.6h1.2M322.0 463.6h1.2M322.0 566.2h1.2M320.9 603.9h1.2M321.9 522.2h1.2M321.6 574.8h1.2M321.5 552.0h1.2M322.0 444.9h1.2M321.6 499.1h1.2M321.3 454.0h1.2M321.2 487.4h1.2M321.4 561.6h1.2M321.3 486.6h1.2M321.8 542.6h1.2M321.6 496.4h1.2M321.6 581.8h1.2M321.4 550.5h1.2M321.2 556.9h1.2M321.0 530.0h1.2M322.0 503.4h1.2M322.1 550.1h1.2M322.1 450.6h1.2M321.0 537.5h1.2M320.9 495.1h1.2M322.0 481.9h1.2M322.0 462.7h1.2M321.0 543.7h1.2M321.2 503.4h1.2M321.4 449.2h1.2M322.2 606.6h1.2M321.2 565.5h1.2M320.9 443.6h1.2M321.5 513.6h1.2M321.8 524.3h1.2M321.0 462.6h1.2M321.0 613.9h1.2M321.9 569.9h1.2M322.0 520.9h1.2M321.7 526.9h1.2M321.7 502.5h1.2M321.5 484.7h1.2M322.0 575.0h1.2M322.0 441.5h1.2M321.5 551.7h1.2M321.9 536.2h1.2M321.6 531.7h1.2M322.1 529.9h1.2M321.0 467.7h1.2M321.3 487.7h1.2M321.7 458.7h1.2M321.9 500.2h1.2M321.4 460.9h1.2M322.0 481.6h1.2M321.7 470.2h1.2M321.5 447.6h1.2M321.7 466.1h1.2M321.4 523.3h1.2M321.8 482.0h1.2M321.8 517.1h1.2M321.2 478.2h1.2M321.2 499.3h1.2M321.3 508.8h1.2M321.8 460.5h1.2M321.3 439.6h1.2M321.2 484.7h1.2M322.0 487.8h1.2M321.9 535.6h1.2M322.1 523.9h1.2M321.4 464.6h1.2M321.6 530.6h1.2M321.0 480.2h1.2M321.8 474.0h1.2M321.3 524.5h1.2M322.2 484.0h1.2M321.2 512.7h1.2M320.9 436.5h1.2M321.9 500.3h1.2M321.9 482.4h1.2M321.9 499.0h1.2M320.9 490.9h1.2M321.9 478.3h1.2M322.0 477.5h1.2M322.0 434.5h1.2M321.0 511.0h1.2M321.8 502.8h1.2M321.9 507.2h1.2M321.3 497.8h1.2M322.2 565.8h1.2M321.8 620.1h1.2M322.1 544.2h1.2M321.4 501.6h1.2M321.4 579.7h1.2M321.2 486.6h1.2M321.0 564.2h1.2M320.9 465.5h1.2M321.8 439.4h1.2M321.3 448.2h1.2M321.4 486.0h1.2M322.1 451.8h1.2M322.0 435.3h1.2M320.9 505.7h1.2M320.9 481.9h1.2M320.8 571.1h1.2M322.0 496.9h1.2M321.2 559.4h1.2M322.1 540.9h1.2M321.3 484.6h1.2M321.4 453.0h1.2M321.1 499.1h1.2M321.1 508.0h1.2M321.7 546.6h1.2M321.8 622.1h1.2M322.1 512.1h1.2M321.7 475.5h1.2M321.0 487.3h1.2M321.5 582.3h1.2M321.7 499.6h1.2M322.1 464.8h1.2M322.1 484.3h1.2M321.0 510.9h1.2M321.9 503.4h1.2M321.5 520.9h1.2M321.5 555.8h1.2M321.1 433.0h1.2M321.9 540.5h1.2M320.9 515.4h1.2M321.0 477.3h1.2M321.0 564.2h1.2M322.0 593.4h1.2M321.5 538.4h1.2M321.7 435.5h1.2M321.2 548.0h1.2M321.6 526.9h1.2M321.3 518.6h1.2M321.9 482.9h1.2M322.0 520.4h1.2M321.9 496.2h1.2M321.2 605.1h1.2M321.0 598.4h1.2M321.9 552.8h1.2M322.1 492.3h1.2M320.9 505.5h1.2M321.9 481.9h1.2M321.9 489.3h1.2M321.0 571.9h1.2M321.3 456.8h1.2M321.8 519.8h1.2M321.6 621.8h1.2M321.2 471.9h1.2M321.3 495.7h1.2M321.6 540.5h1.2M321.9 574.2h1.2M322.0 550.0h1.2M322.2 498.1h1.2M321.2 509.0h1.2M321.2 542.3h1.2M321.1 507.6h1.2M320.9 518.8h1.2M321.2 447.1h1.2M322.2 498.1h1.2M321.2 619.5h1.2M321.9 572.3h1.2M321.8 535.0h1.2M321.4 584.9h1.2M321.2 509.5h1.2M321.2 522.1h1.2M322.2 518.8h1.2M321.2 522.2h1.2M321.1 532.2h1.2M321.9 527.2h1.2M321.1 592.2h1.2M321.5 605.5h1.2M321.2 575.8h1.2M321.2 505.4h1.2M321.3 561.0h1.2M320.9 545.7h1.2M321.3 450.9h1.2M322.1 519.5h1.2M320.8 430.8h1.2M321.0 497.5h1.2M321.5 485.7h1.2M321.6 494.8h1.2M321.4 513.0h1.2M321.8 533.7h1.2M321.1 450.2h1.2M320.9 489.3h1.2M321.9 564.1h1.2M320.8 570.6h1.2M321.3 589.7h1.2M321.2 614.4h1.2M321.8 450.9h1.2M321.0 492.5h1.2M320.9 496.9h1.2M321.3 470.9h1.2M321.2 497.3h1.2M321.1 509.6h1.2M320.9 494.5h1.2M321.3 456.0h1.2M321.4 596.5h1.2M321.9 473.3h1.2M321.1 505.4h1.2M321.7 533.8h1.2M322.1 468.0h1.2M321.0 512.6h1.2M320.9 495.2h1.2M321.3 472.9h1.2M321.0 488.0h1.2M321.9 487.7h1.2M321.0 535.6h1.2M321.1 507.0h1.2M320.9 503.3h1.2M322.1 578.6h1.2M322.1 578.1h1.2M320.9 520.1h1.2M321.3 469.9h1.2M321.1 574.6h1.2M321.1 529.1h1.2M321.0 516.6h1.2M321.4 454.6h1.2M321.5 511.4h1.2M321.6 473.0h1.2M321.2 551.8h1.2M321.0 477.3h1.2M320.9 537.7h1.2M321.8 589.6h1.2M321.9 460.0h1.2M321.7 541.2h1.2M618.7 533.5h1.2M618.8 581.2h1.2M618.1 500.4h1.2M617.7 457.3h1.2M618.7 488.2h1.2M618.6 513.3h1.2M618.9 457.4h1.2M618.3 443.2h1.2M617.9 436.0h1.2M618.4 557.3h1.2M618.2 499.3h1.2M618.1 589.1h1.2M618.5 573.1h1.2M618.0 502.2h1.2M618.5 536.7h1.2M617.9 469.7h1.2M617.7 477.9h1.2M617.9 473.5h1.2M618.9 554.5h1.2M617.9 522.5h1.2M618.0 481.5h1.2M617.7 562.2h1.2M618.5 522.1h1.2M618.5 532.7h1.2M618.0 525.3h1.2M618.8 479.3h1.2M617.7 442.6h1.2M618.3 513.1h1.2M618.6 510.2h1.2M618.3 540.2h1.2M618.5 485.9h1.2M617.7 463.6h1.2M618.4 521.4h1.2M617.7 510.5h1.2M618.7 441.1h1.2M617.9 522.1h1.2M617.7 488.9h1.2M618.8 462.3h1.2M618.6 498.6h1.2M618.5 522.4h1.2M618.4 486.8h1.2M618.5 496.4h1.2M618.1 528.4h1.2M618.7 516.0h1.2M618.2 489.6h1.2M617.7 506.1h1.2M618.3 485.2h1.2M618.0 479.3h1.2M617.8 589.6h1.2M618.9 527.2h1.2M618.2 555.4h1.2M617.8 552.4h1.2M617.7 455.6h1.2M617.7 458.3h1.2M618.2 495.7h1.2M618.5 474.9h1.2M618.8 525.1h1.2M618.5 541.5h1.2M618.9 486.8h1.2M617.8 539.4h1.2M618.3 502.8h1.2M618.3 603.3h1.2M618.6 437.0h1.2M618.4 576.2h1.2M618.6 491.0h1.2M618.7 478.4h1.2M618.6 495.9h1.2M618.7 521.8h1.2M617.7 475.6h1.2M618.6 505.9h1.2M618.1 447.7h1.2M617.6 582.6h1.2M618.9 581.2h1.2M618.2 516.6h1.2M618.9 529.3h1.2M617.8 494.5h1.2M618.0 461.6h1.2M617.7 550.7h1.2M617.8 544.2h1.2M618.4 438.9h1.2M618.0 529.2h1.2M618.1 493.3h1.2M618.6 452.6h1.2M618.5 567.1h1.2M618.2 503.6h1.2M618.8 537.7h1.2M618.3 573.5h1.2M618.5 507.4h1.2M618.4 466.5h1.2M618.6 529.2h1.2M618.5 522.7h1.2M618.3 512.5h1.2M618.9 517.7h1.2M617.9 525.1h1.2M618.9 609.1h1.2M618.4 558.8h1.2M618.1 526.6h1.2M617.6 615.5h1.2M617.6 581.4h1.2M618.2 511.6h1.2M618.5 478.2h1.2M618.9 513.4h1.2M618.8 516.1h1.2M618.8 501.1h1.2M618.3 448.7h1.2M617.7 551.1h1.2M618.3 552.6h1.2M617.7 464.0h1.2M618.4 512.8h1.2M617.8 480.0h1.2M618.4 436.5h1.2M619.0 561.0h1.2M618.8 530.3h1.2M617.9 479.5h1.2M618.6 466.0h1.2M618.3 513.6h1.2M618.8 495.9h1.2M618.0 509.6h1.2M618.5 514.3h1.2M618.0 466.4h1.2M617.8 511.3h1.2M618.6 475.6h1.2M617.7 485.1h1.2M618.5 485.0h1.2M617.9 438.3h1.2M617.7 466.3h1.2M618.4 512.9h1.2M618.9 519.2h1.2M618.5 484.1h1.2M618.8 500.6h1.2M618.7 450.6h1.2M618.8 536.6h1.2M618.4 519.6h1.2M618.9 440.7h1.2M618.5 475.6h1.2M618.3 527.2h1.2M618.4 504.4h1.2M618.5 453.5h1.2M617.9 441.8h1.2M618.8 546.3h1.2M618.9 465.2h1.2M617.9 499.7h1.2M618.2 527.0h1.2M618.4 449.6h1.2M617.9 554.5h1.2" stroke="#202090" stroke-opacity="0.7" stroke-width="1.25" fill="none"/>
<path d="M547.3 491.1h1.2M543.2 495.6h1.2M545.5 490.8h1.2M547.2 494.1h1.2M533.7 499.8h1.2M538.3 492.9h1.2M529.2 499.0h1.2M540.4 496.3h1.2M533.5 501.4h1.2M529.4 494.9h1.2M529.9 500.4h1.2M526.3 500.2h1.2M550.0 485.8h1.2M534.4 499.2h1.2M536.7 496.0h1.2M525.8 499.7h1.2M526.4 502.3h1.2M537.8 495.4h1.2M540.7 491.8h1.2M534.2 502.3h1.2M515.9 499.1h1.2M550.8 491.8h1.2M529.0 493.8h1.2M538.4 497.6h1.2M536.4 498.6h1.2M531.2 497.0h1.2M528.7 494.8h1.2M536.8 492.5h1.2M529.3 497.3h1.2M544.0 496.5h1.2M519.9 501.8h1.2M544.5 489.3h1.2M516.7 498.4h1.2M533.9 486.6h1.2M521.3 500.8h1.2M532.1 501.6h1.2M530.9 501.5h1.2M527.9 491.4h1.2M532.7 499.7h1.2M530.3 499.4h1.2M526.8 503.1h1.2M534.0 494.7h1.2M544.4 491.2h1.2M529.6 483.6h1.2M520.6 498.9h1.2M510.2 502.1h1.2M528.9 490.8h1.2M521.2 486.4h1.2M497.3 494.3h1.2M544.5 475.6h1.2M524.9 489.4h1.2M534.9 487.9h1.2M531.7 494.6h1.2M507.6 497.9h1.2M522.7 479.9h1.2M526.8 485.3h1.2M535.0 489.4h1.2M541.7 467.5h1.2M534.5 485.5h1.2M531.6 503.4h1.2M533.7 490.2h1.2M543.8 477.5h1.2M538.0 481.6h1.2M529.9 485.5h1.2M529.3 496.6h1.2M526.7 484.0h1.2M515.3 485.7h1.2M532.8 494.5h1.2M529.4 498.3h1.2M525.8 491.2h1.2M528.2 479.9h1.2M534.9 500.4h1.2M537.5 463.7h1.2M521.0 473.3h1.2M525.7 497.8h1.2M531.1 501.0h1.2M527.0 494.3h1.2M545.5 491.8h1.2M538.1 474.2h1.2M530.8 483.5h1.2M532.9 480.9h1.2M520.4 488.0h1.2M533.1 494.9h1.2M518.8 494.6h1.2M507.8 487.5h1.2M540.2 477.5h1.2M539.6 471.7h1.2M510.7 495.5h1.2M524.9 490.9h1.2M547.7 481.2h1.2M527.3 499.3h1.2M524.8 476.0h1.2M512.1 484.8h1.2M538.2 488.7h1.2M499.0 494.0h1.2M544.5 472.9h1.2M514.3 501.0h1.2M544.9 474.6h1.2M538.2 493.5h1.2M542.8 472.8h1.2M529.7 498.2h1.2M516.1 502.0h1.2M530.7 489.5h1.2M502.8 500.9h1.2M542.3 467.4h1.2M544.7 483.9h1.2M520.8 496.6h1.2M512.5 478.8h1.2M529.0 485.5h1.2M526.7 473.3h1.2M540.6 493.1h1.2M523.9 480.4h1.2M543.4 480.8h1.2M513.5 496.8h1.2M522.0 467.6h1.2M520.7 493.3h1.2M529.4 489.7h1.2M537.7 472.1h1.2M531.5 480.7h1.2M516.8 503.1h1.2M549.0 481.9h1.2M512.6 494.0h1.2M534.8 480.0h1.2M520.3 495.1h1.2M520.1 501.6h1.2M518.6 486.0h1.2M537.2 463.2h1.2M515.4 489.1h1.2M532.2 483.0h1.2M543.2 487.0h1.2M510.2 493.6h1.2M512.5 478.0h1.2M532.5 476.6h1.2M525.3 494.0h1.2M521.9 492.5h1.2M524.4 477.6h1.2M538.1 473.8h1.2M546.2 490.6h1.2M529.0 487.5h1.2M534.2 477.9h1.2M528.1 501.2h1.2M544.4 495.7h1.2M534.0 473.7h1.2M538.5 490.6h1.2M518.7 496.5h1.2M528.1 489.1h1.2M525.8 475.7h1.2M523.8 491.9h1.2M510.5 487.8h1.2M533.7 480.5h1.2M545.9 483.0h1.2M528.4 486.5h1.2M546.7 478.1h1.2M525.0 499.1h1.2M524.8 496.3h1.2M529.7 493.4h1.2M526.0 479.3h1.2M539.9 463.2h1.2M534.3 490.0h1.2M527.4 476.1h1.2M532.3 474.2h1.2M517.9 493.6h1.2M518.7 493.8h1.2M508.2 482.7h1.2M516.9 478.0h1.2M499.9 473.7h1.2M519.6 495.4h1.2M530.7 479.7h1.2M541.6 470.7h1.2M518.6 475.8h1.2M519.2 475.1h1.2M530.9 475.0h1.2M542.8 483.2h1.2M509.0 497.4h1.2M528.6 487.8h1.2M513.0 489.9h1.2M536.0 490.1h1.2M526.4 494.7h1.2M540.9 467.7h1.2M527.8 488.5h1.2M507.9 492.9h1.2M521.9 490.6h1.2M514.1 497.5h1.2M512.1 496.4h1.2M513.6 490.0h1.2M537.4 479.2h1.2M525.1 487.4h1.2M516.7 497.1h1.2M522.8 479.9h1.2M520.7 487.7h1.2M543.7 471.2h1.2M520.5 482.5h1.2M545.9 482.6h1.2M528.8 476.6h1.2M506.9 497.0h1.2M529.5 484.8h1.2M506.1 492.7h1.2M541.7 478.3h1.2M530.9 478.1h1.2M506.4 495.2h1.2M528.3 482.3h1.2M526.6 500.2h1.2M512.1 489.2h1.2M544.9 473.7h1.2M548.2 481.3h1.2M535.8 478.7h1.2M512.7 476.9h1.2M516.2 487.6h1.2M524.0 484.6h1.2M535.6 485.2h1.2M529.4 485.5h1.2M521.6 488.1h1.2M516.6 500.3h1.2M520.2 489.5h1.2M540.0 482.5h1.2M515.1 495.4h1.2M519.8 494.1h1.2M536.2 490.2h1.2M537.1 482.3h1.2M507.2 493.2h1.2M513.2 486.1h1.2M513.8 486.1h1.2M542.8 474.3h1.2M537.7 487.1h1.2M545.2 487.3h1.2M499.1 499.1h1.2M514.9 481.4h1.2M528.5 500.3h1.2M506.1 489.9h1.2M513.1 501.3h1.2M541.7 488.2h1.2M532.3 502.7h1.2M541.3 455.1h1.2M533.2 487.5h1.2M545.6 481.8h1.2M512.1 487.8h1.2M512.3 482.1h1.2M530.8 485.4h1.2M516.7 499.4h1.2M533.1 477.0h1.2M523.1 477.8h1.2M539.0 499.3h1.2M520.1 488.2h1.2M516.6 476.6h1.2M500.7 497.0h1.2M528.4 489.0h1.2M523.9 492.6h1.2M535.8 463.7h1.2M541.6 458.3h1.2M537.9 494.1h1.2M512.2 482.6h1.2M533.9 491.7h1.2M524.1 454.1h1.2M548.6 480.9h1.2M527.7 480.3h1.2M545.2 474.7h1.2M534.3 469.5h1.2M498.3 459.1h1.2M519.0 480.4h1.2M548.8 484.6h1.2M513.0 502.6h1.2M540.8 476.4h1.2M538.5 488.3h1.2M548.8 489.6h1.2M542.0 483.5h1.2M543.5 495.0h1.2M536.1 497.7h1.2M542.0 464.9h1.2M551.1 490.2h1.2M527.5 501.7h1.2M534.9 454.1h1.2M543.9 496.2h1.2M546.0 466.7h1.2M497.7 480.2h1.2M527.9 457.2h1.2M532.9 462.0h1.2M523.2 461.7h1.2M522.3 466.8h1.2" stroke="#cc70dc" stroke-opacity="0.65" stroke-width="1.25" fill="none"/>
<path d="M527.6 498.7h1.2M545.3 472.4h1.2M546.2 480.6h1.2M545.6 494.0h1.2M526.2 477.4h1.2M528.4 486.9h1.2M524.9 493.1h1.2M512.0 502.7h1.2M520.3 482.4h1.2M520.5 487.7h1.2M536.3 480.3h1.2M525.1 475.3h1.2M531.7 481.0h1.2M528.1 476.6h1.2M542.9 477.4h1.2M517.1 486.5h1.2M513.0 480.6h1.2M527.7 492.0h1.2M524.6 495.8h1.2M540.4 482.2h1.2M517.4 487.7h1.2M544.9 475.9h1.2M520.7 498.8h1.2M505.5 485.4h1.2M522.6 480.4h1.2M539.1 458.9h1.2M528.9 489.2h1.2M533.1 482.3h1.2M531.9 478.1h1.2M540.7 477.7h1.2M517.6 472.1h1.2M524.4 492.8h1.2M546.7 471.1h1.2M521.4 490.6h1.2M523.5 489.9h1.2M534.5 486.8h1.2M521.9 490.0h1.2M533.5 482.4h1.2M537.2 478.7h1.2M526.3 491.2h1.2M540.7 479.4h1.2M505.2 499.0h1.2M530.2 469.5h1.2M525.6 484.7h1.2M543.8 489.6h1.2M519.5 497.3h1.2M529.6 493.8h1.2M547.4 474.8h1.2M530.4 480.8h1.2M525.5 487.5h1.2M518.8 499.3h1.2M536.1 487.4h1.2M521.6 478.4h1.2M542.6 473.5h1.2M514.9 491.0h1.2M533.6 474.8h1.2M538.2 461.8h1.2M533.6 469.5h1.2M502.7 484.7h1.2M511.7 499.8h1.2M519.3 484.6h1.2M518.2 502.8h1.2M522.3 486.9h1.2M537.9 486.7h1.2M525.5 490.1h1.2M524.3 487.8h1.2M517.3 485.1h1.2M522.4 478.8h1.2M529.6 488.9h1.2M527.1 485.7h1.2M519.7 485.3h1.2M550.2 486.0h1.2M520.0 481.3h1.2M532.0 478.7h1.2M540.8 475.0h1.2M518.4 486.3h1.2M525.3 478.9h1.2M534.2 486.1h1.2M529.1 481.6h1.2M525.6 494.0h1.2M511.3 496.3h1.2M536.3 479.6h1.2M523.7 486.9h1.2M517.9 489.6h1.2M536.0 479.4h1.2M545.8 469.4h1.2M531.9 480.7h1.2M527.0 499.8h1.2M536.2 490.1h1.2M532.6 476.4h1.2M532.5 481.0h1.2M521.1 481.5h1.2M528.2 490.9h1.2M530.6 482.5h1.2M520.7 481.4h1.2M536.9 486.7h1.2M526.1 480.9h1.2M523.8 476.2h1.2M526.6 492.9h1.2M525.5 501.3h1.2M531.3 483.3h1.2M513.7 489.6h1.2M525.0 470.1h1.2M523.6 489.8h1.2M546.5 475.4h1.2M538.5 481.9h1.2M522.8 485.0h1.2M540.2 474.9h1.2M532.4 490.1h1.2M537.6 473.2h1.2M539.1 496.0h1.2M527.3 486.6h1.2M519.7 501.5h1.2M523.1 469.8h1.2M536.6 469.2h1.2M533.6 488.2h1.2M503.4 499.9h1.2M529.1 467.8h1.2M528.9 475.2h1.2M520.1 485.0h1.2M534.2 488.9h1.2M532.0 481.9h1.2M525.0 491.0h1.2M540.8 469.9h1.2M514.0 487.5h1.2M533.4 477.2h1.2M528.8 488.7h1.2M517.9 482.2h1.2M518.0 487.5h1.2M539.1 492.2h1.2M522.5 477.8h1.2M530.8 479.5h1.2M535.6 484.4h1.2M537.0 478.3h1.2M532.6 478.2h1.2M526.3 481.5h1.2M529.4 458.7h1.2M547.5 474.6h1.2M518.4 485.3h1.2M546.2 477.5h1.2M545.3 480.1h1.2M517.8 493.3h1.2M539.3 484.8h1.2M521.8 495.6h1.2M535.3 473.7h1.2M530.8 473.5h1.2M538.3 479.6h1.2M531.6 493.3h1.2M526.5 474.8h1.2M538.3 474.5h1.2M528.6 495.9h1.2M537.7 493.9h1.2M522.4 488.2h1.2M531.1 487.6h1.2M528.4 483.1h1.2M536.8 484.8h1.2M529.0 469.7h1.2M515.8 490.2h1.2M523.7 496.1h1.2M524.9 475.4h1.2M528.1 487.1h1.2M538.2 481.8h1.2M527.7 493.2h1.2M526.4 493.8h1.2M510.4 475.6h1.2M525.7 487.0h1.2M529.7 466.6h1.2M536.4 481.0h1.2M531.5 487.7h1.2M527.2 474.6h1.2M526.7 496.4h1.2M525.0 488.4h1.2M514.1 493.1h1.2M530.5 474.2h1.2M518.7 488.2h1.2M524.9 475.9h1.2M539.9 473.5h1.2M513.1 502.7h1.2M518.8 480.9h1.2M514.1 484.5h1.2M525.5 476.5h1.2M506.5 495.1h1.2M533.5 485.7h1.2M543.4 474.2h1.2M518.5 499.3h1.2M534.4 490.4h1.2M536.1 494.2h1.2M522.9 480.1h1.2M530.7 484.9h1.2M537.6 469.7h1.2M507.5 492.3h1.2M522.4 474.3h1.2M514.9 486.2h1.2M512.5 480.9h1.2M531.3 490.3h1.2M516.1 482.2h1.2M544.7 473.3h1.2M535.9 493.2h1.2M540.7 484.0h1.2M523.4 484.7h1.2M541.2 490.3h1.2M530.8 495.2h1.2M524.0 483.0h1.2M532.5 485.9h1.2M527.9 484.4h1.2M541.5 471.1h1.2M527.3 479.2h1.2M515.4 493.3h1.2M521.8 481.1h1.2M525.0 482.3h1.2M533.0 479.0h1.2M532.0 487.0h1.2M549.8 481.4h1.2M533.4 476.0h1.2M538.2 480.1h1.2M536.5 489.0h1.2M518.8 491.0h1.2M527.9 487.5h1.2M525.9 502.4h1.2M517.2 482.3h1.2M514.6 496.0h1.2M530.0 477.4h1.2M518.3 498.2h1.2M529.7 493.8h1.2M522.4 484.9h1.2M525.8 481.6h1.2M515.5 500.7h1.2M522.4 488.8h1.2M527.5 485.8h1.2M529.3 482.4h1.2M522.6 494.1h1.2M517.9 485.9h1.2M518.0 491.6h1.2M542.7 482.0h1.2M517.5 495.4h1.2M535.7 478.3h1.2M529.6 474.6h1.2M531.8 484.8h1.2M542.5 477.1h1.2M510.5 499.4h1.2M540.3 481.2h1.2M535.9 482.0h1.2M526.7 463.4h1.2M532.5 474.0h1.2M529.3 489.3h1.2M537.3 476.5h1.2M510.7 487.9h1.2M513.2 492.0h1.2M518.1 477.6h1.2M538.2 471.2h1.2M510.3 495.7h1.2M513.2 480.5h1.2M528.7 482.8h1.2M533.9 491.2h1.2M534.0 481.1h1.2M526.5 487.7h1.2M535.5 483.8h1.2M525.7 484.0h1.2M534.9 475.4h1.2M511.7 487.3h1.2M544.6 483.5h1.2M517.5 489.6h1.2M532.3 469.9h1.2M526.5 488.5h1.2M530.2 466.2h1.2M514.4 487.7h1.2M524.1 497.3h1.2M531.8 481.2h1.2M532.9 476.0h1.2M540.7 469.2h1.2M535.5 487.3h1.2M530.6 493.4h1.2M518.3 481.1h1.2M538.1 469.9h1.2M526.5 494.1h1.2M528.6 496.8h1.2M515.7 477.3h1.2M536.9 489.7h1.2M530.7 469.5h1.2M536.4 478.7h1.2M511.8 492.9h1.2M541.8 473.8h1.2M539.2 478.5h1.2M521.0 475.3h1.2M526.9 497.3h1.2M539.3 480.0h1.2M539.0 490.2h1.2M520.4 478.1h1.2M523.9 496.9h1.2M531.7 478.2h1.2M538.1 491.8h1.2M530.2 493.8h1.2M527.3 473.2h1.2M535.5 474.6h1.2M531.8 477.1h1.2M524.6 479.5h1.2M530.6 469.9h1.2M537.4 483.1h1.2M531.3 474.2h1.2M533.3 476.3h1.2M536.8 490.5h1.2M535.6 481.6h1.2M529.1 493.8h1.2M529.7 477.2h1.2M514.1 498.5h1.2M532.8 484.5h1.2M504.4 497.2h1.2M543.2 473.6h1.2M524.1 486.1h1.2M533.1 473.8h1.2M516.7 485.4h1.2M531.5 484.4h1.2M537.6 495.1h1.2M523.3 490.3h1.2M520.6 486.0h1.2M526.4 497.4h1.2M518.6 478.9h1.2M525.3 470.6h1.2M542.5 469.0h1.2M522.1 488.8h1.2M543.2 474.7h1.2M537.2 470.3h1.2M525.0 469.9h1.2M503.6 497.1h1.2M538.5 478.4h1.2M528.2 478.5h1.2M521.0 483.4h1.2M530.9 472.4h1.2M519.0 479.8h1.2M524.3 477.6h1.2M534.4 481.9h1.2M516.0 498.3h1.2M527.1 478.7h1.2M523.0 485.1h1.2M532.0 490.2h1.2M534.3 478.1h1.2M541.9 475.2h1.2M521.1 478.7h1.2M534.3 481.4h1.2M533.5 473.4h1.2M525.7 476.8h1.2M538.4 477.7h1.2M546.3 470.9h1.2M524.3 490.7h1.2M528.0 478.6h1.2M513.1 495.2h1.2M513.1 496.9h1.2M549.8 480.4h1.2M545.0 473.0h1.2M532.8 482.5h1.2M537.1 490.0h1.2M532.7 486.2h1.2M504.8 491.9h1.2M532.8 488.1h1.2M529.6 490.0h1.2M533.6 495.6h1.2M513.3 497.6h1.2M523.9 476.7h1.2M519.6 491.2h1.2M539.5 482.2h1.2M517.0 485.7h1.2M533.4 471.3h1.2M525.8 474.7h1.2M529.1 485.8h1.2M524.4 486.1h1.2M523.5 473.5h1.2M512.9 503.2h1.2M526.2 482.1h1.2M545.3 490.0h1.2M523.3 486.5h1.2M525.7 480.5h1.2M543.7 466.1h1.2M542.7 492.2h1.2M524.4 479.6h1.2M540.5 471.6h1.2M531.2 459.5h1.2M523.8 499.0h1.2M530.5 464.5h1.2M530.4 486.8h1.2M523.2 477.9h1.2M537.9 466.4h1.2M531.2 492.7h1.2M528.9 487.0h1.2M532.3 475.2h1.2M526.7 476.6h1.2M527.7 484.2h1.2M520.9 484.9h1.2M535.5 481.4h1.2M534.9 477.2h1.2M540.9 480.3h1.2M543.8 481.4h1.2M527.8 491.6h1.2M528.6 478.0h1.2M534.6 489.8h1.2M542.9 487.3h1.2M519.6 484.6h1.2M521.5 495.0h1.2M537.4 472.4h1.2M542.2 468.8h1.2M542.5 494.0h1.2M544.3 493.0h1.2M519.3 486.1h1.2M519.9 484.6h1.2M535.7 492.1h1.2M524.0 489.1h1.2M525.8 475.8h1.2M528.4 487.0h1.2M515.2 494.7h1.2M516.4 482.4h1.2M528.3 478.5h1.2M508.9 488.7h1.2M524.5 485.2h1.2M520.3 489.3h1.2M527.6 494.2h1.2M522.3 483.5h1.2M533.3 480.2h1.2M515.6 484.7h1.2M518.9 489.2h1.2M527.3 483.6h1.2M530.3 496.9h1.2M525.1 490.1h1.2M519.7 493.2h1.2M531.3 485.2h1.2M517.7 489.9h1.2M530.9 494.3h1.2M525.0 492.9h1.2M530.5 475.5h1.2M531.3 483.7h1.2M511.2 489.3h1.2M525.7 486.8h1.2M532.5 473.6h1.2M533.7 481.9h1.2M519.8 488.5h1.2M521.0 480.8h1.2M518.2 486.4h1.2M518.0 490.9h1.2M514.0 488.4h1.2M523.6 470.9h1.2M531.3 481.6h1.2M530.2 476.2h1.2M531.5 490.8h1.2M515.4 469.9h1.2M518.9 476.3h1.2M518.1 485.4h1.2M503.5 489.9h1.2M512.3 489.1h1.2M545.4 479.2h1.2M540.7 462.2h1.2M528.4 475.4h1.2M522.3 482.6h1.2M528.2 486.5h1.2M505.0 488.7h1.2M530.6 486.9h1.2M522.5 490.5h1.2M520.7 465.5h1.2M533.6 493.4h1.2M532.9 487.2h1.2M536.1 487.4h1.2M527.3 489.0h1.2M518.5 482.0h1.2M515.8 494.2h1.2M514.0 481.5h1.2M529.1 490.0h1.2M525.4 492.0h1.2M547.4 481.3h1.2M527.1 485.5h1.2M515.6 493.6h1.2M541.9 473.4h1.2M524.3 484.8h1.2M521.1 478.0h1.2M526.6 474.5h1.2M514.3 498.7h1.2M530.8 478.9h1.2M528.0 469.9h1.2M517.7 480.6h1.2M518.2 478.8h1.2M532.6 477.7h1.2M529.9 490.7h1.2M531.2 475.5h1.2M534.4 481.4h1.2M528.1 480.3h1.2M511.6 481.1h1.2M530.9 484.9h1.2M522.6 480.3h1.2M532.2 489.6h1.2M523.0 486.4h1.2M537.2 485.5h1.2M519.9 478.7h1.2M537.0 480.7h1.2M541.1 486.6h1.2M528.1 488.6h1.2M526.4 488.4h1.2M524.0 476.3h1.2M521.0 488.5h1.2M522.6 483.2h1.2M530.7 477.2h1.2M519.3 502.0h1.2M519.3 491.9h1.2M534.5 489.2h1.2M515.8 485.2h1.2M526.8 478.2h1.2M527.1 488.1h1.2M533.0 478.7h1.2M535.2 482.3h1.2M521.6 491.9h1.2M542.5 494.7h1.2M535.1 481.0h1.2M524.0 501.1h1.2M522.2 476.7h1.2M510.4 483.8h1.2M517.5 494.6h1.2M530.0 474.1h1.2M547.4 479.5h1.2M525.6 485.3h1.2M518.1 485.5h1.2M522.0 494.2h1.2M534.2 488.5h1.2M535.3 471.3h1.2M533.3 465.4h1.2M517.2 487.7h1.2M531.1 478.4h1.2M516.5 490.8h1.2M530.8 490.8h1.2M522.2 487.4h1.2M539.4 478.9h1.2M529.9 495.6h1.2M509.4 485.8h1.2M506.0 502.4h1.2M514.1 487.9h1.2M533.9 486.8h1.2M535.7 470.3h1.2M531.7 475.5h1.2M534.8 485.8h1.2M522.9 484.9h1.2M534.7 491.9h1.2M522.7 485.8h1.2M520.6 495.9h1.2M536.8 484.3h1.2M517.6 490.1h1.2M533.5 481.4h1.2M517.5 496.9h1.2M530.6 485.5h1.2M538.9 485.2h1.2M535.5 473.6h1.2M515.9 486.9h1.2M531.8 492.1h1.2M538.4 480.3h1.2M512.7 485.8h1.2M536.2 480.8h1.2M538.5 494.0h1.2M533.9 483.2h1.2M524.0 486.7h1.2M521.4 484.6h1.2M531.1 485.9h1.2M520.8 497.7h1.2M539.4 483.7h1.2M526.6 482.2h1.2M532.9 477.4h1.2M519.8 480.4h1.2M534.6 482.8h1.2M523.2 467.4h1.2M527.6 488.4h1.2M534.0 476.7h1.2M524.0 491.3h1.2M532.5 493.8h1.2M529.4 463.7h1.2M528.0 471.9h1.2M530.6 478.6h1.2M543.1 496.3h1.2M541.4 473.4h1.2M544.2 494.4h1.2M547.1 477.4h1.2M524.3 485.4h1.2M526.2 490.7h1.2M516.9 495.5h1.2M525.8 488.1h1.2M526.6 486.7h1.2M534.0 468.4h1.2M519.5 486.6h1.2M539.4 480.3h1.2M538.9 476.5h1.2M525.8 476.3h1.2M539.7 482.4h1.2M530.5 476.9h1.2M520.4 491.2h1.2M532.0 483.5h1.2M535.7 485.7h1.2M536.2 486.3h1.2M506.6 477.0h1.2M536.6 471.2h1.2M517.7 489.6h1.2M522.6 486.3h1.2M505.2 493.6h1.2M532.2 498.4h1.2M533.4 478.4h1.2M537.0 487.6h1.2M523.0 491.4h1.2M532.1 487.3h1.2M539.0 482.2h1.2M519.6 465.2h1.2M520.8 492.0h1.2M529.9 481.3h1.2M518.4 483.3h1.2M532.4 484.5h1.2M537.3 471.7h1.2M528.7 481.7h1.2M525.5 486.6h1.2M529.7 483.4h1.2M543.9 472.0h1.2M531.6 484.8h1.2M519.3 482.4h1.2M510.3 493.4h1.2M531.1 473.3h1.2M531.8 482.0h1.2" stroke="#b838c8" stroke-opacity="0.65" stroke-width="1.25" fill="none"/></g>
<line x1="44" y1="55" x2="44" y2="318.5" stroke="#000" stroke-width="2.2"/>
<polygon points="44,35 38.7,56 49.3,56" fill="#000"/>
<line x1="43" y1="317.5" x2="623.5" y2="317.5" stroke="#000" stroke-width="2.2"/>
<polygon points="643,317.5 622.5,312.2 622.5,322.8" fill="#000"/>
<line x1="44" y1="408.7" x2="44" y2="678" stroke="#000" stroke-width="2.2"/>
<polygon points="44,388.7 38.7,409.7 49.3,409.7" fill="#000"/>
<line x1="43" y1="677" x2="623.5" y2="677" stroke="#000" stroke-width="2.2"/>
<polygon points="643,677 622.5,671.7 622.5,682.3" fill="#000"/>
<rect x="62.8" y="56.5" width="266.90" height="241.20" stroke="#858585" stroke-width="1.7" fill="none"/>
<rect x="345.3" y="56.1" width="277.50" height="242.50" stroke="#858585" stroke-width="1.7" fill="none"/>
<rect x="60.0" y="415.0" width="266.30" height="246.00" stroke="#858585" stroke-width="1.7" fill="none"/>
<rect x="347.2" y="414.6" width="275.80" height="246.70" stroke="#858585" stroke-width="1.7" fill="none"/>
<text x="117.3" y="44.0" font-size="25.5" fill="#111" text-anchor="start">ALDEFLUOR</text>
<text x="372.2" y="45" font-size="25" fill="#111" text-anchor="start">ALDEFLUOR+DEAB</text>
<text x="629.8" y="173.7" font-size="26" fill="#111" text-anchor="start">5NT</text>
<text x="32" y="217.8" font-size="25.2" fill="#111" text-anchor="start" transform="rotate(-90 32 217.8)">7AAD</text>
<text x="242.5" y="346.3" font-size="25" fill="#111" text-anchor="start">ALDEFLUOR/BAA</text>
<text x="163.8" y="406" font-size="25.6" fill="#111" text-anchor="start">DCV</text>
<text x="0" y="0" font-size="25" fill="#111" transform="translate(423 404.5) scale(1.11 1)">DCV+FTC</text>
<text x="32" y="611" font-size="25.5" fill="#111" text-anchor="start" transform="rotate(-90 32 611)">DCV Blue</text>
<text x="629.8" y="536" font-size="26" fill="#111" text-anchor="start">5NT</text>
<text x="271" y="704" font-size="25.4" fill="#111" text-anchor="start">DCV Red</text>
<line x1="91.6" y1="266.8" x2="91.6" y2="270.8" stroke="#4a4a4a" stroke-width="1.1"/>
<line x1="98.98" y1="266.8" x2="98.98" y2="270.8" stroke="#4a4a4a" stroke-width="1.1"/>
<line x1="104.71" y1="266.8" x2="104.71" y2="270.8" stroke="#4a4a4a" stroke-width="1.1"/>
<line x1="109.39" y1="266.8" x2="109.39" y2="270.8" stroke="#4a4a4a" stroke-width="1.1"/>
<line x1="113.35" y1="266.8" x2="113.35" y2="270.8" stroke="#4a4a4a" stroke-width="1.1"/>
<line x1="116.77" y1="266.8" x2="116.77" y2="270.8" stroke="#4a4a4a" stroke-width="1.1"/>
<line x1="119.8" y1="266.8" x2="119.8" y2="270.8" stroke="#4a4a4a" stroke-width="1.1"/>
<line x1="122.5" y1="266.8" x2="122.5" y2="273.8" stroke="#4a4a4a" stroke-width="1.1"/>
<line x1="140.29" y1="266.8" x2="140.29" y2="270.8" stroke="#4a4a4a" stroke-width="1.1"/>
<line x1="150.7" y1="266.8" x2="150.7" y2="270.8" stroke="#4a4a4a" stroke-width="1.1"/>
<line x1="158.08" y1="266.8" x2="158.08" y2="270.8" stroke="#4a4a4a" stroke-width="1.1"/>
<line x1="163.81" y1="266.8" x2="163.81" y2="270.8" stroke="#4a4a4a" stroke-width="1.1"/>
<line x1="168.49" y1="266.8" x2="168.49" y2="270.8" stroke="#4a4a4a" stroke-width="1.1"/>
<line x1="172.45" y1="266.8" x2="172.45" y2="270.8" stroke="#4a4a4a" stroke-width="1.1"/>
<line x1="175.87" y1="266.8" x2="175.87" y2="270.8" stroke="#4a4a4a" stroke-width="1.1"/>
<line x1="178.9" y1="266.8" x2="178.9" y2="270.8" stroke="#4a4a4a" stroke-width="1.1"/>
<line x1="181.6" y1="266.8" x2="181.6" y2="273.8" stroke="#4a4a4a" stroke-width="1.1"/>
<line x1="199.39" y1="266.8" x2="199.39" y2="270.8" stroke="#4a4a4a" stroke-width="1.1"/>
<line x1="209.8" y1="266.8" x2="209.8" y2="270.8" stroke="#4a4a4a" stroke-width="1.1"/>
<line x1="217.18" y1="266.8" x2="217.18" y2="270.8" stroke="#4a4a4a" stroke-width="1.1"/>
<line x1="222.91" y1="266.8" x2="222.91" y2="270.8" stroke="#4a4a4a" stroke-width="1.1"/>
<line x1="227.59" y1="266.8" x2="227.59" y2="270.8" stroke="#4a4a4a" stroke-width="1.1"/>
<line x1="231.55" y1="266.8" x2="231.55" y2="270.8" stroke="#4a4a4a" stroke-width="1.1"/>
<line x1="234.97" y1="266.8" x2="234.97" y2="270.8" stroke="#4a4a4a" stroke-width="1.1"/>
<line x1="238.0" y1="266.8" x2="238.0" y2="270.8" stroke="#4a4a4a" stroke-width="1.1"/>
<line x1="240.7" y1="266.8" x2="240.7" y2="273.8" stroke="#4a4a4a" stroke-width="1.1"/>
<line x1="258.49" y1="266.8" x2="258.49" y2="270.8" stroke="#4a4a4a" stroke-width="1.1"/>
<line x1="268.9" y1="266.8" x2="268.9" y2="270.8" stroke="#4a4a4a" stroke-width="1.1"/>
<line x1="276.28" y1="266.8" x2="276.28" y2="270.8" stroke="#4a4a4a" stroke-width="1.1"/>
<line x1="282.01" y1="266.8" x2="282.01" y2="270.8" stroke="#4a4a4a" stroke-width="1.1"/>
<line x1="286.69" y1="266.8" x2="286.69" y2="270.8" stroke="#4a4a4a" stroke-width="1.1"/>
<line x1="290.65" y1="266.8" x2="290.65" y2="270.8" stroke="#4a4a4a" stroke-width="1.1"/>
<line x1="294.07" y1="266.8" x2="294.07" y2="270.8" stroke="#4a4a4a" stroke-width="1.1"/>
<line x1="297.1" y1="266.8" x2="297.1" y2="270.8" stroke="#4a4a4a" stroke-width="1.1"/>
<line x1="299.8" y1="266.8" x2="299.8" y2="273.8" stroke="#4a4a4a" stroke-width="1.1"/>
<line x1="317.59" y1="266.8" x2="317.59" y2="270.8" stroke="#4a4a4a" stroke-width="1.1"/>
<text x="0" y="0" font-size="10.5" fill="#333" text-anchor="middle" transform="translate(120.90 283.30) scale(0.75 1)">10</text>
<text x="0" y="0" font-size="8" fill="#333" text-anchor="middle" transform="translate(126.80 277.40) scale(0.78 1)">2</text>
<text x="0" y="0" font-size="10.5" fill="#333" text-anchor="middle" transform="translate(180.00 283.30) scale(0.75 1)">10</text>
<text x="0" y="0" font-size="8" fill="#333" text-anchor="middle" transform="translate(185.90 277.40) scale(0.78 1)">3</text>
<text x="0" y="0" font-size="10.5" fill="#333" text-anchor="middle" transform="translate(239.10 283.30) scale(0.75 1)">10</text>
<text x="0" y="0" font-size="8" fill="#333" text-anchor="middle" transform="translate(245.00 277.40) scale(0.78 1)">4</text>
<text x="0" y="0" font-size="10.5" fill="#333" text-anchor="middle" transform="translate(298.20 283.30) scale(0.75 1)">10</text>
<text x="0" y="0" font-size="8" fill="#333" text-anchor="middle" transform="translate(304.10 277.40) scale(0.78 1)">5</text>
<line x1="88.7" y1="264.07" x2="85.9" y2="264.07" stroke="#4a4a4a" stroke-width="1.1"/>
<line x1="88.7" y1="257.96" x2="85.9" y2="257.96" stroke="#4a4a4a" stroke-width="1.1"/>
<line x1="88.7" y1="253.22" x2="85.9" y2="253.22" stroke="#4a4a4a" stroke-width="1.1"/>
<line x1="88.7" y1="249.35" x2="85.9" y2="249.35" stroke="#4a4a4a" stroke-width="1.1"/>
<line x1="88.7" y1="246.07" x2="85.9" y2="246.07" stroke="#4a4a4a" stroke-width="1.1"/>
<line x1="88.7" y1="243.24" x2="85.9" y2="243.24" stroke="#4a4a4a" stroke-width="1.1"/>
<line x1="88.7" y1="240.74" x2="85.9" y2="240.74" stroke="#4a4a4a" stroke-width="1.1"/>
<line x1="88.7" y1="238.5" x2="83.2" y2="238.5" stroke="#4a4a4a" stroke-width="1.1"/>
<line x1="88.7" y1="223.78" x2="85.9" y2="223.78" stroke="#4a4a4a" stroke-width="1.1"/>
<line x1="88.7" y1="215.17" x2="85.9" y2="215.17" stroke="#4a4a4a" stroke-width="1.1"/>
<line x1="88.7" y1="209.06" x2="85.9" y2="209.06" stroke="#4a4a4a" stroke-width="1.1"/>
<line x1="88.7" y1="204.32" x2="85.9" y2="204.32" stroke="#4a4a4a" stroke-width="1.1"/>
<line x1="88.7" y1="200.45" x2="85.9" y2="200.45" stroke="#4a4a4a" stroke-width="1.1"/>
<line x1="88.7" y1="197.17" x2="85.9" y2="197.17" stroke="#4a4a4a" stroke-width="1.1"/>
<line x1="88.7" y1="194.34" x2="85.9" y2="194.34" stroke="#4a4a4a" stroke-width="1.1"/>
<line x1="88.7" y1="191.84" x2="85.9" y2="191.84" stroke="#4a4a4a" stroke-width="1.1"/>
<line x1="88.7" y1="189.6" x2="83.2" y2="189.6" stroke="#4a4a4a" stroke-width="1.1"/>
<line x1="88.7" y1="174.88" x2="85.9" y2="174.88" stroke="#4a4a4a" stroke-width="1.1"/>
<line x1="88.7" y1="166.27" x2="85.9" y2="166.27" stroke="#4a4a4a" stroke-width="1.1"/>
<line x1="88.7" y1="160.16" x2="85.9" y2="160.16" stroke="#4a4a4a" stroke-width="1.1"/>
<line x1="88.7" y1="155.42" x2="85.9" y2="155.42" stroke="#4a4a4a" stroke-width="1.1"/>
<line x1="88.7" y1="151.55" x2="85.9" y2="151.55" stroke="#4a4a4a" stroke-width="1.1"/>
<line x1="88.7" y1="148.27" x2="85.9" y2="148.27" stroke="#4a4a4a" stroke-width="1.1"/>
<line x1="88.7" y1="145.44" x2="85.9" y2="145.44" stroke="#4a4a4a" stroke-width="1.1"/>
<line x1="88.7" y1="142.94" x2="85.9" y2="142.94" stroke="#4a4a4a" stroke-width="1.1"/>
<line x1="88.7" y1="140.7" x2="83.2" y2="140.7" stroke="#4a4a4a" stroke-width="1.1"/>
<line x1="88.7" y1="125.98" x2="85.9" y2="125.98" stroke="#4a4a4a" stroke-width="1.1"/>
<line x1="88.7" y1="117.37" x2="85.9" y2="117.37" stroke="#4a4a4a" stroke-width="1.1"/>
<line x1="88.7" y1="111.26" x2="85.9" y2="111.26" stroke="#4a4a4a" stroke-width="1.1"/>
<line x1="88.7" y1="106.52" x2="85.9" y2="106.52" stroke="#4a4a4a" stroke-width="1.1"/>
<line x1="88.7" y1="102.65" x2="85.9" y2="102.65" stroke="#4a4a4a" stroke-width="1.1"/>
<line x1="88.7" y1="99.37" x2="85.9" y2="99.37" stroke="#4a4a4a" stroke-width="1.1"/>
<line x1="88.7" y1="96.54" x2="85.9" y2="96.54" stroke="#4a4a4a" stroke-width="1.1"/>
<line x1="88.7" y1="94.04" x2="85.9" y2="94.04" stroke="#4a4a4a" stroke-width="1.1"/>
<line x1="88.7" y1="91.8" x2="83.2" y2="91.8" stroke="#4a4a4a" stroke-width="1.1"/>
<line x1="88.7" y1="77.08" x2="85.9" y2="77.08" stroke="#4a4a4a" stroke-width="1.1"/>
<text x="0" y="0" font-size="8.5" fill="#333" text-anchor="middle" transform="translate(82.90 239.70) rotate(-90) scale(0.87 1)">10</text>
<text x="0" y="0" font-size="7" fill="#333" text-anchor="middle" transform="translate(79.00 231.60) rotate(-90) scale(0.85 1)">2</text>
<text x="0" y="0" font-size="8.5" fill="#333" text-anchor="middle" transform="translate(82.90 190.80) rotate(-90) scale(0.87 1)">10</text>
<text x="0" y="0" font-size="7" fill="#333" text-anchor="middle" transform="translate(79.00 182.70) rotate(-90) scale(0.85 1)">3</text>
<text x="0" y="0" font-size="8.5" fill="#333" text-anchor="middle" transform="translate(82.90 141.90) rotate(-90) scale(0.87 1)">10</text>
<text x="0" y="0" font-size="7" fill="#333" text-anchor="middle" transform="translate(79.00 133.80) rotate(-90) scale(0.85 1)">4</text>
<text x="0" y="0" font-size="8.5" fill="#333" text-anchor="middle" transform="translate(82.90 93.00) rotate(-90) scale(0.87 1)">10</text>
<text x="0" y="0" font-size="7" fill="#333" text-anchor="middle" transform="translate(79.00 84.90) rotate(-90) scale(0.85 1)">5</text>
<path d="M88.7,266.8 V70.8 H325.4 V266.8 Z" fill="none" stroke="#5e5e5e" stroke-width="1.4"/>
<path d="M88.7,208.8 V266.8" fill="none" stroke="#8a50a0" stroke-width="1.4"/>
<path d="M262,266.8 H325.4" fill="none" stroke="#4a4a4a" stroke-width="1.5"/>
<path d="M88.7,266.8 H262" fill="none" stroke="#7a3890" stroke-width="1.5"/>
<line x1="375.55" y1="267.0" x2="375.55" y2="271.0" stroke="#4a4a4a" stroke-width="1.1"/>
<line x1="383.21" y1="267.0" x2="383.21" y2="271.0" stroke="#4a4a4a" stroke-width="1.1"/>
<line x1="389.15" y1="267.0" x2="389.15" y2="271.0" stroke="#4a4a4a" stroke-width="1.1"/>
<line x1="394.0" y1="267.0" x2="394.0" y2="271.0" stroke="#4a4a4a" stroke-width="1.1"/>
<line x1="398.1" y1="267.0" x2="398.1" y2="271.0" stroke="#4a4a4a" stroke-width="1.1"/>
<line x1="401.66" y1="267.0" x2="401.66" y2="271.0" stroke="#4a4a4a" stroke-width="1.1"/>
<line x1="404.8" y1="267.0" x2="404.8" y2="271.0" stroke="#4a4a4a" stroke-width="1.1"/>
<line x1="407.6" y1="267.0" x2="407.6" y2="274.0" stroke="#4a4a4a" stroke-width="1.1"/>
<line x1="426.05" y1="267.0" x2="426.05" y2="271.0" stroke="#4a4a4a" stroke-width="1.1"/>
<line x1="436.85" y1="267.0" x2="436.85" y2="271.0" stroke="#4a4a4a" stroke-width="1.1"/>
<line x1="444.51" y1="267.0" x2="444.51" y2="271.0" stroke="#4a4a4a" stroke-width="1.1"/>
<line x1="450.45" y1="267.0" x2="450.45" y2="271.0" stroke="#4a4a4a" stroke-width="1.1"/>
<line x1="455.3" y1="267.0" x2="455.3" y2="271.0" stroke="#4a4a4a" stroke-width="1.1"/>
<line x1="459.4" y1="267.0" x2="459.4" y2="271.0" stroke="#4a4a4a" stroke-width="1.1"/>
<line x1="462.96" y1="267.0" x2="462.96" y2="271.0" stroke="#4a4a4a" stroke-width="1.1"/>
<line x1="466.1" y1="267.0" x2="466.1" y2="271.0" stroke="#4a4a4a" stroke-width="1.1"/>
<line x1="468.9" y1="267.0" x2="468.9" y2="274.0" stroke="#4a4a4a" stroke-width="1.1"/>
<line x1="487.35" y1="267.0" x2="487.35" y2="271.0" stroke="#4a4a4a" stroke-width="1.1"/>
<line x1="498.15" y1="267.0" x2="498.15" y2="271.0" stroke="#4a4a4a" stroke-width="1.1"/>
<line x1="505.81" y1="267.0" x2="505.81" y2="271.0" stroke="#4a4a4a" stroke-width="1.1"/>
<line x1="511.75" y1="267.0" x2="511.75" y2="271.0" stroke="#4a4a4a" stroke-width="1.1"/>
<line x1="516.6" y1="267.0" x2="516.6" y2="271.0" stroke="#4a4a4a" stroke-width="1.1"/>
<line x1="520.7" y1="267.0" x2="520.7" y2="271.0" stroke="#4a4a4a" stroke-width="1.1"/>
<line x1="524.26" y1="267.0" x2="524.26" y2="271.0" stroke="#4a4a4a" stroke-width="1.1"/>
<line x1="527.4" y1="267.0" x2="527.4" y2="271.0" stroke="#4a4a4a" stroke-width="1.1"/>
<line x1="530.2" y1="267.0" x2="530.2" y2="274.0" stroke="#4a4a4a" stroke-width="1.1"/>
<line x1="548.65" y1="267.0" x2="548.65" y2="271.0" stroke="#4a4a4a" stroke-width="1.1"/>
<line x1="559.45" y1="267.0" x2="559.45" y2="271.0" stroke="#4a4a4a" stroke-width="1.1"/>
<line x1="567.11" y1="267.0" x2="567.11" y2="271.0" stroke="#4a4a4a" stroke-width="1.1"/>
<line x1="573.05" y1="267.0" x2="573.05" y2="271.0" stroke="#4a4a4a" stroke-width="1.1"/>
<line x1="577.9" y1="267.0" x2="577.9" y2="271.0" stroke="#4a4a4a" stroke-width="1.1"/>
<line x1="582.0" y1="267.0" x2="582.0" y2="271.0" stroke="#4a4a4a" stroke-width="1.1"/>
<line x1="585.56" y1="267.0" x2="585.56" y2="271.0" stroke="#4a4a4a" stroke-width="1.1"/>
<line x1="588.7" y1="267.0" x2="588.7" y2="271.0" stroke="#4a4a4a" stroke-width="1.1"/>
<line x1="591.5" y1="267.0" x2="591.5" y2="274.0" stroke="#4a4a4a" stroke-width="1.1"/>
<line x1="609.95" y1="267.0" x2="609.95" y2="271.0" stroke="#4a4a4a" stroke-width="1.1"/>
<text x="0" y="0" font-size="10.5" fill="#333" text-anchor="middle" transform="translate(406.00 283.50) scale(0.75 1)">10</text>
<text x="0" y="0" font-size="8" fill="#333" text-anchor="middle" transform="translate(411.90 277.60) scale(0.78 1)">2</text>
<text x="0" y="0" font-size="10.5" fill="#333" text-anchor="middle" transform="translate(467.30 283.50) scale(0.75 1)">10</text>
<text x="0" y="0" font-size="8" fill="#333" text-anchor="middle" transform="translate(473.20 277.60) scale(0.78 1)">3</text>
<text x="0" y="0" font-size="10.5" fill="#333" text-anchor="middle" transform="translate(528.60 283.50) scale(0.75 1)">10</text>
<text x="0" y="0" font-size="8" fill="#333" text-anchor="middle" transform="translate(534.50 277.60) scale(0.78 1)">4</text>
<text x="0" y="0" font-size="10.5" fill="#333" text-anchor="middle" transform="translate(589.90 283.50) scale(0.75 1)">10</text>
<text x="0" y="0" font-size="8" fill="#333" text-anchor="middle" transform="translate(595.80 277.60) scale(0.78 1)">5</text>
<line x1="372.4" y1="263.87" x2="369.59999999999997" y2="263.87" stroke="#4a4a4a" stroke-width="1.1"/>
<line x1="372.4" y1="257.76" x2="369.59999999999997" y2="257.76" stroke="#4a4a4a" stroke-width="1.1"/>
<line x1="372.4" y1="253.02" x2="369.59999999999997" y2="253.02" stroke="#4a4a4a" stroke-width="1.1"/>
<line x1="372.4" y1="249.15" x2="369.59999999999997" y2="249.15" stroke="#4a4a4a" stroke-width="1.1"/>
<line x1="372.4" y1="245.87" x2="369.59999999999997" y2="245.87" stroke="#4a4a4a" stroke-width="1.1"/>
<line x1="372.4" y1="243.04" x2="369.59999999999997" y2="243.04" stroke="#4a4a4a" stroke-width="1.1"/>
<line x1="372.4" y1="240.54" x2="369.59999999999997" y2="240.54" stroke="#4a4a4a" stroke-width="1.1"/>
<line x1="372.4" y1="238.3" x2="366.9" y2="238.3" stroke="#4a4a4a" stroke-width="1.1"/>
<line x1="372.4" y1="223.58" x2="369.59999999999997" y2="223.58" stroke="#4a4a4a" stroke-width="1.1"/>
<line x1="372.4" y1="214.97" x2="369.59999999999997" y2="214.97" stroke="#4a4a4a" stroke-width="1.1"/>
<line x1="372.4" y1="208.86" x2="369.59999999999997" y2="208.86" stroke="#4a4a4a" stroke-width="1.1"/>
<line x1="372.4" y1="204.12" x2="369.59999999999997" y2="204.12" stroke="#4a4a4a" stroke-width="1.1"/>
<line x1="372.4" y1="200.25" x2="369.59999999999997" y2="200.25" stroke="#4a4a4a" stroke-width="1.1"/>
<line x1="372.4" y1="196.97" x2="369.59999999999997" y2="196.97" stroke="#4a4a4a" stroke-width="1.1"/>
<line x1="372.4" y1="194.14" x2="369.59999999999997" y2="194.14" stroke="#4a4a4a" stroke-width="1.1"/>
<line x1="372.4" y1="191.64" x2="369.59999999999997" y2="191.64" stroke="#4a4a4a" stroke-width="1.1"/>
<line x1="372.4" y1="189.4" x2="366.9" y2="189.4" stroke="#4a4a4a" stroke-width="1.1"/>
<line x1="372.4" y1="174.68" x2="369.59999999999997" y2="174.68" stroke="#4a4a4a" stroke-width="1.1"/>
<line x1="372.4" y1="166.07" x2="369.59999999999997" y2="166.07" stroke="#4a4a4a" stroke-width="1.1"/>
<line x1="372.4" y1="159.96" x2="369.59999999999997" y2="159.96" stroke="#4a4a4a" stroke-width="1.1"/>
<line x1="372.4" y1="155.22" x2="369.59999999999997" y2="155.22" stroke="#4a4a4a" stroke-width="1.1"/>
<line x1="372.4" y1="151.35" x2="369.59999999999997" y2="151.35" stroke="#4a4a4a" stroke-width="1.1"/>
<line x1="372.4" y1="148.07" x2="369.59999999999997" y2="148.07" stroke="#4a4a4a" stroke-width="1.1"/>
<line x1="372.4" y1="145.24" x2="369.59999999999997" y2="145.24" stroke="#4a4a4a" stroke-width="1.1"/>
<line x1="372.4" y1="142.74" x2="369.59999999999997" y2="142.74" stroke="#4a4a4a" stroke-width="1.1"/>
<line x1="372.4" y1="140.5" x2="366.9" y2="140.5" stroke="#4a4a4a" stroke-width="1.1"/>
<line x1="372.4" y1="125.78" x2="369.59999999999997" y2="125.78" stroke="#4a4a4a" stroke-width="1.1"/>
<line x1="372.4" y1="117.17" x2="369.59999999999997" y2="117.17" stroke="#4a4a4a" stroke-width="1.1"/>
<line x1="372.4" y1="111.06" x2="369.59999999999997" y2="111.06" stroke="#4a4a4a" stroke-width="1.1"/>
<line x1="372.4" y1="106.32" x2="369.59999999999997" y2="106.32" stroke="#4a4a4a" stroke-width="1.1"/>
<line x1="372.4" y1="102.45" x2="369.59999999999997" y2="102.45" stroke="#4a4a4a" stroke-width="1.1"/>
<line x1="372.4" y1="99.17" x2="369.59999999999997" y2="99.17" stroke="#4a4a4a" stroke-width="1.1"/>
<line x1="372.4" y1="96.34" x2="369.59999999999997" y2="96.34" stroke="#4a4a4a" stroke-width="1.1"/>
<line x1="372.4" y1="93.84" x2="369.59999999999997" y2="93.84" stroke="#4a4a4a" stroke-width="1.1"/>
<line x1="372.4" y1="91.6" x2="366.9" y2="91.6" stroke="#4a4a4a" stroke-width="1.1"/>
<line x1="372.4" y1="76.88" x2="369.59999999999997" y2="76.88" stroke="#4a4a4a" stroke-width="1.1"/>
<text x="0" y="0" font-size="8.5" fill="#333" text-anchor="middle" transform="translate(366.60 239.50) rotate(-90) scale(0.87 1)">10</text>
<text x="0" y="0" font-size="7" fill="#333" text-anchor="middle" transform="translate(362.70 231.40) rotate(-90) scale(0.85 1)">2</text>
<text x="0" y="0" font-size="8.5" fill="#333" text-anchor="middle" transform="translate(366.60 190.60) rotate(-90) scale(0.87 1)">10</text>
<text x="0" y="0" font-size="7" fill="#333" text-anchor="middle" transform="translate(362.70 182.50) rotate(-90) scale(0.85 1)">3</text>
<text x="0" y="0" font-size="8.5" fill="#333" text-anchor="middle" transform="translate(366.60 141.70) rotate(-90) scale(0.87 1)">10</text>
<text x="0" y="0" font-size="7" fill="#333" text-anchor="middle" transform="translate(362.70 133.60) rotate(-90) scale(0.85 1)">4</text>
<text x="0" y="0" font-size="8.5" fill="#333" text-anchor="middle" transform="translate(366.60 92.80) rotate(-90) scale(0.87 1)">10</text>
<text x="0" y="0" font-size="7" fill="#333" text-anchor="middle" transform="translate(362.70 84.70) rotate(-90) scale(0.85 1)">5</text>
<path d="M372.4,267.0 V70.4 H618.8 V267.0 Z" fill="none" stroke="#5e5e5e" stroke-width="1.4"/>
<path d="M372.4,208.4 V267.0" fill="none" stroke="#8a50a0" stroke-width="1.4"/>
<path d="M494,267.0 H618.8" fill="none" stroke="#4a4a4a" stroke-width="1.5"/>
<path d="M372.4,267.0 H494" fill="none" stroke="#7a3890" stroke-width="1.5"/>
<text x="93.0" y="91.8" font-size="24" fill="#111" text-anchor="start">A</text>
<text x="376.0" y="93.6" font-size="24" fill="#111" text-anchor="start">B</text>
<path d="M233.5 153 V135 H231.7 C231 137 229 138.6 226.8 139.4 V141.7 C228.5 141.1 230.1 140.1 231.3 139 V153 Z" fill="#111"/>
<text x="238.0" y="153.5" font-size="25" fill="#111" text-anchor="start">%</text>
<rect x="145.8" y="189.6" width="33.20" height="64.20" stroke="#585858" stroke-width="1.3" fill="none"/>
<rect x="210.6" y="186.9" width="61.80" height="68.40" stroke="#585858" stroke-width="1.3" fill="none"/>
<rect x="431.7" y="189.7" width="34.50" height="64.10" stroke="#585858" stroke-width="1.3" fill="none"/>
<rect x="499.6" y="186.7" width="63.90" height="69.50" stroke="#585858" stroke-width="1.3" fill="none"/>
<text x="0" y="0" font-size="9.6" fill="#1a1a1a" text-anchor="middle" transform="translate(161.8 177.4) scale(0.8 1)">ALDH Low</text>
<text x="0" y="0" font-size="9.6" fill="#1a1a1a" text-anchor="middle" transform="translate(247.2 177.4) scale(0.8 1)">ALDH Hi</text>
<text x="0" y="0" font-size="9.6" fill="#1a1a1a" text-anchor="middle" transform="translate(449 177.4) scale(0.8 1)">ALDH Low</text>
<text x="0" y="0" font-size="9.6" fill="#1a1a1a" text-anchor="middle" transform="translate(537.5 177.4) scale(0.8 1)">ALDH Hi</text>
<line x1="92.52" y1="635.2" x2="92.52" y2="638.8000000000001" stroke="#4a4a4a" stroke-width="1.1"/>
<line x1="101.64" y1="635.2" x2="101.64" y2="638.8000000000001" stroke="#4a4a4a" stroke-width="1.1"/>
<line x1="110.76" y1="635.2" x2="110.76" y2="638.8000000000001" stroke="#4a4a4a" stroke-width="1.1"/>
<line x1="119.88" y1="635.2" x2="119.88" y2="638.8000000000001" stroke="#4a4a4a" stroke-width="1.1"/>
<line x1="129.0" y1="635.2" x2="129.0" y2="640.8000000000001" stroke="#4a4a4a" stroke-width="1.1"/>
<text x="0" y="0" font-size="8" fill="#333" text-anchor="middle" transform="translate(129.00 649.00) scale(0.82 1)">50</text>
<line x1="138.12" y1="635.2" x2="138.12" y2="638.8000000000001" stroke="#4a4a4a" stroke-width="1.1"/>
<line x1="147.24" y1="635.2" x2="147.24" y2="638.8000000000001" stroke="#4a4a4a" stroke-width="1.1"/>
<line x1="156.36" y1="635.2" x2="156.36" y2="638.8000000000001" stroke="#4a4a4a" stroke-width="1.1"/>
<line x1="165.48" y1="635.2" x2="165.48" y2="638.8000000000001" stroke="#4a4a4a" stroke-width="1.1"/>
<line x1="174.6" y1="635.2" x2="174.6" y2="640.8000000000001" stroke="#4a4a4a" stroke-width="1.1"/>
<text x="0" y="0" font-size="8" fill="#333" text-anchor="middle" transform="translate(174.60 649.00) scale(0.82 1)">100</text>
<line x1="183.72" y1="635.2" x2="183.72" y2="638.8000000000001" stroke="#4a4a4a" stroke-width="1.1"/>
<line x1="192.84" y1="635.2" x2="192.84" y2="638.8000000000001" stroke="#4a4a4a" stroke-width="1.1"/>
<line x1="201.96" y1="635.2" x2="201.96" y2="638.8000000000001" stroke="#4a4a4a" stroke-width="1.1"/>
<line x1="211.08" y1="635.2" x2="211.08" y2="638.8000000000001" stroke="#4a4a4a" stroke-width="1.1"/>
<line x1="220.2" y1="635.2" x2="220.2" y2="640.8000000000001" stroke="#4a4a4a" stroke-width="1.1"/>
<text x="0" y="0" font-size="8" fill="#333" text-anchor="middle" transform="translate(220.20 649.00) scale(0.82 1)">150</text>
<line x1="229.32" y1="635.2" x2="229.32" y2="638.8000000000001" stroke="#4a4a4a" stroke-width="1.1"/>
<line x1="238.44" y1="635.2" x2="238.44" y2="638.8000000000001" stroke="#4a4a4a" stroke-width="1.1"/>
<line x1="247.56" y1="635.2" x2="247.56" y2="638.8000000000001" stroke="#4a4a4a" stroke-width="1.1"/>
<line x1="256.68" y1="635.2" x2="256.68" y2="638.8000000000001" stroke="#4a4a4a" stroke-width="1.1"/>
<line x1="265.8" y1="635.2" x2="265.8" y2="640.8000000000001" stroke="#4a4a4a" stroke-width="1.1"/>
<text x="0" y="0" font-size="8" fill="#333" text-anchor="middle" transform="translate(265.80 649.00) scale(0.82 1)">200</text>
<line x1="274.92" y1="635.2" x2="274.92" y2="638.8000000000001" stroke="#4a4a4a" stroke-width="1.1"/>
<line x1="284.04" y1="635.2" x2="284.04" y2="638.8000000000001" stroke="#4a4a4a" stroke-width="1.1"/>
<line x1="293.16" y1="635.2" x2="293.16" y2="638.8000000000001" stroke="#4a4a4a" stroke-width="1.1"/>
<line x1="302.28" y1="635.2" x2="302.28" y2="638.8000000000001" stroke="#4a4a4a" stroke-width="1.1"/>
<line x1="311.4" y1="635.2" x2="311.4" y2="640.8000000000001" stroke="#4a4a4a" stroke-width="1.1"/>
<text x="0" y="0" font-size="8" fill="#333" text-anchor="middle" transform="translate(311.40 649.00) scale(0.82 1)">250</text>
<line x1="320.52" y1="635.2" x2="320.52" y2="638.8000000000001" stroke="#4a4a4a" stroke-width="1.1"/>
<line x1="83.9" y1="627.05" x2="81.30000000000001" y2="627.05" stroke="#4a4a4a" stroke-width="1.1"/>
<line x1="83.9" y1="619.1" x2="81.30000000000001" y2="619.1" stroke="#4a4a4a" stroke-width="1.1"/>
<line x1="83.9" y1="611.15" x2="81.30000000000001" y2="611.15" stroke="#4a4a4a" stroke-width="1.1"/>
<line x1="83.9" y1="603.2" x2="81.30000000000001" y2="603.2" stroke="#4a4a4a" stroke-width="1.1"/>
<line x1="83.9" y1="595.25" x2="79.4" y2="595.25" stroke="#4a4a4a" stroke-width="1.1"/>
<text x="0" y="0" font-size="7.6" fill="#333" text-anchor="middle" transform="translate(78.70 595.25) rotate(-90) scale(0.93 1)">50</text>
<line x1="83.9" y1="587.3" x2="81.30000000000001" y2="587.3" stroke="#4a4a4a" stroke-width="1.1"/>
<line x1="83.9" y1="579.35" x2="81.30000000000001" y2="579.35" stroke="#4a4a4a" stroke-width="1.1"/>
<line x1="83.9" y1="571.4" x2="81.30000000000001" y2="571.4" stroke="#4a4a4a" stroke-width="1.1"/>
<line x1="83.9" y1="563.45" x2="81.30000000000001" y2="563.45" stroke="#4a4a4a" stroke-width="1.1"/>
<line x1="83.9" y1="555.5" x2="79.4" y2="555.5" stroke="#4a4a4a" stroke-width="1.1"/>
<text x="0" y="0" font-size="7.6" fill="#333" text-anchor="middle" transform="translate(78.70 555.50) rotate(-90) scale(0.93 1)">100</text>
<line x1="83.9" y1="547.55" x2="81.30000000000001" y2="547.55" stroke="#4a4a4a" stroke-width="1.1"/>
<line x1="83.9" y1="539.6" x2="81.30000000000001" y2="539.6" stroke="#4a4a4a" stroke-width="1.1"/>
<line x1="83.9" y1="531.65" x2="81.30000000000001" y2="531.65" stroke="#4a4a4a" stroke-width="1.1"/>
<line x1="83.9" y1="523.7" x2="81.30000000000001" y2="523.7" stroke="#4a4a4a" stroke-width="1.1"/>
<line x1="83.9" y1="515.75" x2="79.4" y2="515.75" stroke="#4a4a4a" stroke-width="1.1"/>
<text x="0" y="0" font-size="7.6" fill="#333" text-anchor="middle" transform="translate(78.70 515.75) rotate(-90) scale(0.93 1)">150</text>
<line x1="83.9" y1="507.8" x2="81.30000000000001" y2="507.8" stroke="#4a4a4a" stroke-width="1.1"/>
<line x1="83.9" y1="499.85" x2="81.30000000000001" y2="499.85" stroke="#4a4a4a" stroke-width="1.1"/>
<line x1="83.9" y1="491.9" x2="81.30000000000001" y2="491.9" stroke="#4a4a4a" stroke-width="1.1"/>
<line x1="83.9" y1="483.95" x2="81.30000000000001" y2="483.95" stroke="#4a4a4a" stroke-width="1.1"/>
<line x1="83.9" y1="476.0" x2="79.4" y2="476.0" stroke="#4a4a4a" stroke-width="1.1"/>
<text x="0" y="0" font-size="7.6" fill="#333" text-anchor="middle" transform="translate(78.70 476.00) rotate(-90) scale(0.93 1)">200</text>
<line x1="83.9" y1="468.05" x2="81.30000000000001" y2="468.05" stroke="#4a4a4a" stroke-width="1.1"/>
<line x1="83.9" y1="460.1" x2="81.30000000000001" y2="460.1" stroke="#4a4a4a" stroke-width="1.1"/>
<line x1="83.9" y1="452.15" x2="81.30000000000001" y2="452.15" stroke="#4a4a4a" stroke-width="1.1"/>
<line x1="83.9" y1="444.2" x2="81.30000000000001" y2="444.2" stroke="#4a4a4a" stroke-width="1.1"/>
<line x1="83.9" y1="436.25" x2="79.4" y2="436.25" stroke="#4a4a4a" stroke-width="1.1"/>
<text x="0" y="0" font-size="7.6" fill="#333" text-anchor="middle" transform="translate(78.70 436.25) rotate(-90) scale(0.93 1)">250</text>
<line x1="83.9" y1="428.3" x2="81.30000000000001" y2="428.3" stroke="#4a4a4a" stroke-width="1.1"/>
<text x="0" y="0" font-size="7.5" fill="#333" text-anchor="middle" transform="translate(69.20 441.30) rotate(-90) scale(1.0 1)">(x 1,000)</text>
<text x="0" y="0" font-size="7.5" fill="#333" text-anchor="end" transform="translate(322.00 657.00) scale(0.88 1)">(x 1,000)</text>
<path d="M83.9,635.2 V427.1 H322.8 V635.2 Z" fill="none" stroke="#5e5e5e" stroke-width="1.4"/>
<line x1="381.1" y1="635.5" x2="381.1" y2="639.1" stroke="#4a4a4a" stroke-width="1.1"/>
<line x1="390.5" y1="635.5" x2="390.5" y2="639.1" stroke="#4a4a4a" stroke-width="1.1"/>
<line x1="399.9" y1="635.5" x2="399.9" y2="639.1" stroke="#4a4a4a" stroke-width="1.1"/>
<line x1="409.3" y1="635.5" x2="409.3" y2="639.1" stroke="#4a4a4a" stroke-width="1.1"/>
<line x1="418.7" y1="635.5" x2="418.7" y2="641.1" stroke="#4a4a4a" stroke-width="1.1"/>
<text x="0" y="0" font-size="8" fill="#333" text-anchor="middle" transform="translate(418.70 649.30) scale(0.82 1)">50</text>
<line x1="428.1" y1="635.5" x2="428.1" y2="639.1" stroke="#4a4a4a" stroke-width="1.1"/>
<line x1="437.5" y1="635.5" x2="437.5" y2="639.1" stroke="#4a4a4a" stroke-width="1.1"/>
<line x1="446.9" y1="635.5" x2="446.9" y2="639.1" stroke="#4a4a4a" stroke-width="1.1"/>
<line x1="456.3" y1="635.5" x2="456.3" y2="639.1" stroke="#4a4a4a" stroke-width="1.1"/>
<line x1="465.7" y1="635.5" x2="465.7" y2="641.1" stroke="#4a4a4a" stroke-width="1.1"/>
<text x="0" y="0" font-size="8" fill="#333" text-anchor="middle" transform="translate(465.70 649.30) scale(0.82 1)">100</text>
<line x1="475.1" y1="635.5" x2="475.1" y2="639.1" stroke="#4a4a4a" stroke-width="1.1"/>
<line x1="484.5" y1="635.5" x2="484.5" y2="639.1" stroke="#4a4a4a" stroke-width="1.1"/>
<line x1="493.9" y1="635.5" x2="493.9" y2="639.1" stroke="#4a4a4a" stroke-width="1.1"/>
<line x1="503.3" y1="635.5" x2="503.3" y2="639.1" stroke="#4a4a4a" stroke-width="1.1"/>
<line x1="512.7" y1="635.5" x2="512.7" y2="641.1" stroke="#4a4a4a" stroke-width="1.1"/>
<text x="0" y="0" font-size="8" fill="#333" text-anchor="middle" transform="translate(512.70 649.30) scale(0.82 1)">150</text>
<line x1="522.1" y1="635.5" x2="522.1" y2="639.1" stroke="#4a4a4a" stroke-width="1.1"/>
<line x1="531.5" y1="635.5" x2="531.5" y2="639.1" stroke="#4a4a4a" stroke-width="1.1"/>
<line x1="540.9" y1="635.5" x2="540.9" y2="639.1" stroke="#4a4a4a" stroke-width="1.1"/>
<line x1="550.3" y1="635.5" x2="550.3" y2="639.1" stroke="#4a4a4a" stroke-width="1.1"/>
<line x1="559.7" y1="635.5" x2="559.7" y2="641.1" stroke="#4a4a4a" stroke-width="1.1"/>
<text x="0" y="0" font-size="8" fill="#333" text-anchor="middle" transform="translate(559.70 649.30) scale(0.82 1)">200</text>
<line x1="569.1" y1="635.5" x2="569.1" y2="639.1" stroke="#4a4a4a" stroke-width="1.1"/>
<line x1="578.5" y1="635.5" x2="578.5" y2="639.1" stroke="#4a4a4a" stroke-width="1.1"/>
<line x1="587.9" y1="635.5" x2="587.9" y2="639.1" stroke="#4a4a4a" stroke-width="1.1"/>
<line x1="597.3" y1="635.5" x2="597.3" y2="639.1" stroke="#4a4a4a" stroke-width="1.1"/>
<line x1="606.7" y1="635.5" x2="606.7" y2="641.1" stroke="#4a4a4a" stroke-width="1.1"/>
<text x="0" y="0" font-size="8" fill="#333" text-anchor="middle" transform="translate(606.70 649.30) scale(0.82 1)">250</text>
<line x1="616.1" y1="635.5" x2="616.1" y2="639.1" stroke="#4a4a4a" stroke-width="1.1"/>
<line x1="372.0" y1="627.03" x2="369.4" y2="627.03" stroke="#4a4a4a" stroke-width="1.1"/>
<line x1="372.0" y1="619.06" x2="369.4" y2="619.06" stroke="#4a4a4a" stroke-width="1.1"/>
<line x1="372.0" y1="611.09" x2="369.4" y2="611.09" stroke="#4a4a4a" stroke-width="1.1"/>
<line x1="372.0" y1="603.12" x2="369.4" y2="603.12" stroke="#4a4a4a" stroke-width="1.1"/>
<line x1="372.0" y1="595.15" x2="367.5" y2="595.15" stroke="#4a4a4a" stroke-width="1.1"/>
<text x="0" y="0" font-size="7.6" fill="#333" text-anchor="middle" transform="translate(366.80 595.15) rotate(-90) scale(0.93 1)">50</text>
<line x1="372.0" y1="587.18" x2="369.4" y2="587.18" stroke="#4a4a4a" stroke-width="1.1"/>
<line x1="372.0" y1="579.21" x2="369.4" y2="579.21" stroke="#4a4a4a" stroke-width="1.1"/>
<line x1="372.0" y1="571.24" x2="369.4" y2="571.24" stroke="#4a4a4a" stroke-width="1.1"/>
<line x1="372.0" y1="563.27" x2="369.4" y2="563.27" stroke="#4a4a4a" stroke-width="1.1"/>
<line x1="372.0" y1="555.3" x2="367.5" y2="555.3" stroke="#4a4a4a" stroke-width="1.1"/>
<text x="0" y="0" font-size="7.6" fill="#333" text-anchor="middle" transform="translate(366.80 555.30) rotate(-90) scale(0.93 1)">100</text>
<line x1="372.0" y1="547.33" x2="369.4" y2="547.33" stroke="#4a4a4a" stroke-width="1.1"/>
<line x1="372.0" y1="539.36" x2="369.4" y2="539.36" stroke="#4a4a4a" stroke-width="1.1"/>
<line x1="372.0" y1="531.39" x2="369.4" y2="531.39" stroke="#4a4a4a" stroke-width="1.1"/>
<line x1="372.0" y1="523.42" x2="369.4" y2="523.42" stroke="#4a4a4a" stroke-width="1.1"/>
<line x1="372.0" y1="515.45" x2="367.5" y2="515.45" stroke="#4a4a4a" stroke-width="1.1"/>
<text x="0" y="0" font-size="7.6" fill="#333" text-anchor="middle" transform="translate(366.80 515.45) rotate(-90) scale(0.93 1)">150</text>
<line x1="372.0" y1="507.48" x2="369.4" y2="507.48" stroke="#4a4a4a" stroke-width="1.1"/>
<line x1="372.0" y1="499.51" x2="369.4" y2="499.51" stroke="#4a4a4a" stroke-width="1.1"/>
<line x1="372.0" y1="491.54" x2="369.4" y2="491.54" stroke="#4a4a4a" stroke-width="1.1"/>
<line x1="372.0" y1="483.57" x2="369.4" y2="483.57" stroke="#4a4a4a" stroke-width="1.1"/>
<line x1="372.0" y1="475.6" x2="367.5" y2="475.6" stroke="#4a4a4a" stroke-width="1.1"/>
<text x="0" y="0" font-size="7.6" fill="#333" text-anchor="middle" transform="translate(366.80 475.60) rotate(-90) scale(0.93 1)">200</text>
<line x1="372.0" y1="467.63" x2="369.4" y2="467.63" stroke="#4a4a4a" stroke-width="1.1"/>
<line x1="372.0" y1="459.66" x2="369.4" y2="459.66" stroke="#4a4a4a" stroke-width="1.1"/>
<line x1="372.0" y1="451.69" x2="369.4" y2="451.69" stroke="#4a4a4a" stroke-width="1.1"/>
<line x1="372.0" y1="443.72" x2="369.4" y2="443.72" stroke="#4a4a4a" stroke-width="1.1"/>
<line x1="372.0" y1="435.75" x2="367.5" y2="435.75" stroke="#4a4a4a" stroke-width="1.1"/>
<text x="0" y="0" font-size="7.6" fill="#333" text-anchor="middle" transform="translate(366.80 435.75) rotate(-90) scale(0.93 1)">250</text>
<text x="0" y="0" font-size="7.5" fill="#333" text-anchor="middle" transform="translate(357.30 441.20) rotate(-90) scale(1.0 1)">(x 1,000)</text>
<text x="0" y="0" font-size="7.5" fill="#333" text-anchor="end" transform="translate(618.50 657.30) scale(0.88 1)">(x 1,000)</text>
<path d="M372.0,635.5 V427.0 H619.3 V635.5 Z" fill="none" stroke="#5e5e5e" stroke-width="1.4"/>
<line x1="322.6" y1="434" x2="322.6" y2="598" stroke="#3a3a98" stroke-width="1.3" stroke-opacity="0.85"/>
<line x1="619.2" y1="436" x2="619.2" y2="596" stroke="#3a3a98" stroke-width="1.2" stroke-opacity="0.6"/>
<text x="87.3" y="452.3" font-size="24" fill="#111" text-anchor="start">C</text>
<text x="376.0" y="450.5" font-size="24" fill="#111" text-anchor="start">D</text>
<text x="0" y="0" font-size="25" fill="#111" transform="translate(123.3 588.2) scale(0.975 1)">0.3%</text>
<polygon points="207,452.7 249.7,454.3 257.3,491.5 241.5,501.9 208,502.5 196.6,487.7" stroke="#555" stroke-width="1.25" fill="none" stroke-linejoin="miter"/>
<polygon points="108.9,534.2 130.3,554.7 115.4,572.9 93.8,617.4 85.3,617.4 98.1,560.9" stroke="#707070" stroke-width="1.25" fill="none" stroke-linejoin="miter"/>
<polygon points="499.3,452.3 543.6,454.2 552.4,491.4 532.6,503.6 502.8,503.1 487,487.3" stroke="#555" stroke-width="1.25" fill="none" stroke-linejoin="miter"/>
<polygon points="397.3,534 420.4,554.2 403.9,573 381,618 373.1,618 386.6,560.4" stroke="#606060" stroke-width="1.25" fill="none" stroke-linejoin="miter"/>
<text x="0" y="0" font-size="7.8" fill="#333" text-anchor="middle" transform="translate(203.2 446.4) scale(0.95 1)">NSP</text>
<text x="0" y="0" font-size="8" fill="#404040" text-anchor="middle" transform="translate(99.7 532.7) scale(0.95 1)">SP</text>
<text x="0" y="0" font-size="7.8" fill="#333" text-anchor="middle" transform="translate(495.8 446.2) scale(0.95 1)">NSP</text>
<text x="0" y="0" font-size="8" fill="#404040" text-anchor="middle" transform="translate(388.0 532.5) scale(0.95 1)">SP</text>
</svg>
</body></html>
